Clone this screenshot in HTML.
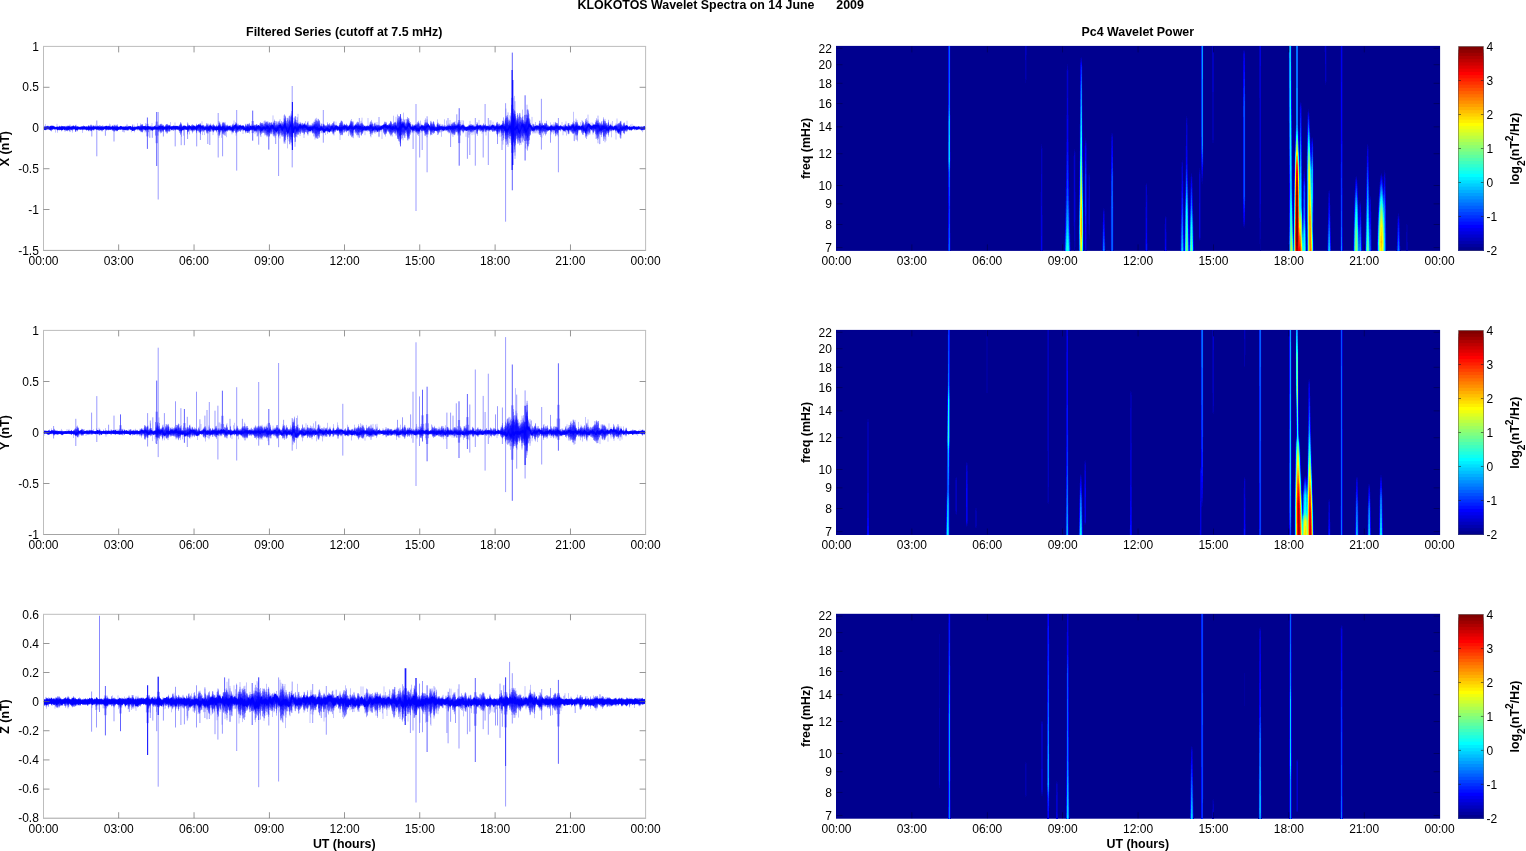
<!DOCTYPE html>
<html><head><meta charset="utf-8"><title>KLOKOTOS Wavelet Spectra</title>
<style>html,body{margin:0;padding:0;background:#fff;overflow:hidden}svg{display:block;will-change:transform}</style></head>
<body>
<svg width="1526" height="851" viewBox="0 0 1526 851" font-family="Liberation Sans, sans-serif" fill="#000">
<rect width="1526" height="851" fill="#fff"/>
<text x="577.6" y="9.4" text-anchor="start" font-size="12.4" font-weight="bold" >KLOKOTOS Wavelet Spectra on 14 June</text>
<text x="836.3" y="9.4" text-anchor="start" font-size="12.4" font-weight="bold" >2009</text>
<text x="344.2" y="36.3" text-anchor="middle" font-size="12.4" font-weight="bold" >Filtered Series (cutoff at 7.5 mHz)</text>
<text x="1137.8" y="36.3" text-anchor="middle" font-size="12.4" font-weight="bold" >Pc4 Wavelet Power</text>
<g>
<path d="M45 125.8v2.2m.5-3.9v3.9m10 0v4.6m1.5-8.8v4.2m.5 0v4.7m7.5-4.7v4m.5-4v3m.5-5.3v2.3m6.5 0v4.6m3-4.6v4m1.5-4v3.3m.5-3.3v3.3m5-3.3v4.9m1-7.8v2.9m5 0v3.1m1.5-5.5v2.4m5.5-3.3v3.3m2-2.8v2.8m5.5-2.4v2.4m4-2.5v2.5m2-2.8v2.8m.5-4.4v4.4m1-3.5v3.5m3 0v3m4-6.8v3.8m5 0v3.9m1-3.9v4.2m1-4.2v4.4m2.5-8.5v4.1m4.5 0v4.3m2.5-7.7v3.4m.5 0v4.3m3-9v4.7m3-4.7v4.7m4.5 0v4.5m.5-9.4v4.9m6.5-4.9v4.9m8-3.7v3.7m6.5 0v3.9m4-9.8v5.9m4.5-5.5v5.5m6-5.4v5.4m.5 0v8.7m2-8.7v7.7m6-7.7v6.4m12.5-13v6.6m.5 0v7.1m2-7.1v7.1m8.5-7.1v7.1m5-7.1v7.3m1-7.3v9.8m2.5-9.8v9.8m3-9.8v7.6m1-7.6v8m1-8v9.2m5.5-9.2v6.4m2-13.9v7.5m1.5-5.9v5.9m.5 0v7.7m7-7.7v6m12-6v6.2m2-6.2v8.5m.5-8.5v8.4m.5-8.4v7.8m1-7.8v6.3m1.5-6.3v8.4m.5-8.4v9.1m3-15.9v6.8m4-6.7v6.7m5-12.6v12.6m12 0v14.6m.5-25.8v11.2m2 0v20.4m8.5-31.7v11.3m1.5-10.8v10.8m.5-14.2v14.2m6 0v10m1.5-16.9v6.9m8 0v8.4m.5-15.2v6.8m1 0v11.6m1.5-21.8v10.2m9 0v7.1m10.5-13.5v6.4m4 0v12m8.5-12v8.1m2.5-14.4v6.3m.5-9v9m1 0v9.5m.5-16.6v7.1m.5 0v10.2m4.5-10.2v9.3m4-19.6v10.3m3 0v7.2m3-17.2v10m3 0v9.4m.5-17.5v8.1m.5 0v7m5-13v6m2 0v9.2m3-9.2v11m3.5-11v8.6m4.5-8.6v5.9m.5-12.2v6.3m2 0v8.5m1-20.8v12.3m2.5-11.2v11.2m7.5-15.4v15.4m3-9.1v9.1m1 0v10.6m1-10.6v10.8m12-18.2v7.4m5-9.7v9.7m12-8.6v8.6m4 0v8.8m3-17.5v8.7m2-7.5v7.5m3.5-8v8m3 0v9m4.5-14.5v5.5m3-6.3v6.3m1.5-7.9v7.9m1.5-7.5v7.5m2.5 0v8.8m2.5-8.8v9.7m.5-9.7v6.9m1-14v7.1m.5 0v5.6m1.5-5.6v7.2m2-7.2v6.6m3.5-6.6v7.9m1.5-16v8.1m3 0v5.8m4-5.8v7.5m4-15.2v7.7m1-7.7v7.7m2-6.3v6.3m4-4.7v4.7m.5 0v8.5m2.5-8.5v8.9m1.5-8.9v8.5m.5-8.5v13.1m1-13.1v16.6m3-36v19.4m8.5-32.1v32.1m8-18.4v18.4m3 0v20.4m6.5-31.5v11.1m3.5-6v6m5 0v9m1.5-9v9.6m1.5-9.6v7.4m7-13v5.6m.5 0v6.5m2.5-6.5v6.3m.5-12v5.7m4 0v8.4m4-14.3v5.9m1 0v7.3m3-14v6.7m.5 0v7.6m2-7.6v6.3m5-22.5v16.2m.5 0v13m.5-13v13.2m3-13.2v13.4m3-19.2v5.8m1.5-7.9v7.9m6-13.4v13.4m4-5.7v5.7m7.5 0v16.2m.5-16.2v15.9m6-15.9v12.8m5-18.2v5.4m.5 0v9.3m1-16.3v7m3.5 0v11.6m1-21.1v9.5m3.5-6.8v6.8m6.5-7.3v7.3m3.5-3.4v3.4m1.5-4.2v4.2m10.5 0v4.2" stroke="#0000ff" stroke-opacity="0.4" stroke-width="0.6" fill="none"/>
<path d="M44 125.9v4m.5-3.5v3.4m.5-3.3v2.9m.5-2.8v2.8m.5-3.3v4m.5-3.5v3m.5-2.8v2.4m.5-2.4v2.4m.5-2.4v2.4m.5-2.4v2.4m.5-2.4v2.4m.5-2.7v3.3m.5-3.7v4m.5-4.4v4.9m.5-4.9v5.3m.5-5.8v6.2m.5-5.5v4.2m.5-3.7v3.6m.5-3.6v3.2m.5-2.8v2.4m.5-2.4v2.4m.5-2.5v2.9m.5-2.8v2.4m.5-2.4v2.4m.5-2.4v2.6m.5-2.6v2.4m.5-2.4v2.6m.5-2.7v2.5m.5-2.7v3m.5-2.7v2.4m.5-3v3.8m.5-4.3v4.8m.5-4.1v3.7m.5-3.8v3.2m.5-3.3v3.9m.5-4.5v5.7m.5-5v3.7m.5-3.4v3.2m.5-3v2.4m.5-2.4v2.4m.5-3v3.7m.5-3.7v3.7m.5-3.6v4.2m.5-4.2v3.8m.5-3.9v3.5m.5-3.6v4.7m.5-4.6v4.1m.5-4.6v5.6m.5-5.6v4.4m.5-4.3v4.4m.5-4.5v4.9m.5-4.8v5m.5-6.3v7.6m.5-5.7v3.6m.5-3.2v2.5m.5-2.9v3.3m.5-4v5.2m.5-5.2v4.7m.5-3.6v2.4m.5-2.7v3.4m.5-3.1v2.4m.5-2.7v3m.5-3.8v4.3m.5-4.9v6.8m.5-7.3v6.9m.5-5.2v3.6m.5-3.6v3.8m.5-3.9v4.4m.5-4.2v3.3m.5-2.9v2.6m.5-2.6v2.4m.5-2.4v2.4m.5-2.4v2.9m.5-2.9v2.4m.5-2.9v3.3m.5-2.8v2.4m.5-2.5v2.8m.5-3.1v3.7m.5-3.9v4.1m.5-3.6v2.6m.5-2.6v3.3m.5-3.2v2.4m.5-2.4v2.4m.5-2.4v2.4m.5-2.8v2.9m.5-2.7v2.9m.5-3.5v4.4m.5-4v3.4m.5-3.2v3.1m.5-4.5v5.6m.5-5.3v5.8m.5-4.8v3.8m.5-3.8v3.4m.5-4.6v5.7m.5-6.7v7m.5-6v5.8m.5-5.5v4.6m.5-3.9v3.5m.5-4.5v5m.5-4.8v5.1m.5-5.3v5.1m.5-3.6v2.4m.5-2.4v2.4m.5-2.4v2.5m.5-2.5v2.4m.5-2.4v2.6m.5-2.6v2.4m.5-3v3.8m.5-3.7v3.4m.5-4v4.9m.5-4.1v3.6m.5-4.7v5.6m.5-5.9v5.4m.5-4.2v4m.5-3.8v3m.5-3.6v5.4m.5-5.3v4.7m.5-5.4v6.1m.5-4.9v3.3m.5-3.4v3.5m.5-3.1v2.4m.5-2.4v2.4m.5-2.6v2.8m.5-2.8v3m.5-3.6v4m.5-4.2v4.9m.5-4.5v4.1m.5-3.5v2.7m.5-3.2v3.2m.5-3.5v4.3m.5-4.5v4.3m.5-3.4v3m.5-2.9v2.5m.5-2.7v3m.5-2.8v2.4m.5-2.4v2.6m.5-3.7v4.6m.5-5.2v5.7m.5-4.8v4.7m.5-4.3v3.8m.5-5.6v7.3m.5-7v6.6m.5-5.4v3.7m.5-5v6.3m.5-4.9v4.1m.5-5.5v6.3m.5-5.6v5.9m.5-5.8v5.2m.5-4v2.4m.5-2.4v3m.5-3.5v3.4m.5-2.9v2.4m.5-2.4v2.4m.5-2.9v3.3m.5-2.8v2.4m.5-2.4v2.4m.5-2.4v2.4m.5-2.6v3.5m.5-3.7v3.7m.5-4v4.3m.5-3.6v2.6m.5-2.9v3.3m.5-3v2.4m.5-3.3v4.6m.5-4.5v4.1m.5-3.5v3m.5-4.3v5.6m.5-4.4v3.1m.5-2.8v2.6m.5-3.4v4.5m.5-4.6v4.2m.5-3.3v2.4m.5-2.8v3.7m.5-3.5v3.5m.5-3.3v2.4m.5-2.4v2.6m.5-3.4v4.1m.5-5.7v6.6m.5-4.5v3m.5-2.7v2.4m.5-2.4v2.4m.5-2.5v2.7m.5-3.2v3.5m.5-3.1v3.2m.5-3v2.4m.5-2.4v2.4m.5-2.6v3.2m.5-3.9v4.5m.5-3.6v2.4m.5-2.5v2.8m.5-3.2v4.1m.5-4.4v4.5m.5-5.2v5.8m.5-5.7v5.8m.5-6.7v7.7m.5-7.5v7m.5-7.6v8.2m.5-8.1v8.2m.5-6.8v5.5m.5-4.3v2.5m.5-3v3.6m.5-3.9v3.7m.5-3.9v4.7m.5-5.1v5.6m.5-4.8v4.4m.5-3.8v2.4m.5-3.4v4.7m.5-4v3.6m.5-4.2v4.4m.5-3.5v2.4m.5-3.1v3.8m.5-3.9v3.7m.5-2.9v2.4m.5-3.1v4.2m.5-4.9v5.7m.5-4.3v2.4m.5-2.8v3.8m.5-4v4m.5-3.8v3.6m.5-3.4v2.6m.5-2.4v2.4m.5-2.9v3.2m.5-3.3v3.6m.5-3.1v2.8m.5-2.9v3.4m.5-3.3v2.7m.5-3v3.5m.5-3.1v2.5m.5-3.3v4.4m.5-5.6v7.1m.5-5.6v3.4m.5-4.4v5.6m.5-6.3v8m.5-8.8v9.6m.5-8.7v7.2m.5-8.2v9.3m.5-8.6v7.8m.5-7.6v7m.5-6.3v5.7m.5-6.1v6.8m.5-4.9v2.4m.5-2.4v2.4m.5-2.9v3.8m.5-4.9v6.5m.5-7.2v8m.5-8.4v7.2m.5-7.2v9.9m.5-10.1v8.9m.5-7.7v6.7m.5-6.2v5.3m.5-6.3v7.3m.5-6.6v6.3m.5-6.6v6.4m.5-4.6v2.6m.5-2.9v3m.5-3.4v4.2m.5-4.2v4.2m.5-4.1v3.9m.5-4.4v4.8m.5-4.6v4.9m.5-4v2.6m.5-3.6v4.4m.5-4.4v4.2m.5-4v4.5m.5-4.1v3.1m.5-3.2v3.3m.5-2.8v2.6m.5-3.5v4.1m.5-3.5v3.3m.5-3.4v3.6m.5-4.5v5.6m.5-6.4v8.2m.5-8.5v6.8m.5-9.1v12.8m.5-11.6v10.3m.5-9.7v8.7m.5-7.5v5.4m.5-4.2v3.6m.5-3.4v3.3m.5-4.1v4.8m.5-4.8v4.7m.5-3.6v2.4m.5-2.6v3.5m.5-4v3.9m.5-3.6v2.9m.5-2.7v3.4m.5-4v4m.5-7.6v11.9m.5-10.9v8.8m.5-7.5v7.3m.5-5.8v4.6m.5-5.1v4.7m.5-3.6v2.4m.5-3v4.6m.5-4.6v3.5m.5-4.6v5.8m.5-6.4v7.2m.5-7.4v9m.5-8.4v6.9m.5-6.8v5.6m.5-5.2v5.9m.5-5.5v4.9m.5-4v3.2m.5-3.6v3.5m.5-4.4v5.9m.5-7.6v9.5m.5-8.1v5.8m.5-5.2v5.4m.5-5.7v5.3m.5-6.1v6.8m.5-7.3v8.4m.5-8.5v8.4m.5-9.2v9.7m.5-9.6v10.8m.5-8.8v6.6m.5-6.6v6.1m.5-6.3v5.5m.5-5.2v5.5m.5-5.9v6.7m.5-6.8v7.3m.5-6.4v4.6m.5-4.1v3.9m.5-4.8v5.8m.5-5.4v4.2m.5-3.7v3.9m.5-6.9v10.1m.5-9.9v9.4m.5-8.1v7.4m.5-8.7v10.3m.5-8v4.9m.5-5.3v6.5m.5-7.4v7.7m.5-7v6.2m.5-7.9v8.2m.5-7.2v7.2m.5-6.1v4.6m.5-3.4v2.8m.5-4.5v5.7m.5-6.6v7.9m.5-8.4v8.6m.5-7.2v6.2m.5-6.1v5.5m.5-3.9v2.8m.5-3.7v4.2m.5-3.4v2.6m.5-4.7v7.9m.5-6.7v4.3m.5-3.4v2.9m.5-4v4.5m.5-5v6.8m.5-10.9v14.9m.5-13.4v13.1m.5-13.2v12.3m.5-10.4v7.8m.5-5.5v3.1m.5-3.8v4.4m.5-6.4v7.9m.5-9.1v11.2m.5-12v12.3m.5-11.8v12m.5-11.9v12.2m.5-11.5v9.4m.5-10.7v12.8m.5-10.1v7.5m.5-6.6v5.6m.5-5.7v5.2m.5-5.9v7m.5-7v6.8m.5-5.4v4.8m.5-4.4v3.4m.5-4.5v5.4m.5-4.9v4.2m.5-4.1v5.1m.5-6.1v6.2m.5-4.7v3.2m.5-2.9v3m.5-4.6v7.3m.5-8.7v8.4m.5-7.5v8.4m.5-9.5v8.9m.5-6.8v5.4m.5-5.8v5.7m.5-4.2v2.9m.5-5.9v9.1m.5-10.2v9.9m.5-9.7v10.7m.5-9.6v8.8m.5-7.8v6.7m.5-8.1v8.5m.5-7.5v6.9m.5-5.9v4.8m.5-4.6v5.3m.5-6.2v6.5m.5-6.9v7.3m.5-5.9v4.3m.5-4.1v4.4m.5-4.5v4.3m.5-3.5v2.6m.5-3.8v5.5m.5-5.7v5.4m.5-4.6v3.9m.5-3.3v2.6m.5-3.5v4.8m.5-6.9v9.5m.5-8.4v7.3m.5-6.6v5.2m.5-7v9.1m.5-8.9v9m.5-9.3v9m.5-8.9v9.1m.5-8.4v7.3m.5-8.9v10.6m.5-8.8v6.2m.5-5v4.2m.5-3.7v3.2m.5-2.8v2.8m.5-2.9v3.2m.5-3.7v3.5m.5-4.5v5.7m.5-4.2v3.2m.5-5.1v7.4m.5-7.2v6.5m.5-6.2v6.3m.5-6.6v6.1m.5-6.7v8.3m.5-8.5v8.2m.5-8.3v7.4m.5-5.1v3.6m.5-4.9v7.1m.5-7v5.3m.5-4.3v3.7m.5-4.5v6m.5-8.2v9.8m.5-11v12.9m.5-11.6v10m.5-10.4v10.9m.5-10.6v10.2m.5-10.6v10m.5-9.9v9.6m.5-8.4v8.8m.5-6.3v2.8m.5-5.4v9.3m.5-12.9v15.2m.5-12.9v10.5m.5-11.5v13.3m.5-13v13.6m.5-14.5v16.1m.5-14.7v13.3m.5-13.3v12.6m.5-11.3v9.8m.5-10.9v10.4m.5-11.1v13.8m.5-12.8v11.6m.5-11.5v10.6m.5-11.8v12.2m.5-11.8v11.9m.5-10v9.2m.5-7.3v4m.5-7.6v12.9m.5-13.7v14.7m.5-13.5v12.5m.5-15.8v16.7m.5-15.2v16.6m.5-12.4v5.2m.5-9.4v14.9m.5-11.7v8.3m.5-11.4v14m.5-11.1v9.3m.5-9.9v10.4m.5-12.7v16.1m.5-15.1v11.9m.5-13.2v14.8m.5-16.4v19.2m.5-15.4v10.1m.5-8v6.3m.5-10.5v15.5m.5-14.8v13.1m.5-12.3v14.1m.5-14v14m.5-15v14.8m.5-21v28.1m.5-29.2v27.3m.5-26.3v28.6m.5-27.7v23.9m.5-22.2v19.6m.5-16.7v14.6m.5-11.6v8.9m.5-14.9v21.4m.5-21.2v19.1m.5-15.3v13.7m.5-19.1v24.8m.5-25.3v28.2m.5-28.7v29m.5-27.2v22.3m.5-26v29.5m.5-31.9v31.2m.5-27.3v30.5m.5-26.1v20.4m.5-18.5v12.1m.5-9.3v9.2m.5-8.9v8.2m.5-15v20.3m.5-21.6v30.5m.5-30.7v25.6m.5-21.7v15.5m.5-13.6v14.8m.5-16.7v17.4m.5-14.4v12m.5-12.4v11.3m.5-11.1v12.2m.5-11v8m.5-7.3v7.7m.5-10.6v14.1m.5-13.3v11.2m.5-7.7v4.5m.5-5.8v7.1m.5-9.2v10.3m.5-9.9v9.7m.5-7.7v6.2m.5-6.9v8.6m.5-9.9v11.5m.5-11.8v11.4m.5-9.6v7.7m.5-8v7.7m.5-7.7v8m.5-8.5v8.9m.5-6.6v3.9m.5-7.7v12m.5-13.2v14.5m.5-11.1v7.6m.5-5.4v3m.5-4.7v6.8m.5-7.4v8.4m.5-7.8v6.3m.5-5.4v4.2m.5-5v5.8m.5-7.5v9.1m.5-8.3v9.5m.5-11v10.3m.5-8.7v8.8m.5-10.8v11.3m.5-11.5v11.8m.5-14.2v16.8m.5-17.9v19.1m.5-17.2v17.9m.5-17.7v17.6m.5-18.6v18.1m.5-16.8v17.9m.5-20.2v19.9m.5-19.6v17m.5-15v16.7m.5-17.6v17.3m.5-14.8v10.7m.5-7.6v4.9m.5-5.3v5.9m.5-7.8v9.7m.5-7v3.5m.5-3.5v4.4m.5-6.9v9.7m.5-9.1v8.3m.5-8.6v8.3m.5-7.4v7.5m.5-7.1v6m.5-5.5v4.9m.5-5.4v6.3m.5-6.2v4.9m.5-3.6v3.1m.5-7.4v11.6m.5-9.3v6.7m.5-7.1v7.9m.5-8v8.4m.5-9.5v9.4m.5-6.9v6.2m.5-6.3v5.5m.5-6.7v7.7m.5-7.1v6.8m.5-7.3v7.6m.5-8.8v10.3m.5-10.4v11.3m.5-11.9v11.8m.5-13.1v14.4m.5-11.2v7.6m.5-7.2v7m.5-6.9v7.3m.5-5.8v3.4m.5-3.3v3.5m.5-5.1v6.2m.5-4.8v4.2m.5-4.3v4.2m.5-3.9v3.5m.5-4.7v6m.5-8.2v10.5m.5-10v9.8m.5-11.4v13.3m.5-14.5v14.5m.5-14.6v14.2m.5-13.8v14m.5-13.3v13.6m.5-10.5v7.3m.5-6.1v4.2m.5-6.6v9.4m.5-8.9v7.8m.5-7.2v6.2m.5-5.1v5.5m.5-6.6v7m.5-8.1v8.8m.5-7.1v6m.5-6.5v6.4m.5-4.5v3m.5-4.1v5.4m.5-5.7v5.1m.5-5.8v7m.5-8.8v11.7m.5-14v14.9m.5-14.2v14.5m.5-14.5v15.6m.5-15.3v15.9m.5-15.7v14.2m.5-14v14.5m.5-11v6.1m.5-5.2v3.7m.5-4v4m.5-5.4v8.3m.5-8.9v9.6m.5-9.9v8.6m.5-9.6v12.5m.5-12.7v11.1m.5-12v13.1m.5-12.7v13.6m.5-13.4v12.9m.5-11.5v9.1m.5-8.3v8.4m.5-7.7v6.4m.5-8v8.8m.5-11.5v14.4m.5-12.3v12.8m.5-12.5v10.6m.5-11.1v11.2m.5-9.9v8.6m.5-7.8v6.6m.5-5.1v4.1m.5-4.8v5.3m.5-5.4v5.7m.5-4.6v3.4m.5-4.2v4.8m.5-4.8v4.7m.5-4.9v6m.5-6.3v6m.5-5.3v4.5m.5-4.5v4.1m.5-4.9v6.3m.5-6.9v6.7m.5-8.8v11.6m.5-12.5v14.6m.5-14.8v12.4m.5-9.2v8.4m.5-11.1v12.4m.5-10.9v9.8m.5-9.3v9.1m.5-7.3v5.8m.5-5.5v4.1m.5-6.7v9.2m.5-10.2v11.3m.5-9.3v7.5m.5-5.8v4.1m.5-5.8v8.1m.5-7.5v6.8m.5-6.8v6.7m.5-7.4v7.7m.5-6.9v6.4m.5-6.6v6.8m.5-6.7v6.8m.5-6v4.5m.5-4.7v4.6m.5-5.1v6.7m.5-5.9v4.1m.5-3.7v3.7m.5-3.2v2.4m.5-2.4v2.5m.5-5.6v9.6m.5-9.1v8.5m.5-11v12.7m.5-12.6v13.3m.5-12.8v11.5m.5-12v11.8m.5-11v11.2m.5-8.7v6.8m.5-5.8v4.6m.5-6.2v7.1m.5-7.1v7.3m.5-8v8.8m.5-9.4v10.4m.5-10.5v11.5m.5-13.7v14.6m.5-14.5v15.4m.5-14.3v13.1m.5-11.3v9.9m.5-9.8v9.2m.5-8.7v7.8m.5-9.2v9.5m.5-9.3v9.4m.5-10.4v11.2m.5-11.8v12.1m.5-11.7v11.3m.5-10.5v12.9m.5-11v6.3m.5-9.6v13.9m.5-20.9v24.5m.5-19.2v19.2m.5-23v24.7m.5-24.1v24.8m.5-25.3v25.5m.5-24.2v27m.5-29v27.7m.5-25.6v20.5m.5-19.3v20.6m.5-16.7v10m.5-11.7v17.3m.5-19.3v21.4m.5-18.7v13.8m.5-13.1v12.3m.5-14.6v17.8m.5-18.8v18.8m.5-14.3v9.4m.5-6.8v3.6m.5-7.4v11.3m.5-14.1v16.4m.5-18.9v23.2m.5-21.6v22m.5-22.5v20.3m.5-19.8v20.9m.5-18.3v17.3m.5-14.7v9.7m.5-11.5v12.7m.5-7.9v3m.5-3.4v3.8m.5-6.3v9.2m.5-8.6v7.9m.5-7.2v6.7m.5-6v4.5m.5-5.9v8.8m.5-8v5.6m.5-5.8v6.6m.5-7.6v7.5m.5-7.6v8.5m.5-8.3v8.4m.5-9.8v10.6m.5-11.5v13m.5-11.6v9.6m.5-12.1v15.1m.5-13.5v11.4m.5-9.8v8.2m.5-5.9v3.9m.5-3.8v3m.5-5.7v9.1m.5-7.7v6m.5-6.7v7.2m.5-6.3v5.9m.5-6.2v6m.5-5.4v4.9m.5-5.2v6.2m.5-8.1v9.3m.5-12.8v16.2m.5-13.4v12.9m.5-13.5v12m.5-11.3v12.1m.5-15.5v17.9m.5-14.7v10.9m.5-9.9v11.2m.5-8.9v4.4m.5-4.7v5m.5-5.5v6.2m.5-5.4v4.5m.5-9v14m.5-14.6v14.2m.5-13.1v12.5m.5-10.8v11.5m.5-11.5v9.2m.5-10.7v11m.5-12.1v12.9m.5-11.5v10.9m.5-9.4v9m.5-7.5v5.5m.5-4.4v3.3m.5-3v2.6m.5-2.6v3.1m.5-5.7v7.3m.5-8.9v12.4m.5-12.3v10.3m.5-9.6v11.1m.5-9.5v6.5m.5-7.3v8.1m.5-8.6v8.9m.5-6.2v3.1m.5-3.4v4.1m.5-3.4v2.4m.5-5v7.6m.5-5.8v3.9m.5-5.3v7m.5-5.6v4.8m.5-4.1v2.7m.5-3.8v5m.5-5.5v5.9m.5-4.4v3.1m.5-3.8v5.3m.5-5v3.6m.5-3.1v2.7m.5-4.1v6.3m.5-7.2v7.9m.5-6.7v6.2m.5-8.4v10m.5-9v8.3m.5-6.4v3.4m.5-4v4.8m.5-6.7v8.7m.5-8.4v9.2m.5-10.8v12.8m.5-12.5v11.2m.5-9.7v9.3m.5-11.4v12.2m.5-12.2v12.8m.5-13v13.2m.5-13.9v13.4m.5-10.5v8.2m.5-7.7v7.3m.5-7.3v7.5m.5-7.9v8.2m.5-7.2v6.5m.5-8.5v10.4m.5-11.1v10.5m.5-11.1v12.5m.5-10.4v8.2m.5-7.7v7.6m.5-6v3.9m.5-4.6v5.3m.5-4.3v3.6m.5-5.7v7m.5-6.5v6.5m.5-7.9v9.9m.5-8.8v8m.5-7.8v6.7m.5-5.8v4.7m.5-3.9v3m.5-2.9v2.6m.5-2.6v2.8m.5-2.6v2.5m.5-2.8v3.4m.5-3.7v4.1m.5-3.7v2.9m.5-4v6.1m.5-7.1v7m.5-6.4v5.4m.5-5.7v6.8m.5-7.2v7.5m.5-7.7v7.8m.5-7.5v7.9m.5-8v8.5m.5-8v7m.5-6.2v4.8m.5-5.7v6.8m.5-6.9v7.7m.5-5.7v3.1m.5-3.5v3.5m.5-3v2.4m.5-2.4v2.4m.5-5.2v9.7m.5-11.6v12.2m.5-11.4v11m.5-8.7v5.8m.5-5v3.9m.5-3.1v2.4m.5-3.5v5.5m.5-4.6v3.4m.5-4.4v5.9m.5-7v6.9m.5-5.7v5.1m.5-5.7v5.8m.5-5.8v7.1m.5-7.4v6.4m.5-7.9v8.5m.5-7v7.5m.5-5.8v3.1m.5-4.7v6.4m.5-7.3v7.8m.5-6.8v7.3m.5-6.4v4.7m.5-4.8v5.3m.5-5.3v4.3m.5-4.6v5.3m.5-5v5.1m.5-4.6v3.4m.5-5v6.6m.5-6.8v7m.5-4.7v2.4m.5-2.4v2.4m.5-3.6v5m.5-5.3v5.5m.5-6.2v7.2m.5-6.8v7m.5-7.2v6.4m.5-6.3v6.5m.5-6.8v7.1m.5-5.5v4.4m.5-5.4v6m.5-5.6v5.5m.5-8.3v11m.5-11.6v12.2m.5-12.5v12.8m.5-10.9v10.4m.5-9.6v7.6m.5-8.8v10.4m.5-9.9v8.5m.5-6.5v4.8m.5-5.4v5.2m.5-6.1v8.7m.5-8.9v9.3m.5-8.1v5.6m.5-10.3v14.8m.5-14.6v14.2m.5-17.7v22.8m.5-17v9.1m.5-8.3v8.6m.5-13v19.1m.5-20.2v20.5m.5-22.6v25.7m.5-26.4v29.3m.5-27.6v23.3m.5-25.7v28.8m.5-31.4v34.5m.5-26.7v17.3m.5-13.1v8.2m.5-13.1v19m.5-23.3v27.7m.5-21v14.1m.5-12.6v9.2m.5-10.6v12.3m.5-18.6v23.4m.5-16.8v13.3m.5-18.4v22.7m.5-23.6v25.6m.5-31.2v41.8m.5-42.1v39.1m.5-48.3v57.7m.5-44.9v31.3m.5-29.5v24.7m.5-21.1v19.4m.5-20.8v20.7m.5-25.7v30.7m.5-29.2v25.5m.5-23.3v26.8m.5-26.1v24.3m.5-28.6v32.2m.5-32.4v30.2m.5-26.3v26.2m.5-25.7v27.5m.5-26.9v18.8m.5-17.5v19.1m.5-21.5v24.7m.5-25.1v26.3m.5-22.7v19.8m.5-16.5v10.3m.5-11.9v13.7m.5-11.8v10.5m.5-12.3v14.5m.5-16v18.2m.5-24v29.4m.5-39.2v44.8m.5-40.1v41.3m.5-41.4v38m.5-36.8v35.6m.5-31.9v29.8m.5-25.5v21.4m.5-20.2v16.1m.5-12.7v11.9m.5-10v6.2m.5-5.9v6.3m.5-5.6v4.6m.5-3.9v2.7m.5-5.7v9.9m.5-9.7v8m.5-5.7v3.5m.5-4v5.8m.5-7.4v9.4m.5-7.2v3.8m.5-3.7v3.4m.5-4.6v6m.5-6.5v8.6m.5-7.2v4.1m.5-4.5v4.6m.5-4.2v4.6m.5-7.2v10.8m.5-13.4v14m.5-14.3v14.5m.5-12.3v12.1m.5-10.8v7.2m.5-5.9v6.4m.5-8.5v9.8m.5-10.4v10.7m.5-8.1v6.8m.5-7v6m.5-6.1v6.9m.5-8.9v10.8m.5-10.7v9.5m.5-9.7v12.6m.5-11.3v7.4m.5-10.8v13.3m.5-10.1v7.9m.5-6.9v6.6m.5-5.5v3.9m.5-4.6v4.8m.5-4v4m.5-4v3.9m.5-3.3v2.9m.5-4.5v5.7m.5-5.7v6.4m.5-7v7.3m.5-7.3v8.3m.5-7v4.3m.5-6v7.5m.5-5.3v3.2m.5-4.7v6.4m.5-5.2v4.5m.5-6.5v9.6m.5-11.8v14.4m.5-13.3v12.8m.5-13v11m.5-10.5v10.9m.5-11.1v11.7m.5-10.9v9.1m.5-6.5v3.8m.5-4.9v5m.5-4.5v4.4m.5-3.9v3.7m.5-5.2v6.5m.5-6.1v5.1m.5-3.6v2.4m.5-2.8v3.2m.5-3.4v3.3m.5-2.7v2.4m.5-3.8v5.4m.5-5.7v6.9m.5-5.7v3.4m.5-6v8.6m.5-7.9v7.8m.5-6.9v5.2m.5-3.7v2.4m.5-2.8v3.5m.5-4v5m.5-7.5v10.4m.5-10.8v10.5m.5-10.5v11.1m.5-8.2v3.9m.5-5v6.4m.5-5.3v4.6m.5-6.1v7.6m.5-7.4v7.1m.5-7.7v9.1m.5-10.7v11.3m.5-10.1v10.1m.5-11v11.2m.5-13v12.8m.5-10v9.1m.5-8.2v7.6m.5-10.3v13.3m.5-16.6v21m.5-18v12.9m.5-14.3v19.9m.5-18.1v13.1m.5-11v9.3m.5-7.2v4.2m.5-4.3v4.3m.5-4.5v4.6m.5-4.8v4.3m.5-3.9v4.5m.5-4v3m.5-4.8v8.3m.5-7.7v5.6m.5-9.9v13.9m.5-11.9v10.1m.5-11.4v13.1m.5-11v8.9m.5-8.3v7.7m.5-8.9v9.3m.5-13.5v18.6m.5-15.4v12.1m.5-16.2v20.8m.5-18.8v16.4m.5-12v8.8m.5-12.1v14.2m.5-12.4v9.1m.5-8.5v11m.5-10.5v8.6m.5-10.1v11.7m.5-7.9v3.1m.5-4v5m.5-5.2v5.1m.5-3.9v3.3m.5-4.6v5.6m.5-7.7v11.3m.5-10.3v8.7m.5-8.1v7.6m.5-7.1v5.9m.5-4.9v3.5m.5-7.7v11.7m.5-13.7v18.9m.5-20.7v20.2m.5-17.9v13.7m.5-13.7v19.1m.5-24.1v27.7m.5-22.7v18.2m.5-15.9v10.6m.5-11.4v12.2m.5-10.7v8.6m.5-9.5v12.3m.5-11.4v10.4m.5-12.8v15.9m.5-13.3v9m.5-8.7v8.5m.5-11.7v13.8m.5-17.3v23.6m.5-20.7v18.3m.5-17.8v15.5m.5-17.4v23.4m.5-21v15.6m.5-13.5v10.4m.5-10.9v11.8m.5-9.2v6m.5-6.8v8.5m.5-10.5v11.9m.5-14.8v16.8m.5-12.2v8.3m.5-6.4v4m.5-5.7v7.6m.5-6.7v5.4m.5-5.3v5.4m.5-5.3v5.2m.5-5.4v5.8m.5-5.1v3.6m.5-4.2v5.3m.5-4.7v3.9m.5-3.3v2.4m.5-3.1v4m.5-4.9v5.4m.5-5.6v6.4m.5-8v9.5m.5-8.3v6.5m.5-4.9v3.6m.5-5.9v8.8m.5-9v9.9m.5-10.3v10.6m.5-10.9v11.1m.5-11.1v10.9m.5-12.2v15.8m.5-16.2v17.3m.5-17.8v17.6m.5-13.9v6.7m.5-6.9v8.2m.5-6.8v4.7m.5-4.8v4.8m.5-7.6v10.5m.5-10v9.8m.5-10.7v11.8m.5-8.8v5.5m.5-6.1v6.8m.5-5.7v4.4m.5-5.3v6.7m.5-6.5v6.4m.5-5.7v4.6m.5-3.7v2.4m.5-2.6v3m.5-2.8v2.4m.5-3.3v4.5m.5-4v3.4m.5-3v2.4m.5-2.4v2.8m.5-3.4v3.8m.5-3.9v3.6m.5-2.9v2.4m.5-2.4v2.4m.5-2.4v2.4m.5-2.8v3.3m.5-3.5v4m.5-3.7v3m.5-2.7v2.4m.5-3.3v4.5m.5-3.8v3.1m.5-2.9v3m.5-3.2v2.6m.5-2.5v2.5m.5-2.4v2.4m.5-2.5v2.9m.5-2.8v2.8m.5-2.8v2.4m.5-2.4v2.5m.5-3.3v4.1m.5-3.6v2.9m.5-2.6v2.4m.5-2.4v2.4m.5-3.2v4.7m.5-4.5v3.5m.5-3.2v3.1m.5-3.7v3.9m.5-3.1v3.1" stroke="#0000ff" stroke-opacity="0.6" stroke-width="0.5" fill="none"/>
<path d="M44 126.5v3m.5-2.7v2.4m.5-2.5v2.6m.5-2.3v2.1m.5-2.7v3.4m.5-3.1v2.7m.5-2.4v2.1m.5-2.1v2m.5-2v2m.5-2v2m.5-2v2m.5-2v2.2m.5-2.7v2.7m.5-2.9v4m.5-3.9v3.8m.5-4.1v4.2m.5-4.1v3.4m.5-2.8v2.7m.5-2.7v2.5m.5-2.3v2m.5-2v2m.5-2.1v2.3m.5-2.2v2.1m.5-2.1v2.1m.5-2.1v2m.5-2.1v2.1m.5-2v2.2m.5-2.3v2.1m.5-2.3v2.3m.5-2v2m.5-2.1v2.6m.5-3.3v3.6m.5-2.9v2.5m.5-2.7v2.4m.5-2.6v2.9m.5-3.2v4.4m.5-4.1v3.1m.5-2.6v2.1m.5-2.1v2m.5-2v2m.5-2.4v2.8m.5-2.9v2.8m.5-2.4v2.8m.5-2.7v2.4m.5-2.9v2.8m.5-2.5v3.5m.5-3.9v3m.5-3.4v4.6m.5-4.5v3.4m.5-2.8v3.1m.5-3.6v3.7m.5-3.4v3.9m.5-4.7v5.7m.5-4.8v3.2m.5-2.8v2m.5-2v2.5m.5-3.1v3.4m.5-3.7v3.4m.5-2.5v2m.5-2v2.5m.5-2.5v2m.5-2.3v2.7m.5-2.8v3.1m.5-3.8v4.6m.5-4.8v4.4m.5-3.5v2.8m.5-2.9v3.2m.5-2.9v3.5m.5-3.4v2.3m.5-2.2v2.2m.5-2.2v2m.5-2v2m.5-2v2.5m.5-2.5v2.1m.5-2.3v2.3m.5-2.1v2m.5-2v2.1m.5-2.5v2.9m.5-3.1v3.1m.5-2.5v2m.5-2v2.3m.5-2.4v2.1m.5-2v2m.5-2.1v2.1m.5-2.4v2.4m.5-2v2m.5-2.6v3.3m.5-3v2.5m.5-2.4v2.7m.5-3.8v4.6m.5-4.4v4.5m.5-3.7v3m.5-2.9v2.8m.5-3.3v4.1m.5-5.4v5m.5-3.8v4.6m.5-4.7v3.6m.5-2.7v2.5m.5-3.4v3.8m.5-3.9v3.7m.5-3.4v3.7m.5-3v2m.5-2.1v2.1m.5-2v2.2m.5-2.2v2m.5-2v2m.5-2v2.1m.5-2.3v2.5m.5-2.8v2.9m.5-3.2v4m.5-3.2v2.6m.5-3.4v3.7m.5-4.3v4.4m.5-3.1v2.6m.5-2.5v2.3m.5-3v4.1m.5-3.9v3.5m.5-3.8v4.2m.5-3.4v2.4m.5-2.6v2.8m.5-2.6v2m.5-2v2m.5-2.1v2.1m.5-2v2.1m.5-2.9v3.2m.5-3v3.4m.5-3v2.8m.5-2.6v2m.5-2.5v2.5m.5-2.6v3.1m.5-3v3m.5-2.5v2.1m.5-2.1v2.1m.5-2.1v2.4m.5-2.4v2m.5-2v2m.5-2.7v3.1m.5-3.5v3.9m.5-3.5v3.4m.5-3v3m.5-4.1v5.5m.5-5.6v5.3m.5-4.4v2.7m.5-3.1v4.2m.5-3.3v2.7m.5-3.9v4.8m.5-4.3v4.6m.5-4.7v3.8m.5-2.9v2m.5-2v2.4m.5-2.6v2.3m.5-2.1v2m.5-2v2m.5-2.3v2.7m.5-2.4v2m.5-2.1v2.1m.5-2v2m.5-2.2v2.6m.5-2.6v2.6m.5-2.6v3m.5-2.8v2.1m.5-2.3v2.6m.5-2.4v2m.5-2.5v3.2m.5-3.1v3m.5-2.9v2.7m.5-3.7v4.9m.5-3.6v2.3m.5-2.3v2m.5-2.7v3.9m.5-3.5v2.9m.5-2.7v2.1m.5-2.4v2.7m.5-2.3v2.7m.5-2.7v2.1m.5-2.1v2.1m.5-2.8v3.4m.5-4.2v4.9m.5-3.4v2.3m.5-2.3v2.1m.5-2.2v2.1m.5-2v2.1m.5-2.6v3m.5-2.5v2.2m.5-2.2v2m.5-2v2m.5-2v2.5m.5-3.1v3.6m.5-3v2.1m.5-2.1v2m.5-2.3v3.1m.5-3.4v3.2m.5-3.5v4m.5-3.7v3.9m.5-4.6v5.8m.5-6.4v6.2m.5-6.7v7.1m.5-6.8v7m.5-5.6v4.4m.5-3.7v2m.5-2.5v2.9m.5-2.7v2.3m.5-2.7v3.6m.5-3.6v3.6m.5-3.3v2.9m.5-2.5v2m.5-2.6v3.7m.5-3.3v3.1m.5-3.5v3.1m.5-2.5v2m.5-2.3v2.8m.5-2.8v2.7m.5-2.4v2m.5-2.5v3m.5-3.5v4.3m.5-3.3v2m.5-2.1v3m.5-3v2.5m.5-2.4v2.3m.5-2.5v2.3m.5-2.1v2m.5-2.3v2.3m.5-2.4v2.8m.5-2.4v2.1m.5-2.1v2.4m.5-2.4v2m.5-2.2v2.9m.5-2.7v2.1m.5-2.8v3.7m.5-4.1v4.8m.5-3.9v2.7m.5-3.3v4m.5-4.6v6.3m.5-7.6v7.1m.5-5.5v4.7m.5-6.2v7m.5-5.8v5m.5-4.7v4.7m.5-5v4.6m.5-4.6v5.6m.5-4.2v2m.5-2v2m.5-2.1v2.7m.5-3.5v4.9m.5-6.1v6.5m.5-6.9v6.4m.5-5.7v7.8m.5-8.3v6.4m.5-5.3v5m.5-4.6v4.3m.5-5.5v6.3m.5-5.7v5.2m.5-5v5.2m.5-4v2.1m.5-2.1v2.1m.5-2.7v3.5m.5-3.6v3.7m.5-3.3v3m.5-3.6v4m.5-4v4.1m.5-3.2v2m.5-2.6v3.4m.5-3.4v3m.5-3v3.1m.5-2.7v2.2m.5-2.4v2.6m.5-2.2v2.1m.5-2.6v3.2m.5-2.8v2.6m.5-2.9v3.2m.5-3.5v4.3m.5-5.1v5.9m.5-6.5v5.7m.5-7.1v10m.5-9.4v7.7m.5-6.8v6.4m.5-5.4v4.2m.5-3.7v2.8m.5-2.5v2.5m.5-3v3.7m.5-3.8v3.5m.5-2.7v2m.5-2.1v2.4m.5-2.9v3.2m.5-2.6v2m.5-2.2v2.6m.5-3.1v3m.5-5v7.8m.5-7v6m.5-5.3v5.1m.5-4.3v3.3m.5-3.9v4m.5-3v2m.5-2.5v3.8m.5-3.8v3m.5-3.5v3.9m.5-4.8v5.9m.5-5.4v5.8m.5-5.8v5.6m.5-5.8v4.4m.5-4v4.3m.5-4v4.3m.5-3.4v2.2m.5-2.6v2.6m.5-3.5v4.5m.5-5.6v7.6m.5-6.5v4.2m.5-3.8v4.1m.5-3.7v3.1m.5-3.7v4.8m.5-5.7v6.1m.5-5.8v6.3m.5-7.3v7.6m.5-7.8v8.4m.5-6.3v5.1m.5-5.4v4.6m.5-4.8v3.9m.5-3.8v4.3m.5-4.8v5.2m.5-5v5.5m.5-4.4v3.2m.5-3.1v3.2m.5-3.9v4.2m.5-3.7v3.2m.5-2.8v2.5m.5-4.2v6.4m.5-6.9v6.9m.5-6.2v5.5m.5-6.6v8.8m.5-6.9v3.5m.5-3.9v5m.5-5.6v6.2m.5-5.2v3.9m.5-5.2v6.2m.5-6.1v6.3m.5-5.2v3.2m.5-2.4v2.2m.5-3.7v4.8m.5-4.7v5.7m.5-5.9v6.4m.5-6v4.9m.5-4.8v4.3m.5-3.2v2.4m.5-2.9v3.4m.5-3v2.2m.5-3.6v6.1m.5-5v3m.5-2.6v2.1m.5-2.7v3.1m.5-4v6m.5-8.6v11.1m.5-10.5v11.1m.5-9.9v8.2m.5-7.9v5.8m.5-3.7v2.5m.5-3.1v3.2m.5-4.3v5.5m.5-7.3v9.3m.5-10.1v9.8m.5-9.4v9.6m.5-9.1v8.9m.5-7.9v6.4m.5-7.6v8.8m.5-6.4v5.7m.5-5.7v4.8m.5-4.7v4.3m.5-4.7v4.8m.5-4.7v5.2m.5-4.1v3.4m.5-3.3v2.9m.5-3.7v4.4m.5-3.9v3m.5-3.1v4m.5-4.4v4.3m.5-3.7v2.9m.5-2.5v2.2m.5-3.6v6.1m.5-6.5v6.3m.5-5.9v5.9m.5-6.3v6.5m.5-5.4v4.3m.5-4.9v5m.5-3.7v2.2m.5-4.8v7.4m.5-8v7.6m.5-7.8v8.3m.5-7v6.7m.5-5.6v4.7m.5-5.5v6.1m.5-5.5v4.9m.5-4.9v4m.5-3.4v4.1m.5-4.4v4.3m.5-4.6v5.5m.5-4.6v3m.5-2.9v3.1m.5-3.1v2.9m.5-2.8v2.3m.5-2.7v3.8m.5-4.6v4.1m.5-3v2.5m.5-2.3v2.3m.5-2.8v3.9m.5-5.6v6.6m.5-5.3v4.6m.5-4.5v4.1m.5-4.9v6.7m.5-7.5v7.8m.5-7.9v6.3m.5-5.7v6.8m.5-6.3v4.9m.5-6.7v7.5m.5-6.2v5.4m.5-4.1v3.3m.5-3v2.6m.5-2.4v2.3m.5-2.2v2.2m.5-2.6v2.8m.5-3.9v4.3m.5-2.9v2.5m.5-3.7v4.9m.5-5.3v5.5m.5-4.6v4.6m.5-5.3v4.4m.5-4.8v6.6m.5-7.1v6.2m.5-5.7v5.8m.5-4.2v2.8m.5-3.8v5.1m.5-4.6v3.5m.5-2.9v2.7m.5-3.8v5.3m.5-7v8.3m.5-9v9m.5-8.1v7.2m.5-8v8.2m.5-7.4v8m.5-8v7m.5-6.3v6.2m.5-5.5v6.8m.5-5.4v2.2m.5-4.6v7.8m.5-10.9v13.1m.5-10.8v7.5m.5-8.8v11.7m.5-10.5v9.5m.5-10.9v13.2m.5-11.2v9.7m.5-9.7v10.1m.5-9.8v7.1m.5-8v8.2m.5-8.8v9.7m.5-7.9v7.5m.5-7.6v8m.5-9.6v8.6m.5-8.9v9.9m.5-8v7m.5-5.5v3m.5-4.7v9.2m.5-10.8v10.8m.5-10.4v10.4m.5-12.9v13.6m.5-11.4v12.1m.5-9.2v3.6m.5-6.8v10.3m.5-7.5v6.5m.5-10v11.7m.5-8.5v6m.5-6.5v7m.5-9.2v13.4m.5-11.5v8.1m.5-9.6v10.4m.5-10.7v12.3m.5-10.9v8.5m.5-6.5v4.9m.5-7.7v12m.5-11.2v9.8m.5-10.2v11.5m.5-10.5v9.2m.5-10.1v10m.5-15.5v23.2m.5-22.5v19.5m.5-20.3v22m.5-20.5v16.8m.5-15.3v13.5m.5-12v11.7m.5-9.2v6.8m.5-12.4v17.2m.5-16.6v13.5m.5-9.7v9.9m.5-15.1v17.6m.5-16.4v17.7m.5-18v22.4m.5-21.4v16.2m.5-21.2v24.8m.5-24.6v21.5m.5-20.5v22.8m.5-19.4v18.2m.5-15.5v8.4m.5-6.8v7.3m.5-6.2v5.4m.5-9.8v14m.5-15.8v22.5m.5-22.8v17.3m.5-14.2v11.2m.5-10.4v10.3m.5-10.4v10.7m.5-9.9v9m.5-8.8v8.3m.5-8.1v9.7m.5-8.4v6m.5-5.9v6.2m.5-8.3v10.3m.5-9.2v7.7m.5-6v3.6m.5-4.6v5.1m.5-6.5v8.4m.5-8.7v8.7m.5-6.8v5.2m.5-5v6.5m.5-7.2v7.7m.5-9.1v9.7m.5-7.4v6m.5-6.4v5.9m.5-5.9v5.4m.5-5.8v6.8m.5-5.3v2.6m.5-6.2v10.5m.5-10.8v11.4m.5-8.5v6m.5-4.6v2.4m.5-3.6v5m.5-5.1v5.7m.5-5.7v5.2m.5-4.8v3.3m.5-3.7v4.5m.5-5v6.8m.5-6.3v7.3m.5-9.6v8.8m.5-7.2v7.2m.5-7.8v7.9m.5-8.3v8.9m.5-10.9v13.5m.5-13.9v13.1m.5-11.3v13.2m.5-13v12.9m.5-15.3v15m.5-13.8v13.1m.5-13.1v12m.5-14v14m.5-10.9v12.1m.5-14.4v12.7m.5-9.3v6.8m.5-5.1v4.1m.5-4.4v4.9m.5-6.8v7.3m.5-4.9v2.6m.5-2.4v2.8m.5-5.1v8.3m.5-7.9v7m.5-7v6.7m.5-5.5v5.1m.5-5.1v4.6m.5-4.4v3.5m.5-3.9v5m.5-5v4m.5-2.8v2.5m.5-5.8v8.6m.5-6.9v4.8m.5-5.2v6.4m.5-5.7v6.2m.5-7.4v7m.5-5.5v4.8m.5-4.5v3.8m.5-5.4v5.9m.5-4.6v4.7m.5-5.6v5.8m.5-6.1v6.5m.5-7.8v8.9m.5-8.7v9.4m.5-11.3v11.3m.5-8.1v5.6m.5-4.9v4.8m.5-4.7v5.1m.5-4.4v2.8m.5-2.6v2.9m.5-4v4.8m.5-3.8v3m.5-3.1v3.1m.5-2.9v2.5m.5-3v4.4m.5-5.7v7.1m.5-7.4v7.6m.5-9.2v9.9m.5-10v10.3m.5-11.8v10.9m.5-8.7v9.9m.5-11v11.8m.5-9v6.3m.5-5v3.2m.5-5.4v8.1m.5-8v6.9m.5-5.7v4.3m.5-3.7v4.1m.5-5v5.3m.5-6.5v7.6m.5-6.1v5.2m.5-5.6v5.5m.5-3.8v2.3m.5-3.2v3.8m.5-3.5v3.1m.5-4.4v5.4m.5-6.5v9.2m.5-10.7v10.2m.5-9.2v10.9m.5-12.1v11.1m.5-10v11.2m.5-11v9.3m.5-10.1v12.1m.5-8.9v4.3m.5-3.6v2.9m.5-3.2v3m.5-3.6v6.1m.5-6.5v6m.5-6.3v6.3m.5-6.7v8.1m.5-8.7v7.6m.5-7.8v9.1m.5-9.9v11.4m.5-10.9v8.7m.5-7.3v6.9m.5-6.3v6.3m.5-6v4.9m.5-6.7v7.8m.5-9.1v10.5m.5-8.9v10.4m.5-10.8v8.3m.5-7.9v8.7m.5-8.2v6.7m.5-6.3v4.8m.5-3.3v2.7m.5-3.5v4.4m.5-4.6v4.3m.5-3.3v2.5m.5-3.2v4.3m.5-4v3.6m.5-3.6v3.8m.5-4.4v4.2m.5-3.7v3.6m.5-3.3v2.7m.5-3.4v4.9m.5-5.5v5.2m.5-6.1v7.4m.5-7.7v9.3m.5-9.7v8.7m.5-7.1v5.8m.5-7.8v8.5m.5-7.4v7m.5-7.1v7.3m.5-5.5v4.7m.5-4.3v2.8m.5-5.4v7.4m.5-8.3v9m.5-6.4v4.9m.5-4.1v3m.5-4.5v6.3m.5-5.7v5m.5-4.6v5.1m.5-5.7v5.6m.5-5.4v4.7m.5-4.1v4.6m.5-4.6v5.1m.5-5v3.5m.5-3.4v3.5m.5-3.9v4.8m.5-4.4v3.5m.5-3v2.8m.5-2.6v2m.5-2v2m.5-4.5v7.2m.5-7.1v7.1m.5-8.3v10.3m.5-10.1v10.5m.5-10v8.4m.5-9v9.2m.5-8.9v8.8m.5-6.9v4.7m.5-3.9v3.3m.5-4.7v5.5m.5-4.9v5.7m.5-7.1v6.7m.5-6.8v8.2m.5-8v8.1m.5-10.2v10.4m.5-9.1v10.8m.5-11.7v11.6m.5-9.9v8.1m.5-7.6v7.6m.5-6.7v5.5m.5-6.8v7.5m.5-8v7.5m.5-8.5v8.3m.5-8.8v10.4m.5-10.1v9.3m.5-8v10.4m.5-8.7v4.8m.5-7.5v9.8m.5-14.4v19.2m.5-15.4v14.7m.5-18.9v20.6m.5-18.5v18.7m.5-21.6v20m.5-17.2v19.7m.5-20.6v21.2m.5-21.5v16.1m.5-13.4v13.4m.5-11.5v8.5m.5-10.1v12.3m.5-12.4v13.9m.5-11.9v9.6m.5-9.5v9.2m.5-11.4v12.6m.5-11.8v13.5m.5-11.8v7.2m.5-4.6v2.3m.5-5.2v8.2m.5-9.2v11.7m.5-15.3v18.1m.5-17.1v16.1m.5-16.4v17.2m.5-15.4v14.5m.5-12.4v11.8m.5-10.9v7.2m.5-8.4v9m.5-5.6v2.5m.5-2.9v2.9m.5-4.3v6.5m.5-6.6v5.6m.5-4.5v4.9m.5-4.8v3.8m.5-5v6.1m.5-5.1v4.4m.5-4.2v4.1m.5-5.5v6.2m.5-5.9v6.4m.5-6.6v6.4m.5-6.6v6.8m.5-7.7v9.7m.5-9v6.9m.5-8.9v11.4m.5-11v10.1m.5-7.5v6.2m.5-4.9v3m.5-3v2.4m.5-4.3v6.1m.5-5.6v5.2m.5-5.8v5.8m.5-5v4.8m.5-4.5v4.5m.5-4.3v3.7m.5-4.3v4.9m.5-6.2v6.8m.5-8.9v13m.5-11.8v10.5m.5-9.7v8.9m.5-9.6v10.3m.5-12v12.6m.5-11.1v8.3m.5-6.3v8.6m.5-7.4v3.3m.5-3.4v3.9m.5-4.5v4.3m.5-4v3.8m.5-6.3v10.4m.5-10.9v10.4m.5-9.6v7.9m.5-6.8v7.5m.5-7.9v6.5m.5-7.3v8.5m.5-10.3v10.1m.5-7.9v8.3m.5-7.5v6.4m.5-5.2v4.2m.5-3.5v2.5m.5-2.4v2.1m.5-2.1v2.4m.5-4.8v5.6m.5-6.1v8.2m.5-7.8v6.9m.5-6.5v8.5m.5-7.3v4.5m.5-5.5v5.9m.5-6.4v7.5m.5-5.4v2.3m.5-2.4v2.9m.5-2.5v2m.5-4v6.1m.5-4.8v3.2m.5-3.8v4.6m.5-4v3.6m.5-2.9v2.2m.5-2.7v3.6m.5-4.6v4.6m.5-3.1v2m.5-2.5v4.3m.5-4.1v2.5m.5-2.3v2.1m.5-3.3v4.8m.5-5.4v6m.5-4.5v4.1m.5-5.6v7.5m.5-7.2v6.7m.5-5.4v2.5m.5-2.9v3.8m.5-4.7v5.4m.5-5.2v6.4m.5-7.9v9.5m.5-9.7v8.9m.5-7.4v6.7m.5-9v10.3m.5-10v9.6m.5-9.7v10.3m.5-9.9v10m.5-8.8v6m.5-5v4.5m.5-5.3v6.4m.5-5.9v5.8m.5-5.2v4.9m.5-7.2v8.5m.5-8.2v8m.5-8v9.4m.5-8.3v5.4m.5-5.3v5.7m.5-4.2v2.8m.5-3.5v4.2m.5-3.7v2.9m.5-4.3v5.2m.5-4.7v4.9m.5-5.7v6.7m.5-5.8v6m.5-6.6v5.1m.5-4.2v3.8m.5-3.1v2.3m.5-2.4v2.2m.5-2v2.1m.5-2.1v2m.5-2.3v3m.5-3.3v3m.5-2.6v2.3m.5-2.6v4m.5-5.1v4.8m.5-4.6v4.6m.5-5v5m.5-4.4v5.4m.5-6v6m.5-5.4v5m.5-5.3v6.6m.5-6.8v5.5m.5-4.2v3.5m.5-4.1v4.7m.5-5.1v5.4m.5-4v2.3m.5-2.8v2.9m.5-2.4v2m.5-2.1v2.1m.5-3.9v7.9m.5-8.9v8m.5-8.1v8.4m.5-6.2v4.3m.5-3.9v2.7m.5-2.4v2.1m.5-3v4m.5-3v2.6m.5-3.2v4.3m.5-5.3v5.3m.5-4.3v3.8m.5-4.2v3.8m.5-3.7v5.6m.5-6.1v4.5m.5-6v6.8m.5-4.9v5m.5-4.2v2.3m.5-3.2v4.2m.5-4.8v5.6m.5-4.9v5.8m.5-5.3v3.5m.5-3.7v3.9m.5-4.1v3.7m.5-3.6v3.9m.5-3.8v3.9m.5-3.3v2.5m.5-3.5v4.3m.5-5.1v5m.5-3.1v2m.5-2v2m.5-2.9v3.8m.5-3.8v3.7m.5-4.6v6m.5-5.4v5.5m.5-5.7v4.7m.5-4.3v4.9m.5-5.4v5.3m.5-4.3v3.3m.5-3.6v4.1m.5-3.9v4.3m.5-6.1v7m.5-7.7v8.3m.5-8.1v8m.5-7v8.3m.5-8v5.9m.5-7.4v8.8m.5-7.2v6.2m.5-5.4v3.5m.5-3.7v3.7m.5-4.6v6.9m.5-7.2v7.5m.5-6.4v3.9m.5-6.9v10m.5-9.7v9.2m.5-11.4v17m.5-14v6.8m.5-5.8v6.1m.5-9.6v14.1m.5-15v14.5m.5-17.1v22.5m.5-23v21.4m.5-19v16.7m.5-20v21.9m.5-20.8v27m.5-22.9v13.3m.5-10.2v5.9m.5-9.9v14.9m.5-15.8v18.9m.5-15.5v10.4m.5-8.7v5.9m.5-7.2v9.7m.5-13.3v17.1m.5-13.1v10.2m.5-15.8v16.8m.5-17.3v21m.5-25.2v31.8m.5-31.9v32.8m.5-34.9v43.9m.5-39.1v26.4m.5-24.8v17.7m.5-15.6v15.7m.5-15.5v14.2m.5-19.7v26.5m.5-21.9v19.2m.5-20.1v19.1m.5-16.6v18.9m.5-24.5v25.7m.5-26.8v23.6m.5-17.6v17.1m.5-17.8v22.6m.5-21.7v14.6m.5-15.1v14.5m.5-15v16.4m.5-15.6v17.1m.5-14.9v15.7m.5-14.2v8.8m.5-8.9v9.2m.5-8.1v7.3m.5-9.8v12.3m.5-12.8v13.9m.5-18v21.5m.5-29.8v31.2m.5-25.4v30.4m.5-30.9v29.5m.5-31.8v28.1m.5-22.3v21.9m.5-19.7v15.4m.5-13.6v10.8m.5-8.9v9.8m.5-8.2v4.5m.5-4.5v4.3m.5-3.7v3.2m.5-2.9v2m.5-4.9v8.4m.5-7.1v5.7m.5-4.4v2.7m.5-2.9v4.6m.5-5.8v7.4m.5-5.8v2.7m.5-2.7v2.2m.5-2.9v4m.5-4.6v5.9m.5-4.9v3.2m.5-3.8v3.9m.5-3.5v3.3m.5-5.1v8.8m.5-9.8v9.6m.5-10.2v10.2m.5-8.6v8.4m.5-8v5.3m.5-4.2v4.6m.5-5.9v6.8m.5-7.6v7.7m.5-6v5.4m.5-5.5v5.1m.5-5v5.6m.5-7.3v8.2m.5-7.7v6.6m.5-7.2v10.3m.5-9.5v5.8m.5-7.3v9.4m.5-7.7v5.7m.5-4.8v4.4m.5-3.6v3m.5-3.9v3.8m.5-2.6v2.5m.5-2.7v3.1m.5-2.8v2.5m.5-3.3v4m.5-4v4.3m.5-5.4v6.2m.5-6v5.8m.5-4.9v3.1m.5-3.6v5.6m.5-4.6v2.7m.5-3.6v4.3m.5-3.5v3.4m.5-5v7.8m.5-10.1v10.4m.5-8.6v10.2m.5-11.2v8.1m.5-6.7v7.9m.5-8.1v8.5m.5-8.1v6.9m.5-5.1v2.6m.5-3.3v3.3m.5-3v3m.5-2.9v3m.5-4.3v5.1m.5-4.2v3.7m.5-2.9v2m.5-2.3v2.5m.5-2.4v2.4m.5-2.2v2m.5-2.6v3.8m.5-4.6v5.2m.5-4.3v2.7m.5-4.6v6.2m.5-6v6.3m.5-5v3.9m.5-3v2m.5-2.1v2.4m.5-2.9v3.7m.5-5.2v7.2m.5-7.8v7.1m.5-6.4v7.7m.5-6.1v3m.5-4.1v4.9m.5-4.2v3.9m.5-4.3v5.5m.5-6.2v5.2m.5-5.3v7.4m.5-8.4v8.4m.5-8.2v8.4m.5-8.9v9.3m.5-9.3v8.9m.5-7.9v7m.5-6v4.9m.5-7.1v10.1m.5-11.4v14m.5-12.4v8.2m.5-8.7v12.5m.5-12.7v10.4m.5-8.8v7m.5-4.8v3m.5-3v3.2m.5-3.4v3.1m.5-3.3v2.8m.5-2.6v3m.5-2.7v2m.5-3.3v6.2m.5-5.8v3.8m.5-7.3v11.4m.5-9.8v8.1m.5-9.8v10.4m.5-8.3v6.7m.5-6v5.5m.5-5.7v6.3m.5-10.6v15.5m.5-12.8v10m.5-11.7v14.3m.5-14.2v12.4m.5-8.7v6.5m.5-8.5v10.6m.5-9.7v6.2m.5-5.3v8m.5-8v6.8m.5-7.8v8.3m.5-5.7v2m.5-2.9v3.5m.5-3.8v4m.5-3.1v2.6m.5-3v3.9m.5-5.7v8.2m.5-7.6v7m.5-6.9v6m.5-5.4v4.6m.5-3.5v2.3m.5-6.3v8.9m.5-10.2v13.7m.5-14.2v14.3m.5-12.3v10.1m.5-10.6v15.4m.5-18.8v18.3m.5-14v13m.5-11.8v6.8m.5-8.1v9.2m.5-7.9v6.2m.5-6.9v8.6m.5-7.9v8.5m.5-10.9v12.6m.5-9.8v6.2m.5-5.8v6.5m.5-8.8v8.9m.5-12.9v17.6m.5-13.6v13.6m.5-14.2v11.7m.5-13.2v18.4m.5-16.8v10.7m.5-8.7v8.5m.5-9.6v10.3m.5-7.6v4.4m.5-5.7v7.4m.5-8.6v9.1m.5-11v12.9m.5-9.5v6.7m.5-5.2v2.6m.5-4.4v6m.5-5v3.8m.5-3.9v4.5m.5-4.3v3.9m.5-3.8v3.9m.5-3.7v2.7m.5-3.1v4m.5-3.4v3m.5-2.6v2m.5-2.7v3.2m.5-3.5v3.7m.5-3.5v4.5m.5-6.1v6.6m.5-6.2v5.3m.5-3.5v2.7m.5-4.9v6.9m.5-6.7v8.2m.5-9.1v8.7m.5-8.8v9.4m.5-8.9v8.4m.5-10v12.2m.5-11.3v11.5m.5-12.8v13.3m.5-10.4v5.2m.5-5.4v6m.5-4.7v3.6m.5-4v3.7m.5-5.6v8.7m.5-7.6v6.3m.5-7.9v9.9m.5-7.6v4.8m.5-4.9v5.2m.5-4.4v3.5m.5-4v5m.5-5.4v4.9m.5-3.8v3.5m.5-3.2v2m.5-2v2.3m.5-2.3v2m.5-2.4v3.2m.5-3.2v2.9m.5-2.5v2m.5-2v2.3m.5-2.4v2.8m.5-3.1v2.5m.5-2.1v2m.5-2v2m.5-2v2.1m.5-2.4v2.3m.5-2.4v3.3m.5-3v2.4m.5-2.3v2m.5-2.9v3.8m.5-2.9v2.4m.5-2.4v2.4m.5-2.4v2.1m.5-2.2v2.1m.5-2v2m.5-2v2.1m.5-2.1v2m.5-2.1v2.1m.5-2v2m.5-2.5v3m.5-2.8v2.4m.5-2.1v2m.5-2v2m.5-2.4v3.4m.5-3.5v2.9m.5-2.5v2.5m.5-2.9v2.8m.5-2.3v2.6" stroke="#0000ff" stroke-opacity="0.55" stroke-width="0.5" fill="none"/>
<path d="M44 126.9v2.2m.5-2.1v2m.5-2v2m.5-2v2m.5-2v2.1m.5-2.1v2m.5-2v2m.5-2v2m.5-2v2m.5-2v2m.5-2v2m.5-2v2.1m.5-2.1v2m.5-2.1v2.4m.5-2.6v3.1m.5-3.4v3.3m.5-2.7v2m.5-2v2.2m.5-2.2v2m.5-2v2m.5-2v2m.5-2v2m.5-2v2m.5-2v2m.5-2v2m.5-2v2m.5-2v2m.5-2v2m.5-2v2m.5-2v2m.5-2v2m.5-2.4v2.4m.5-2v2.2m.5-2.2v2m.5-2v2.2m.5-2.3v2.6m.5-2.6v2.1m.5-2v2m.5-2v2m.5-2v2m.5-2.1v2.2m.5-2.1v2m.5-2v2.4m.5-2.4v2m.5-2v2m.5-2.1v2.6m.5-2.5v2m.5-2.3v3.1m.5-3v2.2m.5-2v2m.5-2.3v2.8m.5-2.5v2.1m.5-2.6v3.4m.5-2.9v2m.5-2v2m.5-2v2m.5-2.3v2.5m.5-2.2v2.4m.5-2.4v2m.5-2v2.1m.5-2.1v2m.5-2v2m.5-2.2v2.2m.5-2.1v3.4m.5-4.1v3.6m.5-2.8v2.1m.5-2.2v2.1m.5-2v2.6m.5-2.6v2m.5-2v2m.5-2v2m.5-2v2m.5-2v2m.5-2v2m.5-2v2m.5-2v2m.5-2v2m.5-2v2m.5-2v2.1m.5-2.1v2m.5-2v2m.5-2v2m.5-2v2m.5-2v2m.5-2v2m.5-2v2m.5-2v2.3m.5-2.3v2m.5-2v2m.5-2.5v2.8m.5-2.8v3.2m.5-2.7v2.3m.5-2.3v2m.5-2.3v2.7m.5-3.6v4.2m.5-3.1v2.4m.5-2.4v2.4m.5-2.3v2.1m.5-2.2v2.3m.5-2.4v2.4m.5-2.4v2.6m.5-2.4v2m.5-2v2m.5-2v2m.5-2v2m.5-2v2m.5-2v2m.5-2v2m.5-2v2m.5-2.2v2.6m.5-2.4v2m.5-2v2.5m.5-3.1v2.6m.5-2v2.2m.5-2.2v2m.5-2.3v2.9m.5-2.6v2.2m.5-2.3v2.8m.5-2.7v2m.5-2v2m.5-2v2m.5-2v2m.5-2v2m.5-2v2m.5-2v2.2m.5-2.5v2.9m.5-2.6v2.1m.5-2.1v2m.5-2v2m.5-2v2.4m.5-2.6v2.3m.5-2.1v2m.5-2v2m.5-2v2m.5-2v2m.5-2v2m.5-2.1v2.4m.5-2.7v3.1m.5-2.9v2.8m.5-2.6v2.3m.5-3.3v3.5m.5-2.8v2.8m.5-2.5v2m.5-2.9v3.7m.5-2.8v2m.5-2.8v3.4m.5-3.1v3.6m.5-3.4v2.5m.5-2.2v2m.5-2v2m.5-2v2m.5-2v2m.5-2v2m.5-2v2m.5-2v2m.5-2v2m.5-2v2m.5-2v2m.5-2v2.1m.5-2.2v2.5m.5-2.4v2m.5-2v2.1m.5-2.1v2m.5-2v2.1m.5-2.1v2m.5-2v2m.5-2.2v2.6m.5-2.4v2m.5-2v2m.5-2v2.1m.5-2.1v2.1m.5-2.1v2m.5-2v2m.5-2v2m.5-2v2m.5-2v2m.5-2v2.1m.5-3.2v3.6m.5-2.5v2m.5-2v2m.5-2v2m.5-2v2m.5-2v2m.5-2v2m.5-2v2m.5-2v2m.5-2v2m.5-2.2v2.2m.5-2v2m.5-2v2m.5-2v2m.5-2.2v2.3m.5-2.7v3.2m.5-2.9v2.7m.5-3.5v4.6m.5-4.4v3.5m.5-3.7v4.1m.5-4.2v4.1m.5-2.9v2.5m.5-2.5v2m.5-2v2m.5-2v2m.5-2.3v2.6m.5-2.7v2.7m.5-2.3v2.5m.5-2.5v2m.5-2.1v2.5m.5-2.4v2m.5-2v2.2m.5-2.2v2m.5-2v2m.5-2v2m.5-2v2m.5-2v2.1m.5-2.6v2.8m.5-2.3v2m.5-2v2.1m.5-2.1v2.1m.5-2.1v2.3m.5-2.3v2m.5-2v2m.5-2v2m.5-2v2.1m.5-2.1v2m.5-2v2.2m.5-2.2v2m.5-2v2m.5-2v2m.5-2v2m.5-2.5v3.8m.5-3.3v2m.5-2.1v2.6m.5-3.2v3.5m.5-4.3v5.4m.5-4.6v3.6m.5-3.6v3.8m.5-4.2v4.2m.5-3.9v4m.5-3.6v2.9m.5-3.1v3.5m.5-2.9v2m.5-2v2m.5-2v2.1m.5-2.5v3.2m.5-3.9v4.3m.5-4.3v3.5m.5-3.2v5.3m.5-6v4.7m.5-3.8v3.2m.5-2.6v2.3m.5-3v3.8m.5-3.5v3.5m.5-3.5v2.9m.5-2.5v2m.5-2v2m.5-2v2.1m.5-2.2v2.2m.5-2.1v2m.5-2.1v2.2m.5-2.4v2.7m.5-2.4v2m.5-2v2.1m.5-2.1v2.1m.5-2.1v2.3m.5-2.3v2m.5-2v2m.5-2v2m.5-2v2m.5-2v2m.5-2v2.1m.5-2.2v2.5m.5-2.7v4.2m.5-5.1v4.1m.5-5.3v6.4m.5-5.3v5.2m.5-5v4.8m.5-3.8v2.5m.5-2.4v2m.5-2v2m.5-2.1v2.1m.5-2v2.1m.5-2.1v2m.5-2v2.2m.5-2.2v2m.5-2v2m.5-2v2.2m.5-2.2v2m.5-3.3v4.7m.5-4.4v4.2m.5-4.1v4.2m.5-3.3v2.5m.5-2.7v2.2m.5-2v2m.5-2v2.2m.5-2.2v2m.5-2.3v2.4m.5-2.5v3.3m.5-3.9v4.1m.5-4v3.6m.5-3.3v3.1m.5-3.1v3.5m.5-3.3v2.5m.5-2.1v2.2m.5-2.2v2m.5-2.4v2.7m.5-3.4v5.1m.5-4.7v3.2m.5-2.5v2.4m.5-2.8v2.6m.5-3.1v3.6m.5-4.1v4.6m.5-4.6v4.1m.5-4.6v5.4m.5-5.3v6.1m.5-4.4v3.2m.5-3.5v3.1m.5-3v2.8m.5-2.8v2.8m.5-2.8v3.4m.5-3.7v3.8m.5-3.2v2.4m.5-2.4v2.1m.5-2.2v2.9m.5-2.9v2.1m.5-2v2.2m.5-3.4v5.4m.5-5.6v4.7m.5-4v4.1m.5-4.3v4.8m.5-4v2.5m.5-2.5v2.8m.5-3.5v3.7m.5-3.5v3.6m.5-4.5v4.7m.5-3.8v3.1m.5-2.6v2.1m.5-2v2m.5-2.4v2.9m.5-3.4v4.4m.5-5.1v4.5m.5-3.6v3.7m.5-3.7v2.7m.5-2v2m.5-2v2m.5-2v2m.5-2.9v4.5m.5-3.7v2.2m.5-2.1v2m.5-2.3v2.3m.5-2.7v4m.5-5.3v6.2m.5-6.5v7.9m.5-7.9v6.7m.5-5.3v3.5m.5-2.6v2m.5-2v2m.5-3.1v4.4m.5-4.5v5m.5-5.2v4.8m.5-5.5v6.8m.5-7v6.3m.5-4.9v4.1m.5-4.5v4.9m.5-4.1v3.3m.5-3.2v2.9m.5-3v2.8m.5-2.6v2.9m.5-3v2.9m.5-2.5v2.3m.5-2.3v2m.5-2.4v2.8m.5-2.6v2.2m.5-2v2.7m.5-2.9v2.7m.5-2.5v2m.5-2v2.1m.5-2.6v4.1m.5-4.9v4.7m.5-3.7v4m.5-4.8v4.8m.5-4v3.1m.5-3.4v3.3m.5-2.7v2m.5-2.6v3.8m.5-4.3v3.9m.5-4.9v5.7m.5-4.6v4m.5-3.2v2.7m.5-3.7v4.4m.5-4.1v3.5m.5-2.9v2.3m.5-2v2.6m.5-3.5v3.2m.5-2.8v3.8m.5-3.3v2.1m.5-2.1v2.4m.5-2.6v2.3m.5-2.1v2m.5-2.4v2.9m.5-2.5v2.7m.5-2.8v2.3m.5-2.2v2m.5-2.2v2.6m.5-3.5v4.8m.5-4v3.6m.5-3.4v2.8m.5-3.8v4.9m.5-5v4.9m.5-4.4v4.2m.5-4.6v4.2m.5-3.6v3.8m.5-4.3v4.4m.5-3.7v2.5m.5-2.3v2.4m.5-2.3v2m.5-2v2m.5-2v2.1m.5-2.1v2m.5-2.3v2.6m.5-2.3v2m.5-3v3.9m.5-3.7v3.5m.5-3.1v3.2m.5-3v2.9m.5-3.7v3.8m.5-4.1v4.9m.5-4.3v3.3m.5-2.6v2m.5-2.8v4.3m.5-3.7v2.4m.5-2.3v2.2m.5-2.3v3.2m.5-4v4.9m.5-5.3v6.2m.5-5.9v5.1m.5-6v5.9m.5-5.4v5.8m.5-6v4.9m.5-5.2v5.5m.5-4.1v3.9m.5-3.3v2m.5-2.7v4.7m.5-7.6v7.8m.5-5.7v4.9m.5-5.9v7m.5-6.5v6m.5-6v7.5m.5-7.5v6.6m.5-5.7v6m.5-6v5.6m.5-5.7v4.7m.5-5.7v7.9m.5-7.2v5.7m.5-5.5v5.5m.5-6.1v5.4m.5-5.1v6.2m.5-5.8v5m.5-4v2.3m.5-3.5v6.4m.5-7.1v6.8m.5-6.1v5.6m.5-7.8v9.5m.5-8.1v8.5m.5-6.9v3m.5-4.4v7.3m.5-6.1v3.6m.5-5v6.8m.5-5.1v4.7m.5-5.9v5.1m.5-5.4v8.2m.5-8.1v5.4m.5-5.9v6.4m.5-7.5v10.7m.5-8.7v4.6m.5-3.8v3.5m.5-4.8v8.1m.5-9v7.6m.5-5.8v5.8m.5-6.6v6.4m.5-6.9v8.1m.5-10.4v12.4m.5-14v13.6m.5-13.6v15.1m.5-12.8v10.9m.5-11.3v9.6m.5-7.6v7.2m.5-5.6v4.5m.5-7.6v10.1m.5-9.5v8.4m.5-6.8v6.4m.5-10.6v12.4m.5-12.1v13.2m.5-11.9v13m.5-13.5v11.9m.5-12.8v15.1m.5-16v14.3m.5-12.1v14.7m.5-14.5v12.4m.5-10.1v5m.5-3.9v4.3m.5-4v3.5m.5-7.4v10.9m.5-11.8v15.3m.5-14.6v11.6m.5-9.1v6.3m.5-5.7v6.6m.5-8.6v10.3m.5-8.4v6.4m.5-6.6v5.8m.5-5.5v6.7m.5-6.5v3.8m.5-3.4v3.9m.5-5.2v7.9m.5-6.9v5.2m.5-4v2.1m.5-2.9v3.3m.5-4.2v5.5m.5-5.3v4.6m.5-3.5v3.1m.5-3.7v4.4m.5-4.3v5.1m.5-6.2v5.4m.5-4.3v3.9m.5-3.7v3.7m.5-4v3.7m.5-4v4.1m.5-2.9v2.1m.5-3.7v6m.5-6.2v7.2m.5-6.4v4.3m.5-3.2v2m.5-2.7v3.5m.5-3.9v5m.5-4.3v2.7m.5-2.3v2.1m.5-2.9v3.5m.5-3.5v3.7m.5-4v5.1m.5-5.1v4.3m.5-4.1v4.1m.5-4.6v5.1m.5-6v5.7m.5-5.7v6.7m.5-7.6v9.3m.5-9.6v10m.5-8.8v8.9m.5-9.2v8.8m.5-8.5v7.5m.5-9.7v9.6m.5-7.9v8m.5-6.9v8.6m.5-9.5v7.5m.5-6.3v4.7m.5-3.3v2.5m.5-2.5v2.9m.5-3.9v4.1m.5-3.1v2m.5-2v2.5m.5-3.6v4.1m.5-3.7v3.7m.5-4.4v4.7m.5-3.9v3.6m.5-3.3v3.2m.5-3.2v2.4m.5-2.3v3.3m.5-3.7v2.8m.5-2.2v2m.5-3.4v5.1m.5-4.6v3.3m.5-3.6v4.3m.5-3.9v3.9m.5-4.8v5.2m.5-4v3.8m.5-3.9v2.9m.5-3.2v4.2m.5-4.2v3.4m.5-3.2v4m.5-4.3v4.2m.5-5v6.6m.5-6v5.4m.5-6.1v6.2m.5-4.8v3.2m.5-3.2v3.7m.5-4.1v3.8m.5-2.9v2m.5-2v2m.5-3v3.2m.5-2.3v2.1m.5-2v2.3m.5-2.3v2m.5-2.1v2.8m.5-4.6v5.9m.5-5.2v4.7m.5-5.5v6m.5-7.5v8.8m.5-7.4v6.6m.5-6.7v6m.5-5.5v5.6m.5-4.1v3m.5-2.8v2m.5-3.1v4.5m.5-4v3.3m.5-2.9v2.5m.5-2.6v2.6m.5-3.2v3.7m.5-4.3v4.8m.5-3.9v3.3m.5-3.2v3.5m.5-3v2m.5-2.3v2.9m.5-3.2v2.7m.5-3v3.4m.5-3.8v5.9m.5-7.8v7.6m.5-7.5v7.6m.5-7.1v7.6m.5-6.7v8m.5-7.9v7m.5-7.1v7.8m.5-6.3v3m.5-2.8v2.1m.5-2.3v2.2m.5-2.4v3.3m.5-4v5m.5-4.9v3.8m.5-4.8v6.8m.5-7.1v5.5m.5-4.8v5.3m.5-6.4v6.8m.5-6.1v7m.5-6.1v5m.5-4.7v3.9m.5-3.5v2.7m.5-3.3v3.7m.5-5v7.3m.5-6v5.6m.5-6.3v6.2m.5-6.1v5.4m.5-5.2v4.2m.5-3.4v3.4m.5-2.8v2.5m.5-2.9v3.2m.5-3.3v3.4m.5-2.9v2.2m.5-2.2v2.5m.5-2.5v2m.5-2.5v3.1m.5-3.3v3.7m.5-3.1v2.3m.5-2.2v2.3m.5-2.9v3.4m.5-3.3v3.4m.5-5.1v5.5m.5-4.8v6.2m.5-7.4v6.7m.5-4.4v3.8m.5-6.1v6.4m.5-4.7v5.1m.5-5.5v4.6m.5-3.4v3.3m.5-3.1v2m.5-3.3v4.4m.5-4.6v5.7m.5-5.2v3.6m.5-2.7v2.1m.5-2.6v3.6m.5-3.8v3.4m.5-3.4v3.5m.5-3.9v4m.5-3v3.4m.5-3.6v3.2m.5-3.6v3.9m.5-3.1v2.3m.5-2.5v2.3m.5-2.7v3.2m.5-2.7v2.1m.5-2v2.1m.5-2.1v2m.5-2v2m.5-3.4v4.7m.5-4.2v3.8m.5-4.5v5.1m.5-6.1v7m.5-6.8v7m.5-6.1v5.9m.5-5.6v4.9m.5-3.9v2.8m.5-2.6v2.1m.5-3.2v3.5m.5-2.9v3m.5-3.6v4.5m.5-5.3v5.7m.5-5.5v6m.5-6.1v6.6m.5-7.2v6.8m.5-6.6v7.4m.5-6.1v4.6m.5-4.6v4m.5-3.7v3.5m.5-4.1v5m.5-5.3v5.2m.5-5.5v6m.5-6.4v5.8m.5-5.3v5.4m.5-5.6v7m.5-6.1v3.8m.5-5.2v7.3m.5-10.3v12.3m.5-10.2v9.8m.5-10.6v10.2m.5-11.8v13.6m.5-13.2v14.3m.5-13v12.8m.5-13.8v14.2m.5-13.9v9.5m.5-7.9v10.5m.5-9.7v6m.5-6.6v8.6m.5-9.7v11.6m.5-10v7.1m.5-6.9v7m.5-8.6v8.6m.5-9.2v10.4m.5-7.4v5.1m.5-3.9v2.2m.5-4.5v6.6m.5-8.2v9.2m.5-10.6v12.1m.5-11.2v13.1m.5-12.6v10.4m.5-9.9v10.1m.5-8.7v8.8m.5-7.7v4.9m.5-6.5v7.4m.5-4.7v2m.5-2v2.3m.5-3.2v4.5m.5-3.9v3m.5-3.3v3.1m.5-2.7v2.4m.5-2.8v4.5m.5-4.1v2.8m.5-3.4v3.6m.5-3.5v3.5m.5-4v4.4m.5-4v3.9m.5-4.6v5.8m.5-6.7v6.8m.5-5.8v4.4m.5-6.2v7.6m.5-6v6.1m.5-5.4v4.3m.5-3.5v2.2m.5-2.1v2m.5-3.3v4.3m.5-3.7v3.6m.5-3.4v3.6m.5-3.6v3.4m.5-3v2.8m.5-3v2.3m.5-2.5v3.5m.5-3.8v4m.5-6.2v8.4m.5-6.8v6.6m.5-7.2v6.4m.5-6.2v6.7m.5-8.7v8.5m.5-6.7v6.1m.5-4.9v5.8m.5-5v2.4m.5-2.7v2.3m.5-2.2v2.7m.5-2.5v2.2m.5-4.1v6.5m.5-8v8.1m.5-7.1v6.5m.5-5v5.8m.5-6.1v4.8m.5-5.3v5.3m.5-6.9v6.7m.5-4.6v4.3m.5-4.3v4.5m.5-3.4v2.4m.5-2.3v2m.5-2v2m.5-2v2m.5-3.3v4m.5-4.8v6.4m.5-6.5v5.4m.5-4.1v5.4m.5-5v3.6m.5-3.9v3.6m.5-4.3v5.1m.5-3.6v2m.5-2v2.2m.5-2.2v2m.5-2.9v4.2m.5-3.3v2m.5-2.3v3.3m.5-3v2.1m.5-2.1v2m.5-2.3v2.6m.5-2.8v3.2m.5-2.7v2m.5-2.1v2.7m.5-2.6v2m.5-2v2m.5-2.1v3.1m.5-3.9v3.6m.5-3.1v3.6m.5-4.3v4.8m.5-4.2v3.7m.5-3.2v2m.5-2.1v2.1m.5-3.6v4.8m.5-4.1v5.1m.5-6.3v7.6m.5-7.4v5.5m.5-4.7v4.4m.5-5.1v5.5m.5-5.1v6.2m.5-6.5v5.7m.5-6.7v6.4m.5-4.4v3.5m.5-3.8v3.6m.5-3.6v3.7m.5-3.1v3.5m.5-3.7v3.6m.5-4.1v4.9m.5-5.1v4.5m.5-4.8v5.9m.5-4.8v4m.5-4.3v4m.5-3.2v2.3m.5-2.3v2.3m.5-2.3v2.1m.5-2.9v3.2m.5-2.9v3.5m.5-4.7v5.7m.5-4.9v4.1m.5-3.5v3.1m.5-2.8v2m.5-2v2m.5-2v2m.5-2v2m.5-2v2m.5-2v2.1m.5-2.1v2.3m.5-2.3v2m.5-2.4v3.1m.5-3.1v3.5m.5-3.8v3.2m.5-3.3v3.6m.5-3.3v3.7m.5-3.6v3.8m.5-4.2v4.4m.5-4.3v3.9m.5-3.9v3.9m.5-3.5v2.4m.5-2.7v3.4m.5-3.2v3.2m.5-2.8v2m.5-2v2.1m.5-2.1v2m.5-2v2m.5-3.2v4.6m.5-5.7v5.9m.5-5.5v6m.5-4.3v2.8m.5-2.6v2m.5-2v2m.5-2.4v3.1m.5-2.7v2.1m.5-2.4v3.3m.5-3.5v2.9m.5-2.6v2.5m.5-2.9v2.9m.5-3.1v3.6m.5-3.4v3.1m.5-4.2v4.7m.5-3.8v3.6m.5-2.8v2m.5-2.4v2.8m.5-3.5v3.7m.5-3.4v3.6m.5-2.9v2.3m.5-2.6v2.7m.5-2.3v2m.5-2.2v2.7m.5-2.8v2.5m.5-2.2v2m.5-2.8v3.2m.5-3v3.5m.5-2.9v2m.5-2v2m.5-2v2.1m.5-2.7v3m.5-2.8v3.4m.5-3.4v3.3m.5-3.4v2.9m.5-3.3v3.9m.5-3.5v3.7m.5-3.3v2.6m.5-2.6v2.9m.5-2.8v2.8m.5-3.9v4.9m.5-6.3v6.7m.5-5.8v5.9m.5-5.8v5m.5-4.4v4.4m.5-4.5v4.5m.5-4.9v4.9m.5-3.7v2.8m.5-3.1v2.7m.5-3.3v5.2m.5-4.8v4.7m.5-4.5v3.1m.5-4.9v6.3m.5-6.6v7.6m.5-9.6v10.9m.5-8.1v5.1m.5-4.5v5m.5-7.2v9.8m.5-9v10.4m.5-13.8v15.4m.5-13.6v12.3m.5-12.7v11.6m.5-11.2v12.4m.5-15.9v15.9m.5-10.3v7.8m.5-6.6v4.3m.5-7.4v10.9m.5-12.4v14.8m.5-11.1v7.2m.5-6.9v4.4m.5-4.3v5.6m.5-8.2v10.2m.5-8.3v7.1m.5-9.2v9.9m.5-11.3v13.7m.5-16.8v20.4m.5-19.8v17.7m.5-20.3v27.8m.5-21.5v14.1m.5-14.7v13.3m.5-11v9m.5-9.9v9.8m.5-14.4v18.8m.5-15.4v12.6m.5-11.4v13.9m.5-13.9v10.5m.5-11.7v16.1m.5-16.4v14m.5-14v14.6m.5-14.4v16.1m.5-15.6v10.6m.5-10.6v10.9m.5-11.8v14.4m.5-13.3v13.8m.5-12.9v9m.5-7.2v5.6m.5-6.7v7.9m.5-6.1v4.2m.5-5.1v7.2m.5-8.5v8.3m.5-12v15.4m.5-17.3v22.4m.5-21.5v18.3m.5-20v20.2m.5-19.3v17.3m.5-13.8v13.3m.5-12.5v11.4m.5-9.6v6.6m.5-5.2v5.4m.5-5.2v3.4m.5-2.8v3.4m.5-3.4v2.4m.5-2.2v2m.5-3.6v5.4m.5-5.2v4.4m.5-3.1v2.1m.5-2.1v2.7m.5-3.2v4.6m.5-4v2m.5-2v2m.5-2.2v3m.5-3.5v4m.5-3.4v2.1m.5-2v2.3m.5-2.3v2.2m.5-3.5v5.3m.5-7.2v7.5m.5-7.6v7.8m.5-6.3v5.9m.5-5.5v3.9m.5-2.9v3m.5-3.7v4.2m.5-4.3v4.4m.5-3.6v3.8m.5-4.2v3.3m.5-3.3v4.2m.5-4.9v4.9m.5-5v5.2m.5-5.7v6.7m.5-5.9v4m.5-6.1v6.9m.5-4.9v4.1m.5-3.1v3.4m.5-3v2.2m.5-2.7v2.5m.5-2v2.1m.5-2.1v2.1m.5-2.1v2m.5-2.3v3m.5-2.8v2.5m.5-3.1v3.6m.5-3.8v3.8m.5-2.9v2.2m.5-2.8v3.3m.5-2.7v2m.5-2.4v2.7m.5-2.3v2.5m.5-3.8v5.5m.5-5.7v7.2m.5-6.9v6.2m.5-7.1v6.2m.5-5.3v4.8m.5-4.9v6m.5-5.7v4.5m.5-3.5v2.4m.5-2.5v2.3m.5-2.2v2.3m.5-2.3v2m.5-2.3v2.8m.5-2.7v2.2m.5-2v2m.5-2v2m.5-2.1v2.1m.5-2v2m.5-2.1v2.6m.5-3.2v3.3m.5-2.6v2m.5-3.4v4.1m.5-3.8v4.3m.5-3.9v3.1m.5-2.4v2m.5-2v2.1m.5-2.3v2.4m.5-3v4.8m.5-5.7v6m.5-6.1v5.2m.5-3.5v2.1m.5-2.6v3.4m.5-3v2.6m.5-3.2v4.1m.5-4.2v4m.5-4.2v5m.5-5.7v5.9m.5-5.4v5m.5-5v5.3m.5-6.3v6.4m.5-5.1v4.3m.5-3.9v3.2m.5-4.3v6.8m.5-9.7v11.8m.5-9.3v5.7m.5-6.9v11.1m.5-9.6v6.5m.5-5.7v4.7m.5-3.7v2.4m.5-2.4v2.1m.5-2.2v2.2m.5-2.4v2.5m.5-2.2v2m.5-2v2m.5-2.3v4m.5-4.2v3m.5-5.1v7.5m.5-6.7v5.3m.5-5.4v6.4m.5-5.3v4.4m.5-4.5v3.6m.5-4.6v4.8m.5-6.6v8.9m.5-7.2v6.4m.5-7.3v10.4m.5-10.2v7.1m.5-5.2v4.4m.5-5.5v6.1m.5-5.5v4.5m.5-4.8v5.4m.5-4.3v3.4m.5-4v5.4m.5-4.3v2m.5-2v2.2m.5-2.3v2.1m.5-2v2m.5-2.3v2.6m.5-4.1v6.8m.5-5.5v3.6m.5-3.7v3.3m.5-3.1v2.7m.5-2.3v2m.5-4.6v6.2m.5-6.4v9.8m.5-11.4v10.1m.5-7.8v6.6m.5-7.9v10.8m.5-11.2v12.3m.5-10.6v7.5m.5-7.2v4.9m.5-4.6v6m.5-6.2v4.8m.5-4.9v6.6m.5-5.7v4.9m.5-6v8.3m.5-7.3v4.9m.5-5.3v4.5m.5-5v6.5m.5-9.9v14.2m.5-11.3v7.5m.5-7.6v7m.5-7.6v11.5m.5-11.3v8.5m.5-7v5.7m.5-6.3v6.6m.5-4.7v3.1m.5-3.5v4m.5-4.9v6.5m.5-9v10m.5-6.6v4.2m.5-3.7v2.2m.5-2.8v3.3m.5-2.7v2.4m.5-2.6v2.4m.5-2.5v2.7m.5-2.4v2.5m.5-2.5v2m.5-2v2.8m.5-2.8v2.2m.5-2.2v2m.5-2.1v2.1m.5-2.4v2.4m.5-2.8v3.4m.5-3.8v5.1m.5-4.5v2.9m.5-2.3v2m.5-3.4v4.6m.5-4v4m.5-4.5v5.1m.5-5.8v6.8m.5-6.1v4.6m.5-5.6v7.7m.5-7v8.6m.5-9.7v8.2m.5-6.1v3.2m.5-3.7v4.4m.5-3.5v2.5m.5-2.3v2m.5-3.4v5.6m.5-5.5v4.6m.5-5.1v5.9m.5-4.5v3m.5-3.1v3.4m.5-2.9v2.2m.5-2.5v3.5m.5-3.9v3.4m.5-2.7v2.4m.5-2.4v2m.5-2v2m.5-2v2m.5-2v2.4m.5-2.4v2.1m.5-2.1v2m.5-2v2m.5-2v2.1m.5-2.1v2m.5-2v2m.5-2v2m.5-2v2m.5-2v2m.5-2v2.1m.5-2.1v2m.5-2v2m.5-2v2.3m.5-2.3v2m.5-2v2m.5-2v2m.5-2v2m.5-2v2m.5-2v2m.5-2v2m.5-2v2m.5-2v2m.5-2v2.1m.5-2.1v2m.5-2v2m.5-2v2m.5-2.2v2.7m.5-2.5v2m.5-2v2m.5-2.1v2.2m.5-2.1v2" stroke="#0000ff" stroke-opacity="0.6" stroke-width="0.5" fill="none"/>
<path d="M279.5 127.9v.2m.5-.2v.3m.5-.3v.2m.5-.2v.2m.5-.4v.7m.5-.7v.7m.5-.7v.8m.5-.8v.8m.5-1v1.2m.5-1.7v2.4m.5-2.6v2.3m.5-2.5v3.2m.5-3.2v2.5m.5-2.4v2.4m.5-1.9v1.7m.5-1.4v1.1m.5-2v2.9m.5-2.7v2.3m.5-1.9v1.6m.5-2.1v2.9m.5-3.2v3.7m.5-3.7v3.5m.5-3.4v3.3m.5-3.7v4.4m.5-5.4v4.9m.5-4.2v4.6m.5-3.7v3.3m.5-2.8v1.5m.5-1.3v1.3m.5-1.1v.9m.5-1.9v2.7m.5-2.4v3.1m.5-3.1v2.3m.5-2v1.5m.5-1.3v1.3m.5-1.4v1.5m.5-1.2v.9m.5-.8v.6m.5-.6v.7m.5-.6v.4m.5-.3v.3m.5-.4v.4m.5-.2v.1m99-.2v.2m.5-.2v.3m.5-.4v.6m.5-.7v.6m.5-.5v.4m.5-.2v.1m101.5-.3v.4m.5-.4v.4m.5-.6v.8m.5-1.7v3.1m.5-3.8v4.5m.5-4.8v5.2m.5-7v9m.5-8.4v7.6m.5-8.2v9.1m.5-11.6v16.1m.5-12.5v7m.5-5.7v3.8m.5-6.1v9.5m.5-12.6v14.6m.5-11.9v9.2m.5-7.4v5.8m.5-6.6v7.5m.5-12.3v17m.5-12v9.2m.5-14.5v15.1m.5-13.9v17.5m.5-23.7v27.3m.5-27.2v28m.5-31.9v41.5m.5-33.6v21.3m.5-18.7v16.4m.5-14.3v11.2m.5-12.7v12.5m.5-13.1v14.7m.5-12.5v8.9m.5-8.6v9.3m.5-8.3v7.5m.5-8.1v7.6m.5-6.6v6m.5-5.5v5.4m.5-4.7v5.2m.5-5v3m.5-2.8v2.7m.5-4.2v5.9m.5-7.1v8.4m.5-8.2v8.8m.5-7.3v5.1m.5-6.7v7.5m.5-5.7v5m.5-6.8v8.2m.5-7.8v9m.5-11.6v13.3m.5-20.3v25.3m.5-22v19.2m.5-16.7v16.6m.5-14.9v11.2m.5-7.5v4.1m43.5-2.3v.2m.5-.4v.6m.5-.8v1m.5-1.3v1.5m.5-1.1v.9m.5-.7v.5m.5-.4v.2m9-.2v.2m.5-.5v.9m.5-1.8v2.9m.5-2.8v2.5m.5-2.9v3.3m.5-2.2v1.1m9-.7v.2m.5-1.3v2.5m.5-2.7v2.6m.5-3.3v6.7m.5-9.8v11m.5-9.1v7.1m.5-5.5v3.8m.5-4.1v4.8m.5-4.6v3.3m.5-3.6v4.3m.5-3.7v3.6m.5-4.4v5.4m.5-4.1v2.1m.5-1.8v1.5m.5-1.9v2.4m.5-2.3v2.6m.5-2v1m.5-.7v.2" stroke="#0000ff" stroke-opacity="0.5" stroke-width="0.5" fill="none"/>
<path d="M44 127.1L44.5 127.7L45 127.4L45.5 126.5L46 127.2L46.5 126L47 126.4L47.5 125.7L48 125.8L48.5 126L49 127L49.5 126.7L50 126L50.5 126.2L51 126L51.5 126.4L52 125.7L52.5 125.9L53 125.3L53.5 126.3L54 126L54.5 126.4L55 126.9L55.5 127.4L56 127.3L56.5 126.7L57 126.9L57.5 126.8L58 126.6L58.5 127.2L59 127L59.5 126.5L60 126.7L60.5 127.1L61 127.3L61.5 126.5L62 126.3L62.5 126.2L63 126.3L63.5 126.4L64 126.2L64.5 126.5L65 127.4L65.5 127.6L66 127.6L66.5 127.3L67 127L67.5 127.5L68 126.2L68.5 126.2L69 126.7L69.5 126.5L70 126.7L70.5 127.1L71 127.1L71.5 126.3L72 126.8L72.5 126.2L73 126.3L73.5 125.2L74 125.8L74.5 126.4L75 126.8L75.5 126.6L76 126.8L76.5 127.4L77 127L77.5 126.8L78 126.2L78.5 127L79 126.8L79.5 127.2L80 126.8L80.5 127.2L81 126.5L81.5 126.4L82 126.7L82.5 126.4L83 126.5L83.5 126.3L84 126.6L84.5 126L85 126.2L85.5 126.9L86 126.6L86.5 126.5L87 127.4L87.5 127.3L88 126.8L88.5 126.1L89 126.9L89.5 126.5L90 127L90.5 127.3L91 126.8L91.5 126.8L92 127.2L92.5 126.8L93 126.9L93.5 126.2L94 126.1L94.5 126.6L95 126.6L95.5 126.3L96 126.5L96.5 126.2L97 126.7L97.5 126.5L98 126.3L98.5 126.6L99 126.7L99.5 127L100 127.1L100.5 126.4L101 126.5L101.5 126.6L102 127.4L102.5 127.1L103 126.8L103.5 126.4L104 126.9L104.5 125.9L105 126.5L105.5 125.9L106 125.8L106.5 126L107 126.2L107.5 126.3L108 126.6L108.5 126.3L109 126.6L109.5 126.2L110 126.5L110.5 127L111 126L111.5 126.9L112 126.7L112.5 126.1L113 126.7L113.5 126.8L114 127L114.5 126.9L115 126.7L115.5 126.7L116 127.7L116.5 126.7L117 126.7L117.5 126.7L118 127.2L118.5 126.8L119 126.9L119.5 126.7L120 126.3L120.5 125.8L121 126.2L121.5 125.9L122 126.6L122.5 127.1L123 126.8L123.5 127L124 126.9L124.5 126.7L125 126.6L125.5 127.1L126 126.4L126.5 127.2L127 127.4L127.5 126.6L128 127.4L128.5 126.2L129 126.5L129.5 126.3L130 126.1L130.5 126L131 126.3L131.5 127.9L132 126.9L132.5 127.1L133 127.4L133.5 127.7L134 127.3L134.5 127.6L135 127L135.5 127.5L136 126.8L136.5 126.5L137 127L137.5 126.6L138 126.5L138.5 125.9L139 125.8L139.5 127.4L140 127L140.5 127.2L141 127.6L141.5 126.8L142 125.9L142.5 126.8L143 126.2L143.5 125.9L144 126.3L144.5 125.9L145 126.6L145.5 126.5L146 126.5L146.5 127.3L147 126.8L147.5 125.7L148 126.7L148.5 126.2L149 126.3L149.5 126.7L150 127.1L150.5 126.9L151 126.8L151.5 128.1L152 127.3L152.5 127.5L153 127.4L153.5 126.5L154 126.8L154.5 125.9L155 125.7L155.5 126.5L156 127L156.5 127.4L157 127.1L157.5 127.2L158 127.3L158.5 126.9L159 125.8L159.5 125.9L160 125.9L160.5 126.7L161 126L161.5 126.6L162 126.1L162.5 126L163 126.6L163.5 126.4L164 127.1L164.5 126.2L165 126.9L165.5 126.7L166 126.6L166.5 126.4L167 126.4L167.5 126.2L168 126.7L168.5 126.1L169 125.2L169.5 125.9L170 125.8L170.5 126.6L171 127.1L171.5 126.6L172 126.1L172.5 126.8L173 125.7L173.5 125.6L174 126.4L174.5 126L175 125.7L175.5 126.2L176 125.8L176.5 126L177 125.7L177.5 126.1L178 126.3L178.5 126.4L179 126.4L179.5 126.6L180 126.8L180.5 126.9L181 127.9L181.5 126.9L182 126.8L182.5 127.1L183 126.3L183.5 125.8L184 125.6L184.5 125.4L185 125.9L185.5 125.5L186 126.6L186.5 126.2L187 127.5L187.5 126.8L188 126.3L188.5 126.4L189 125.1L189.5 125.2L190 125.7L190.5 126.4L191 125.4L191.5 127L192 127.3L192.5 126.5L193 126.2L193.5 125.7L194 126.5L194.5 125.7L195 125.9L195.5 127.1L196 126.6L196.5 126L197 125.7L197.5 125.3L198 124.8L198.5 124.3L199 124.8L199.5 125.6L200 125.5L200.5 124.8L201 126.1L201.5 126.2L202 126.1L202.5 125.7L203 126.8L203.5 126.4L204 126.8L204.5 128L205 127.5L205.5 127L206 126.5L206.5 127.2L207 126.5L207.5 127.1L208 127.6L208.5 126.6L209 126.6L209.5 126.2L210 125.7L210.5 125.5L211 125.9L211.5 126L212 126.7L212.5 127.5L213 126.5L213.5 126.5L214 126.6L214.5 126.5L215 126.6L215.5 126.8L216 127.5L216.5 126.5L217 126.7L217.5 126.7L218 126.3L218.5 126.3L219 126.1L219.5 126.3L220 126.6L220.5 126.2L221 126.7L221.5 127.3L222 127L222.5 125.8L223 125.9L223.5 126.5L224 126.1L224.5 126.4L225 127.7L225.5 127.4L226 127.7L226.5 127.5L227 127L227.5 126.3L228 126.4L228.5 126.7L229 125.5L229.5 126L230 126.5L230.5 127.3L231 126.8L231.5 127.9L232 127.2L232.5 126.6L233 126.8L233.5 126.2L234 125.4L234.5 124.9L235 124.6L235.5 124.5L236 124.9L236.5 126.7L237 125.8L237.5 126.4L238 126.9L238.5 126.7L239 125.3L239.5 125.2L240 125.4L240.5 125.2L241 125.8L241.5 125.7L242 125.4L242.5 125.5L243 125.6L243.5 125.8L244 125.9L244.5 127.8L245 127.9L245.5 127.6L246 128.2L246.5 127.1L247 126.4L247.5 126.9L248 126.8L248.5 127.3L249 127.6L249.5 128L250 126L250.5 125.7L251 126.3L251.5 126.5L252 125.5L252.5 126.1L253 125.9L253.5 126.2L254 126.2L254.5 126.4L255 127.1L255.5 127.7L256 127.1L256.5 126.5L257 125.7L257.5 126.1L258 125.3L258.5 125.1L259 125.6L259.5 126.2L260 126.2L260.5 127L261 127L261.5 127.4L262 127.6L262.5 126.9L263 127L263.5 126.6L264 125.7L264.5 126.9L265 126.3L265.5 127L266 127.5L266.5 125.6L267 125.7L267.5 125.5L268 126L268.5 125.9L269 127.4L269.5 127.6L270 126.7L270.5 125.7L271 125.7L271.5 125.4L272 123.8L272.5 124.9L273 125L273.5 126.1L274 126.2L274.5 127.1L275 128.2L275.5 126.7L276 128.2L276.5 127.4L277 126.8L277.5 125.9L278 127.5L278.5 125.9L279 125L279.5 124.7L280 124.9L280.5 123.3L281 125.2L281.5 125.9L282 126.4L282.5 126.1L283 127.7L283.5 125.7L284 124.2L284.5 123.2L285 122.9L285.5 123.9L286 126.3L286.5 126.6L287 128.5L287.5 130.4L288 129.9L288.5 127.8L289 127.4L289.5 125.8L290 124.5L290.5 123.6L291 125L291.5 124.2L292 126.4L292.5 127.4L293 127.9L293.5 128L294 127.2L294.5 126.3L295 125.9L295.5 126.4L296 126.5L296.5 126.7L297 128.2L297.5 127.3L298 126.6L298.5 126.3L299 126.2L299.5 123.4L300 124.2L300.5 124.4L301 123.1L301.5 125.3L302 126.2L302.5 125.4L303 125.1L303.5 124.4L304 124.3L304.5 124.3L305 124.4L305.5 125.5L306 125.4L306.5 125L307 126.4L307.5 126.3L308 127.4L308.5 127L309 127.1L309.5 127.1L310 126.7L310.5 126.9L311 126.7L311.5 127.4L312 126.5L312.5 127L313 126.4L313.5 126.5L314 126.2L314.5 125.9L315 124.7L315.5 126.5L316 127.1L316.5 126.7L317 126.9L317.5 126.5L318 126.1L318.5 127.9L319 128.1L319.5 127.4L320 127.9L320.5 126.9L321 125.9L321.5 126.8L322 127.6L322.5 128.1L323 128L323.5 128.4L324 128.2L324.5 129L325 128.9L325.5 128.8L326 127.7L326.5 128.3L327 126.9L327.5 127.5L328 128.3L328.5 128.1L329 128.9L329.5 129L330 128.8L330.5 126.9L331 126.4L331.5 126.3L332 126L332.5 126.3L333 126.7L333.5 127.7L334 127.5L334.5 127.1L335 126.1L335.5 125.5L336 125.8L336.5 125.1L337 126.1L337.5 126.3L338 126.8L338.5 126.9L339 126.8L339.5 126.8L340 126.4L340.5 127.2L341 127.2L341.5 126.4L342 126.5L342.5 126.7L343 126.5L343.5 125.6L344 125.6L344.5 125.2L345 125.6L345.5 125.3L346 125.8L346.5 126L347 127.1L347.5 126.4L348 127.3L348.5 126.4L349 125.8L349.5 125.2L350 125.7L350.5 125.5L351 125.6L351.5 126.4L352 126.1L352.5 126.5L353 127.2L353.5 127.3L354 126.4L354.5 125.8L355 124.8L355.5 124.9L356 126.2L356.5 125.4L357 125.9L357.5 126.2L358 126.3L358.5 125.4L359 126.9L359.5 125.7L360 125.8L360.5 125.9L361 126L361.5 127.3L362 126.7L362.5 126.8L363 127.1L363.5 127.2L364 126.3L364.5 126.1L365 126.6L365.5 127L366 126.4L366.5 126.2L367 127L367.5 126.6L368 126.6L368.5 126.1L369 126.9L369.5 126.9L370 125.6L370.5 125.3L371 125.1L371.5 126.1L372 126.8L372.5 126.8L373 127.4L373.5 127L374 127.8L374.5 127.2L375 126.2L375.5 126L376 127.5L376.5 127.7L377 126.7L377.5 128.2L378 128.2L378.5 127.3L379 127.4L379.5 127.6L380 126.8L380.5 126.7L381 126.3L381.5 125.5L382 125.9L382.5 125L383 125L383.5 125L384 125.1L384.5 124.4L385 124.5L385.5 123.9L386 124.4L386.5 125.4L387 125.7L387.5 125L388 125L388.5 126L389 125.5L389.5 124.8L390 126.3L390.5 125.4L391 126L391.5 126.5L392 127.5L392.5 125.8L393 126.1L393.5 126.2L394 127.4L394.5 126.9L395 125.2L395.5 125.8L396 126.1L396.5 126.3L397 127.3L397.5 127.6L398 128.3L398.5 127.4L399 126.6L399.5 125.7L400 127.1L400.5 126.1L401 125L401.5 123.8L402 124L402.5 123.1L403 122L403.5 122.9L404 124.8L404.5 125.9L405 125.2L405.5 126.4L406 126.9L406.5 126.8L407 126.6L407.5 124.2L408 124.3L408.5 122.3L409 123L409.5 122.9L410 124.1L410.5 125.7L411 126.9L411.5 126.6L412 126.9L412.5 126.8L413 126.7L413.5 127.2L414 125.3L414.5 126.2L415 125.4L415.5 125.9L416 126.1L416.5 127.4L417 127.7L417.5 127.7L418 127.3L418.5 128L419 128.4L419.5 127.2L420 126.2L420.5 127.3L421 125.8L421.5 125.3L422 125.9L422.5 125.7L423 124.8L423.5 126.2L424 126.8L424.5 125.5L425 126.5L425.5 126.5L426 126.3L426.5 125.3L427 125.9L427.5 125L428 124.5L428.5 123.5L429 124.7L429.5 125.8L430 126.3L430.5 127.4L431 126.5L431.5 126.5L432 126.5L432.5 127.1L433 126L433.5 126.8L434 127.2L434.5 127.2L435 127.7L435.5 128.2L436 128.4L436.5 127.3L437 128.2L437.5 126.5L438 126.8L438.5 126.8L439 126.6L439.5 126.2L440 126.6L440.5 126.5L441 126.1L441.5 126.2L442 126.4L442.5 126.9L443 127.1L443.5 126.7L444 127.1L444.5 127.1L445 127.2L445.5 127.1L446 126.9L446.5 126.5L447 126.8L447.5 126.8L448 126.2L448.5 126.4L449 125.7L449.5 126.2L450 125.9L450.5 126.2L451 126.1L451.5 127L452 126.3L452.5 126.1L453 126L453.5 126.7L454 125.5L454.5 126.2L455 125.7L455.5 126L456 125.8L456.5 125.9L457 126L457.5 125.2L458 124.9L458.5 125.3L459 126.3L459.5 125.7L460 127L460.5 127.1L461 126L461.5 125.3L462 125.5L462.5 124.6L463 126L463.5 125L464 126.6L464.5 126.6L465 126.9L465.5 127.4L466 126.9L466.5 126.9L467 126.9L467.5 126.8L468 127.2L468.5 126.6L469 125.9L469.5 125.6L470 126.2L470.5 126L471 126.1L471.5 126.3L472 125.6L472.5 125.6L473 126.7L473.5 126.5L474 127.1L474.5 126.3L475 127L475.5 126.4L476 126L476.5 126.4L477 125.4L477.5 125.4L478 126.1L478.5 125.2L479 125.6L479.5 125.5L480 124.6L480.5 125.2L481 125.5L481.5 126.3L482 127.1L482.5 126.4L483 126.9L483.5 125.9L484 125.8L484.5 125L485 126.5L485.5 126.6L486 126.4L486.5 126.2L487 126.3L487.5 126.3L488 125.9L488.5 126.4L489 126.9L489.5 127L490 127.5L490.5 126.1L491 126.2L491.5 125.4L492 124.4L492.5 124.7L493 125.4L493.5 125.1L494 126.2L494.5 126.7L495 126.3L495.5 126.5L496 126.4L496.5 125.4L497 125.9L497.5 126.6L498 126.2L498.5 126.7L499 126.4L499.5 126.2L500 126L500.5 125.7L501 124.9L501.5 125.3L502 125.5L502.5 124.2L503 125.1L503.5 126.3L504 126.4L504.5 125.9L505 126.3L505.5 127.1L506 127.3L506.5 128.4L507 129.2L507.5 128.8L508 127.4L508.5 127.4L509 126.2L509.5 124.9L510 126.2L510.5 126.3L511 125.7L511.5 127.4L512 127.6L512.5 128.2L513 127L513.5 127L514 128L514.5 127.4L515 127.8L515.5 126.6L516 126L516.5 126L517 125.3L517.5 123.8L518 127.4L518.5 128.8L519 129.3L519.5 131.1L520 130L520.5 129.8L521 125.5L521.5 123.8L522 123.1L522.5 124.4L523 123.6L523.5 124.8L524 126.2L524.5 127.1L525 127.8L525.5 129L526 129.2L526.5 130.1L527 127.4L527.5 127.7L528 125.7L528.5 123.8L529 123.6L529.5 123.9L530 124.1L530.5 125L531 124.8L531.5 125.5L532 127L532.5 127.6L533 128L533.5 127.8L534 127.4L534.5 126.6L535 125.9L535.5 126L536 126.1L536.5 125.8L537 125.2L537.5 125.9L538 124.9L538.5 126.3L539 125.7L539.5 126.2L540 127L540.5 127.1L541 125.9L541.5 126.2L542 125.4L542.5 125.9L543 125.6L543.5 124.9L544 125.9L544.5 126.8L545 125.6L545.5 126.6L546 126.8L546.5 127.5L547 127.4L547.5 127L548 127.2L548.5 127.4L549 127.2L549.5 127L550 126.1L550.5 126.5L551 126.2L551.5 125.5L552 126.8L552.5 126.7L553 126.2L553.5 127L554 127.2L554.5 126.4L555 126.5L555.5 126.7L556 125.4L556.5 125.5L557 126.1L557.5 125.6L558 126.8L558.5 125.7L559 126.4L559.5 126.1L560 126.8L560.5 125.9L561 125.7L561.5 126.5L562 126.2L562.5 126.8L563 126.8L563.5 127.2L564 128.2L564.5 127.3L565 126.5L565.5 127.3L566 126.1L566.5 126.3L567 126.4L567.5 127L568 126.9L568.5 127.3L569 126L569.5 126.5L570 126L570.5 126.9L571 126.4L571.5 126.5L572 124.1L572.5 125.4L573 125.2L573.5 124.7L574 125.8L574.5 127.1L575 126.8L575.5 126L576 125.4L576.5 125.2L577 125.9L577.5 126.8L578 125.2L578.5 126.1L579 125.4L579.5 125.6L580 126.5L580.5 126.9L581 126.1L581.5 126.1L582 126L582.5 125.3L583 126L583.5 126.9L584 126.3L584.5 128.1L585 128.8L585.5 128.2L586 128.1L586.5 126.8L587 126.3L587.5 123.9L588 123L588.5 123.9L589 123.5L589.5 123.9L590 124.6L590.5 125.2L591 125.3L591.5 126L592 125.9L592.5 125.8L593 125.3L593.5 124.5L594 124.9L594.5 124.2L595 124.4L595.5 124.9L596 124.8L596.5 124.9L597 125.1L597.5 124.9L598 123.1L598.5 125.2L599 125L599.5 126.3L600 128L600.5 128L601 126.8L601.5 126.5L602 124.6L602.5 126.3L603 125.3L603.5 125.7L604 126.3L604.5 126.2L605 124.8L605.5 126.5L606 126.8L606.5 126L607 126.6L607.5 128L608 127L608.5 127.2L609 126.4L609.5 126.1L610 126.1L610.5 124.5L611 124.2L611.5 125.9L612 127.1L612.5 126.2L613 127.4L613.5 127.4L614 126.8L614.5 125.5L615 125.9L615.5 126.3L616 125.7L616.5 126.1L617 127.5L617.5 127.7L618 129.2L618.5 128.9L619 128.8L619.5 128.9L620 127.3L620.5 126.2L621 127.4L621.5 126.9L622 128.1L622.5 126.5L623 126.5L623.5 127L624 126.9L624.5 126.5L625 126.2L625.5 125.9L626 125.9L626.5 125.1L627 125.2L627.5 125.7L628 126.5L628.5 127.1L629 126.5L629.5 126.5L630 127L630.5 127.6L631 126.9L631.5 126.9L632 127.7L632.5 126.6L633 126.5L633.5 126L634 125.5L634.5 126.6L635 126.7L635.5 126.9L636 127.3L636.5 127.2L637 126.4L637.5 127.2L638 126.2L638.5 126.3L639 126.5L639.5 126.6L640 127.2L640.5 127.3L641 127.7L641.5 127.2L642 127.7L642.5 127.2L643 127.4L643.5 126.9L644 126.5L644.5 126.1L645 126.7L645 128.9L644.5 129.5L644 129.7L643.5 129.4L643 129.6L642.5 129.9L642 130.1L641.5 130.7L641 129.5L640.5 129.4L640 129.3L639.5 129.1L639 128.8L638.5 129.3L638 129.8L637.5 129.2L637 130.2L636.5 129.3L636 129.6L635.5 129L635 129L634.5 128.6L634 129.3L633.5 128.8L633 129L632.5 129.8L632 129.5L631.5 130.5L631 130.7L630.5 130L630 129.3L629.5 130.1L629 130.3L628.5 129.1L628 128.6L627.5 129.6L627 128.8L626.5 128.8L626 128.4L625.5 130L625 129.9L624.5 129.6L624 129.1L623.5 129.4L623 130.3L622.5 130.9L622 130.3L621.5 131L621 129.6L620.5 129.8L620 131.3L619.5 131.6L619 132L618.5 133.4L618 131.7L617.5 132.2L617 130.1L616.5 130.2L616 129L615.5 130.1L615 129.4L614.5 129.2L614 129.8L613.5 130.7L613 129.6L612.5 129.4L612 129.6L611.5 129L611 128.4L610.5 128.9L610 129.5L609.5 129.1L609 130.7L608.5 131.1L608 131.3L607.5 130.1L607 131.2L606.5 130.3L606 129.9L605.5 129.1L605 128.9L604.5 129.1L604 128.9L603.5 129.1L603 129.9L602.5 129.7L602 129.5L601.5 130.9L601 130.3L600.5 130.5L600 130.4L599.5 131.1L599 128.4L598.5 127.9L598 127.3L597.5 127.4L597 127.6L596.5 127.2L596 129.8L595.5 128.8L595 128.8L594.5 128.2L594 129.1L593.5 128.2L593 128.6L592.5 127.9L592 129.4L591.5 129.7L591 128.9L590.5 129L590 128.7L589.5 127.9L589 126.7L588.5 126.4L588 127.2L587.5 128.5L587 131.3L586.5 130.8L586 133.1L585.5 133.2L585 133.6L584.5 130.6L584 131L583.5 130.5L583 130.5L582.5 129.2L582 128.6L581.5 130.3L581 129.9L580.5 129.4L580 129.1L579.5 129.5L579 129.7L578.5 129.2L578 128.9L577.5 129.1L577 129.6L576.5 129.9L576 130L575.5 130.9L575 130.5L574.5 131.1L574 129.7L573.5 129.7L573 127.8L572.5 128L572 128.6L571.5 128.8L571 129.4L570.5 129.3L570 129.8L569.5 129.6L569 130.4L568.5 129.5L568 130.1L567.5 130.1L567 130.4L566.5 129.5L566 129.7L565.5 129.5L565 130.2L564.5 131L564 130.8L563.5 130.6L563 130.6L562.5 130L562 128.9L561.5 128.4L561 129.8L560.5 128L560 128.8L559.5 130.1L559 129.5L558.5 129.9L558 129.2L557.5 128.8L557 128.3L556.5 129.6L556 129.1L555.5 128.9L555 130.2L554.5 129.9L554 129.4L553.5 130L553 130.1L552.5 129.5L552 129.8L551.5 129.6L551 129.6L550.5 130.3L550 130.4L549.5 129.4L549 130.6L548.5 130.5L548 130.8L547.5 130.4L547 129.9L546.5 129.6L546 130L545.5 128.8L545 129.1L544.5 128.8L544 129.3L543.5 129.1L543 128L542.5 128.1L542 128.2L541.5 128.5L541 129.5L540.5 129.8L540 129.8L539.5 129.6L539 128.6L538.5 128.4L538 129.4L537.5 128.3L537 128.6L536.5 129.2L536 128.6L535.5 128.5L535 130.1L534.5 130.2L534 130L533.5 130.8L533 130.8L532.5 130.9L532 130.4L531.5 129.3L531 128.9L530.5 127.7L530 126.8L529.5 127.7L529 127.1L528.5 128.9L528 129L527.5 130.6L527 132.1L526.5 132.6L526 132.5L525.5 132.6L525 130.1L524.5 131.1L524 129L523.5 127.3L523 126.4L522.5 127.4L522 125.6L521.5 128.8L521 130L520.5 132.1L520 134.6L519.5 134.1L519 132.2L518.5 133.3L518 131L517.5 128.7L517 129.6L516.5 128.7L516 129.7L515.5 130.4L515 130.4L514.5 130.6L514 130.5L513.5 130.8L513 130.3L512.5 130.9L512 130.4L511.5 130.7L511 130.7L510.5 129.2L510 128.8L509.5 127.9L509 130.1L508.5 130.3L508 130.9L507.5 131.4L507 133L506.5 132.3L506 130.8L505.5 131.9L505 131.3L504.5 130.5L504 128.8L503.5 129.1L503 128.5L502.5 128.5L502 128.3L501.5 128.9L501 129.2L500.5 128.6L500 128.8L499.5 128.7L499 129.1L498.5 129.1L498 129.4L497.5 128.9L497 128.8L496.5 128.9L496 128.7L495.5 129.2L495 130.1L494.5 130.2L494 128.6L493.5 128.3L493 128L492.5 127.5L492 128.5L491.5 129.7L491 129.7L490.5 129.7L490 129.7L489.5 130.5L489 129.1L488.5 129.2L488 129.7L487.5 128.6L487 129.2L486.5 130.1L486 129.4L485.5 128.5L485 128.6L484.5 128.4L484 127.8L483.5 129.2L483 128.8L482.5 129.9L482 129.3L481.5 129.9L481 129.3L480.5 128.4L480 128.4L479.5 128L479 128.2L478.5 129.4L478 128.4L477.5 129.2L477 129.7L476.5 128.5L476 129L475.5 129.9L475 130.3L474.5 130.1L474 129.2L473.5 129.6L473 129L472.5 129.8L472 129.6L471.5 129L471 129.1L470.5 128.9L470 128.3L469.5 129.6L469 129.9L468.5 129.3L468 129.9L467.5 130.7L467 130.6L466.5 131.1L466 130.9L465.5 130.2L465 130.8L464.5 130.6L464 129L463.5 129.2L463 128.1L462.5 128.5L462 128.4L461.5 128.9L461 130.2L460.5 129L460 129.8L459.5 129.9L459 129.1L458.5 129.1L458 129.2L457.5 128.1L457 128L456.5 128.4L456 128.5L455.5 128.9L455 129.6L454.5 128.8L454 129.6L453.5 129.8L453 128.9L452.5 129.7L452 129.9L451.5 129.1L451 129L450.5 130.1L450 129L449.5 128.8L449 129.3L448.5 129.3L448 129.6L447.5 129.8L447 129.8L446.5 130.8L446 129.5L445.5 129.6L445 129.2L444.5 129.9L444 130.5L443.5 130.9L443 129.9L442.5 130.5L442 130L441.5 129.1L441 130.2L440.5 129.4L440 129.8L439.5 129.7L439 129.9L438.5 130.1L438 130.1L437.5 130.6L437 130.7L436.5 131.6L436 130.6L435.5 131.1L435 130.5L434.5 131.2L434 130.1L433.5 129.7L433 130.3L432.5 130.1L432 129.5L431.5 130.1L431 130.4L430.5 130.4L430 129.2L429.5 128L429 127.4L428.5 127.3L428 126.8L427.5 127.4L427 127.9L426.5 128.2L426 129.7L425.5 129.9L425 129.6L424.5 129.9L424 131.2L423.5 130L423 128.4L422.5 128.8L422 129L421.5 128L421 128.2L420.5 129.6L420 130.6L419.5 131.1L419 130.7L418.5 131.2L418 131.4L417.5 130.7L417 130.6L416.5 131.8L416 130.2L415.5 129.6L415 129.6L414.5 129.1L414 129.5L413.5 130.4L413 130.6L412.5 130.4L412 129.2L411.5 129.8L411 129.1L410.5 129L410 128.5L409.5 127.2L409 126.9L408.5 126.3L408 127.5L407.5 128.4L407 129.2L406.5 129.8L406 130.7L405.5 129.4L405 130.1L404.5 129.3L404 127.7L403.5 127.4L403 126.9L402.5 128L402 127.5L401.5 128.6L401 130L400.5 129.7L400 129.5L399.5 130.5L399 130.8L398.5 130.5L398 132.5L397.5 132L397 129.8L396.5 129.3L396 130.4L395.5 128.9L395 128.7L394.5 129.1L394 130L393.5 129L393 129.8L392.5 130.2L392 129.6L391.5 129.4L391 129.8L390.5 129.2L390 128.8L389.5 128.5L389 127.8L388.5 128.4L388 129L387.5 129.2L387 128L386.5 128.4L386 127.9L385.5 127.9L385 127.2L384.5 128L384 127.2L383.5 128.6L383 129.2L382.5 127.9L382 128.2L381.5 129.3L381 129.5L380.5 129.4L380 130.4L379.5 130.1L379 130L378.5 129.3L378 130.7L377.5 132.5L377 131L376.5 129.8L376 130.3L375.5 130L375 128.8L374.5 129.6L374 129.8L373.5 130.5L373 130.3L372.5 131L372 129.3L371.5 128.2L371 129.3L370.5 129.2L370 128.3L369.5 129.4L369 131.3L368.5 130.1L368 128.6L367.5 129.7L367 130.1L366.5 130.4L366 130.5L365.5 130.6L365 130.2L364.5 129L364 130L363.5 130.7L363 129.6L362.5 130.8L362 131L361.5 129.6L361 129.3L360.5 130L360 129.5L359.5 129.4L359 129.1L358.5 129.3L358 128.5L357.5 129.5L357 129.8L356.5 127.9L356 128.6L355.5 128.8L355 128.9L354.5 128.9L354 129L353.5 129.6L353 130.6L352.5 129.3L352 128.7L351.5 130L351 128.7L350.5 128.5L350 129.1L349.5 129.6L349 129.3L348.5 130.4L348 130.3L347.5 130.5L347 130.1L346.5 129.4L346 128.5L345.5 128L345 129.3L344.5 129.2L344 128.8L343.5 128.7L343 130.6L342.5 128.9L342 130.1L341.5 130.6L341 131L340.5 129.9L340 130.9L339.5 130.2L339 130.9L338.5 129.5L338 129.6L337.5 130.8L337 130.4L336.5 129L336 129L335.5 129.7L335 130L334.5 129.6L334 131.1L333.5 131.2L333 130.1L332.5 128.8L332 128.9L331.5 129.3L331 130.6L330.5 131.3L330 131.8L329.5 132.5L329 131.5L328.5 131.2L328 131.6L327.5 131L327 130.4L326.5 130.9L326 131.7L325.5 130.9L325 131.7L324.5 133L324 132.7L323.5 132.3L323 131.7L322.5 130.9L322 129.9L321.5 129.8L321 130.2L320.5 131.1L320 130.1L319.5 131.3L319 130.5L318.5 130.5L318 130.3L317.5 131L317 129.7L316.5 130.5L316 129.7L315.5 129.8L315 129L314.5 128.5L314 128.7L313.5 128.8L313 129L312.5 130.7L312 130.8L311.5 129.6L311 130.8L310.5 131.5L310 130.8L309.5 131L309 131.2L308.5 130.8L308 130L307.5 130L307 129.4L306.5 129.2L306 128.2L305.5 127.9L305 128.6L304.5 128L304 127.6L303.5 129.1L303 128L302.5 129.2L302 129.3L301.5 128.1L301 127.9L300.5 128.7L300 128.9L299.5 127.7L299 129L298.5 130.7L298 130.4L297.5 130.4L297 132L296.5 131.4L296 130L295.5 129L295 128.6L294.5 130L294 132.2L293.5 132.9L293 132.9L292.5 131.2L292 130.4L291.5 128.9L291 127.3L290.5 126.7L290 127.7L289.5 130.4L289 132.4L288.5 132.7L288 132.7L287.5 134.6L287 132.5L286.5 131.6L286 129.2L285.5 127.9L285 127.4L284.5 127.8L284 128.2L283.5 128.6L283 130.8L282.5 131L282 130.1L281.5 130.6L281 128.6L280.5 128.3L280 127.8L279.5 128.7L279 127.4L278.5 129.4L278 130.8L277.5 130.4L277 131.1L276.5 132.3L276 131.5L275.5 131.6L275 130.8L274.5 130L274 130.1L273.5 129.3L273 128.8L272.5 129L272 128.1L271.5 128.9L271 129.3L270.5 129.8L270 130.3L269.5 129.8L269 129.6L268.5 128.6L268 128.1L267.5 128.9L267 128.9L266.5 128.8L266 129.8L265.5 130L265 129.2L264.5 129.4L264 129.5L263.5 129.1L263 130L262.5 130L262 131L261.5 130.5L261 130L260.5 129.5L260 130.3L259.5 128.2L259 128.4L258.5 128.4L258 128.1L257.5 128.7L257 129L256.5 130L256 130.9L255.5 130.3L255 130.4L254.5 130.4L254 129.4L253.5 128.6L253 130L252.5 129.3L252 129.7L251.5 129.3L251 130.1L250.5 129.6L250 130L249.5 130.5L249 131L248.5 130.3L248 131L247.5 131.1L247 130.6L246.5 131L246 130.2L245.5 131.9L245 130.3L244.5 130.2L244 129.8L243.5 129.9L243 128.7L242.5 129L242 128.7L241.5 129L241 128.1L240.5 128.2L240 128.9L239.5 128.7L239 128.9L238.5 128.7L238 130L237.5 129.9L237 129.5L236.5 128.8L236 128.7L235.5 128.1L235 127.8L234.5 128.9L234 129L233.5 129.9L233 130.2L232.5 130.8L232 131.5L231.5 130.3L231 130.1L230.5 129.5L230 130.2L229.5 129L229 129.7L228.5 129.6L228 129.4L227.5 129.9L227 130.5L226.5 130.6L226 130.2L225.5 131.3L225 130.3L224.5 130.4L224 130.1L223.5 129L223 129.5L222.5 129.9L222 130.5L221.5 129.9L221 130.5L220.5 130L220 130.3L219.5 129.4L219 129.6L218.5 129.8L218 130.1L217.5 130L217 130.3L216.5 130.8L216 129.8L215.5 130.7L215 129.9L214.5 129.6L214 130L213.5 130.2L213 130.7L212.5 129.6L212 129.6L211.5 129L211 128.7L210.5 128.4L210 129L209.5 130.5L209 130.6L208.5 130.8L208 130.3L207.5 129.5L207 128.8L206.5 129.5L206 130.6L205.5 129.1L205 130L204.5 130.2L204 129.2L203.5 128.6L203 129.5L202.5 129.2L202 128.1L201.5 128.6L201 129.3L200.5 128.9L200 129.1L199.5 127.6L199 127.6L198.5 127.7L198 128.5L197.5 128.4L197 129.7L196.5 130.3L196 130.1L195.5 129.3L195 129.6L194.5 129.5L194 128.8L193.5 130L193 129.3L192.5 130.1L192 129.5L191.5 129.9L191 129.7L190.5 128.4L190 128.3L189.5 128.3L189 128.8L188.5 129.3L188 130.2L187.5 129.2L187 129.7L186.5 129.9L186 128.7L185.5 129.6L185 129.3L184.5 129.2L184 129.2L183.5 129.7L183 130.1L182.5 130.3L182 130.6L181.5 130.8L181 130.2L180.5 129.4L180 129.6L179.5 129L179 129.9L178.5 128.8L178 129.7L177.5 129.1L177 129.6L176.5 129.1L176 129.8L175.5 129.2L175 129.5L174.5 128.9L174 128.2L173.5 128.9L173 129.2L172.5 128.8L172 129.8L171.5 129.9L171 129.1L170.5 128.5L170 128.9L169.5 129.1L169 129.2L168.5 128.1L168 128.9L167.5 129.6L167 129.6L166.5 129.8L166 129.9L165.5 129L165 128.8L164.5 130.1L164 129.6L163.5 130L163 129.1L162.5 129.9L162 129.2L161.5 128.4L161 129.2L160.5 129.3L160 129.3L159.5 129.3L159 129.4L158.5 128.9L158 129.2L157.5 129.5L157 129.7L156.5 129.5L156 129.1L155.5 129.3L155 129.4L154.5 129.7L154 128.7L153.5 130.4L153 129.6L152.5 131.1L152 130.4L151.5 130L151 129.8L150.5 129.1L150 129.4L149.5 129L149 129.1L148.5 129.5L148 129.3L147.5 129.7L147 129.5L146.5 129.2L146 130L145.5 130L145 129.3L144.5 129.9L144 129L143.5 129.5L143 129.5L142.5 128.8L142 129.5L141.5 130L141 129.8L140.5 129.6L140 129.7L139.5 129.4L139 129.7L138.5 129.2L138 128.8L137.5 129.1L137 129L136.5 129.6L136 129.1L135.5 129.7L135 130.6L134.5 130.5L134 130.7L133.5 130.8L133 130.7L132.5 131L132 130.7L131.5 129.7L131 130L130.5 129.5L130 129L129.5 128.5L129 128.6L128.5 130L128 129.2L127.5 130.4L127 130L126.5 129.4L126 129.9L125.5 129.7L125 130L124.5 129.7L124 130L123.5 129.5L123 129.4L122.5 129.3L122 129.5L121.5 129.6L121 129.6L120.5 129.7L120 129.5L119.5 129.5L119 129.7L118.5 129.8L118 129.9L117.5 130.7L117 130.5L116.5 130.2L116 129.8L115.5 130.6L115 129.5L114.5 129.3L114 129.8L113.5 129.4L113 128.8L112.5 129.8L112 129.4L111.5 129.1L111 129.9L110.5 129.6L110 129.7L109.5 129.6L109 129.5L108.5 129.7L108 129.3L107.5 129.8L107 129.6L106.5 129.2L106 129.5L105.5 129.2L105 128.7L104.5 129.5L104 128.8L103.5 130.2L103 129.7L102.5 129.6L102 129.6L101.5 130L101 129.4L100.5 130.3L100 129.4L99.5 129L99 129.4L98.5 129.6L98 129.4L97.5 129.4L97 129.4L96.5 129.9L96 129.2L95.5 129.1L95 129.2L94.5 128.9L94 129.7L93.5 129.5L93 129.7L92.5 129.3L92 129.5L91.5 129.8L91 130.4L90.5 129.3L90 129.3L89.5 130L89 129.4L88.5 130L88 129.4L87.5 129.9L87 129.5L86.5 130.4L86 130.3L85.5 129.6L85 129.4L84.5 129.4L84 129.3L83.5 129.4L83 129.2L82.5 129.3L82 129.2L81.5 129.4L81 129.7L80.5 129.6L80 129.8L79.5 129.3L79 129.5L78.5 129L78 129.9L77.5 129.7L77 129.8L76.5 129.8L76 130.5L75.5 130.2L75 129.1L74.5 128.9L74 128.9L73.5 129.2L73 128.4L72.5 129.6L72 129.2L71.5 130L71 129.8L70.5 129.3L70 129L69.5 128.9L69 129.5L68.5 130L68 130.2L67.5 129.6L67 130.9L66.5 130L66 129.5L65.5 129.4L65 129.4L64.5 130L64 130.2L63.5 129.1L63 129.8L62.5 130.2L62 130.2L61.5 130.1L61 130L60.5 129.8L60 129.8L59.5 129.8L59 129.7L58.5 129.8L58 130.4L57.5 130.2L57 129.8L56.5 129.3L56 129.2L55.5 129.2L55 129.1L54.5 129.3L54 129.6L53.5 128.6L53 128.8L52.5 128.9L52 129.2L51.5 128.9L51 129.5L50.5 130.1L50 129.9L49.5 129.7L49 128.9L48.5 129.5L48 129.5L47.5 129.5L47 128.6L46.5 129.6L46 129.4L45.5 130.3L45 130.1L44.5 129.8L44 130.2Z" fill="#0000ff" fill-opacity="0.95"/>
<path d="M96.8 120.5V156.3M91.8 128V136.5M105.4 128V135.8M114 128V141.5M146.8 123.8V136.4M148 123.8V136.4M146.2 125.9V132.2M148.6 125.9V132.2M149.8 128V137.8M152.3 128V137.8M156.1 121.6V143.2M157.3 121.6V143.2M155.5 124.8V135.6M157.9 124.8V135.6M158.2 112V199.5M163.4 128V136.5M175.2 128V146.4M181.2 128V145.2M184.4 128V145.2M187.6 128V139M196.7 128V146.4M200.4 128V140M207.8 128V144M209.8 128V145M218.2 113V157.5M222.6 128V156.3M236.7 110V170.6M252.1 121V133.1M253.3 121V133.1M251.5 124.5V130.5M253.9 124.5V130.5M258.7 128V144.7M268.2 128V136.6M269.4 128V136.6M267.6 128V132.3M270 128V132.3M275.7 128V144M278.6 128V176M292.2 86V167.4M291.8 117.6V136.8M293 117.6V136.8M291.2 122.8V132.4M293.6 122.8V132.4M323.3 110V142.7M359.3 118V137.8M379 117V136.5M399.9 122.4V135.4M401.1 122.4V135.4M399.3 125.2V131.7M401.7 125.2V131.7M413.1 128V149M416 104V211M419.7 128V157.5M422.2 128V150M427.1 116.3V172.3M448 118V128M450.6 128V147M456.8 114.3V128M458.6 120.1V143.1M459.8 120.1V143.1M458 124V135.5M460.4 124V135.5M467.4 128V158.8M469.8 128V155M475.3 118V165.7M483.2 128V157.5M485.1 104V128M488.3 118V165M497.5 128V144M502 128V150M505.6 103.2V221.7M511.7 97.8V152.9M512.9 97.8V152.9M511.1 112.9V140.5M513.5 112.9V140.5M511.5 104.8V144.8M512.7 104.8V144.8M510.9 116.4V136.4M513.3 116.4V136.4M512.2 108.8V142.8M513.4 108.8V142.8M511.6 118.4V135.4M514 118.4V135.4M524.5 114.9V141M525.7 114.9V141M523.9 121.5V134.5M526.3 121.5V134.5M541.4 98.8V149.6M550.5 128V142.7M558.4 118V172.3" stroke="#0000ff" stroke-opacity="0.42" stroke-width="0.95" fill="none"/>
<path d="M147.4 117.5V148.9M156.7 112V166M252.7 110.6V140.7M268.8 128V149.6M400.5 114V146.4M459.2 108.2V165.7M512.3 52.6V190.3M525.1 95.3V160.5" stroke="#0000ff" stroke-opacity="0.62" stroke-width="1.0" fill="none"/>
<path d="M292.4 102V150M512.1 70V170M512.8 80V165" stroke="#0000ff" stroke-opacity="0.9" stroke-width="1.1" fill="none"/>
</g>
<rect x="43" y="45.9" width="603.1" height="1" fill="#bdbdbd"/>
<rect x="43" y="249.9" width="603.1" height="1" fill="#a4a4a4"/>
<rect x="43" y="46.4" width="1" height="204" fill="#bdbdbd"/>
<rect x="645.1" y="46.4" width="1" height="204" fill="#bdbdbd"/>
<text x="43.5" y="265" text-anchor="middle" font-size="12" >00:00</text>
<rect x="118.41" y="244.4" width="0.7" height="6" fill="#6a6a6a"/>
<rect x="118.41" y="46.4" width="0.7" height="6" fill="#6a6a6a"/>
<text x="118.76" y="265" text-anchor="middle" font-size="12" >03:00</text>
<rect x="193.68" y="244.4" width="0.7" height="6" fill="#6a6a6a"/>
<rect x="193.68" y="46.4" width="0.7" height="6" fill="#6a6a6a"/>
<text x="194.03" y="265" text-anchor="middle" font-size="12" >06:00</text>
<rect x="268.94" y="244.4" width="0.7" height="6" fill="#6a6a6a"/>
<rect x="268.94" y="46.4" width="0.7" height="6" fill="#6a6a6a"/>
<text x="269.29" y="265" text-anchor="middle" font-size="12" >09:00</text>
<rect x="344.2" y="244.4" width="0.7" height="6" fill="#6a6a6a"/>
<rect x="344.2" y="46.4" width="0.7" height="6" fill="#6a6a6a"/>
<text x="344.55" y="265" text-anchor="middle" font-size="12" >12:00</text>
<rect x="419.46" y="244.4" width="0.7" height="6" fill="#6a6a6a"/>
<rect x="419.46" y="46.4" width="0.7" height="6" fill="#6a6a6a"/>
<text x="419.81" y="265" text-anchor="middle" font-size="12" >15:00</text>
<rect x="494.73" y="244.4" width="0.7" height="6" fill="#6a6a6a"/>
<rect x="494.73" y="46.4" width="0.7" height="6" fill="#6a6a6a"/>
<text x="495.08" y="265" text-anchor="middle" font-size="12" >18:00</text>
<rect x="569.99" y="244.4" width="0.7" height="6" fill="#6a6a6a"/>
<rect x="569.99" y="46.4" width="0.7" height="6" fill="#6a6a6a"/>
<text x="570.34" y="265" text-anchor="middle" font-size="12" >21:00</text>
<text x="645.6" y="265" text-anchor="middle" font-size="12" >00:00</text>
<text x="38.9" y="50.6" text-anchor="end" font-size="12" >1</text>
<rect x="43.5" y="86.85" width="6" height="0.7" fill="#6a6a6a"/>
<rect x="639.6" y="86.85" width="6" height="0.7" fill="#6a6a6a"/>
<text x="38.9" y="91.4" text-anchor="end" font-size="12" >0.5</text>
<rect x="43.5" y="127.65" width="6" height="0.7" fill="#6a6a6a"/>
<rect x="639.6" y="127.65" width="6" height="0.7" fill="#6a6a6a"/>
<text x="38.9" y="132.2" text-anchor="end" font-size="12" >0</text>
<rect x="43.5" y="168.45" width="6" height="0.7" fill="#6a6a6a"/>
<rect x="639.6" y="168.45" width="6" height="0.7" fill="#6a6a6a"/>
<text x="38.9" y="173" text-anchor="end" font-size="12" >-0.5</text>
<rect x="43.5" y="209.25" width="6" height="0.7" fill="#6a6a6a"/>
<rect x="639.6" y="209.25" width="6" height="0.7" fill="#6a6a6a"/>
<text x="38.9" y="213.8" text-anchor="end" font-size="12" >-1</text>
<text x="38.9" y="254.6" text-anchor="end" font-size="12" >-1.5</text>
<text transform="translate(9.4,148.6) rotate(-90)" text-anchor="middle" font-size="12.4" font-weight="bold">X (nT)</text>
<rect x="836" y="45.9" width="604.1" height="205" fill="#00008f"/>
<g stroke-width="1" fill="none">
<path stroke="#00009f" d="M950.5 46v69M950.5 168v65M1025.5 79v4M1026.5 55v25M1040.5 192v59M1041.5 144v2M1042.5 148v67M1064.5 234v8M1065.5 187v14M1066.5 70v45M1067.5 64v2M1068.5 70v45M1069.5 187v14M1070.5 234v8M1073.5 156v70M1074.5 149v2M1075.5 152v40M1075.5 220v27M1078.5 226v23M1079.5 124v27M1080.5 58v2M1081.5 57v1M1082.5 66v24M1083.5 190v14M1084.5 146v30M1084.5 212v32M1085.5 138v2M1086.5 140v3M1088.5 175v23M1088.5 224v10M1089.5 173v2M1089.5 235v4M1102.5 222v10M1103.5 208v2M1104.5 209v2M1105.5 242v9M1110.5 206v45M1111.5 133v2M1112.5 133v1M1113.5 171v31M1145.5 185v22M1146.5 183v1M1147.5 195v48M1164.5 224v27M1165.5 216v1M1166.5 217v15M1180.5 224v11M1181.5 162v5M1182.5 160v2M1183.5 181v18M1184.5 208v12M1185.5 146v24M1186.5 116v2M1187.5 118v7M1188.5 189v9M1189.5 213v7M1190.5 177v6M1191.5 173v1M1192.5 177v6M1193.5 214v7M1199.5 168v2M1199.5 240v1M1200.5 170v4M1200.5 238v2M1201.5 178v4M1202.5 181v3M1203.5 47v118M1212.5 140v3M1213.5 140v3M1243.5 50v1M1243.5 226v1M1244.5 50v1M1244.5 226v2M1245.5 94v107M1259.5 218v26M1260.5 239v12M1288.5 46v75M1288.5 243v8M1292.5 145v21M1293.5 200v11M1294.5 151v5M1295.5 126v3M1298.5 126v3M1299.5 107v25M1300.5 102v1M1301.5 103v3M1302.5 181v17M1303.5 171v3M1304.5 168v2M1305.5 178v5M1306.5 156v74M1307.5 112v3M1308.5 109v2M1309.5 113v3M1310.5 133v4M1311.5 138v1M1312.5 137v1M1313.5 146v11M1313.5 227v6M1324.5 46v6M1325.5 83v2M1326.5 46v36M1327.5 225v9M1328.5 191v2M1329.5 190v1M1330.5 205v11M1340.5 46v118M1353.5 221v7M1354.5 190v5M1355.5 177v2M1356.5 176v1M1357.5 180v3M1358.5 200v5M1359.5 202v2M1360.5 201v2M1361.5 212v9M1365.5 213v11M1366.5 156v11M1367.5 144v1M1368.5 146v3M1369.5 187v8M1370.5 196v1M1371.5 212v18M1377.5 217v5M1378.5 196v4M1379.5 182v3M1380.5 175v1M1381.5 173v1M1382.5 176v1M1383.5 176v7M1384.5 170v2M1385.5 173v5M1386.5 228v23M1396.5 246v5M1397.5 216v3M1398.5 213v1M1399.5 216v3M1400.5 246v5M1406.5 224v8M1407.5 225v17"/>
<path stroke="#0000af" d="M950.5 115v37M950.5 161v7M950.5 233v18M1025.5 60v19M1026.5 46v9M1041.5 146v3M1042.5 215v36M1064.5 242v5M1065.5 201v7M1066.5 115v27M1067.5 66v3M1068.5 115v27M1069.5 201v7M1070.5 242v5M1074.5 151v2M1074.5 241v10M1075.5 192v28M1079.5 151v10M1080.5 60v2M1081.5 58v1M1082.5 90v15M1083.5 204v7M1084.5 176v36M1085.5 140v1M1086.5 143v5M1086.5 239v12M1088.5 198v26M1089.5 175v2M1089.5 230v5M1102.5 232v6M1103.5 210v1M1104.5 211v3M1111.5 135v2M1112.5 134v2M1113.5 202v49M1145.5 207v32M1146.5 184v1M1147.5 243v8M1165.5 217v1M1166.5 232v17M1180.5 235v8M1181.5 167v17M1182.5 162v1M1183.5 199v8M1184.5 220v8M1185.5 170v6M1186.5 118v2M1187.5 125v25M1188.5 198v6M1189.5 220v6M1190.5 183v5M1191.5 174v2M1192.5 183v5M1193.5 221v5M1199.5 170v2M1199.5 239v1M1200.5 174v64M1201.5 174v4M1202.5 178v3M1203.5 46v1M1212.5 92v48M1213.5 92v48M1243.5 51v2M1243.5 224v2M1244.5 51v1M1244.5 225v1M1259.5 98v120M1260.5 222v17M1292.5 166v15M1293.5 211v8M1294.5 156v3M1295.5 129v2M1298.5 129v2M1299.5 132v10M1300.5 103v1M1301.5 106v2M1302.5 198v10M1303.5 174v4M1304.5 170v2M1305.5 183v3M1306.5 230v13M1307.5 115v4M1308.5 111v1M1309.5 116v3M1310.5 137v3M1311.5 139v2M1312.5 138v1M1313.5 157v7M1313.5 222v5M1313.5 233v4M1325.5 81v2M1327.5 234v6M1328.5 193v4M1329.5 191v2M1330.5 216v6M1340.5 164v66M1342.5 46v95M1353.5 228v6M1354.5 195v3M1355.5 179v1M1356.5 177v1M1357.5 183v3M1358.5 205v4M1359.5 204v2M1360.5 203v1M1361.5 221v6M1365.5 224v8M1366.5 167v6M1367.5 145v2M1368.5 149v8M1369.5 195v3M1370.5 197v2M1371.5 230v9M1377.5 222v3M1378.5 200v3M1379.5 185v2M1380.5 176v2M1381.5 174v1M1382.5 177v2M1383.5 183v3M1384.5 172v2M1385.5 178v8M1397.5 219v4M1398.5 214v2M1399.5 219v4M1406.5 232v19M1407.5 242v9"/>
<path stroke="#0000bf" d="M950.5 152v9M1025.5 46v14M1041.5 149v25M1064.5 247v4M1065.5 208v5M1066.5 142v13M1067.5 69v2M1068.5 142v13M1069.5 208v5M1070.5 247v4M1074.5 153v2M1074.5 230v11M1079.5 161v9M1080.5 62v1M1081.5 59v2M1082.5 105v16M1083.5 211v10M1083.5 250v1M1085.5 141v2M1086.5 148v16M1086.5 227v12M1089.5 177v9M1089.5 225v5M1102.5 238v6M1103.5 211v1M1104.5 214v6M1111.5 137v4M1112.5 136v1M1145.5 239v12M1146.5 185v2M1165.5 218v1M1166.5 249v2M1180.5 243v6M1181.5 184v7M1182.5 163v3M1183.5 207v8M1184.5 228v7M1185.5 176v6M1186.5 120v3M1187.5 150v14M1188.5 204v5M1189.5 226v4M1190.5 188v5M1191.5 176v1M1192.5 188v5M1193.5 226v5M1199.5 172v2M1199.5 238v1M1201.5 170v4M1202.5 176v2M1212.5 46v46M1213.5 46v46M1243.5 53v1M1243.5 222v2M1244.5 52v1M1244.5 224v1M1259.5 46v52M1260.5 204v18M1291.5 46v20M1292.5 181v8M1293.5 219v4M1294.5 159v3M1295.5 131v1M1298.5 131v1M1299.5 142v7M1300.5 104v1M1301.5 108v8M1302.5 208v3M1303.5 178v3M1304.5 172v2M1305.5 186v7M1306.5 243v8M1307.5 119v4M1308.5 112v1M1309.5 119v2M1310.5 140v3M1311.5 141v1M1312.5 139v1M1313.5 164v5M1313.5 213v9M1313.5 237v4M1325.5 64v17M1327.5 240v5M1328.5 197v6M1329.5 193v1M1330.5 222v6M1340.5 230v17M1342.5 141v47M1353.5 234v5M1354.5 198v3M1355.5 180v2M1356.5 178v1M1357.5 186v2M1358.5 209v4M1359.5 206v4M1360.5 204v1M1361.5 227v6M1365.5 232v5M1366.5 173v6M1367.5 147v2M1368.5 157v5M1369.5 198v2M1370.5 199v1M1371.5 239v9M1377.5 225v4M1378.5 203v2M1379.5 187v2M1380.5 178v1M1381.5 175v1M1382.5 179v1M1383.5 186v2M1384.5 174v1M1385.5 186v5M1397.5 223v5M1398.5 216v1M1399.5 223v5"/>
<path stroke="#0000cf" d="M1041.5 174v32M1065.5 213v5M1066.5 155v10M1067.5 71v27M1068.5 155v10M1069.5 213v5M1074.5 155v15M1074.5 222v8M1079.5 170v7M1080.5 63v2M1081.5 61v1M1082.5 121v12M1083.5 221v10M1083.5 234v16M1085.5 143v2M1085.5 248v3M1086.5 164v10M1086.5 214v13M1089.5 186v39M1102.5 244v5M1103.5 212v2M1104.5 220v4M1111.5 141v7M1112.5 137v3M1146.5 187v15M1165.5 219v10M1180.5 249v2M1181.5 191v7M1182.5 166v7M1183.5 215v5M1184.5 235v4M1185.5 182v5M1186.5 123v12M1187.5 164v6M1188.5 209v6M1189.5 230v4M1190.5 193v3M1191.5 177v2M1192.5 193v3M1193.5 231v5M1199.5 174v29M1199.5 237v1M1201.5 166v4M1202.5 174v2M1243.5 54v7M1243.5 218v4M1244.5 53v1M1244.5 222v2M1260.5 66v138M1291.5 66v14M1292.5 189v5M1293.5 223v3M1294.5 162v3M1295.5 132v2M1298.5 132v2M1299.5 149v4M1300.5 105v1M1301.5 116v10M1302.5 211v3M1303.5 181v1M1304.5 174v2M1305.5 193v12M1307.5 123v3M1308.5 113v1M1309.5 121v2M1310.5 143v2M1311.5 142v2M1312.5 140v1M1313.5 169v14M1313.5 203v10M1313.5 241v2M1325.5 46v18M1327.5 245v5M1328.5 203v5M1329.5 194v4M1330.5 228v4M1340.5 247v4M1342.5 188v40M1353.5 239v6M1354.5 201v3M1355.5 182v2M1356.5 179v1M1357.5 188v3M1358.5 213v4M1359.5 210v5M1360.5 205v2M1361.5 233v4M1365.5 237v5M1366.5 179v5M1367.5 149v2M1368.5 162v5M1369.5 200v5M1370.5 200v4M1371.5 248v3M1377.5 229v4M1378.5 205v2M1379.5 189v1M1380.5 179v1M1381.5 176v1M1382.5 180v2M1383.5 188v1M1384.5 175v2M1385.5 191v3M1397.5 228v4M1398.5 217v1M1399.5 228v4"/>
<path stroke="#0000df" d="M1041.5 206v30M1065.5 218v5M1066.5 165v8M1067.5 98v21M1068.5 165v8M1069.5 218v5M1074.5 170v52M1079.5 177v4M1080.5 65v4M1081.5 62v1M1082.5 133v8M1083.5 231v3M1085.5 145v1M1085.5 240v8M1086.5 174v40M1102.5 249v2M1103.5 214v4M1104.5 224v4M1111.5 148v7M1112.5 140v6M1146.5 202v16M1165.5 229v10M1181.5 198v7M1182.5 173v8M1183.5 220v6M1184.5 239v5M1185.5 187v3M1186.5 135v11M1187.5 170v4M1188.5 215v6M1189.5 234v5M1190.5 196v4M1191.5 179v2M1192.5 196v4M1193.5 236v5M1199.5 203v34M1201.5 162v4M1202.5 171v3M1243.5 61v9M1243.5 213v5M1244.5 54v4M1244.5 220v2M1260.5 46v20M1291.5 80v10M1292.5 194v5M1293.5 226v3M1294.5 165v2M1295.5 134v2M1298.5 134v2M1299.5 153v4M1300.5 106v1M1301.5 126v10M1302.5 214v2M1303.5 182v2M1304.5 176v2M1305.5 205v8M1307.5 126v3M1308.5 114v1M1309.5 123v2M1310.5 145v2M1311.5 144v4M1312.5 141v1M1313.5 183v20M1313.5 243v3M1327.5 250v1M1328.5 208v5M1329.5 198v5M1330.5 232v4M1342.5 228v15M1353.5 245v4M1354.5 204v2M1355.5 184v2M1356.5 180v1M1357.5 191v2M1358.5 217v2M1359.5 215v3M1360.5 207v3M1361.5 237v4M1365.5 242v4M1366.5 184v4M1367.5 151v5M1368.5 167v4M1369.5 205v5M1370.5 204v7M1377.5 233v3M1378.5 207v1M1379.5 190v2M1380.5 180v1M1381.5 177v1M1382.5 182v1M1383.5 189v2M1384.5 177v4M1385.5 194v4M1397.5 232v4M1398.5 218v1M1399.5 232v4"/>
<path stroke="#0000ef" d="M948.5 203v10M1041.5 236v15M1065.5 223v4M1066.5 173v8M1067.5 119v20M1068.5 173v8M1069.5 223v4M1079.5 181v5M1080.5 69v6M1081.5 63v1M1082.5 141v8M1085.5 146v7M1085.5 232v8M1103.5 218v4M1104.5 228v4M1111.5 155v7M1112.5 146v5M1146.5 218v15M1165.5 239v8M1181.5 205v5M1182.5 181v6M1183.5 226v5M1184.5 244v4M1185.5 190v3M1186.5 146v11M1187.5 174v4M1188.5 221v4M1189.5 239v3M1190.5 200v3M1191.5 181v3M1192.5 200v3M1193.5 241v3M1201.5 158v4M1202.5 169v2M1243.5 70v9M1243.5 209v4M1244.5 58v7M1244.5 216v4M1291.5 90v9M1292.5 199v3M1293.5 229v3M1294.5 167v3M1295.5 136v2M1298.5 136v2M1299.5 157v2M1300.5 107v2M1301.5 136v5M1302.5 216v1M1303.5 184v2M1304.5 178v1M1305.5 213v5M1307.5 129v3M1308.5 115v1M1309.5 125v1M1310.5 147v2M1311.5 148v4M1312.5 142v1M1313.5 246v2M1328.5 213v4M1329.5 203v3M1330.5 236v4M1341.5 46v36M1342.5 243v8M1353.5 249v2M1354.5 206v3M1355.5 186v2M1356.5 181v1M1357.5 193v2M1358.5 219v3M1359.5 218v4M1360.5 210v3M1361.5 241v4M1365.5 246v3M1366.5 188v5M1367.5 156v4M1368.5 171v4M1369.5 210v4M1370.5 211v7M1377.5 236v3M1378.5 208v2M1379.5 192v1M1380.5 181v1M1381.5 178v1M1382.5 183v1M1383.5 191v1M1384.5 181v3M1385.5 198v3M1397.5 236v3M1398.5 219v3M1399.5 236v3"/>
<path stroke="#0000ff" d="M948.5 187v16M948.5 213v15M1065.5 227v3M1066.5 181v8M1067.5 139v13M1068.5 181v8M1069.5 227v3M1079.5 186v4M1080.5 75v6M1081.5 64v1M1082.5 149v8M1085.5 153v8M1085.5 224v8M1103.5 222v3M1104.5 232v4M1111.5 162v7M1112.5 151v6M1146.5 233v11M1165.5 247v4M1181.5 210v5M1182.5 187v6M1183.5 231v4M1184.5 248v3M1185.5 193v3M1186.5 157v8M1187.5 178v3M1188.5 225v4M1189.5 242v3M1190.5 203v3M1191.5 184v3M1192.5 203v3M1193.5 244v3M1201.5 154v4M1202.5 167v2M1243.5 79v9M1243.5 204v5M1244.5 65v7M1244.5 212v4M1289.5 183v17M1291.5 99v10M1292.5 202v3M1293.5 232v2M1294.5 170v3M1295.5 138v2M1298.5 138v2M1299.5 159v2M1300.5 109v4M1301.5 141v4M1302.5 217v2M1303.5 186v5M1304.5 179v2M1305.5 218v3M1307.5 132v3M1308.5 116v1M1309.5 126v2M1310.5 149v1M1311.5 152v2M1312.5 143v1M1313.5 248v2M1328.5 217v3M1329.5 206v4M1330.5 240v3M1341.5 82v62M1354.5 209v3M1355.5 188v2M1356.5 182v2M1357.5 195v2M1358.5 222v3M1359.5 222v3M1360.5 213v4M1361.5 245v4M1365.5 249v2M1366.5 193v6M1367.5 160v3M1368.5 175v4M1369.5 214v4M1370.5 218v6M1377.5 239v3M1378.5 210v2M1379.5 193v1M1380.5 182v2M1381.5 179v1M1382.5 184v1M1383.5 192v2M1384.5 184v3M1385.5 201v4M1397.5 239v3M1398.5 222v3M1399.5 239v3"/>
<path stroke="#0010ff" d="M948.5 46v59M948.5 172v15M948.5 228v16M1065.5 230v3M1066.5 189v7M1067.5 152v9M1068.5 189v7M1069.5 230v3M1079.5 190v5M1080.5 81v4M1081.5 65v2M1082.5 157v5M1085.5 161v7M1085.5 216v8M1103.5 225v4M1104.5 236v3M1111.5 169v5M1112.5 157v6M1146.5 244v7M1181.5 215v4M1182.5 193v5M1183.5 235v4M1185.5 196v3M1186.5 165v4M1187.5 181v3M1188.5 229v5M1189.5 245v3M1190.5 206v3M1191.5 187v2M1192.5 206v3M1193.5 247v4M1201.5 150v4M1202.5 164v3M1243.5 88v9M1243.5 199v5M1244.5 72v7M1244.5 208v4M1289.5 174v9M1289.5 200v13M1291.5 109v6M1292.5 205v3M1293.5 234v2M1294.5 173v3M1295.5 140v1M1298.5 140v1M1299.5 161v2M1300.5 113v5M1301.5 145v7M1302.5 219v2M1303.5 191v8M1304.5 181v1M1305.5 221v3M1307.5 135v3M1308.5 117v2M1309.5 128v1M1310.5 150v2M1311.5 154v3M1312.5 144v3M1313.5 250v1M1328.5 220v4M1329.5 210v4M1330.5 243v3M1341.5 144v18M1354.5 212v2M1355.5 190v2M1356.5 184v2M1357.5 197v1M1358.5 225v2M1359.5 225v3M1360.5 217v3M1361.5 249v2M1366.5 199v4M1367.5 163v4M1368.5 179v3M1369.5 218v4M1370.5 224v5M1377.5 242v9M1378.5 212v1M1379.5 194v2M1380.5 184v1M1381.5 180v1M1382.5 185v2M1383.5 194v1M1384.5 187v3M1385.5 205v4M1397.5 242v4M1398.5 225v3M1399.5 242v4"/>
<path stroke="#0020ff" d="M948.5 105v6M948.5 169v3M948.5 244v7M1065.5 233v3M1066.5 196v5M1067.5 161v9M1068.5 196v5M1069.5 233v3M1079.5 195v4M1080.5 85v6M1081.5 67v3M1082.5 162v4M1085.5 168v6M1085.5 207v9M1103.5 229v3M1104.5 239v4M1111.5 174v7M1112.5 163v5M1181.5 219v5M1182.5 198v6M1183.5 239v4M1185.5 199v3M1186.5 169v3M1187.5 184v3M1188.5 234v4M1189.5 248v3M1190.5 209v2M1191.5 189v3M1192.5 209v2M1201.5 137v13M1202.5 162v2M1243.5 97v9M1243.5 117v82M1244.5 79v7M1244.5 205v3M1289.5 165v9M1289.5 213v14M1291.5 115v6M1292.5 208v3M1293.5 236v3M1294.5 176v3M1295.5 141v1M1298.5 141v1M1299.5 163v3M1300.5 118v5M1301.5 152v7M1302.5 221v2M1303.5 199v8M1304.5 182v2M1305.5 224v2M1307.5 138v4M1308.5 119v1M1309.5 129v2M1310.5 152v1M1311.5 157v2M1312.5 147v3M1328.5 224v4M1329.5 214v4M1330.5 246v3M1341.5 162v16M1354.5 214v3M1355.5 192v1M1356.5 186v2M1357.5 198v2M1358.5 227v2M1359.5 228v3M1360.5 220v4M1366.5 203v4M1367.5 167v3M1368.5 182v4M1369.5 222v4M1370.5 229v6M1378.5 213v2M1379.5 196v1M1380.5 185v1M1381.5 181v2M1382.5 187v1M1383.5 195v1M1384.5 190v3M1385.5 209v12M1397.5 246v3M1398.5 228v4M1399.5 246v3"/>
<path stroke="#0030ff" d="M948.5 111v5M948.5 167v2M949.5 206v3M1065.5 236v3M1066.5 201v4M1067.5 170v9M1068.5 201v4M1069.5 236v3M1079.5 199v3M1080.5 91v8M1081.5 70v4M1082.5 166v4M1085.5 174v33M1103.5 232v4M1104.5 243v3M1111.5 181v15M1112.5 168v4M1181.5 224v4M1182.5 204v5M1183.5 243v4M1185.5 202v3M1186.5 172v3M1187.5 187v3M1188.5 238v4M1190.5 211v3M1191.5 192v3M1192.5 211v3M1201.5 46v91M1202.5 159v3M1243.5 106v11M1244.5 86v8M1244.5 201v4M1289.5 156v9M1289.5 227v5M1291.5 121v7M1292.5 211v3M1293.5 239v2M1294.5 179v2M1295.5 142v2M1298.5 142v2M1299.5 166v1M1300.5 123v5M1301.5 159v7M1302.5 223v2M1303.5 207v8M1304.5 184v1M1305.5 226v2M1307.5 142v4M1308.5 120v2M1309.5 131v1M1310.5 153v2M1311.5 159v2M1312.5 150v2M1328.5 228v3M1329.5 218v3M1330.5 249v2M1341.5 178v17M1354.5 217v3M1355.5 193v2M1356.5 188v1M1357.5 200v2M1358.5 229v3M1359.5 231v3M1360.5 224v3M1366.5 207v4M1367.5 170v3M1368.5 186v4M1369.5 226v3M1370.5 235v5M1378.5 215v2M1379.5 197v1M1380.5 186v1M1381.5 183v1M1382.5 188v1M1383.5 196v2M1384.5 193v2M1385.5 221v12M1397.5 249v2M1398.5 232v3M1399.5 249v2"/>
<path stroke="#0040ff" d="M948.5 116v5M948.5 164v3M949.5 196v10M949.5 209v15M1065.5 239v3M1066.5 205v4M1067.5 179v9M1068.5 205v4M1069.5 239v3M1079.5 202v3M1080.5 99v8M1081.5 74v3M1082.5 170v3M1103.5 236v3M1104.5 246v3M1111.5 196v55M1112.5 172v4M1181.5 228v4M1182.5 209v4M1183.5 247v4M1185.5 205v2M1186.5 175v3M1187.5 190v3M1188.5 242v3M1190.5 214v2M1191.5 195v3M1192.5 214v2M1202.5 157v2M1244.5 94v7M1244.5 197v4M1289.5 149v7M1289.5 232v4M1291.5 128v7M1292.5 214v2M1293.5 241v2M1294.5 181v2M1295.5 144v1M1298.5 144v1M1299.5 167v2M1300.5 128v5M1301.5 166v7M1302.5 225v2M1303.5 215v3M1304.5 185v1M1305.5 228v3M1307.5 146v3M1308.5 122v2M1309.5 132v1M1310.5 155v1M1311.5 161v2M1312.5 152v3M1328.5 231v3M1329.5 221v4M1341.5 195v16M1354.5 220v2M1355.5 195v2M1356.5 189v2M1357.5 202v2M1358.5 232v3M1359.5 234v3M1360.5 227v3M1366.5 211v4M1367.5 173v4M1368.5 190v4M1369.5 229v4M1370.5 240v6M1378.5 217v1M1379.5 198v1M1380.5 187v1M1381.5 184v1M1382.5 189v1M1383.5 198v1M1384.5 195v3M1385.5 233v10M1398.5 235v3"/>
<path stroke="#0050ff" d="M948.5 121v21M948.5 162v2M949.5 187v9M949.5 224v14M1065.5 242v3M1066.5 209v4M1067.5 188v8M1068.5 209v4M1069.5 242v3M1079.5 205v3M1080.5 107v7M1081.5 77v4M1082.5 173v4M1103.5 239v3M1104.5 249v2M1112.5 176v15M1181.5 232v4M1182.5 213v4M1185.5 207v4M1186.5 178v3M1187.5 193v2M1188.5 245v4M1190.5 216v2M1191.5 198v2M1192.5 216v2M1202.5 154v3M1244.5 101v96M1289.5 137v12M1289.5 236v5M1291.5 135v5M1292.5 216v3M1293.5 243v2M1294.5 183v3M1295.5 145v2M1298.5 145v2M1299.5 169v3M1300.5 133v4M1301.5 173v6M1302.5 227v2M1303.5 218v2M1304.5 186v6M1305.5 231v3M1307.5 149v3M1307.5 245v6M1308.5 124v1M1309.5 133v2M1310.5 156v1M1311.5 163v1M1312.5 155v2M1328.5 234v3M1329.5 225v3M1341.5 211v16M1354.5 222v2M1355.5 197v1M1356.5 191v2M1357.5 204v1M1358.5 235v3M1359.5 237v3M1360.5 230v4M1366.5 215v4M1367.5 177v3M1368.5 194v4M1369.5 233v4M1370.5 246v5M1378.5 218v2M1379.5 199v2M1380.5 188v2M1381.5 185v1M1382.5 190v1M1383.5 199v2M1384.5 198v2M1385.5 243v8M1398.5 238v3"/>
<path stroke="#0060ff" d="M948.5 142v20M949.5 46v37M949.5 177v10M949.5 238v13M1065.5 245v3M1066.5 213v4M1067.5 196v5M1068.5 213v4M1069.5 245v3M1079.5 208v3M1080.5 114v6M1081.5 81v3M1082.5 177v4M1103.5 242v4M1112.5 191v16M1112.5 208v43M1181.5 236v4M1182.5 217v5M1185.5 211v4M1186.5 181v3M1187.5 195v3M1188.5 249v2M1190.5 218v2M1191.5 200v3M1192.5 218v2M1202.5 152v2M1289.5 123v14M1289.5 241v4M1291.5 140v6M1292.5 219v2M1293.5 245v2M1294.5 186v3M1295.5 147v1M1298.5 147v1M1299.5 172v2M1300.5 137v4M1301.5 179v9M1302.5 229v2M1303.5 220v3M1304.5 192v8M1305.5 234v3M1307.5 152v4M1307.5 237v8M1308.5 125v2M1309.5 135v1M1310.5 157v1M1311.5 164v2M1312.5 157v2M1328.5 237v3M1329.5 228v3M1341.5 227v10M1354.5 224v3M1355.5 198v2M1356.5 193v2M1357.5 205v2M1358.5 238v3M1359.5 240v4M1360.5 234v3M1366.5 219v3M1367.5 180v4M1368.5 198v4M1369.5 237v4M1378.5 220v1M1379.5 201v1M1380.5 190v1M1381.5 186v1M1382.5 191v1M1383.5 201v1M1384.5 200v3M1398.5 241v4"/>
<path stroke="#0070ff" d="M949.5 83v25M949.5 171v6M1065.5 248v3M1066.5 217v4M1067.5 201v5M1068.5 217v4M1069.5 248v3M1079.5 211v4M1080.5 120v6M1081.5 84v4M1082.5 181v3M1103.5 246v3M1112.5 207v1M1181.5 240v4M1182.5 222v4M1185.5 215v4M1186.5 184v3M1187.5 198v2M1190.5 220v2M1191.5 203v3M1192.5 220v2M1202.5 149v3M1289.5 107v16M1289.5 245v5M1291.5 146v10M1292.5 221v3M1293.5 247v2M1294.5 189v2M1295.5 148v2M1296.5 46v42M1297.5 46v42M1298.5 148v2M1299.5 174v2M1300.5 141v3M1301.5 188v9M1302.5 231v1M1303.5 223v2M1304.5 200v8M1305.5 237v4M1307.5 156v4M1307.5 229v8M1308.5 127v1M1309.5 136v1M1310.5 158v2M1311.5 166v1M1312.5 159v2M1328.5 240v3M1329.5 231v3M1341.5 237v9M1354.5 227v2M1355.5 200v2M1356.5 195v1M1357.5 207v2M1358.5 241v3M1359.5 244v3M1360.5 237v3M1366.5 222v4M1367.5 184v3M1368.5 202v4M1369.5 241v3M1378.5 221v2M1379.5 202v1M1380.5 191v1M1381.5 187v2M1382.5 192v2M1383.5 202v2M1384.5 203v3M1398.5 245v3"/>
<path stroke="#0080ff" d="M949.5 108v3M949.5 169v2M1066.5 221v5M1067.5 206v4M1068.5 221v5M1079.5 215v5M1079.5 245v6M1080.5 126v6M1081.5 88v6M1082.5 184v3M1103.5 249v2M1181.5 244v4M1182.5 226v4M1185.5 219v3M1186.5 187v3M1187.5 200v3M1190.5 222v3M1191.5 206v2M1192.5 222v3M1202.5 146v3M1289.5 88v19M1289.5 250v1M1291.5 156v10M1292.5 224v2M1293.5 249v2M1294.5 191v3M1295.5 150v1M1296.5 88v37M1297.5 88v37M1298.5 150v1M1299.5 176v2M1300.5 144v5M1301.5 197v9M1302.5 232v1M1303.5 225v2M1304.5 208v8M1305.5 241v3M1307.5 160v4M1307.5 222v7M1308.5 128v2M1309.5 137v2M1310.5 160v1M1311.5 167v2M1312.5 161v2M1312.5 223v4M1328.5 243v3M1329.5 234v3M1341.5 246v5M1354.5 229v2M1355.5 202v1M1356.5 196v2M1357.5 209v3M1358.5 244v4M1359.5 247v3M1360.5 240v3M1366.5 226v3M1367.5 187v4M1368.5 206v4M1369.5 244v4M1378.5 223v2M1379.5 203v2M1380.5 192v1M1381.5 189v1M1382.5 194v1M1383.5 204v1M1384.5 206v5M1398.5 248v3"/>
<path stroke="#008fff" d="M949.5 111v3M949.5 167v2M1066.5 226v3M1067.5 210v5M1068.5 226v3M1079.5 220v5M1079.5 239v6M1080.5 132v6M1081.5 94v6M1082.5 187v3M1181.5 248v3M1182.5 230v5M1185.5 222v4M1186.5 190v3M1187.5 203v2M1190.5 225v2M1191.5 208v3M1192.5 225v2M1202.5 79v67M1289.5 58v30M1291.5 166v13M1292.5 226v2M1294.5 194v3M1295.5 151v1M1296.5 125v3M1297.5 125v3M1298.5 151v1M1299.5 178v2M1300.5 149v6M1301.5 206v2M1302.5 233v1M1303.5 227v2M1304.5 216v3M1305.5 244v3M1307.5 164v5M1307.5 181v41M1308.5 130v2M1309.5 139v1M1310.5 161v1M1311.5 169v1M1312.5 163v2M1312.5 212v11M1312.5 227v3M1328.5 246v3M1329.5 237v3M1354.5 231v4M1355.5 203v2M1356.5 198v2M1357.5 212v2M1358.5 248v3M1359.5 250v1M1360.5 243v4M1366.5 229v3M1367.5 191v5M1368.5 210v4M1369.5 248v3M1378.5 225v1M1379.5 205v1M1380.5 193v1M1381.5 190v1M1382.5 195v1M1383.5 205v2M1384.5 211v7"/>
<path stroke="#009fff" d="M949.5 114v2M949.5 165v2M1066.5 229v4M1067.5 215v5M1068.5 229v4M1079.5 225v5M1079.5 234v5M1080.5 138v6M1081.5 100v6M1082.5 190v3M1182.5 235v4M1185.5 226v4M1186.5 193v2M1187.5 205v3M1190.5 227v3M1191.5 211v2M1192.5 227v3M1202.5 46v33M1289.5 46v12M1291.5 179v10M1292.5 228v2M1294.5 197v3M1296.5 128v2M1297.5 128v2M1299.5 180v3M1300.5 155v6M1301.5 208v1M1302.5 234v1M1303.5 229v2M1304.5 219v2M1305.5 247v4M1307.5 169v12M1308.5 132v1M1309.5 140v1M1310.5 162v2M1311.5 170v4M1312.5 165v2M1312.5 207v5M1312.5 230v2M1328.5 249v2M1329.5 240v3M1354.5 235v3M1355.5 205v2M1356.5 200v1M1357.5 214v3M1360.5 247v3M1366.5 232v3M1367.5 196v4M1368.5 214v4M1378.5 226v2M1379.5 206v1M1380.5 194v2M1381.5 191v1M1382.5 196v1M1383.5 207v1M1384.5 218v5"/>
<path stroke="#00afff" d="M949.5 116v3M949.5 163v2M1066.5 233v3M1067.5 220v4M1068.5 233v3M1079.5 230v4M1080.5 144v6M1081.5 106v6M1082.5 193v3M1182.5 239v4M1185.5 230v4M1186.5 195v3M1187.5 208v4M1190.5 230v3M1191.5 213v2M1192.5 230v3M1291.5 189v4M1292.5 230v2M1294.5 200v3M1295.5 152v1M1296.5 130v1M1297.5 130v1M1298.5 152v1M1299.5 183v3M1300.5 161v6M1301.5 209v1M1302.5 235v2M1303.5 231v3M1304.5 221v3M1308.5 133v2M1309.5 141v2M1310.5 164v1M1311.5 174v4M1312.5 167v2M1312.5 203v4M1312.5 232v2M1329.5 243v4M1354.5 238v4M1355.5 207v2M1356.5 201v2M1357.5 217v3M1360.5 250v1M1366.5 235v3M1367.5 200v5M1368.5 218v4M1378.5 228v3M1379.5 207v1M1380.5 196v1M1381.5 192v2M1382.5 197v1M1383.5 208v2M1384.5 223v5"/>
<path stroke="#00bfff" d="M949.5 119v16M949.5 162v1M1066.5 236v3M1067.5 224v4M1068.5 236v3M1080.5 150v6M1081.5 112v6M1082.5 196v3M1182.5 243v5M1185.5 234v4M1186.5 198v2M1187.5 212v4M1190.5 233v3M1191.5 215v2M1192.5 233v3M1291.5 193v5M1292.5 232v2M1294.5 203v4M1295.5 153v1M1296.5 131v1M1297.5 131v1M1298.5 153v1M1299.5 186v3M1300.5 167v6M1301.5 210v1M1302.5 237v1M1303.5 234v3M1304.5 224v2M1308.5 135v2M1309.5 143v1M1310.5 165v1M1311.5 178v5M1312.5 169v14M1312.5 199v4M1312.5 234v1M1329.5 247v3M1354.5 242v4M1355.5 209v3M1356.5 203v2M1357.5 220v2M1366.5 238v3M1367.5 205v4M1368.5 222v3M1378.5 231v2M1379.5 208v2M1380.5 197v1M1381.5 194v1M1382.5 198v2M1383.5 210v2M1384.5 228v5"/>
<path stroke="#00cfff" d="M949.5 135v23M949.5 159v3M1066.5 239v4M1067.5 228v4M1068.5 239v4M1080.5 156v3M1081.5 118v7M1082.5 199v2M1182.5 248v3M1185.5 238v4M1186.5 200v3M1187.5 216v4M1190.5 236v3M1191.5 217v3M1192.5 236v3M1290.5 46v16M1290.5 181v14M1291.5 198v3M1292.5 234v2M1294.5 207v3M1295.5 154v1M1296.5 132v2M1297.5 132v2M1298.5 154v1M1299.5 189v4M1300.5 173v7M1301.5 211v1M1302.5 238v2M1303.5 237v3M1304.5 226v2M1308.5 137v2M1309.5 144v2M1310.5 166v1M1311.5 183v4M1312.5 183v16M1312.5 235v2M1329.5 250v1M1354.5 246v4M1355.5 212v3M1356.5 205v2M1357.5 222v3M1366.5 241v3M1367.5 209v4M1368.5 225v4M1378.5 233v3M1379.5 210v1M1380.5 198v1M1381.5 195v1M1382.5 200v1M1383.5 212v1M1384.5 233v5"/>
<path stroke="#00dfff" d="M949.5 158v1M1066.5 243v3M1067.5 232v4M1068.5 243v3M1080.5 159v3M1081.5 125v6M1082.5 201v3M1185.5 242v4M1186.5 203v3M1187.5 220v4M1190.5 239v3M1191.5 220v2M1192.5 239v3M1290.5 62v19M1290.5 171v10M1290.5 195v8M1291.5 201v4M1292.5 236v2M1294.5 210v4M1295.5 155v1M1296.5 134v1M1297.5 134v1M1298.5 155v1M1299.5 193v2M1300.5 180v10M1301.5 212v1M1302.5 240v1M1303.5 240v3M1304.5 228v2M1308.5 139v2M1309.5 146v1M1310.5 167v1M1311.5 187v3M1312.5 237v2M1354.5 250v1M1355.5 215v3M1356.5 207v2M1357.5 225v2M1366.5 244v3M1367.5 213v5M1368.5 229v3M1378.5 236v3M1379.5 211v1M1380.5 199v2M1381.5 196v1M1382.5 201v2M1383.5 213v2M1384.5 238v13"/>
<path stroke="#00efff" d="M1066.5 246v4M1067.5 236v4M1068.5 246v4M1080.5 162v4M1081.5 131v6M1082.5 204v3M1185.5 246v4M1186.5 206v3M1187.5 224v4M1190.5 242v3M1191.5 222v2M1192.5 242v3M1290.5 81v19M1290.5 160v11M1290.5 203v7M1291.5 205v3M1292.5 238v1M1294.5 214v3M1295.5 156v1M1296.5 135v1M1297.5 135v1M1298.5 156v1M1299.5 195v3M1300.5 190v9M1301.5 213v1M1302.5 241v2M1303.5 243v3M1304.5 230v3M1308.5 141v2M1309.5 147v1M1310.5 168v1M1311.5 190v4M1312.5 239v2M1355.5 218v2M1356.5 209v3M1357.5 227v3M1366.5 247v4M1367.5 218v4M1368.5 232v4M1378.5 239v3M1378.5 245v6M1379.5 212v2M1380.5 201v1M1381.5 197v2M1382.5 203v1M1383.5 215v2"/>
<path stroke="#00ffff" d="M1066.5 250v1M1067.5 240v3M1068.5 250v1M1080.5 166v3M1081.5 137v6M1082.5 207v2M1082.5 250v1M1185.5 250v1M1186.5 209v4M1187.5 228v4M1190.5 245v3M1191.5 224v3M1192.5 245v3M1290.5 100v34M1290.5 147v13M1290.5 210v8M1291.5 208v4M1292.5 239v2M1294.5 217v4M1295.5 157v1M1296.5 136v1M1297.5 136v1M1298.5 157v1M1299.5 198v4M1300.5 199v8M1301.5 214v1M1302.5 243v1M1303.5 246v3M1304.5 233v5M1308.5 143v2M1309.5 148v2M1310.5 169v2M1311.5 194v3M1312.5 241v1M1355.5 220v3M1356.5 212v3M1357.5 230v3M1367.5 222v4M1368.5 236v3M1378.5 242v3M1379.5 214v2M1380.5 202v2M1381.5 199v1M1382.5 204v1M1383.5 217v2"/>
<path stroke="#10ffef" d="M1067.5 243v4M1080.5 169v3M1081.5 143v7M1082.5 209v3M1082.5 246v4M1186.5 213v5M1187.5 232v5M1190.5 248v3M1191.5 227v3M1192.5 248v3M1290.5 134v13M1290.5 218v8M1291.5 212v4M1292.5 241v2M1294.5 221v3M1295.5 158v1M1296.5 137v1M1297.5 137v1M1298.5 158v1M1299.5 202v4M1300.5 207v1M1301.5 215v1M1302.5 244v2M1303.5 249v2M1304.5 238v4M1308.5 145v2M1309.5 150v1M1310.5 171v2M1311.5 197v5M1312.5 242v2M1355.5 223v3M1356.5 215v3M1357.5 233v4M1367.5 226v4M1368.5 239v3M1379.5 216v2M1380.5 204v1M1381.5 200v1M1382.5 205v2M1383.5 219v2"/>
<path stroke="#20ffdf" d="M1067.5 247v4M1080.5 172v3M1081.5 150v6M1082.5 212v5M1082.5 241v5M1186.5 218v4M1187.5 237v5M1191.5 230v4M1290.5 226v4M1291.5 216v4M1292.5 243v2M1294.5 224v3M1295.5 159v1M1296.5 138v1M1297.5 138v1M1298.5 159v1M1299.5 206v2M1300.5 208v1M1301.5 216v1M1302.5 246v1M1304.5 242v4M1308.5 147v2M1309.5 151v2M1310.5 173v2M1311.5 202v3M1312.5 244v2M1355.5 226v2M1356.5 218v3M1357.5 237v5M1367.5 230v3M1368.5 242v4M1379.5 218v1M1380.5 205v1M1381.5 201v2M1382.5 207v1M1383.5 221v2"/>
<path stroke="#30ffcf" d="M1080.5 175v3M1081.5 156v4M1082.5 217v5M1082.5 238v3M1186.5 222v5M1187.5 242v4M1191.5 234v3M1290.5 230v4M1291.5 220v4M1292.5 245v2M1294.5 227v3M1295.5 160v1M1296.5 139v1M1297.5 139v1M1298.5 160v1M1299.5 208v2M1300.5 209v1M1301.5 217v1M1302.5 247v2M1304.5 246v4M1308.5 149v2M1309.5 153v1M1310.5 175v2M1311.5 205v2M1312.5 246v2M1355.5 228v3M1356.5 221v3M1357.5 242v4M1367.5 233v4M1368.5 246v3M1379.5 219v2M1380.5 206v2M1381.5 203v1M1382.5 208v1M1383.5 223v2"/>
<path stroke="#40ffbf" d="M1080.5 178v4M1081.5 160v3M1082.5 222v6M1082.5 235v3M1186.5 227v5M1187.5 246v5M1191.5 237v4M1290.5 234v4M1291.5 224v4M1292.5 247v2M1294.5 230v4M1295.5 161v1M1296.5 140v1M1297.5 140v1M1298.5 161v1M1299.5 210v1M1300.5 210v1M1301.5 218v1M1302.5 249v1M1304.5 250v1M1308.5 151v2M1309.5 154v2M1310.5 177v2M1311.5 207v3M1312.5 248v2M1355.5 231v5M1356.5 224v3M1357.5 246v5M1367.5 237v4M1368.5 249v2M1379.5 221v2M1380.5 208v1M1381.5 204v2M1382.5 209v2M1383.5 225v1"/>
<path stroke="#50ffaf" d="M1080.5 182v3M1081.5 163v3M1082.5 228v7M1186.5 232v5M1191.5 241v4M1290.5 238v4M1291.5 228v3M1292.5 249v2M1294.5 234v4M1294.5 239v12M1295.5 162v1M1296.5 141v1M1297.5 141v1M1298.5 162v1M1299.5 211v1M1300.5 211v1M1301.5 219v1M1302.5 250v1M1308.5 153v2M1309.5 156v1M1310.5 179v2M1311.5 210v2M1312.5 250v1M1355.5 236v5M1356.5 227v2M1367.5 241v4M1379.5 223v2M1380.5 209v1M1381.5 206v1M1382.5 211v1M1383.5 226v3"/>
<path stroke="#60ff9f" d="M1080.5 185v3M1081.5 166v4M1186.5 237v5M1191.5 245v3M1290.5 242v4M1291.5 231v2M1294.5 238v1M1295.5 163v1M1296.5 142v2M1297.5 142v2M1298.5 163v1M1299.5 212v2M1300.5 212v1M1301.5 220v3M1308.5 155v3M1309.5 157v2M1310.5 181v2M1311.5 212v2M1355.5 241v5M1356.5 229v4M1367.5 245v3M1379.5 225v1M1380.5 210v2M1381.5 207v1M1382.5 212v2M1383.5 229v4"/>
<path stroke="#70ff8f" d="M1080.5 188v3M1081.5 170v3M1186.5 242v6M1191.5 248v3M1290.5 246v4M1291.5 233v3M1295.5 164v1M1296.5 144v1M1297.5 144v1M1298.5 164v1M1299.5 214v1M1300.5 213v1M1301.5 223v2M1308.5 158v3M1309.5 159v1M1310.5 183v2M1311.5 214v2M1355.5 246v5M1356.5 233v5M1367.5 248v3M1379.5 226v3M1380.5 212v2M1381.5 208v2M1382.5 214v2M1383.5 233v3"/>
<path stroke="#80ff80" d="M1080.5 191v3M1081.5 173v4M1186.5 248v3M1290.5 250v1M1291.5 236v3M1295.5 165v1M1296.5 145v1M1297.5 145v1M1298.5 165v1M1299.5 215v2M1300.5 214v1M1301.5 225v10M1308.5 161v2M1309.5 160v2M1310.5 185v2M1311.5 216v3M1356.5 238v6M1379.5 229v4M1380.5 214v2M1381.5 210v1M1382.5 216v2M1383.5 236v3M1383.5 247v4"/>
<path stroke="#8fff70" d="M1080.5 194v3M1081.5 177v3M1291.5 239v3M1295.5 166v1M1296.5 146v1M1297.5 146v1M1298.5 166v1M1299.5 217v1M1300.5 215v1M1301.5 235v1M1308.5 163v3M1308.5 245v6M1309.5 162v2M1310.5 187v3M1311.5 219v2M1356.5 244v6M1379.5 233v3M1380.5 216v2M1381.5 211v2M1382.5 218v2M1383.5 239v8"/>
<path stroke="#9fff60" d="M1080.5 197v3M1080.5 250v1M1081.5 180v3M1291.5 242v3M1295.5 167v2M1296.5 147v2M1297.5 147v2M1298.5 167v2M1299.5 218v1M1300.5 216v1M1301.5 236v1M1308.5 166v3M1308.5 238v7M1309.5 164v2M1310.5 190v2M1311.5 221v3M1356.5 250v1M1379.5 236v4M1379.5 246v5M1380.5 218v1M1381.5 213v2M1382.5 220v2"/>
<path stroke="#afff50" d="M1080.5 200v3M1080.5 247v3M1081.5 183v4M1291.5 245v3M1295.5 169v2M1296.5 149v1M1297.5 149v1M1298.5 169v2M1299.5 219v2M1300.5 217v1M1301.5 237v1M1308.5 169v9M1308.5 230v8M1309.5 166v1M1310.5 192v2M1311.5 224v3M1379.5 240v6M1380.5 219v2M1381.5 215v2M1382.5 222v2"/>
<path stroke="#bfff40" d="M1080.5 203v3M1080.5 243v4M1081.5 187v3M1291.5 248v3M1295.5 171v2M1296.5 150v1M1297.5 150v1M1298.5 171v2M1299.5 221v1M1300.5 218v1M1301.5 238v2M1308.5 178v25M1308.5 223v7M1309.5 167v2M1310.5 194v3M1311.5 227v2M1380.5 221v2M1381.5 217v2M1382.5 224v1"/>
<path stroke="#cfff30" d="M1080.5 206v3M1080.5 240v3M1081.5 190v4M1295.5 173v1M1296.5 151v1M1297.5 151v1M1298.5 173v1M1299.5 222v1M1300.5 219v2M1301.5 240v1M1308.5 203v20M1309.5 169v2M1310.5 197v2M1311.5 229v3M1380.5 223v2M1381.5 219v2M1382.5 225v3"/>
<path stroke="#dfff20" d="M1080.5 209v3M1080.5 238v2M1081.5 194v3M1081.5 248v3M1295.5 174v2M1298.5 174v2M1299.5 223v1M1300.5 221v2M1301.5 241v2M1309.5 171v4M1310.5 199v2M1311.5 232v3M1380.5 225v3M1381.5 221v2M1382.5 228v4"/>
<path stroke="#efff10" d="M1080.5 212v9M1080.5 235v3M1081.5 197v3M1081.5 245v3M1295.5 176v2M1296.5 152v1M1297.5 152v1M1298.5 176v2M1299.5 224v2M1300.5 223v2M1301.5 243v1M1309.5 175v5M1310.5 201v3M1311.5 235v3M1380.5 228v4M1381.5 223v2M1382.5 232v4M1382.5 248v3"/>
<path stroke="#ffff00" d="M1080.5 221v9M1080.5 232v3M1081.5 200v4M1081.5 242v3M1295.5 178v2M1296.5 153v1M1297.5 153v1M1298.5 178v2M1299.5 226v1M1300.5 225v4M1301.5 244v2M1309.5 180v4M1310.5 204v2M1311.5 238v3M1380.5 232v4M1380.5 248v3M1381.5 225v2M1382.5 236v4M1382.5 244v4"/>
<path stroke="#ffef00" d="M1080.5 230v2M1081.5 204v3M1081.5 239v3M1295.5 180v1M1296.5 154v1M1297.5 154v1M1298.5 180v1M1299.5 227v1M1300.5 229v3M1301.5 246v1M1309.5 184v5M1310.5 206v2M1311.5 241v3M1380.5 236v5M1380.5 243v5M1381.5 227v5M1382.5 240v4"/>
<path stroke="#ffdf00" d="M1081.5 207v3M1081.5 237v2M1295.5 181v3M1296.5 155v1M1297.5 155v1M1298.5 181v3M1299.5 228v1M1300.5 232v2M1301.5 247v2M1309.5 189v6M1310.5 208v3M1311.5 244v4M1380.5 241v2M1381.5 232v4M1381.5 247v4"/>
<path stroke="#ffcf00" d="M1081.5 210v8M1081.5 235v2M1295.5 184v3M1298.5 184v3M1299.5 229v1M1300.5 234v1M1301.5 249v2M1309.5 195v5M1310.5 211v3M1311.5 248v3M1381.5 236v5M1381.5 243v4"/>
<path stroke="#ffbf00" d="M1081.5 218v17M1295.5 187v3M1296.5 156v1M1297.5 156v1M1298.5 187v3M1299.5 230v2M1300.5 235v1M1309.5 200v5M1310.5 214v2M1381.5 241v2"/>
<path stroke="#ffaf00" d="M1295.5 190v2M1296.5 157v2M1297.5 157v2M1298.5 190v2M1299.5 232v1M1300.5 236v1M1309.5 205v5M1309.5 245v6M1310.5 216v5"/>
<path stroke="#ff9f00" d="M1295.5 192v3M1296.5 159v1M1297.5 159v1M1298.5 192v3M1299.5 233v1M1300.5 237v2M1309.5 210v6M1309.5 225v20M1310.5 221v7"/>
<path stroke="#ff8f00" d="M1295.5 195v5M1296.5 160v1M1297.5 160v1M1298.5 195v5M1299.5 234v1M1300.5 239v2M1309.5 216v9M1310.5 228v9"/>
<path stroke="#ff8000" d="M1295.5 200v6M1296.5 161v1M1297.5 161v1M1298.5 200v6M1299.5 235v1M1300.5 241v2M1310.5 237v12"/>
<path stroke="#ff7000" d="M1295.5 206v6M1296.5 162v1M1297.5 162v1M1298.5 206v6M1299.5 236v2M1300.5 243v1M1310.5 249v2"/>
<path stroke="#ff6000" d="M1295.5 212v7M1295.5 250v1M1296.5 163v1M1297.5 163v1M1298.5 212v6M1299.5 238v2M1300.5 244v2"/>
<path stroke="#ff5000" d="M1295.5 219v7M1295.5 245v5M1296.5 164v1M1297.5 164v1M1298.5 218v5M1299.5 240v2M1300.5 246v2"/>
<path stroke="#ff4000" d="M1295.5 226v7M1295.5 240v5M1296.5 165v2M1297.5 165v2M1298.5 223v5M1299.5 242v2M1300.5 248v2"/>
<path stroke="#ff3000" d="M1295.5 233v7M1296.5 167v2M1297.5 167v2M1298.5 228v4M1299.5 244v2M1300.5 250v1"/>
<path stroke="#ff2000" d="M1296.5 169v2M1297.5 169v2M1298.5 232v4M1299.5 246v1"/>
<path stroke="#ff1000" d="M1296.5 171v2M1297.5 171v2M1298.5 236v12M1299.5 247v2"/>
<path stroke="#ff0000" d="M1296.5 173v2M1297.5 173v2M1298.5 248v3M1299.5 249v2"/>
<path stroke="#ef0000" d="M1296.5 175v3M1297.5 175v3"/>
<path stroke="#df0000" d="M1296.5 178v2M1297.5 178v2"/>
<path stroke="#cf0000" d="M1296.5 180v2M1297.5 180v2"/>
<path stroke="#bf0000" d="M1296.5 182v4M1297.5 182v4"/>
<path stroke="#af0000" d="M1296.5 186v5M1296.5 249v2M1297.5 186v5M1297.5 249v2"/>
<path stroke="#9f0000" d="M1296.5 191v4M1296.5 246v3M1297.5 191v4M1297.5 246v3"/>
<path stroke="#8f0000" d="M1296.5 195v12M1296.5 242v4M1297.5 195v12M1297.5 242v4"/>
<path stroke="#800000" d="M1296.5 207v35M1297.5 207v35"/>
</g>
<rect x="911.54" y="244.4" width="0.7" height="6" fill="#000050"/>
<rect x="911.54" y="46.4" width="0.7" height="6" fill="#000050"/>
<rect x="986.92" y="244.4" width="0.7" height="6" fill="#000050"/>
<rect x="986.92" y="46.4" width="0.7" height="6" fill="#000050"/>
<rect x="1062.31" y="244.4" width="0.7" height="6" fill="#000050"/>
<rect x="1062.31" y="46.4" width="0.7" height="6" fill="#000050"/>
<rect x="1137.7" y="244.4" width="0.7" height="6" fill="#000050"/>
<rect x="1137.7" y="46.4" width="0.7" height="6" fill="#000050"/>
<rect x="1213.09" y="244.4" width="0.7" height="6" fill="#000050"/>
<rect x="1213.09" y="46.4" width="0.7" height="6" fill="#000050"/>
<rect x="1288.47" y="244.4" width="0.7" height="6" fill="#000050"/>
<rect x="1288.47" y="46.4" width="0.7" height="6" fill="#000050"/>
<rect x="1363.86" y="244.4" width="0.7" height="6" fill="#000050"/>
<rect x="1363.86" y="46.4" width="0.7" height="6" fill="#000050"/>
<text x="836.5" y="265" text-anchor="middle" font-size="12" >00:00</text>
<text x="911.89" y="265" text-anchor="middle" font-size="12" >03:00</text>
<text x="987.27" y="265" text-anchor="middle" font-size="12" >06:00</text>
<text x="1062.66" y="265" text-anchor="middle" font-size="12" >09:00</text>
<text x="1138.05" y="265" text-anchor="middle" font-size="12" >12:00</text>
<text x="1213.44" y="265" text-anchor="middle" font-size="12" >15:00</text>
<text x="1288.82" y="265" text-anchor="middle" font-size="12" >18:00</text>
<text x="1364.21" y="265" text-anchor="middle" font-size="12" >21:00</text>
<text x="1439.6" y="265" text-anchor="middle" font-size="12" >00:00</text>
<rect x="836.5" y="47.85" width="6" height="0.7" fill="#000050"/>
<rect x="1433.6" y="47.85" width="6" height="0.7" fill="#000050"/>
<text x="831.9" y="52.5" text-anchor="end" font-size="12" >22</text>
<rect x="836.5" y="64.45" width="6" height="0.7" fill="#000050"/>
<rect x="1433.6" y="64.45" width="6" height="0.7" fill="#000050"/>
<text x="831.9" y="69.1" text-anchor="end" font-size="12" >20</text>
<rect x="836.5" y="82.85" width="6" height="0.7" fill="#000050"/>
<rect x="1433.6" y="82.85" width="6" height="0.7" fill="#000050"/>
<text x="831.9" y="87.5" text-anchor="end" font-size="12" >18</text>
<rect x="836.5" y="103.35" width="6" height="0.7" fill="#000050"/>
<rect x="1433.6" y="103.35" width="6" height="0.7" fill="#000050"/>
<text x="831.9" y="108" text-anchor="end" font-size="12" >16</text>
<rect x="836.5" y="126.55" width="6" height="0.7" fill="#000050"/>
<rect x="1433.6" y="126.55" width="6" height="0.7" fill="#000050"/>
<text x="831.9" y="131.2" text-anchor="end" font-size="12" >14</text>
<rect x="836.5" y="153.45" width="6" height="0.7" fill="#000050"/>
<rect x="1433.6" y="153.45" width="6" height="0.7" fill="#000050"/>
<text x="831.9" y="158.1" text-anchor="end" font-size="12" >12</text>
<rect x="836.5" y="185.15" width="6" height="0.7" fill="#000050"/>
<rect x="1433.6" y="185.15" width="6" height="0.7" fill="#000050"/>
<text x="831.9" y="189.8" text-anchor="end" font-size="12" >10</text>
<rect x="836.5" y="203.55" width="6" height="0.7" fill="#000050"/>
<rect x="1433.6" y="203.55" width="6" height="0.7" fill="#000050"/>
<text x="831.9" y="208.2" text-anchor="end" font-size="12" >9</text>
<rect x="836.5" y="224.05" width="6" height="0.7" fill="#000050"/>
<rect x="1433.6" y="224.05" width="6" height="0.7" fill="#000050"/>
<text x="831.9" y="228.7" text-anchor="end" font-size="12" >8</text>
<rect x="836.5" y="247.35" width="6" height="0.7" fill="#000050"/>
<rect x="1433.6" y="247.35" width="6" height="0.7" fill="#000050"/>
<text x="831.9" y="252" text-anchor="end" font-size="12" >7</text>
<text transform="translate(810,148.4) rotate(-90)" text-anchor="middle" font-size="12.4" font-weight="bold">freq (mHz)</text>
<rect x="1458.5" y="46.4" width="24.9" height="204" fill="#800000"/>
<rect x="1458.5" y="49.59" width="24.9" height="200.81" fill="#8f0000"/>
<rect x="1458.5" y="52.78" width="24.9" height="197.62" fill="#9f0000"/>
<rect x="1458.5" y="55.96" width="24.9" height="194.44" fill="#af0000"/>
<rect x="1458.5" y="59.15" width="24.9" height="191.25" fill="#bf0000"/>
<rect x="1458.5" y="62.34" width="24.9" height="188.06" fill="#cf0000"/>
<rect x="1458.5" y="65.53" width="24.9" height="184.88" fill="#df0000"/>
<rect x="1458.5" y="68.71" width="24.9" height="181.69" fill="#ef0000"/>
<rect x="1458.5" y="71.9" width="24.9" height="178.5" fill="#ff0000"/>
<rect x="1458.5" y="75.09" width="24.9" height="175.31" fill="#ff1000"/>
<rect x="1458.5" y="78.28" width="24.9" height="172.12" fill="#ff2000"/>
<rect x="1458.5" y="81.46" width="24.9" height="168.94" fill="#ff3000"/>
<rect x="1458.5" y="84.65" width="24.9" height="165.75" fill="#ff4000"/>
<rect x="1458.5" y="87.84" width="24.9" height="162.56" fill="#ff5000"/>
<rect x="1458.5" y="91.03" width="24.9" height="159.38" fill="#ff6000"/>
<rect x="1458.5" y="94.21" width="24.9" height="156.19" fill="#ff7000"/>
<rect x="1458.5" y="97.4" width="24.9" height="153" fill="#ff8000"/>
<rect x="1458.5" y="100.59" width="24.9" height="149.81" fill="#ff8f00"/>
<rect x="1458.5" y="103.78" width="24.9" height="146.62" fill="#ff9f00"/>
<rect x="1458.5" y="106.96" width="24.9" height="143.44" fill="#ffaf00"/>
<rect x="1458.5" y="110.15" width="24.9" height="140.25" fill="#ffbf00"/>
<rect x="1458.5" y="113.34" width="24.9" height="137.06" fill="#ffcf00"/>
<rect x="1458.5" y="116.53" width="24.9" height="133.88" fill="#ffdf00"/>
<rect x="1458.5" y="119.71" width="24.9" height="130.69" fill="#ffef00"/>
<rect x="1458.5" y="122.9" width="24.9" height="127.5" fill="#ffff00"/>
<rect x="1458.5" y="126.09" width="24.9" height="124.31" fill="#efff10"/>
<rect x="1458.5" y="129.28" width="24.9" height="121.12" fill="#dfff20"/>
<rect x="1458.5" y="132.46" width="24.9" height="117.94" fill="#cfff30"/>
<rect x="1458.5" y="135.65" width="24.9" height="114.75" fill="#bfff40"/>
<rect x="1458.5" y="138.84" width="24.9" height="111.56" fill="#afff50"/>
<rect x="1458.5" y="142.03" width="24.9" height="108.38" fill="#9fff60"/>
<rect x="1458.5" y="145.21" width="24.9" height="105.19" fill="#8fff70"/>
<rect x="1458.5" y="148.4" width="24.9" height="102" fill="#80ff80"/>
<rect x="1458.5" y="151.59" width="24.9" height="98.81" fill="#70ff8f"/>
<rect x="1458.5" y="154.78" width="24.9" height="95.62" fill="#60ff9f"/>
<rect x="1458.5" y="157.96" width="24.9" height="92.44" fill="#50ffaf"/>
<rect x="1458.5" y="161.15" width="24.9" height="89.25" fill="#40ffbf"/>
<rect x="1458.5" y="164.34" width="24.9" height="86.06" fill="#30ffcf"/>
<rect x="1458.5" y="167.53" width="24.9" height="82.88" fill="#20ffdf"/>
<rect x="1458.5" y="170.71" width="24.9" height="79.69" fill="#10ffef"/>
<rect x="1458.5" y="173.9" width="24.9" height="76.5" fill="#00ffff"/>
<rect x="1458.5" y="177.09" width="24.9" height="73.31" fill="#00efff"/>
<rect x="1458.5" y="180.28" width="24.9" height="70.12" fill="#00dfff"/>
<rect x="1458.5" y="183.46" width="24.9" height="66.94" fill="#00cfff"/>
<rect x="1458.5" y="186.65" width="24.9" height="63.75" fill="#00bfff"/>
<rect x="1458.5" y="189.84" width="24.9" height="60.56" fill="#00afff"/>
<rect x="1458.5" y="193.03" width="24.9" height="57.38" fill="#009fff"/>
<rect x="1458.5" y="196.21" width="24.9" height="54.19" fill="#008fff"/>
<rect x="1458.5" y="199.4" width="24.9" height="51" fill="#0080ff"/>
<rect x="1458.5" y="202.59" width="24.9" height="47.81" fill="#0070ff"/>
<rect x="1458.5" y="205.78" width="24.9" height="44.62" fill="#0060ff"/>
<rect x="1458.5" y="208.96" width="24.9" height="41.44" fill="#0050ff"/>
<rect x="1458.5" y="212.15" width="24.9" height="38.25" fill="#0040ff"/>
<rect x="1458.5" y="215.34" width="24.9" height="35.06" fill="#0030ff"/>
<rect x="1458.5" y="218.53" width="24.9" height="31.88" fill="#0020ff"/>
<rect x="1458.5" y="221.71" width="24.9" height="28.69" fill="#0010ff"/>
<rect x="1458.5" y="224.9" width="24.9" height="25.5" fill="#0000ff"/>
<rect x="1458.5" y="228.09" width="24.9" height="22.31" fill="#0000ef"/>
<rect x="1458.5" y="231.28" width="24.9" height="19.12" fill="#0000df"/>
<rect x="1458.5" y="234.46" width="24.9" height="15.94" fill="#0000cf"/>
<rect x="1458.5" y="237.65" width="24.9" height="12.75" fill="#0000bf"/>
<rect x="1458.5" y="240.84" width="24.9" height="9.56" fill="#0000af"/>
<rect x="1458.5" y="244.03" width="24.9" height="6.38" fill="#00009f"/>
<rect x="1458.5" y="247.21" width="24.9" height="3.19" fill="#00008f"/>
<rect x="1458.5" y="46.15" width="24.9" height="0.5" fill="#555"/>
<rect x="1458.5" y="250.15" width="24.9" height="0.5" fill="#555"/>
<rect x="1458.25" y="46.4" width="0.5" height="204" fill="#555"/>
<rect x="1483.15" y="46.4" width="0.5" height="204" fill="#555"/>
<text x="1486.6" y="254.7" text-anchor="start" font-size="12" >-2</text>
<rect x="1458.5" y="216.1" width="2.5" height="0.6" fill="#222"/>
<rect x="1480.9" y="216.1" width="2.5" height="0.6" fill="#222"/>
<text x="1486.6" y="220.7" text-anchor="start" font-size="12" >-1</text>
<rect x="1458.5" y="182.1" width="2.5" height="0.6" fill="#222"/>
<rect x="1480.9" y="182.1" width="2.5" height="0.6" fill="#222"/>
<text x="1486.6" y="186.7" text-anchor="start" font-size="12" >0</text>
<rect x="1458.5" y="148.1" width="2.5" height="0.6" fill="#222"/>
<rect x="1480.9" y="148.1" width="2.5" height="0.6" fill="#222"/>
<text x="1486.6" y="152.7" text-anchor="start" font-size="12" >1</text>
<rect x="1458.5" y="114.1" width="2.5" height="0.6" fill="#222"/>
<rect x="1480.9" y="114.1" width="2.5" height="0.6" fill="#222"/>
<text x="1486.6" y="118.7" text-anchor="start" font-size="12" >2</text>
<rect x="1458.5" y="80.1" width="2.5" height="0.6" fill="#222"/>
<rect x="1480.9" y="80.1" width="2.5" height="0.6" fill="#222"/>
<text x="1486.6" y="84.7" text-anchor="start" font-size="12" >3</text>
<text x="1486.6" y="50.7" text-anchor="start" font-size="12" >4</text>
<text transform="translate(1518.8,148.7) rotate(-90)" text-anchor="middle" font-size="12.4" font-weight="bold">log<tspan font-size="10.3" dy="6">2</tspan><tspan dy="-6">(nT</tspan><tspan font-size="10.3" dy="-5.7">2</tspan><tspan dy="5.7">/Hz)</tspan></text>
<g>
<path d="M44 432.4v3.6m7.5-7.6v4m10-3.5v3.5m5.5-3.2v3.2m2-3.5v3.5m4.5 0v5.7m3-11.6v5.9m1 0v4.7m1.5-4.7v4.2m1-4.2v2.8m1.5-6.4v3.6m3-3.2v3.2m1.5 0v3.5m7.5-6.7v3.2m3-3.9v3.9m2.5-4.7v4.7m4.5-2.9v2.9m2-4.3v4.3m.5 0v4.3m5-7.1v2.8m6-3.4v3.4m12-3.2v3.2m3.5 0v3.3m3-6.9v3.6m2.5 0v2.8m3.5-2.8v5.3m9-14.3v9m2 0v8.7m2.5-8.7v6.9m.5-6.9v11m3.5-26v15m3.5 0v8.1m2-8.1v7.9m3-7.9v5.9m1-14.1v8.2m9 0v5.9m1-5.9v7.1m2-7.1v7.7m1-14.8v7.1m1 0v6.9m1-13v6.1m14 0v7.6m3.5-16v8.4m4 0v6.2m.5-6.2v9.1m2-9.1v5.4m11.5-15.3v9.9m1-9.9v9.9m7-9.2v9.2m5 0v6.7m1.5-13.9v7.2m1-9.6v9.6m2.5-6.9v6.9m1.5 0v6.9m6-16.8v9.9m.5 0v8.4m1.5-8.4v5.7m.5-5.7v6.3m11-12.3v6m10 0v8.7m1.5-18.4v9.7m2 0v5.9m1.5-12.7v6.8m14 0v5.1m3.5-12.1v7m2-10.3v10.3m4 0v16.7m1-33.6v16.9m4 0v5.1m1-5.1v8.9m3.5-18v9.1m7.5-9.1v9.1m3 0v8.9m3.5-15.7v6.8m2.5 0v9m5-18.6v9.6m6-8.3v8.3m4-10v10m10-7.7v7.7m4 0v8.1m3-15.8v7.7m4.5-6.4v6.4m1.5-9.2v9.2m4.5 0v8.3m1.5-15.8v7.5m4.5-6.6v6.6m2-8.5v8.5m2.5-8v8m1 0v5.7m.5-14.3v8.6m9.5 0v4.7m10-4.7v7.5m3.5-7.5v5.1m.5-12.8v7.7m4-7.6v7.6m4.5-4.7v4.7m2.5 0v5.9m4-10.8v4.9m1-8.4v8.4m2-5.6v5.6m4-6.1v6.1m1.5-4.7v4.7m2 0v7.7m5.5-15.8v8.1m.5-7.3v7.3m.5-5.9v5.9m2-6.6v6.6m4.5-5.7v5.7m1-4.8v4.8m.5 0v4.6m2.5-4.6v4.3m.5-4.3v6.8m2-13.9v7.1m.5 0v6.5m1-6.5v4.8m5-4.8v5.2m10-5.2v4.9m1.5-4.9v7.4m5.5-7.4v7.8m20.5-7.8v5.3m2-5.3v4.9m5.5-4.9v5.7m10.5-18.9v13.2m3 0v17.4m5-61.7v44.3m11.5 0v20.5m4-32.2v11.7m.5-12v12m.5 0v8.9m3-8.9v8.2m.5-8.2v9.1m2-9.1v9.7m6-9.7v7.6m23-7.6v5.5m.5-13.6v8.1m3-6.9v6.9m8.5-10.5v10.5m2 0v7.9m.5-15.6v7.7m1 0v5.2m.5-5.2v9.2m3-24.6v15.4m2.5-13v13m2-5.6v5.6m2.5-6v6m2-11.3v11.3m5.5 0v11.7m1-19.5v7.8m4 0v7.4m3-7.4v9.3m1-18.3v9m2 0v6.1m1.5-6.1v4.8m1.5-4.8v8.5m4-16.9v8.4m2 0v8.4m2-8.4v7.1m1.5-13.1v6m14 0v3.4m2.5-6.4v3" stroke="#0000ff" stroke-opacity="0.4" stroke-width="0.6" fill="none"/>
<path d="M44 430.4v3.5m.5-2.7v2.6m.5-2.6v2.4m.5-2.4v2.4m.5-2.4v2.4m.5-2.4v2.4m.5-2.4v2.4m.5-2.4v2.4m.5-2.4v2.4m.5-3.6v4.4m.5-4.4v4.4m.5-4.9v5.3m.5-4.3v3.4m.5-2.7v2.4m.5-2.4v2.4m.5-3.4v4.1m.5-3.1v2.4m.5-2.4v2.5m.5-3.1v3.8m.5-3.8v3.8m.5-5.7v7.1m.5-6.6v5.6m.5-3.7v2.7m.5-2.6v2.4m.5-2.4v2.4m.5-2.4v2.4m.5-2.9v3.7m.5-3.9v3.8m.5-3.1v2.4m.5-2.4v2.4m.5-2.4v2.4m.5-2.9v3.5m.5-3.1v2.5m.5-2.9v3.3m.5-3.3v3.5m.5-3.4v3m.5-2.7v2.9m.5-3.5v3.7m.5-3v2.4m.5-2.4v2.4m.5-2.4v2.4m.5-2.4v2.4m.5-2.4v2.6m.5-2.6v2.4m.5-2.4v2.4m.5-2.6v2.6m.5-2.8v3.2m.5-2.9v2.8m.5-2.9v3m.5-2.9v2.5m.5-2.4v2.4m.5-2.6v2.9m.5-2.9v3.1m.5-2.9v2.5m.5-2.9v2.8m.5-3.7v4.8m.5-3.5v2.4m.5-2.5v2.7m.5-2.6v2.4m.5-3.3v4.1m.5-4.4v4.5m.5-5.7v6.4m.5-5.1v4.5m.5-6.3v7.3m.5-6.7v5.9m.5-5.7v5.9m.5-8.3v10m.5-11.1v11.5m.5-9.4v10m.5-10.1v8.4m.5-6v5m.5-3.8v2.6m.5-2.6v2.5m.5-3.3v3.9m.5-4.4v5.3m.5-5.7v6.1m.5-6.8v6.8m.5-6.5v6m.5-6.1v6.9m.5-6v4.8m.5-4.1v3.4m.5-2.8v2.4m.5-2.6v2.7m.5-3.1v3.4m.5-2.9v2.5m.5-2.6v2.7m.5-3.3v4.3m.5-4.2v3.5m.5-4.2v5.2m.5-4.7v4.3m.5-3.5v2.8m.5-4v4.7m.5-4.9v4.6m.5-3.4v3.2m.5-3.9v4.4m.5-4v3.9m.5-4.4v4.9m.5-4.8v4.1m.5-3.2v2.8m.5-3.3v3.3m.5-3v3m.5-2.7v2.4m.5-2.4v2.4m.5-2.4v2.4m.5-2.4v2.4m.5-2.4v2.4m.5-3.8v4.6m.5-4.4v4.1m.5-3.8v3.8m.5-3.5v3.2m.5-3.6v4.8m.5-5.9v6.3m.5-6v5.9m.5-4.6v3.6m.5-3.7v3.4m.5-3.2v2.8m.5-2.4v2.4m.5-2.4v2.4m.5-2.4v2.4m.5-2.4v2.4m.5-2.7v2.7m.5-2.6v3.1m.5-3.4v3.3m.5-3.3v3.3m.5-3.7v4.1m.5-4.2v4.2m.5-3.3v2.6m.5-2.6v2.6m.5-3.5v4m.5-3.7v3.6m.5-2.9v2.4m.5-2.9v3.2m.5-2.7v2.4m.5-2.4v2.7m.5-4.1v5.3m.5-5.4v4.7m.5-3.9v3.6m.5-3.6v3.5m.5-2.8v2.4m.5-2.4v2.4m.5-2.4v2.4m.5-3.2v3.7m.5-4.4v4.9m.5-5v5.1m.5-3.5v2.4m.5-2.5v2.6m.5-3.3v3.8m.5-3v2.4m.5-2.5v2.5m.5-2.7v3.1m.5-4.1v4.8m.5-4v3.1m.5-2.6v2.4m.5-2.6v2.9m.5-2.7v2.4m.5-2.8v2.9m.5-3.6v3.9m.5-4.7v5.7m.5-6.2v6.8m.5-4.4v2.4m.5-2.8v3m.5-4.5v5.7m.5-4.3v3.3m.5-3.2v3m.5-2.7v2.5m.5-2.4v2.4m.5-2.5v2.5m.5-2.4v2.4m.5-2.9v3.1m.5-2.6v2.4m.5-3.1v3.5m.5-4.1v4.8m.5-5v5.3m.5-5.8v6.3m.5-6.3v5.4m.5-3.9v3.3m.5-3.3v3.4m.5-3.5v3.4m.5-3.2v3.2m.5-4v4.3m.5-4.7v5.3m.5-4v3m.5-3.1v3.2m.5-3.4v3.4m.5-2.8v2.4m.5-3.3v3.9m.5-4.4v5.8m.5-4.9v3.6m.5-3.1v2.4m.5-2.7v3m.5-2.7v2.4m.5-3.3v4.1m.5-5.7v7.7m.5-7.3v5.7m.5-5v5.1m.5-6.8v8.2m.5-8.1v7.8m.5-6.6v5.1m.5-4.4v4.3m.5-4.6v4.7m.5-6.5v8m.5-11v14.3m.5-13.8v13.9m.5-13.7v13.8m.5-13.4v12m.5-10.9v9.1m.5-9.2v10.1m.5-11.2v12.1m.5-12.6v12.5m.5-8.2v5.2m.5-6.4v6.5m.5-5.9v5.8m.5-6.7v7.7m.5-7.6v8.1m.5-8.5v7.4m.5-7.3v7.8m.5-6.3v4.9m.5-3.3v2.6m.5-3.7v4.6m.5-3.5v2.6m.5-2.6v2.5m.5-3.2v3.3m.5-3.3v3.5m.5-3.6v3.7m.5-7.3v10.6m.5-9.6v9.7m.5-12.7v14.1m.5-15.4v17.1m.5-15.5v12.7m.5-11.2v11.5m.5-10.9v10.4m.5-14.6v16.2m.5-10.8v7.7m.5-7.4v7.8m.5-7.5v6.1m.5-6.6v7.9m.5-9v9.5m.5-11.4v13.5m.5-14.4v13.7m.5-11.4v9.4m.5-7.4v7.5m.5-6.3v4.4m.5-5.9v7.3m.5-9.4v10m.5-12.4v14.1m.5-13.9v14.3m.5-13.5v13.4m.5-13v11.9m.5-13.6v16.3m.5-14.3v12.2m.5-11.4v10.2m.5-6v3.1m.5-4.6v6m.5-7.2v8.4m.5-9.2v9.2m.5-7.6v7.3m.5-7.3v6.5m.5-7.9v8.3m.5-6.4v6.5m.5-7.8v8.1m.5-7.8v8.1m.5-9.9v9.9m.5-8v7.6m.5-8.5v9.3m.5-12v14.5m.5-14.4v13.3m.5-11v9.5m.5-11.8v12.3m.5-12.7v13.7m.5-14.8v16.7m.5-16.2v14.6m.5-10.7v9.9m.5-10.9v11.2m.5-12.2v11.1m.5-9.2v7.8m.5-5.2v3.9m.5-4.5v4.9m.5-4.8v4.6m.5-4v3.6m.5-3.3v3m.5-3.2v3.8m.5-4.3v4.3m.5-3.6v3.2m.5-4v4.5m.5-7.1v9.7m.5-8.6v7m.5-5.2v3.9m.5-7v9.7m.5-10v9.6m.5-8.9v9.5m.5-9.1v8.9m.5-11.9v13.1m.5-13.5v14m.5-11v9.2m.5-8.4v6.7m.5-4.8v4.3m.5-7.8v10.6m.5-10.5v9.4m.5-7.9v7.3m.5-5.6v5.1m.5-6.4v7.6m.5-9v9.7m.5-7.4v5.2m.5-6.8v7.9m.5-6.9v5.9m.5-6.4v7.4m.5-7v6.9m.5-5.5v4.3m.5-4.5v3.8m.5-6.1v8m.5-9.2v9.6m.5-6.9v5.1m.5-3.7v3.1m.5-2.8v2.7m.5-2.6v2.4m.5-3.6v5m.5-4v3m.5-3.9v4.3m.5-5.7v7.6m.5-8.1v9.2m.5-10v9.3m.5-9.5v8.8m.5-9.8v11.8m.5-11.5v10.3m.5-9.1v9.4m.5-6.7v3.5m.5-3.6v3.7m.5-4.4v5m.5-4.6v4.9m.5-5v4.7m.5-9.1v13.8m.5-10.1v6.5m.5-7.4v7.8m.5-7.8v8.2m.5-6.9v5.6m.5-4.9v4.5m.5-4.9v4.9m.5-6.9v9.1m.5-8.4v8m.5-6.3v4.1m.5-5.2v5.8m.5-6v7.2m.5-7.8v7.9m.5-9.9v10.5m.5-10.4v11.1m.5-11.8v13m.5-9.7v6.6m.5-5.2v4.1m.5-6.4v7.4m.5-7v7.4m.5-6.4v5.1m.5-3.8v3.1m.5-5.8v8.3m.5-7.2v6.1m.5-5.3v4.1m.5-5.4v7.4m.5-7.2v6.6m.5-4.6v2.7m.5-2.9v2.9m.5-4.9v6.1m.5-5.1v5.2m.5-7.9v9.6m.5-9.9v11.1m.5-10.2v9.1m.5-8.3v7.6m.5-11.6v13.1m.5-10.9v11.9m.5-11.3v8.8m.5-6.1v4.6m.5-5v5.5m.5-4.1v2.8m.5-3.7v3.9m.5-5v6.2m.5-9.3v11.8m.5-8.4v6m.5-5.4v5.5m.5-5.2v4m.5-3.6v3.4m.5-3.2v3m.5-3.2v3.7m.5-4v4m.5-5.5v6.6m.5-6.9v6.6m.5-4.1v2.8m.5-3.8v4.3m.5-5.5v7.4m.5-9.1v9.1m.5-10v10.2m.5-6.6v5.2m.5-6.6v7.4m.5-5.1v3.3m.5-4.2v5m.5-5.9v6.3m.5-5.5v4.7m.5-5.7v7.4m.5-7.3v7m.5-8.4v9.1m.5-10.2v11.3m.5-10.6v9.7m.5-10.3v11.9m.5-12.3v11.3m.5-10.9v11.5m.5-14.1v16.1m.5-12.4v10.2m.5-10.8v10.1m.5-10.7v11m.5-11.3v11.5m.5-11.3v11.7m.5-10.1v8.3m.5-5.8v3.9m.5-4.1v4.6m.5-5.5v6.4m.5-6v6m.5-6.2v5.8m.5-7v7.2m.5-7.7v8.5m.5-6.4v4.7m.5-5.5v6.1m.5-5.3v4.5m.5-4.1v4.5m.5-7.2v8.3m.5-8v10.2m.5-11.4v11m.5-12.2v12.7m.5-10.2v8.9m.5-10.2v12.8m.5-11.7v10m.5-11.1v11.2m.5-10.2v9.3m.5-11.2v12.7m.5-12.2v11.4m.5-10.8v10.5m.5-11.8v14.2m.5-13.9v12.2m.5-11.7v11.7m.5-11.8v12.6m.5-14v15m.5-12v9m.5-10.2v11.2m.5-8.7v7m.5-7.9v7.5m.5-8.8v10.4m.5-11.5v11.3m.5-8.4v7.6m.5-9.1v10.1m.5-11.1v11.6m.5-13.3v14m.5-10.8v9.8m.5-8.8v8.1m.5-7v4.4m.5-4.3v4.5m.5-6v7m.5-8.2v9.1m.5-11.5v13.7m.5-9.4v6.6m.5-5.5v4.3m.5-4.7v4.8m.5-4.4v4.1m.5-5.8v6.9m.5-6.6v7m.5-5.5v3.9m.5-5.8v7m.5-7.9v9.1m.5-8.1v7.4m.5-8.2v8.6m.5-11v12.3m.5-12.5v13.8m.5-13.9v13.2m.5-10.8v10.6m.5-9.3v7.2m.5-6.8v6m.5-7.2v7.8m.5-6.5v5.9m.5-5.5v5.2m.5-4.8v4.3m.5-4.3v4.8m.5-5.8v7m.5-8.6v10.7m.5-13.7v14.7m.5-13.1v11.9m.5-12.4v11.9m.5-12.2v14.6m.5-11.4v6.8m.5-5.7v6.1m.5-9.3v12.5m.5-13.9v13.7m.5-11.1v10.5m.5-10.8v8.5m.5-6.8v6.3m.5-6v5.8m.5-5.9v5.9m.5-6.3v6.8m.5-6.3v6m.5-6.2v6.1m.5-7.9v9.8m.5-7.4v6.1m.5-8.2v8.1m.5-11.2v15.2m.5-20.4v25.4m.5-22.8v20m.5-21.3v21.9m.5-25.7v26.2m.5-17v14.1m.5-11.7v8.5m.5-10.6v11.8m.5-11.9v11.2m.5-10.1v9.1m.5-11.3v13.5m.5-14v13.6m.5-8.7v6.2m.5-7.5v7.9m.5-8v7.6m.5-4.8v2.8m.5-3.5v4.7m.5-5.6v6.1m.5-7.3v8.6m.5-7.9v7.1m.5-11.4v13.2m.5-10.5v9.4m.5-8.4v9.6m.5-10v7.8m.5-8.2v9m.5-8v7.7m.5-6.4v5.4m.5-5.7v6.2m.5-6.2v5.4m.5-7.2v8.6m.5-11.2v13.2m.5-10.7v9.1m.5-8.9v8.9m.5-8.2v8.1m.5-8.7v10.4m.5-10.1v8.5m.5-10.9v12.4m.5-9.6v7.6m.5-8.4v10.2m.5-11.5v13m.5-11.2v8.8m.5-7v4.9m.5-6.4v7.5m.5-6.4v5.2m.5-6.9v8.7m.5-7.4v6.3m.5-6v5.5m.5-5.2v4.8m.5-4.1v3.8m.5-5.2v6.5m.5-7.3v8.3m.5-11.5v14.3m.5-15.1v15.5m.5-15.2v14.9m.5-11.8v10.1m.5-8.5v6m.5-5.7v6.1m.5-7.3v7.8m.5-8.1v8.3m.5-6.4v4.9m.5-6.8v8.7m.5-7.9v6.3m.5-6.3v7.2m.5-9.1v10.4m.5-7.3v4.5m.5-5.9v7.1m.5-7.6v8.7m.5-8.4v7.3m.5-7.8v9.1m.5-9.5v9.2m.5-5.9v3.3m.5-3.6v3.9m.5-5.6v6.2m.5-5.7v6.2m.5-7.7v9.2m.5-10.3v10.5m.5-8.6v7.3m.5-5.4v4m.5-3.8v3.2m.5-3.7v3.9m.5-3.4v3m.5-5.4v8.8m.5-9.6v8.7m.5-7.6v6.9m.5-5.6v4.4m.5-4v4.6m.5-5.1v4.8m.5-4.6v4.7m.5-6.5v7.1m.5-6.2v6.1m.5-7.9v8.9m.5-10.9v13.7m.5-11.4v8.7m.5-7.5v6.6m.5-6.8v6.3m.5-5.4v5.4m.5-5.6v6.1m.5-7v8.1m.5-6.9v5.8m.5-6.1v6.2m.5-5.5v4.3m.5-4.2v4.5m.5-3.8v3m.5-3.1v3.2m.5-4.8v6.2m.5-6v6.7m.5-7.7v7.9m.5-6.5v5.2m.5-4.2v3.5m.5-3.9v3.9m.5-5.5v7.4m.5-9.4v9.7m.5-9.5v9.3m.5-6.8v6.5m.5-6.3v5.3m.5-4.7v4.6m.5-4.5v4m.5-4.8v5.7m.5-5.6v5.1m.5-5.8v7.6m.5-7.1v6m.5-6.7v6.7m.5-4.6v2.8m.5-2.5v2.8m.5-5.8v7.8m.5-8.6v8.5m.5-4.6v2.5m.5-6.1v8.4m.5-7.5v7.6m.5-8.1v8.4m.5-9v9m.5-9.3v10.9m.5-13.7v15.3m.5-11.6v9m.5-9.3v10.5m.5-11v10.2m.5-10.4v9.9m.5-8.9v8m.5-8.5v10.5m.5-13.6v13.9m.5-12.9v13.3m.5-11.6v11m.5-12.8v13.2m.5-11v9.2m.5-8.1v6.4m.5-4.3v3.3m.5-3.8v4.6m.5-4.4v3.8m.5-6.5v9.4m.5-9.1v7.6m.5-7.7v8.3m.5-8.4v8.6m.5-9.5v9.5m.5-10.5v11.2m.5-10.6v10.8m.5-8.9v8.6m.5-8.5v7.4m.5-7.9v9.5m.5-9v7.1m.5-8.2v9.6m.5-9.1v7.7m.5-7.8v9.2m.5-7v4.7m.5-5.9v7.7m.5-7.1v5.9m.5-6.2v6.2m.5-5v4.3m.5-5v5.8m.5-6.6v7.3m.5-9.5v10m.5-6.6v5.2m.5-4.5v3.5m.5-4v4.6m.5-4.1v3m.5-5v6.2m.5-5.1v4.6m.5-3.8v3.9m.5-3.3v2.4m.5-2.9v3.3m.5-3.6v3.6m.5-2.8v2.4m.5-5.2v7.6m.5-6.2v5.1m.5-5v5.2m.5-4.9v3.9m.5-4.4v4.7m.5-5v5.6m.5-8v10.3m.5-6.7v3.4m.5-5.5v6.9m.5-6.2v6.9m.5-8.1v7.6m.5-6.9v7.2m.5-7.2v7m.5-6.3v5.5m.5-5.7v6.4m.5-6.5v6.3m.5-6.6v7m.5-6.6v6.5m.5-6.2v5.9m.5-4.8v3.6m.5-3.7v3.4m.5-4v5.1m.5-4.6v4.2m.5-4.9v5.6m.5-6.7v7m.5-5v3.7m.5-5v6.2m.5-7.1v7.9m.5-9.1v9.4m.5-8.7v8.4m.5-5.9v3.8m.5-6.4v9.4m.5-9.9v10.8m.5-7.8v4.2m.5-4.8v5.2m.5-5.3v5m.5-4.2v4.5m.5-6v6.4m.5-6.3v6.5m.5-8.2v8.8m.5-7.7v8.3m.5-8.3v7.7m.5-9.6v10.7m.5-10.4v11.9m.5-13.5v13.1m.5-10.9v8.8m.5-7.6v7.5m.5-6.1v4.1m.5-3.4v3.4m.5-6.1v8.9m.5-9.4v8.9m.5-7.4v6.9m.5-7.3v6.7m.5-7.8v9.3m.5-8.8v7.4m.5-5.7v5.1m.5-4.2v3.6m.5-5.8v6.8m.5-6.2v6.6m.5-5.4v4.1m.5-3.1v2.4m.5-4.3v6.1m.5-6.2v5.4m.5-4.4v4.5m.5-3.8v2.9m.5-4.5v6.2m.5-6.2v6.5m.5-6.5v5.6m.5-8.4v12m.5-8.9v5m.5-4.4v3.9m.5-5.1v5.9m.5-5.4v5.3m.5-4.8v4.7m.5-7.8v10.2m.5-10.4v11.2m.5-11.9v11.9m.5-10.6v11m.5-10v7.3m.5-5.2v3.9m.5-4.6v5.8m.5-4.7v3.5m.5-3.1v2.4m.5-3.1v3.5m.5-4.4v5.4m.5-5.2v4.9m.5-5.2v5m.5-4v3.7m.5-4.3v4.7m.5-5.4v6m.5-7v7.3m.5-5.4v4.4m.5-3.6v2.8m.5-2.5v2.4m.5-3.2v4.1m.5-4.1v3.6m.5-3.8v4.1m.5-5.1v5.4m.5-4.8v4.8m.5-7.2v9.4m.5-9.8v8.9m.5-8.1v10.1m.5-10.1v9.4m.5-10.3v9.8m.5-8.9v9.2m.5-8.8v7.9m.5-8.2v8m.5-7.3v7.2m.5-7.6v7.3m.5-5.4v4.4m.5-5.6v6.7m.5-6.7v6.7m.5-6.8v7.8m.5-7v5.6m.5-6.7v8m.5-6.4v4.8m.5-6.4v8.4m.5-10.6v10.3m.5-10.8v12m.5-9.1v7.2m.5-9.9v10.7m.5-8.7v8.1m.5-8.6v9.6m.5-7v4.1m.5-5.2v6.4m.5-7.3v8.1m.5-6.8v5.7m.5-4.2v3.1m.5-7.2v10m.5-9.8v10m.5-10.1v10.2m.5-9.1v8.5m.5-6.2v3.8m.5-4.2v4.4m.5-5.9v8m.5-5.9v3.3m.5-4.8v6.6m.5-5.7v5.2m.5-5.2v5m.5-4.4v4.3m.5-6.4v7.6m.5-5.5v4.1m.5-7.4v10.7m.5-10.6v9.2m.5-9.3v10.1m.5-9.8v8.2m.5-6.6v5.6m.5-6.9v10m.5-8.1v4.7m.5-4.9v5.1m.5-5.4v5.9m.5-4.9v4.1m.5-4.2v4.5m.5-4.8v4.6m.5-4.4v5.2m.5-7.5v8.9m.5-9.2v8.9m.5-7.2v6m.5-4v2.7m.5-4.2v5.5m.5-4.4v3.2m.5-4.3v5.6m.5-9v11.7m.5-11.4v11.2m.5-11.4v11.2m.5-9.3v7.2m.5-7.7v9.1m.5-7.9v6.4m.5-8.1v9.1m.5-6.5v5.6m.5-4.7v3m.5-4v5.2m.5-4.7v4.3m.5-4v3.5m.5-4.4v5.4m.5-5.5v5m.5-4.8v5.8m.5-5.6v4.2m.5-4.5v5.5m.5-8.3v9.6m.5-8.8v9.7m.5-9.4v8.9m.5-8.2v7.4m.5-4.8v2.4m.5-2.6v2.6m.5-3.5v4.3m.5-5.3v6.1m.5-6v6.1m.5-5.2v4.5m.5-6.7v8.2m.5-8.8v9.8m.5-8.1v6.6m.5-6v5.5m.5-5.7v5.7m.5-6.2v6.4m.5-6.5v6m.5-5.4v5.7m.5-4.2v3.1m.5-4.5v5.3m.5-5.3v5.4m.5-4.5v4.3m.5-4.1v3.5m.5-3v2.8m.5-3.1v3m.5-4.5v6.3m.5-6v5.4m.5-5.4v5.3m.5-6.8v7.9m.5-5.8v4.3m.5-4.1v4.2m.5-5v5.6m.5-4.9v3.7m.5-4v4.8m.5-5.1v5.1m.5-4.9v4.5m.5-6.9v8.7m.5-8.2v7.8m.5-7v6.9m.5-6.2v5.1m.5-4.6v5m.5-6.2v6.5m.5-7.5v8.1m.5-6.6v5.9m.5-7.1v8.2m.5-7.7v7.2m.5-6.6v5.4m.5-5.2v5.9m.5-4.3v2.7m.5-3v3m.5-3.6v4.4m.5-6v7.3m.5-5.6v4m.5-3.6v3.3m.5-3.8v4.1m.5-3.4v3m.5-5v7m.5-9.2v10.4m.5-9.9v9.9m.5-11.8v13m.5-15.1v15.4m.5-10.9v9.9m.5-9.7v9.3m.5-8v6.9m.5-9v9.3m.5-11.1v13.9m.5-17.4v20.7m.5-19.3v17.5m.5-16.1v15.1m.5-20.2v24.4m.5-25.4v26.4m.5-23.6v19.3m.5-22.2v25.2m.5-26.6v27.8m.5-21.6v19.3m.5-25v28.8m.5-26v21m.5-16.7v14.9m.5-18v20.6m.5-20.8v20.9m.5-21.9v21.3m.5-23.9v29.4m.5-37.9v39.5m.5-28.2v23.4m.5-28.7v31m.5-30.4v30.3m.5-26.1v24.4m.5-33.6v36.8m.5-31.6v32.1m.5-34.8v36.4m.5-29.7v24.5m.5-25.2v21.3m.5-17.6v18.7m.5-16.3v14.2m.5-17.1v20.3m.5-14.7v8.3m.5-12.9v16m.5-19.5v21.3m.5-17.8v19.6m.5-27.3v33.9m.5-27.1v20.5m.5-25.1v25m.5-27.7v29.5m.5-20.7v16.5m.5-18.9v23.7m.5-23.2v18.8m.5-13.8v11.1m.5-28.6v40.9m.5-45.4v52.8m.5-54.6v51.9m.5-50.2v46.3m.5-32.8v25.5m.5-23.8v22.8m.5-15.6v9.8m.5-14.6v18.1m.5-21.6v26.7m.5-17.7v7.2m.5-6.2v6.6m.5-6.3v5.1m.5-6.5v7.3m.5-9.4v12.4m.5-10.6v8.5m.5-8.4v8.3m.5-8.9v9.4m.5-10.5v13m.5-13.8v11.9m.5-14.2v16.4m.5-13.1v10.2m.5-8v8.8m.5-9.2v7.5m.5-9.2v11.9m.5-9.9v6.9m.5-9.1v11.7m.5-9v6.6m.5-7.3v8.3m.5-8.2v7.6m.5-5.7v4m.5-4.2v4.2m.5-6.7v8.8m.5-8v7.8m.5-7.8v7.4m.5-8v8.1m.5-10.7v13.3m.5-14.4v14m.5-9.8v8.4m.5-7.7v6.7m.5-9.7v11.8m.5-9.4v8.1m.5-9.9v10.7m.5-11v12.5m.5-13.4v12.3m.5-9.6v7.4m.5-4.8v3.4m.5-5.1v7.4m.5-7.2v6.5m.5-5.6v4.6m.5-5v5m.5-8.5v11.9m.5-10.2v8.4m.5-7.8v7.1m.5-7v8.2m.5-7.3v6.3m.5-8.6v11.2m.5-12.3v11.6m.5-8.1v5.4m.5-8.3v9.6m.5-9.1v8.8m.5-9.7v12.4m.5-11.7v10.6m.5-9.3v7.8m.5-8.8v10m.5-9.8v9.4m.5-6.6v4.2m.5-3.4v2.7m.5-3.8v4.4m.5-5.2v7.5m.5-7.5v6.8m.5-4.9v2.6m.5-2.4v2.4m.5-5.3v8.2m.5-6.5v4.6m.5-5.8v6.9m.5-5.7v4.8m.5-4.8v4.7m.5-5.3v5.1m.5-3.8v3.5m.5-7.4v10.2m.5-10.9v10.7m.5-7.5v6.6m.5-5.8v4.5m.5-6v7.1m.5-8v8.8m.5-8.8v10m.5-12.8v15.9m.5-13.9v10.1m.5-11.8v13.4m.5-15.9v18m.5-19.5v18.7m.5-15.8v15.3m.5-14.8v15.5m.5-17.1v19.3m.5-22.6v22.8m.5-22.8v22.9m.5-20.9v23.1m.5-23v18.7m.5-20.6v24.1m.5-19.4v16.1m.5-13.2v9.8m.5-9.3v9m.5-7.5v5.7m.5-4.9v4.5m.5-5.6v6.8m.5-8.9v9.7m.5-7.6v6.1m.5-6.5v7.1m.5-7.7v9.1m.5-10.1v9.1m.5-9.7v9.9m.5-10.2v11.1m.5-9v7.5m.5-8v8.3m.5-9.6v10.6m.5-8.7v7.3m.5-8.1v8.8m.5-11.4v13.8m.5-10.2v7.8m.5-6.7v5.5m.5-8.9v12m.5-14.9v16.7m.5-17.5v18.6m.5-14.2v10.1m.5-11.8v12.1m.5-10.6v9.4m.5-7.8v6.9m.5-7.2v7.6m.5-6.3v5.9m.5-8.5v10.1m.5-7.3v4.7m.5-6.7v9.2m.5-9.7v10.4m.5-10.1v10.3m.5-10.4v10.1m.5-11.9v14.3m.5-14.6v14.9m.5-15.7v16.5m.5-16.5v16.4m.5-16.6v16.9m.5-20.3v21.2m.5-21.9v23m.5-20.4v17.9m.5-18.9v21.3m.5-22.1v22.1m.5-22.1v19.4m.5-12.2v8.8m.5-9.3v10m.5-9.5v7.5m.5-6.6v6.2m.5-6.2v6.9m.5-7.5v7.8m.5-12v14.9m.5-14.8v15.5m.5-12.8v11.2m.5-13.1v12.2m.5-13v16m.5-15.2v14.8m.5-14.4v13.5m.5-12.8v11.6m.5-10.9v10.1m.5-8.3v7.5m.5-6.4v4.6m.5-5.9v7.2m.5-7.3v6.9m.5-4.9v3.4m.5-3.1v3m.5-3.7v4.4m.5-4.3v4m.5-5.3v6.3m.5-8v9.4m.5-5.4v2.5m.5-2.7v2.8m.5-4.7v5.9m.5-6.3v7.7m.5-12.5v14.9m.5-13.7v13.3m.5-12v11m.5-7.3v4.5m.5-5.1v6.2m.5-7.5v8.6m.5-10.1v10.5m.5-10.5v9.9m.5-9.1v9.1m.5-12v14.5m.5-12.5v11.4m.5-11.7v10.6m.5-6.6v4.1m.5-3.5v2.8m.5-5.6v8.6m.5-10.2v11m.5-8.1v5.6m.5-4.2v3.3m.5-2.9v2.4m.5-2.9v3.3m.5-4.5v5.1m.5-4.9v5.7m.5-4.8v3.6m.5-3v2.4m.5-4.3v6.1m.5-7.7v8.8m.5-8.6v7.6m.5-5.2v4.1m.5-3.2v2.4m.5-2.4v2.6m.5-2.6v2.4m.5-2.4v2.4m.5-2.4v2.4m.5-2.4v2.5m.5-2.8v3.1m.5-2.8v2.5m.5-3.1v3.1m.5-2.6v2.5m.5-3.9v5.3m.5-5.4v5.4m.5-4.9v4.4m.5-3.5v3.1m.5-3.6v3.6m.5-3.9v4.3m.5-4v3.8m.5-3.1v2.4m.5-2.4v2.4m.5-2.4v2.4m.5-2.5v2.5m.5-2.7v2.8m.5-2.5v2.4m.5-2.9v3.2m.5-2.7v2.4m.5-2.4v2.4m.5-2.4v2.4m.5-3.2v3.6m.5-3.4v3.8m.5-4.6v5.1m.5-5.3v6.2m.5-6.2v5.4m.5-3.8v2.4m.5-2.8v3m.5-2.9v3.2m.5-3v2.5" stroke="#0000ff" stroke-opacity="0.6" stroke-width="0.5" fill="none"/>
<path d="M44 430.8v2.7m.5-2.1v2.2m.5-2.2v2.1m.5-2.1v2.1m.5-2.1v2.1m.5-2.1v2.1m.5-2.1v2.1m.5-2.1v2.1m.5-2.1v2.1m.5-3v3.3m.5-3.1v3.3m.5-3.4v3.6m.5-3.4v2.7m.5-2.1v2.1m.5-2.1v2.1m.5-2.4v2.9m.5-2.6v2.1m.5-2.1v2.1m.5-2.5v3.1m.5-2.8v2.8m.5-4.6v5.6m.5-5v3.9m.5-2.7v2.2m.5-2.1v2.1m.5-2.1v2.1m.5-2.1v2.1m.5-2.4v3m.5-3.2v2.9m.5-2.4v2.1m.5-2.1v2.1m.5-2.1v2.1m.5-2.4v2.8m.5-2.5v2.1m.5-2.4v2.6m.5-2.6v2.7m.5-2.7v2.4m.5-2.1v2.3m.5-2.4v2.5m.5-2.4v2.1m.5-2.1v2.1m.5-2.1v2.1m.5-2.1v2.1m.5-2.1v2.2m.5-2.2v2.1m.5-2.1v2.1m.5-2.2v2.2m.5-2.5v2.8m.5-2.5v2.2m.5-2.3v2.4m.5-2.2v2.1m.5-2.1v2.1m.5-2.3v2.3m.5-2.1v2.5m.5-2.5v2.1m.5-2.3v2.3m.5-3.4v4.2m.5-2.9v2.1m.5-2.1v2.2m.5-2.2v2.1m.5-2.8v3.4m.5-3.7v3.6m.5-4.4v5m.5-3.7v3.5m.5-5.7v6.3m.5-5.6v5.1m.5-4.7v4.7m.5-5.8v6.8m.5-8.3v8.7m.5-7v8.1m.5-8.8v6.9m.5-4.5v3.8m.5-3v2.1m.5-2.1v2.1m.5-2.3v2.7m.5-3.1v3.7m.5-4.4v5.1m.5-5.2v4.7m.5-4.7v4.4m.5-4.9v5.7m.5-5v4.1m.5-3.2v2.4m.5-2.1v2.1m.5-2.1v2.1m.5-2.2v2.5m.5-2.4v2.1m.5-2.2v2.2m.5-2.3v3.2m.5-3.4v2.7m.5-3.1v3.8m.5-3.6v3.1m.5-2.5v2.1m.5-2.9v3.2m.5-3.6v3.7m.5-2.5v2.3m.5-3.1v3.5m.5-2.9v2.9m.5-3.3v3.2m.5-3.1v3.2m.5-2.7v2.1m.5-2.6v2.7m.5-2.2v2.1m.5-2.1v2.1m.5-2.1v2.1m.5-2.1v2.1m.5-2.1v2.1m.5-2.1v2.1m.5-2.9v3.2m.5-3v2.8m.5-2.9v2.9m.5-2.3v2.2m.5-2.5v3.7m.5-4.6v5m.5-5v4.2m.5-3.2v2.9m.5-3v2.6m.5-2.2v2.1m.5-2.1v2.1m.5-2.1v2.1m.5-2.1v2.1m.5-2.1v2.1m.5-2.3v2.3m.5-2.1v2.3m.5-2.6v2.7m.5-2.8v2.8m.5-3.1v3.3m.5-3.3v3.4m.5-2.7v2.1m.5-2.2v2.2m.5-2.8v3.1m.5-2.6v2.3m.5-2.1v2.1m.5-2.6v2.8m.5-2.3v2.1m.5-2.2v2.2m.5-2.9v4m.5-4.2v3.4m.5-3v2.9m.5-2.8v2.7m.5-2.2v2.1m.5-2.1v2.1m.5-2.1v2.1m.5-2.8v2.8m.5-2.9v3.5m.5-3.9v4m.5-2.8v2.1m.5-2.1v2.1m.5-2.6v2.7m.5-2.2v2.1m.5-2.1v2.1m.5-2.1v2.1m.5-3.3v3.7m.5-2.6v2.2m.5-2.1v2.1m.5-2.3v2.3m.5-2.1v2.1m.5-2.5v2.5m.5-2.9v3.2m.5-3.8v4.3m.5-4.1v4.2m.5-3v2.1m.5-2.1v2.1m.5-3.7v4.8m.5-3.3v2.3m.5-2.5v2.6m.5-2.3v2.1m.5-2.1v2.1m.5-2.2v2.2m.5-2.1v2.1m.5-2.4v2.4m.5-2.1v2.1m.5-2.8v2.8m.5-2.9v3.4m.5-3.6v3.9m.5-4.6v4.7m.5-4v3.4m.5-2.7v2.4m.5-2.3v2.3m.5-2.6v2.9m.5-2.8v2.7m.5-3.3v3.4m.5-3.6v4.4m.5-3.5v2.4m.5-2.5v2.6m.5-2.8v3m.5-2.4v2.1m.5-2.4v2.8m.5-3.4v4.2m.5-3.6v2.8m.5-2.5v2.1m.5-2.2v2.2m.5-2.1v2.1m.5-2.5v3.1m.5-4v5.8m.5-5.6v3.8m.5-3.7v3.6m.5-4.3v5.3m.5-5.8v5.4m.5-4.2v3.8m.5-3.7v3.2m.5-2.9v3.2m.5-4.9v5.5m.5-7.9v11.8m.5-12v10.2m.5-9.5v10.1m.5-9.4v9.1m.5-7.8v6.1m.5-7.5v8.1m.5-9.1v10.3m.5-10.3v9.8m.5-6.6v4.3m.5-4.5v4.5m.5-3.8v3.6m.5-5.4v6.4m.5-5.3v5.1m.5-5.2v4.8m.5-4.8v5.1m.5-4.8v4.1m.5-2.7v2.2m.5-2.5v2.8m.5-2.5v2.1m.5-2.1v2.1m.5-2.3v2.3m.5-2.7v2.7m.5-2.7v3m.5-5.4v8.2m.5-8.1v7.5m.5-9.7v11m.5-10.7v11.4m.5-11.9v10.5m.5-7.7v8.4m.5-8v7m.5-10.4v11.9m.5-9v6.3m.5-5.6v6.4m.5-6.5v5.2m.5-5.5v6m.5-7v7.1m.5-7.7v10.5m.5-11.2v10.5m.5-9.2v7.2m.5-5.5v5.3m.5-4.7v3.3m.5-4.6v6.4m.5-7.9v8.4m.5-9.8v11.2m.5-10.1v10.6m.5-11.4v10.3m.5-9.3v8.7m.5-11.4v12.4m.5-10.3v9.3m.5-8.7v8.4m.5-4.9v2.8m.5-3.6v4.7m.5-6.3v6.7m.5-7v7.2m.5-5.2v5m.5-6.1v5.1m.5-5.3v6.4m.5-5.5v5.6m.5-6.3v6.3m.5-6.2v5.6m.5-6.9v7.4m.5-6.3v5.5m.5-6.1v7.2m.5-8.1v10.2m.5-10.7v9.9m.5-8.3v6.5m.5-9.4v10.7m.5-10.3v9.8m.5-11.3v12.5m.5-10.5v9.5m.5-7v7.4m.5-8.4v7.9m.5-7.6v7.1m.5-6.5v5.8m.5-4v3m.5-3.3v3.7m.5-3.8v3.2m.5-2.8v2.6m.5-2.2v2.3m.5-2.3v2.8m.5-3.8v3.5m.5-2.6v2.4m.5-2.8v3.2m.5-4.8v6.5m.5-6.1v4.8m.5-3.6v3.1m.5-6.2v8.5m.5-7.2v6.7m.5-6.7v6.4m.5-6.8v6.9m.5-9.6v11.6m.5-11.5v11.2m.5-8.1v6m.5-6.1v5.7m.5-4.2v3.4m.5-6v8.3m.5-8.4v7.2m.5-5.6v5.1m.5-4.2v4.6m.5-4.7v5.4m.5-6.5v6.5m.5-5v3.7m.5-5.2v6.2m.5-5.1v4.4m.5-4.8v5.4m.5-5.3v5.6m.5-4.8v3.2m.5-3v2.8m.5-4.9v6.5m.5-6.9v6.9m.5-5.5v4m.5-2.5v2.2m.5-2.1v2.1m.5-2.1v2.1m.5-3.2v4.3m.5-3.3v2.3m.5-3v3.1m.5-4.7v6.1m.5-5.6v7.3m.5-7.6v6.6m.5-7.3v6.7m.5-7.4v9.4m.5-8.4v7.6m.5-7.5v7.7m.5-5.7v2.6m.5-2.4v2.6m.5-3.7v4m.5-3.3v3.9m.5-3.7v3.4m.5-7.1v10.8m.5-7.9v4.4m.5-5.4v5.6m.5-5.8v6.1m.5-5v4.3m.5-3.2v2.8m.5-3.7v4.1m.5-5.5v6.6m.5-6.3v6m.5-4.3v3.2m.5-3.9v4.5m.5-4.6v5.3m.5-5.5v5.5m.5-6.7v6.7m.5-7.5v8.8m.5-8.9v9.4m.5-7.2v5m.5-4v3.3m.5-4.6v5.5m.5-5.3v5m.5-4.1v3.5m.5-2.9v2.3m.5-4.9v7.2m.5-5.5v4.5m.5-4.5v3.2m.5-4v5.2m.5-4.8v4.9m.5-3.5v2.1m.5-2.2v2.2m.5-3.4v4.4m.5-4.2v3.7m.5-5.4v7.3m.5-8.1v9.6m.5-8.9v7.8m.5-7.2v5.8m.5-9.4v10.6m.5-8.3v10m.5-9.2v6.8m.5-4.7v3.4m.5-3.6v4.2m.5-3.5v2.3m.5-2.8v2.8m.5-3.5v4.4m.5-7.4v9.2m.5-6.3v5.1m.5-4.4v4.2m.5-4.4v3.5m.5-2.8v2.6m.5-2.5v2.3m.5-2.6v3.2m.5-3.4v3.2m.5-4.3v5.5m.5-5.9v5m.5-2.8v2.2m.5-3.1v3.5m.5-4.8v5.6m.5-6.9v7.8m.5-7.6v7.6m.5-5.6v4.2m.5-4.7v5.3m.5-3.5v2.1m.5-3.3v3.7m.5-4.6v5m.5-3.7v3.1m.5-3.7v4.8m.5-4.9v4.9m.5-6.9v7.7m.5-7.1v7.9m.5-8.4v8.3m.5-8.6v9.1m.5-8.4v7.3m.5-7.2v8.6m.5-11.1v11.9m.5-9.4v7.9m.5-7.9v7.7m.5-7.8v7.4m.5-7.8v8.9m.5-9v9.4m.5-9v7.1m.5-4.6v2.8m.5-3v3.2m.5-3.8v5.1m.5-5v4.4m.5-3.9v3.9m.5-4.7v4.5m.5-4.9v5.4m.5-4v3.5m.5-4.8v5m.5-4.3v3.9m.5-3.4v3.7m.5-6v7m.5-5.8v6.6m.5-8.4v8.5m.5-9.7v10.7m.5-8.4v6.5m.5-7.1v8.4m.5-8.5v7.9m.5-8.1v8m.5-7.3v6.8m.5-8.1v10.3m.5-9.5v8.1m.5-8.5v7.7m.5-8.4v11.9m.5-11.3v9.3m.5-10v9.3m.5-9v10.5m.5-11.2v11.7m.5-9.9v7.8m.5-8.5v9.2m.5-6.9v5.5m.5-5.8v5.3m.5-7.3v8.3m.5-8.8v9.4m.5-7.5v6.8m.5-7.3v7.8m.5-8.9v9.7m.5-10.4v10.1m.5-8.6v8.3m.5-6.5v5.8m.5-5.1v2.9m.5-3.4v3.4m.5-3.8v4.3m.5-5.1v6.6m.5-9.2v11.3m.5-7.6v4.7m.5-3.8v2.7m.5-3.1v3.2m.5-3.1v3.1m.5-4.4v4.9m.5-4.3v4.5m.5-3.7v2.9m.5-4.3v5.5m.5-6.5v6.8m.5-6.1v5.4m.5-5.7v6.2m.5-8.3v9.4m.5-8.4v9.4m.5-10v10.3m.5-9.5v8.3m.5-7.1v5.8m.5-5.4v4.8m.5-5.2v5.8m.5-4.7v4.2m.5-3.8v3.6m.5-3.9v3.7m.5-3.7v3.6m.5-3.9v4.8m.5-6.7v8.2m.5-10.4v11.8m.5-9.6v8.1m.5-8.7v8.2m.5-9.2v11.5m.5-8.5v5.2m.5-4.8v4.5m.5-5.9v7.9m.5-9v9.1m.5-8v7.4m.5-8v6.7m.5-4.9v4.8m.5-4.3v4m.5-4.3v4.2m.5-4.3v5.1m.5-4.9v4.1m.5-4.5v4.4m.5-6.1v7.7m.5-5.8v4.9m.5-5.5v6m.5-9.6v12.4m.5-16v19m.5-18.2v16.2m.5-16.5v18.3m.5-22.5v23m.5-13.3v9.1m.5-8v6.2m.5-7v8.9m.5-10.5v9.6m.5-8.5v7.2m.5-8.1v10.1m.5-9.9v10.2m.5-7.1v4.5m.5-5.9v6.1m.5-5.5v5.5m.5-3.7v2.2m.5-2.8v3.9m.5-4.1v3.8m.5-5.4v6.1m.5-5.1v5m.5-9.5v10.3m.5-6.9v7.2m.5-7.2v7.1m.5-6.7v5.6m.5-5.6v6.3m.5-5.5v4.8m.5-4.6v4.3m.5-4.1v4.3m.5-4.4v4m.5-4.8v6.1m.5-8.2v10.1m.5-9.3v7.2m.5-6.8v6.9m.5-5.7v5.6m.5-6.4v8.1m.5-8.5v6.7m.5-7.1v8.3m.5-7v5.4m.5-6.2v7.9m.5-8.2v8.6m.5-7.9v7m.5-5.4v3.8m.5-4.8v4.9m.5-4.6v4.3m.5-5.8v7.6m.5-6.2v4.4m.5-4.1v4.3m.5-4.4v4.1m.5-3.4v3.1m.5-4.4v5m.5-5v5.8m.5-8v10.8m.5-13v13.5m.5-12.5v10.7m.5-7.8v6.7m.5-5.5v4m.5-4.2v4.4m.5-4.9v6.1m.5-6.1v5.9m.5-4.8v3.7m.5-5.1v6.1m.5-5.7v5.2m.5-4.8v5.4m.5-7.5v7.8m.5-5.1v3.6m.5-5.1v6.2m.5-5.9v6.2m.5-6.6v5.9m.5-5.3v5.7m.5-5.8v6.6m.5-4.7v2.4m.5-2.9v3.1m.5-4.5v4.9m.5-4.4v4.4m.5-5v6.5m.5-7.3v7.2m.5-6.4v6m.5-4.6v3.3m.5-3v2.4m.5-2.9v3.2m.5-2.8v2.5m.5-4.6v7.6m.5-8.3v7.2m.5-5.3v5m.5-4.5v3.1m.5-2.7v3.6m.5-3.8v3.5m.5-3.5v3m.5-4.4v5.1m.5-4.9v5.1m.5-5.4v5.7m.5-7.8v10.8m.5-9.8v7.6m.5-5.6v4.5m.5-5.6v4.9m.5-4.1v4.3m.5-3.7v4m.5-4.8v6.1m.5-5.9v4.8m.5-4.5v4.6m.5-3.9v3m.5-3.2v3.3m.5-2.6v2.1m.5-2.4v2.5m.5-3.5v4.1m.5-3.8v5m.5-6.7v6.5m.5-4.8v3.7m.5-2.7v2.3m.5-3.2v3.2m.5-3.8v5.2m.5-7.8v7.9m.5-6.6v6.5m.5-4.6v4.8m.5-4.9v3.8m.5-3.7v4m.5-3.8v3.4m.5-3.9v4.5m.5-4.7v4.2m.5-4.9v6.2m.5-5.5v4.7m.5-5.3v5.6m.5-3.8v2.3m.5-2.2v2.2m.5-4v5.5m.5-6.2v6.1m.5-3.5v2.1m.5-5.1v6.9m.5-6.2v5.9m.5-5.8v6.7m.5-7.5v7.5m.5-7.6v9.1m.5-11.3v12.6m.5-10v7.8m.5-7.4v7.9m.5-8.1v6.6m.5-7.7v7.5m.5-5.6v5.1m.5-6.5v8.4m.5-10.6v11m.5-10.8v11.5m.5-9v8.7m.5-10.8v10.2m.5-8.5v6.9m.5-5.2v4.1m.5-2.9v2.2m.5-2.7v3.1m.5-2.8v2.5m.5-4.4v6.2m.5-6.1v6m.5-6.1v6.4m.5-6.9v7.1m.5-8.2v7.6m.5-7.7v9m.5-8.1v7.5m.5-5.9v5.9m.5-6.8v5.6m.5-5.6v6.9m.5-6.7v5.7m.5-6v7.4m.5-8v6.7m.5-6.3v7.4m.5-5.7v3.6m.5-4.9v6.4m.5-5.1v3.8m.5-4.2v4.4m.5-3.5v2.9m.5-3.7v4.2m.5-5.1v6.1m.5-7.6v7.7m.5-4.9v3.7m.5-3.2v2.4m.5-2.5v3.3m.5-3.2v2.4m.5-4.3v5.3m.5-4.2v3.4m.5-2.7v3.2m.5-2.8v2.1m.5-2.3v2.7m.5-3.1v2.7m.5-2.1v2.1m.5-3.6v4.8m.5-4.1v3.6m.5-3.9v4.3m.5-4v3.1m.5-3.1v3.2m.5-3.2v4.1m.5-6.1v7.3m.5-4.8v2.7m.5-4.3v5.1m.5-4.7v5.2m.5-6.6v6m.5-5.1v5.8m.5-5v5m.5-5.3v4.7m.5-4.6v4.7m.5-4.8v4.5m.5-5.1v6.2m.5-5.8v5.2m.5-5v4.4m.5-3.4v2.7m.5-2.5v2.6m.5-3.2v4.1m.5-3.7v3.1m.5-3.6v4m.5-5.1v5.6m.5-3.9v2.8m.5-4.2v5.5m.5-5.9v6.5m.5-6.5v5.9m.5-5.8v5.6m.5-4.1v3.1m.5-5.1v6.7m.5-6.9v7.8m.5-5.4v2.7m.5-3.4v4m.5-4v3.6m.5-3.1v3.8m.5-4.8v4.4m.5-4.6v4.8m.5-6.4v7.2m.5-6.4v7.5m.5-6.8v5.2m.5-7.5v9.5m.5-7.8v7.4m.5-9.5v10.2m.5-8.6v6.5m.5-5.5v5.4m.5-4.5v3.6m.5-2.9v2.8m.5-5v6.7m.5-6.1v5.4m.5-4.4v4.3m.5-5v5m.5-6.4v7.4m.5-6v5.1m.5-4.7v3.9m.5-2.8v2.6m.5-4.6v5.4m.5-4.6v4.6m.5-4.1v3.4m.5-2.5v2.1m.5-3v3.9m.5-4.7v4.1m.5-3.4v3.8m.5-2.8v2.1m.5-3.2v4.7m.5-5.4v5.3m.5-4.4v4m.5-6.5v8.7m.5-6.2v3.7m.5-3.4v2.8m.5-4.1v4.7m.5-4v4.4m.5-4.2v3.5m.5-4.8v6.5m.5-7v8.8m.5-9.5v8.5m.5-8.3v8.6m.5-6.7v5m.5-4.3v3.3m.5-3.6v3.9m.5-2.9v2.5m.5-2.5v2.1m.5-2.6v2.9m.5-3.4v4m.5-3.9v3.3m.5-3.9v4.2m.5-3.4v3.1m.5-3.5v3.9m.5-4.1v4.3m.5-5.6v5.7m.5-3.7v3m.5-2.6v2.3m.5-2.1v2.1m.5-2.9v3.1m.5-2.8v2.8m.5-2.7v2.9m.5-3.6v3.5m.5-3.4v3.4m.5-5.3v7.5m.5-8v6.5m.5-5.3v7m.5-7.6v7.7m.5-7.2v6.6m.5-6.5v7.3m.5-7.4v5.5m.5-6.2v6.6m.5-5.2v5m.5-5.9v5.9m.5-4.4v3.9m.5-4v4.9m.5-5v4.7m.5-5.5v6.6m.5-6v4.1m.5-4.7v6.3m.5-5.1v3.4m.5-4v5.9m.5-8.3v7.7m.5-8.2v9.8m.5-7.2v5.1m.5-6.6v6.9m.5-6.4v6.5m.5-6.3v6.3m.5-4.8v3.6m.5-4v4.5m.5-4.7v5m.5-4.6v4.4m.5-3.3v2.2m.5-6v8.9m.5-8.5v8.2m.5-7v7.3m.5-6.9v6m.5-4.7v3m.5-3.6v3.4m.5-3.9v5.7m.5-4.5v2.6m.5-3.8v4.8m.5-4.3v4.6m.5-4.2v3.8m.5-3.2v2.8m.5-4.5v5.8m.5-4.3v3.2m.5-6v8m.5-7.1v6.7m.5-7.9v7.7m.5-6.9v6.6m.5-5.2v4.3m.5-5.2v8.1m.5-6.9v3.7m.5-4.2v4.1m.5-4.2v4.9m.5-3.8v3.1m.5-3.1v3m.5-3.5v3.3m.5-3.3v4.2m.5-6.1v6.6m.5-7.2v7.1m.5-5v4.1m.5-2.9v2.3m.5-2.9v3.7m.5-3v2.3m.5-2.9v3.9m.5-6.8v8.4m.5-8.1v8.2m.5-8.4v7.6m.5-6.7v5.6m.5-5.7v6.9m.5-5.8v5.1m.5-6.5v7.5m.5-5.2v3.7m.5-3.2v2.3m.5-2.7v3.7m.5-3.4v2.9m.5-2.8v2.3m.5-3.5v4.5m.5-4v3.7m.5-3.5v3.9m.5-4v3.1m.5-3.3v4m.5-6.8v8.3m.5-7.1v6.8m.5-6.9v7.4m.5-6.5v5m.5-3.2v2.1m.5-2.2v2.2m.5-2.8v3.3m.5-4.3v4.4m.5-4.1v4.7m.5-3.8v3.2m.5-5.1v6.5m.5-7v8.1m.5-6.3v4.1m.5-4.5v4.7m.5-4.2v4.4m.5-4.5v4.6m.5-5.7v5.2m.5-3.8v3.8m.5-3.2v2.5m.5-3.3v3.6m.5-4v4.2m.5-3.5v3.5m.5-3.2v2.8m.5-2.4v2.3m.5-2.5v2.3m.5-3.6v5.3m.5-4.5v3.4m.5-3.8v3.7m.5-5.3v6.4m.5-4.3v3.3m.5-3.5v3.3m.5-3.3v4.1m.5-3.8v2.7m.5-2.6v3.3m.5-3.5v3.1m.5-3.3v3.1m.5-5.1v7m.5-5.8v5m.5-5.4v5.9m.5-4.7v3.3m.5-3v3.7m.5-4.7v4.9m.5-5.2v5.7m.5-4.8v4m.5-4.9v6m.5-6.4v5.3m.5-4.9v4.6m.5-3.7v4.2m.5-3.3v2.1m.5-2.6v2.7m.5-2.9v3.1m.5-4.8v5.6m.5-3.8v2.7m.5-2.3v2.5m.5-3.4v3.3m.5-2.2v2.2m.5-3.4v4.5m.5-6.1v7.1m.5-7.5v7.1m.5-8v10.2m.5-11.8v11.5m.5-7.8v6.9m.5-6.9v7.2m.5-6.4v4.5m.5-5.9v6.7m.5-8.8v10.1m.5-10.9v15m.5-15v13.7m.5-13.4v12.4m.5-15.2v16.9m.5-18.3v17.9m.5-16.3v14.3m.5-14.2v16.2m.5-17.8v20.9m.5-16.5v12.8m.5-18.6v20.6m.5-16.4v15m.5-13.9v12m.5-14.2v15.2m.5-15.2v15.4m.5-17.8v16.6m.5-17.5v25m.5-33.5v30.7m.5-17.6v15.6m.5-19v22.3m.5-25.3v24.1m.5-18.6v16.9m.5-23.8v28.3m.5-26.4v23.6m.5-23v24.8m.5-21.9v19m.5-20.6v17.3m.5-12.2v12.2m.5-11.2v10.4m.5-11.8v15.2m.5-12.5v6.6m.5-10v12.1m.5-12.3v15m.5-13.8v14.3m.5-18v25.3m.5-23v17.2m.5-22.4v19.4m.5-18.4v22.3m.5-17.2v12.4m.5-14.9v18.6m.5-15.5v13.1m.5-11.4v8.4m.5-20.6v30m.5-32v37.6m.5-39.2v39m.5-40.6v37.1m.5-26.5v21.1m.5-20v16.7m.5-9.9v6.8m.5-9.8v12m.5-13.8v19.1m.5-13.8v4.9m.5-4.6v4.8m.5-4.1v3.3m.5-4.2v5.4m.5-7.7v10.2m.5-8.1v6.4m.5-7v6.6m.5-6.7v7.3m.5-9.1v11.5m.5-12.3v9.5m.5-11.6v13.3m.5-9.7v7.4m.5-6.1v7.6m.5-7v5.3m.5-6.5v8.2m.5-6.8v4.7m.5-6.1v8.9m.5-7.6v5.5m.5-5.3v5.4m.5-6.1v6.1m.5-4.5v3.2m.5-3.3v3.3m.5-5.8v7.3m.5-6.4v6.1m.5-5.2v4.7m.5-6.3v6.5m.5-8.2v10.3m.5-10v10.4m.5-8.5v7.3m.5-6.2v4.9m.5-7.6v9.3m.5-7.8v7.2m.5-7.1v7.9m.5-8.4v8.3m.5-9.2v8.5m.5-6.4v5.1m.5-3.5v2.5m.5-3.7v4.9m.5-4.9v4.6m.5-3.5v3.3m.5-3.7v3.1m.5-6.4v8.5m.5-6.7v6.5m.5-6.1v5.5m.5-5.4v5.6m.5-5.1v5.2m.5-6.3v7.6m.5-8.7v7.7m.5-5.8v4.8m.5-6.1v6.6m.5-5.9v6.2m.5-8.4v10.1m.5-9.6v8.6m.5-7.2v6.3m.5-7.3v7.9m.5-6.9v6.4m.5-4.8v3.3m.5-2.4v2.1m.5-2.8v3.3m.5-3.7v5.5m.5-5.7v4.9m.5-3.6v2.1m.5-2.1v2.1m.5-4.6v6.7m.5-4.9v3.1m.5-3.6v4.8m.5-4.4v3.9m.5-4.2v3.7m.5-4.2v4m.5-2.8v2.6m.5-5.6v7.9m.5-7.4v6.8m.5-5.6v5.5m.5-4.5v3.6m.5-4.9v5.3m.5-5.5v6.6m.5-7.4v7.5m.5-8.4v12.2m.5-10.8v6.3m.5-8.2v10.2m.5-12v13.6m.5-16.1v14.6m.5-10.3v11m.5-10.2v11.5m.5-14v14m.5-14.7v15.1m.5-18.5v18.8m.5-14.1v14.7m.5-15.5v14.1m.5-16.6v17.8m.5-14.3v12.7m.5-10.4v7.4m.5-7.1v6.9m.5-5.2v4.5m.5-4v3m.5-4.3v5.1m.5-5.6v6.6m.5-5.3v3.8m.5-4.6v5.7m.5-6.6v7.6m.5-8.4v7.5m.5-7.3v7m.5-7.6v8m.5-6.7v6m.5-6.3v7.3m.5-8.4v9m.5-7.3v5.7m.5-5.5v6.4m.5-9.6v10.5m.5-7v5.6m.5-4.4v3.8m.5-6.5v8.7m.5-11.6v13.3m.5-14.8v15.9m.5-10.9v6.7m.5-8.6v8.8m.5-7.1v6.6m.5-5.7v4.9m.5-4.8v5.4m.5-4.5v4.1m.5-6.3v7.6m.5-5.3v3.2m.5-5v7.8m.5-7.8v7.7m.5-7.4v6.9m.5-6.7v7.3m.5-9.8v10.4m.5-10.1v11.4m.5-12.2v13.5m.5-14.3v12.8m.5-12.8v13.9m.5-17v17.6m.5-18.4v19.2m.5-15.7v14.4m.5-14.5v15.5m.5-17.7v16.5m.5-15.6v15.6m.5-9.8v6m.5-7.1v8.8m.5-7.7v5m.5-4.4v4.6m.5-4.3v4.8m.5-5.7v6m.5-9.7v12.5m.5-12.7v13.4m.5-10.2v8.5m.5-11.3v10.4m.5-10.3v13m.5-12.9v12.1m.5-10.8v10m.5-9.9v8.4m.5-7.2v7.2m.5-6.2v5.2m.5-4.1v3.3m.5-4.1v4.9m.5-4.9v4.4m.5-3.3v2.5m.5-2.4v2.3m.5-2.7v3.2m.5-3v2.5m.5-3.4v4.5m.5-5.4v5.8m.5-3.7v2.2m.5-2.3v2.4m.5-3.5v3.9m.5-4.8v6m.5-8.4v9.9m.5-9.9v10.5m.5-9.7v8m.5-4.6v3.3m.5-4.1v5.1m.5-6.6v7.3m.5-7.1v7.4m.5-7.5v7.2m.5-6.8v6.9m.5-8.6v9.4m.5-8.8v8.3m.5-8.4v8.2m.5-5.2v2.8m.5-2.5v2.2m.5-4.4v6.1m.5-6.8v8.1m.5-6.8v4.3m.5-3v2.8m.5-2.4v2.1m.5-2.5v2.7m.5-3.5v3.8m.5-3.4v3.7m.5-3.1v2.7m.5-2.5v2.1m.5-3.4v4.5m.5-6.1v6.8m.5-6v5m.5-3.2v2.9m.5-2.6v2.1m.5-2.1v2.1m.5-2.1v2.1m.5-2.1v2.1m.5-2.1v2.1m.5-2.2v2.2m.5-2.4v2.7m.5-2.4v2.1m.5-2.7v2.7m.5-2.1v2.1m.5-3.1v4.1m.5-4.4v4.3m.5-3.5v3.2m.5-2.7v2.1m.5-2.8v3m.5-2.8v3.1m.5-3.1v2.8m.5-2.3v2.1m.5-2.1v2.1m.5-2.1v2.1m.5-2.1v2.1m.5-2.3v2.3m.5-2.1v2.1m.5-2.3v2.3m.5-2.1v2.1m.5-2.1v2.1m.5-2.1v2.1m.5-2.5v2.5m.5-2.5v2.9m.5-3.1v3.4m.5-3.6v4.5m.5-5.1v4.6m.5-3.2v2.1m.5-2.1v2.1m.5-2.2v2.5m.5-2.5v2.2" stroke="#0000ff" stroke-opacity="0.55" stroke-width="0.5" fill="none"/>
<path d="M44 431.4v2.1m.5-2.1v2.1m.5-2.1v2.1m.5-2.1v2.1m.5-2.1v2.1m.5-2.1v2.1m.5-2.1v2.1m.5-2.1v2.1m.5-2.1v2.1m.5-2.2v2.3m.5-2.6v2.6m.5-2.5v2.8m.5-2.5v2.1m.5-2.1v2.1m.5-2.1v2.1m.5-2.3v2.3m.5-2.1v2.1m.5-2.1v2.1m.5-2.1v2.3m.5-2.3v2.1m.5-3v3.4m.5-3.4v3.2m.5-2.3v2.1m.5-2.1v2.1m.5-2.1v2.1m.5-2.1v2.1m.5-2.1v2.1m.5-2.2v2.2m.5-2.1v2.1m.5-2.1v2.1m.5-2.1v2.1m.5-2.1v2.1m.5-2.1v2.1m.5-2.1v2.1m.5-2.1v2.1m.5-2.1v2.1m.5-2.1v2.1m.5-2.2v2.2m.5-2.1v2.1m.5-2.1v2.1m.5-2.1v2.1m.5-2.1v2.1m.5-2.1v2.1m.5-2.1v2.1m.5-2.1v2.1m.5-2.1v2.1m.5-2.1v2.1m.5-2.1v2.1m.5-2.1v2.1m.5-2.1v2.1m.5-2.1v2.1m.5-2.1v2.1m.5-2.1v2.1m.5-2.1v2.1m.5-2.1v2.1m.5-2.2v2.2m.5-2.1v2.1m.5-2.1v2.1m.5-2.1v2.1m.5-2.1v2.1m.5-2.1v2.1m.5-3.1v3.2m.5-2.2v2.1m.5-2.7v3.5m.5-3.9v3.3m.5-2.7v3m.5-4v4.3m.5-6v6.3m.5-4.9v5.2m.5-4.8v4.2m.5-2.9v2.4m.5-2.4v2.1m.5-2.1v2.1m.5-2.1v2.1m.5-2.5v2.6m.5-2.7v3.1m.5-3.6v3.9m.5-3.3v2.9m.5-3.6v4.2m.5-3.2v2.3m.5-2.2v2.1m.5-2.1v2.1m.5-2.1v2.1m.5-2.1v2.1m.5-2.1v2.1m.5-2.1v2.1m.5-2.1v2.3m.5-2.3v2.1m.5-2.4v2.8m.5-2.5v2.3m.5-2.3v2.1m.5-2.1v2.4m.5-2.6v2.3m.5-2.1v2.1m.5-2.4v2.4m.5-2.1v2.1m.5-2.5v2.7m.5-2.3v2.1m.5-2.1v2.1m.5-2.1v2.1m.5-2.1v2.1m.5-2.1v2.1m.5-2.1v2.1m.5-2.1v2.1m.5-2.1v2.1m.5-2.1v2.1m.5-2.2v2.2m.5-2.4v2.4m.5-2.2v2.2m.5-2.1v2.1m.5-2.1v2.5m.5-3v2.7m.5-2.6v2.6m.5-2.2v2.1m.5-2.1v2.1m.5-2.1v2.1m.5-2.1v2.1m.5-2.1v2.1m.5-2.1v2.1m.5-2.1v2.1m.5-2.1v2.1m.5-2.1v2.1m.5-2.1v2.1m.5-2.1v2.1m.5-2.2v2.2m.5-2.1v2.1m.5-2.1v2.1m.5-2.1v2.1m.5-2.2v2.2m.5-2.1v2.1m.5-2.1v2.1m.5-2.1v2.1m.5-2.1v2.1m.5-2.1v2.1m.5-2.2v2.5m.5-2.9v2.7m.5-2.3v2.2m.5-2.2v2.2m.5-2.1v2.1m.5-2.1v2.1m.5-2.1v2.1m.5-2.1v2.1m.5-2.3v2.3m.5-2.8v2.8m.5-2.1v2.1m.5-2.1v2.1m.5-2.3v2.3m.5-2.1v2.1m.5-2.1v2.1m.5-2.1v2.1m.5-2.6v2.7m.5-2.2v2.1m.5-2.1v2.1m.5-2.1v2.1m.5-2.1v2.1m.5-2.1v2.1m.5-2.1v2.1m.5-2.8v2.9m.5-2.7v3.1m.5-2.6v2.1m.5-2.1v2.1m.5-3v3.4m.5-2.5v2.1m.5-2.1v2.1m.5-2.1v2.1m.5-2.1v2.1m.5-2.1v2.1m.5-2.1v2.1m.5-2.1v2.1m.5-2.1v2.1m.5-2.2v2.2m.5-2.4v2.8m.5-2.9v2.8m.5-3.2v3.1m.5-2.8v2.6m.5-2.1v2.1m.5-2.1v2.1m.5-2.1v2.1m.5-2.1v2.1m.5-2.4v2.4m.5-2.4v2.8m.5-2.5v2.1m.5-2.1v2.1m.5-2.1v2.1m.5-2.1v2.1m.5-2.2v2.2m.5-2.6v3.4m.5-2.9v2.1m.5-2.1v2.1m.5-2.1v2.1m.5-2.1v2.1m.5-2.1v2.2m.5-2.7v3.7m.5-3.7v2.7m.5-2.7v2.7m.5-3.4v4.5m.5-4.1v3.8m.5-3.5v2.6m.5-2.4v2.4m.5-2.2v2.2m.5-3.3v3.7m.5-4.5v5.9m.5-6.8v6.9m.5-6.3v6.1m.5-5.2v5.4m.5-5.6v4.5m.5-4v4.9m.5-5.3v6m.5-6.3v5.5m.5-3.7v2.4m.5-3.6v3.9m.5-3.7v3.6m.5-3.5v3.4m.5-3.7v4.5m.5-4.5v3.7m.5-3.6v4.1m.5-3.5v2.6m.5-2.1v2.1m.5-2.1v2.2m.5-2.2v2.1m.5-2.1v2.1m.5-2.1v2.1m.5-2.1v2.1m.5-2.2v2.2m.5-3.7v5.1m.5-4.3v4m.5-6.1v6.4m.5-6.9v7.8m.5-6.5v5.7m.5-4.8v4.5m.5-5v5.5m.5-6.6v6.9m.5-4.6v3.1m.5-3.8v4.5m.5-4.1v3.2m.5-3.7v4.6m.5-4.7v4.7m.5-6.5v7.3m.5-7.8v7.6m.5-5.2v4.5m.5-3.7v3.3m.5-2.8v2.3m.5-3.6v4.1m.5-4.6v4.9m.5-6.7v7.3m.5-6.9v7.2m.5-5.8v5.4m.5-5.2v4.6m.5-7v8.4m.5-7.2v6.3m.5-5.7v5.4m.5-3.2v2.1m.5-2.7v3.3m.5-4.3v5m.5-5.3v5.1m.5-3.6v3.7m.5-4.4v3.3m.5-3.3v3.7m.5-2.8v3.3m.5-4.1v4.3m.5-4.3v4.1m.5-4.8v4.3m.5-4v4m.5-4.4v4.6m.5-5.9v6.9m.5-6.8v7m.5-5.6v4.5m.5-4.9v5.7m.5-6.4v6.6m.5-7.4v8.7m.5-8.8v8.2m.5-6v5.7m.5-6v5.5m.5-6.8v6.1m.5-3.9v3.4m.5-2.6v2.1m.5-2.4v2.4m.5-2.5v2.7m.5-2.4v2.2m.5-2.1v2.1m.5-2.1v2.1m.5-2.1v2.1m.5-2.1v2.1m.5-2.4v2.4m.5-3.5v5.1m.5-4.4v3.4m.5-2.7v2.1m.5-3.6v4.7m.5-5.3v4.7m.5-3.7v4m.5-3.9v4.1m.5-6v6.8m.5-6.5v7.2m.5-5.6v3.8m.5-3.8v3.4m.5-2.5v2.3m.5-4.5v6.2m.5-5.6v5m.5-4.6v4m.5-3.1v2.6m.5-2.8v3.6m.5-4.6v5.5m.5-4.5v2.9m.5-3.8v4.1m.5-3.3v2.9m.5-2.7v3m.5-3.1v3.2m.5-2.6v2.4m.5-2.4v2.1m.5-2.9v3.9m.5-4.3v4.4m.5-3.8v2.7m.5-2.1v2.1m.5-2.1v2.1m.5-2.1v2.1m.5-2.2v2.3m.5-2.2v2.1m.5-2.1v2.1m.5-2.9v3.3m.5-3.5v4.6m.5-5.1v4.5m.5-4.5v4.6m.5-4.6v4.7m.5-4.4v4.5m.5-4.5v4.2m.5-3v2.1m.5-2.1v2.1m.5-2.6v2.6m.5-2.4v2.4m.5-2.4v2.4m.5-3.9v6.4m.5-5.3v3.2m.5-3.1v3.1m.5-3.4v3.8m.5-3.1v2.4m.5-2.2v2.5m.5-3v3m.5-4.2v4.7m.5-3.7v4.2m.5-3.7v2.3m.5-2.7v3.2m.5-2.9v2.9m.5-3.8v4.3m.5-5.7v5.6m.5-5.1v5.9m.5-6.7v6.4m.5-4.5v3.8m.5-2.9v2.2m.5-3.6v4m.5-3.2v3.4m.5-3.1v2.7m.5-2.3v2.1m.5-3.5v4.8m.5-3.9v3.3m.5-3.1v2.4m.5-3.1v3.9m.5-3.6v3.3m.5-2.6v2.1m.5-2.1v2.1m.5-3.1v3.5m.5-2.7v2.3m.5-3.5v4.2m.5-4.1v4.9m.5-4.6v4m.5-3.8v4.1m.5-6.5v6.3m.5-4.9v5.7m.5-5.6v4.7m.5-3.2v2.6m.5-3.1v3.3m.5-2.6v2.1m.5-2.1v2.1m.5-3.2v3.4m.5-3.8v5m.5-4.4v3.1m.5-2.4v2.9m.5-2.7v2.1m.5-2.1v2.1m.5-2.1v2.1m.5-2.1v2.1m.5-2.1v2.1m.5-2.5v2.8m.5-3.1v3.1m.5-2.4v2.1m.5-2.1v2.2m.5-2.7v3.2m.5-4.4v4.3m.5-5.1v6m.5-3.5v2.4m.5-3.2v3.4m.5-2.6v2.1m.5-2.5v2.9m.5-3v2.7m.5-2.4v2.3m.5-3.3v4.2m.5-3.7v3.5m.5-3.9v3.7m.5-4.6v5.4m.5-5.4v5m.5-5.6v6.4m.5-6.2v5.4m.5-5v6m.5-6.5v7.5m.5-6.7v5.1m.5-4.8v4.8m.5-5.1v4.8m.5-4.9v5.8m.5-5.3v5.2m.5-5.4v4.4m.5-2.9v2.1m.5-2.5v2.8m.5-2.8v3.1m.5-2.9v2.8m.5-3.3v3.1m.5-3.2v3.3m.5-3.8v4.1m.5-2.8v2.1m.5-2.7v2.8m.5-2.3v2.2m.5-2.1v2.1m.5-4v4.9m.5-4.5v5.8m.5-6.8v5.8m.5-5.2v6.2m.5-5.2v4.1m.5-5v6.2m.5-5.2v4.1m.5-5.7v6.2m.5-4.9v4m.5-5v6.3m.5-5.8v5.9m.5-6.7v5.4m.5-5.1v7.4m.5-7.5v5.8m.5-6.1v6.9m.5-7.2v6.7m.5-5.8v6.8m.5-6.7v4.8m.5-4.9v5.5m.5-4.3v3.8m.5-3.7v3m.5-4.1v4.9m.5-4.8v5.5m.5-4.6v3.7m.5-5v5.3m.5-5.4v5.5m.5-6.7v8m.5-5.9v5.4m.5-4.8v3.6m.5-3.5v2.6m.5-2.3v2.3m.5-2.8v2.9m.5-4.4v5.3m.5-5.5v6.9m.5-5.1v3.1m.5-2.5v2.1m.5-2.2v2.2m.5-2.1v2.2m.5-3v3.2m.5-3.4v3.7m.5-2.7v2.1m.5-3.4v3.7m.5-4.2v4.6m.5-4.1v4.1m.5-4.6v5.1m.5-5.9v6.5m.5-7.3v8m.5-7.6v6.9m.5-5.2v5.8m.5-5.5v3.9m.5-3.2v2.8m.5-3.6v4m.5-3.7v3m.5-2.4v2.4m.5-2.4v2.3m.5-2.1v2.1m.5-2.9v3.8m.5-4.8v5.8m.5-6.2v6.7m.5-6.8v6.4m.5-6.8v5.8m.5-5.1v6.8m.5-6v3.8m.5-3.2v3.2m.5-5v6m.5-7.1v8m.5-6.4v5.9m.5-6v4.5m.5-3.3v3.3m.5-3.2v2.9m.5-3v3.3m.5-3.2v3.2m.5-3.4v3.3m.5-2.9v2.7m.5-3.3v4.2m.5-3.7v3.4m.5-4.8v4.6m.5-6.1v8m.5-9.9v12.1m.5-11.2v9.8m.5-10.9v11.4m.5-11.6v11.3m.5-7v6.2m.5-6.2v4.5m.5-4.7v5.1m.5-4.8v5m.5-4.8v4.4m.5-5.8v6.5m.5-7.6v7.2m.5-3.7v2.7m.5-3.5v4m.5-4v3.8m.5-2.8v2.1m.5-2.3v2.5m.5-2.8v3m.5-3.8v4.9m.5-4v3.2m.5-5.2v6.1m.5-5.1v4.7m.5-4.8v5.2m.5-4.9v4.1m.5-4.2v4.7m.5-4.6v4.2m.5-3.4v3m.5-3.1v3.3m.5-3v2.6m.5-3.4v3.7m.5-5.9v7.4m.5-5.1v4.4m.5-5v4.2m.5-3.7v4.5m.5-5.3v5.2m.5-4.2v3.7m.5-6.1v6.9m.5-4.9v3.8m.5-4.5v5.2m.5-5.4v7.1m.5-5.8v4.3m.5-3.8v2.6m.5-3.1v3.9m.5-3.7v2.9m.5-4v5.1m.5-3.7v2.8m.5-2.8v2.4m.5-2.3v2.5m.5-2.5v2.3m.5-3v3.7m.5-3.5v4.3m.5-6.3v6.8m.5-7.6v8.4m.5-8.6v8.5m.5-6.5v4.7m.5-3.3v2.8m.5-2.9v2.8m.5-3.3v3.6m.5-4.3v4.2m.5-3.1v2.9m.5-4v4.5m.5-4v3.7m.5-3.6v3.9m.5-4.1v4.9m.5-4.1v2.5m.5-2.6v3.4m.5-3.7v4.5m.5-4.8v4.1m.5-4.8v5m.5-4.8v4.6m.5-3v2.1m.5-2.1v2.1m.5-3.2v3.7m.5-2.9v2.6m.5-3.8v4.3m.5-4.6v5.7m.5-4.6v3.8m.5-3.1v2.1m.5-2.1v2.1m.5-2.2v2.2m.5-2.1v2.1m.5-2.9v4.4m.5-5.4v4.5m.5-3.6v3.8m.5-2.9v2.2m.5-2.2v2.3m.5-2.6v2.4m.5-2.5v2.5m.5-2.9v3.2m.5-3.3v3.1m.5-3.3v3.9m.5-5.6v7.6m.5-5.8v3.7m.5-3.6v3.5m.5-3.8v3.7m.5-3.1v3m.5-2.6v3m.5-4v4.7m.5-4.1v3.4m.5-3.5v3.1m.5-2.8v2.6m.5-2.2v2.1m.5-2.1v2.1m.5-2.1v2.1m.5-2.9v3.3m.5-2.9v3.4m.5-4.1v4.4m.5-3.7v2.9m.5-2.5v2.1m.5-2.3v2.3m.5-2.6v3.1m.5-4.6v4.8m.5-4.1v4.4m.5-3.4v3.3m.5-3.6v2.7m.5-2.3v2.3m.5-2.1v2.1m.5-2.3v2.7m.5-2.7v2.4m.5-3.1v3.5m.5-3v2.7m.5-3.5v3.8m.5-2.6v2.1m.5-2.1v2.1m.5-3.4v3.7m.5-4.5v5.1m.5-3v2.1m.5-3.8v4.8m.5-4.4v4.6m.5-4.6v4m.5-4.3v4.8m.5-5.1v5.8m.5-7.2v7.2m.5-4.9v4.6m.5-4.7v5.1m.5-6.1v5.8m.5-4.9v4.1m.5-4.5v4.3m.5-4.1v5.4m.5-7.2v7m.5-5.7v5.6m.5-5v4.7m.5-5.2v6.5m.5-6.3v5m.5-4v2.7m.5-2.1v2.1m.5-2.1v2.2m.5-2.4v2.3m.5-3v3.7m.5-4.4v4m.5-3.3v3.5m.5-3.9v4.5m.5-4.4v4.3m.5-5.7v6.2m.5-5.2v4.5m.5-4.3v4.9m.5-4.2v3.5m.5-3.6v4.1m.5-4.4v3.5m.5-3.8v5.3m.5-5.1v3.5m.5-3.8v4.5m.5-3.1v2.4m.5-3.2v4.2m.5-3.7v3.2m.5-3.7v3.1m.5-2.2v2.4m.5-2.8v3.1m.5-3.2v3.2m.5-4.8v5.5m.5-3.5v2.5m.5-2.4v2.1m.5-2.1v2.1m.5-2.1v2.1m.5-2.5v2.9m.5-3v2.7m.5-2.2v2.1m.5-2.1v2.1m.5-2.1v2.1m.5-2.1v2.1m.5-2.1v2.1m.5-3.4v3.8m.5-2.7v2.6m.5-2.6v2.5m.5-2.4v2.2m.5-2.7v2.7m.5-2.5v2.7m.5-4v5.5m.5-3.9v2.2m.5-3.5v4.1m.5-3.6v4.1m.5-4.6v4.3m.5-3.6v3.5m.5-3.7v3.9m.5-3.3v2.5m.5-2.9v3.7m.5-3.7v3.3m.5-3.4v3.3m.5-2.7v2.7m.5-2.9v2.7m.5-2.3v2.1m.5-2.1v2.1m.5-2.2v2.2m.5-2.1v2.1m.5-2.6v3.2m.5-4v3.7m.5-2.4v2.1m.5-2.3v2.5m.5-3.3v4.5m.5-4.8v4.2m.5-3.9v4.2m.5-3.2v2.1m.5-3.9v4.8m.5-4.7v4.9m.5-3.2v2.2m.5-2.5v2.5m.5-2.7v2.6m.5-2.1v2.6m.5-3.3v2.9m.5-3v3.7m.5-4.9v4.8m.5-4.1v4.7m.5-4.4v3.9m.5-4.3v4.8m.5-4.6v4.9m.5-7v6.9m.5-4.9v3.8m.5-3.5v3.6m.5-2.7v2.2m.5-2.1v2.1m.5-3.7v5.2m.5-5v4m.5-3.3v3.6m.5-3.9v3.6m.5-3.9v4.7m.5-4.4v3.6m.5-2.7v2.2m.5-2.1v2.1m.5-3.1v3.2m.5-2.6v3.1m.5-2.8v2.2m.5-2.1v2.1m.5-2.4v2.7m.5-3.1v2.8m.5-2.1v2.1m.5-2.1v2.1m.5-2.5v2.8m.5-3v3.2m.5-3.1v2.7m.5-4.6v5.9m.5-4v2.6m.5-2.4v2.4m.5-2.7v3m.5-3v2.7m.5-2.1v2.1m.5-3.7v4.9m.5-5.3v5.6m.5-5v5.6m.5-5.4v4.7m.5-4.4v3.2m.5-2.3v2.1m.5-2.4v2.7m.5-2.4v2.1m.5-2.1v2.1m.5-2.2v2.2m.5-2.6v2.6m.5-2.6v2.8m.5-2.8v2.6m.5-2.1v2.1m.5-2.1v2.1m.5-2.6v2.7m.5-3.6v3.9m.5-2.7v2.3m.5-2.1v2.1m.5-2.1v2.1m.5-2.2v2.3m.5-2.3v2.2m.5-2.1v2.1m.5-2.7v2.8m.5-2.5v2.6m.5-3.8v4.9m.5-4.6v4m.5-3.6v5.1m.5-5.3v4.9m.5-5.9v5.5m.5-5.3v5.1m.5-4.1v4m.5-4.1v3.9m.5-3.8v3.4m.5-3.7v4m.5-3.1v2.4m.5-2.9v3.4m.5-3.4v3.2m.5-3.1v3.7m.5-3.5v2.9m.5-3.6v4.2m.5-3.4v2.4m.5-2.9v3.7m.5-4.3v4.2m.5-4.4v5.8m.5-4.9v3.7m.5-5.2v5.7m.5-5v4.6m.5-4.2v4.3m.5-3.4v2.3m.5-2.5v2.7m.5-3.5v3.8m.5-2.8v2.6m.5-2.4v2.1m.5-3.5v5m.5-5.4v5.4m.5-5.8v5.8m.5-4.7v4.3m.5-3.2v2.1m.5-2.3v2.4m.5-3.3v4.6m.5-3.5v2.1m.5-2.5v3.1m.5-2.7v2.4m.5-2.4v2.1m.5-2.2v2.2m.5-2.8v3.4m.5-2.7v2.2m.5-4.1v5.8m.5-4.9v3.9m.5-4.5v5.1m.5-4.6v3.5m.5-3.3v3m.5-3.1v4.2m.5-3.3v2.2m.5-2.5v2.7m.5-2.7v2.7m.5-2.4v2.2m.5-2.3v2.5m.5-2.4v2.2m.5-2.4v2.6m.5-3.4v3.9m.5-3.8v3.8m.5-3.8v3.6m.5-2.6v2.1m.5-2.3v2.8m.5-2.6v2.1m.5-2.6v3.1m.5-4.5v6m.5-6.3v5.9m.5-5.7v5.1m.5-3.9v3.2m.5-3.9v4.4m.5-4v3.8m.5-3.7v3.6m.5-2.7v2.7m.5-2.6v2.1m.5-2.1v2.2m.5-2.3v2.2m.5-2.3v2.3m.5-2.7v3.1m.5-2.6v2.2m.5-2.2v2.5m.5-2.4v2.1m.5-2.7v2.9m.5-4.3v4.9m.5-4.6v5.6m.5-5.6v5.2m.5-4.2v3.2m.5-2.5v2.1m.5-2.1v2.1m.5-2.3v2.4m.5-2.7v2.6m.5-2.5v3.1m.5-2.7v2.3m.5-3.6v4.2m.5-4.9v5.9m.5-4.3v2.7m.5-2.5v2.4m.5-2.7v2.9m.5-3.5v3.4m.5-3.3v3.1m.5-2.7v2.8m.5-2.2v2.1m.5-2.3v2.6m.5-3v2.8m.5-2.2v2.2m.5-2.3v2.2m.5-2.1v2.1m.5-2.1v2.1m.5-2.3v3m.5-3.1v2.8m.5-2.8v2.7m.5-3.6v3.8m.5-2.7v2.2m.5-2.3v2.4m.5-2.5v2.8m.5-2.5v2.1m.5-2.1v2.3m.5-2.7v2.5m.5-2.3v2.5m.5-3.7v4.8m.5-4.3v3.4m.5-3.7v3.9m.5-3v2.4m.5-2.3v2.4m.5-2.8v3m.5-4.2v4.4m.5-3.4v3.2m.5-3.6v4.4m.5-3.9v3.1m.5-3v2.9m.5-2.5v2.6m.5-2.4v2.1m.5-2.1v2.1m.5-2.1v2.2m.5-2.9v3.1m.5-2.6v2.3m.5-2.2v2.2m.5-2.2v2.2m.5-2.1v2.1m.5-3.1v3.7m.5-3.9v4.4m.5-5.4v5.2m.5-5.8v6.2m.5-6.2v7.2m.5-6.1v5.2m.5-4.7v4.9m.5-4.5v3.6m.5-4.4v4.3m.5-5v6.8m.5-7.7v8.2m.5-7.8v7.5m.5-8.1v8.9m.5-9.7v12.1m.5-12.8v12m.5-12.1v10.9m.5-13.2v14.6m.5-15.6v16.8m.5-11.1v8.7m.5-11.6v14.2m.5-14.1v10.5m.5-8.3v7.6m.5-8.1v8.8m.5-8.4v8.7m.5-10.9v10.6m.5-11v15.8m.5-21.5v21.7m.5-15.1v12.4m.5-16.7v16.8m.5-13.7v15.4m.5-14.8v11.7m.5-16v17.8m.5-16.1v16m.5-16.3v19.2m.5-16.3v11.6m.5-10.9v10.8m.5-10.2v10.7m.5-9.1v8m.5-8.1v9.8m.5-8.5v4.1m.5-6v8.3m.5-9.4v9.5m.5-8.1v8.3m.5-13v17.3m.5-14.1v11.3m.5-12.1v10.6m.5-13v14.9m.5-9.3v7.4m.5-8.6v11.9m.5-12.8v9.7m.5-6.6v5.1m.5-13.3v21.5m.5-22.6v23.2m.5-25.5v26.5m.5-28.6v24.1m.5-14.2v12.3m.5-11.7v11m.5-7.7v4.9m.5-8.5v9.3m.5-11.5v14.5m.5-8.4v3.3m.5-3.5v4m.5-3.3v2.4m.5-3.6v4.1m.5-4.3v5.9m.5-5.6v4.2m.5-4.3v4.4m.5-4.3v5m.5-5.9v7.5m.5-7.9v6m.5-7.6v9.6m.5-7.1v5.4m.5-5v4.8m.5-4.6v3.9m.5-4.7v6.1m.5-5.2v3.5m.5-4.5v5.6m.5-4v2.8m.5-3.2v4.1m.5-4.1v3.5m.5-2.8v2.3m.5-2.5v2.5m.5-3.2v4m.5-4.2v4.5m.5-4.7v4.3m.5-3.8v4.1m.5-5.1v6.5m.5-8.4v7.7m.5-4.4v3.6m.5-3.6v3.5m.5-5.5v6.4m.5-4.6v3.8m.5-5.5v5.7m.5-4.8v6.3m.5-7.8v7m.5-5.4v3.9m.5-2.4v2.1m.5-2.7v3.9m.5-4.3v3.5m.5-2.9v2.6m.5-2.5v2.4m.5-4.4v6.5m.5-5.3v4.2m.5-3.8v3.6m.5-4v4m.5-3.4v3.1m.5-4.4v6.2m.5-6.3v5.6m.5-4.1v2.8m.5-3.8v4.7m.5-5.4v5.2m.5-5.7v7.1m.5-6.2v5.8m.5-4.7v3.5m.5-5.1v5.7m.5-4.5v4.5m.5-3.5v2.3m.5-2.3v2.1m.5-2.6v2.6m.5-2.4v3.7m.5-4.1v3.9m.5-3.2v2.1m.5-2.1v2.1m.5-3.6v4.7m.5-3.5v2.4m.5-3.2v3.5m.5-2.4v2.3m.5-2.7v2.8m.5-2.9v2.7m.5-2.2v2.1m.5-4.4v6m.5-5.3v4.6m.5-3.5v3m.5-2.7v2.5m.5-3.5v4m.5-4.3v4.5m.5-4v4.3m.5-5.2v7.6m.5-7v4.6m.5-6.1v7.4m.5-8.6v9m.5-9.7v9.3m.5-6.9v7.5m.5-7.2v7.1m.5-9.1v9.2m.5-10.2v9.9m.5-11.2v13.1m.5-11.9v12.5m.5-11.5v9m.5-9v11m.5-10.2v9.2m.5-7.4v5.5m.5-5.4v4.3m.5-3.3v2.6m.5-2.4v2.3m.5-2.8v3.6m.5-4.9v4.8m.5-3.2v3m.5-3.3v3.8m.5-3.9v3.9m.5-5v5.3m.5-5v4.9m.5-5.9v6m.5-4.5v4.1m.5-4.4v3.9m.5-4v5.3m.5-4.5v3.6m.5-4.4v4.2m.5-6.2v7.5m.5-4.5v3.6m.5-3.2v2.7m.5-5.2v6.2m.5-6.7v7.2m.5-8v9.1m.5-6.8v5.2m.5-5.8v5.2m.5-5v5.3m.5-4.2v3.5m.5-4.1v4.5m.5-3.7v2.9m.5-3.6v4.6m.5-3.3v2.3m.5-3.1v4.1m.5-5v4.9m.5-4.9v5.2m.5-4.5v5.2m.5-6.6v6.8m.5-6.5v6.9m.5-7.7v8.4m.5-8.2v8.7m.5-9v8.6m.5-10.5v10m.5-8.7v9.8m.5-9.4v8.5m.5-9.8v10.3m.5-9v9m.5-9.4v8m.5-5v3.6m.5-3.9v4.3m.5-4.5v4.2m.5-3.5v3.1m.5-3.1v3.2m.5-4.1v4.1m.5-5.6v7.3m.5-6.8v6.9m.5-5.5v4.4m.5-5.6v5.3m.5-5.2v7m.5-7.8v7m.5-6.9v7.9m.5-7.3v6.2m.5-5.2v4.9m.5-4.9v4.2m.5-3v2.1m.5-3.2v3.5m.5-2.9v3.2m.5-2.8v2.2m.5-2.1v2.1m.5-2.3v2.3m.5-2.1v2.1m.5-2.9v3m.5-3.6v4.1m.5-2.7v2.1m.5-2.1v2.1m.5-2.7v2.8m.5-3.3v3.8m.5-6.7v8.6m.5-7.2v6.6m.5-5.4v4.9m.5-3.7v2.6m.5-3.1v3.7m.5-4.5v4.3m.5-4.1v4.4m.5-4.2v4.7m.5-4.8v4.5m.5-6.9v8.5m.5-6.7v5.6m.5-5.8v5.8m.5-3.9v2.2m.5-2.1v2.1m.5-2.9v3.7m.5-5.4v5.5m.5-3.5v2.8m.5-2.3v2.1m.5-2.1v2.1m.5-2.1v2.1m.5-2.2v2.2m.5-2.1v2.6m.5-2.6v2.1m.5-2.1v2.1m.5-2.4v2.6m.5-3.6v4.2m.5-4.6v3.9m.5-2.2v2.1m.5-2.1v2.1m.5-2.1v2.1m.5-2.1v2.1m.5-2.1v2.1m.5-2.1v2.1m.5-2.1v2.1m.5-2.1v2.1m.5-2.1v2.1m.5-2.1v2.1m.5-2.1v2.1m.5-2.3v2.8m.5-3v2.5m.5-2.4v2.4m.5-2.1v2.1m.5-2.1v2.1m.5-2.3v2.3m.5-2.1v2.1m.5-2.1v2.1m.5-2.1v2.1m.5-2.1v2.1m.5-2.1v2.1m.5-2.1v2.1m.5-2.1v2.1m.5-2.1v2.1m.5-2.1v2.1m.5-2.1v2.1m.5-2.1v2.1m.5-2.2v2.2m.5-2.1v2.1m.5-2.3v2.4m.5-2.5v3m.5-3.1v2.9m.5-2.5v2.1m.5-2.1v2.1m.5-2.1v2.1m.5-2.1v2.1" stroke="#0000ff" stroke-opacity="0.6" stroke-width="0.5" fill="none"/>
<path d="M293 432.1v.7m.5-.7v.6m.5-.6v.7m.5-.8v.7m.5-.5v.5m.5-.4v.3m.5-.4v.4m.5-.4v.4m.5-.3v.2m209-.2v.3m.5-.7v1m.5-1.8v2.6m.5-2.9v3.3m.5-4v4m.5-4.8v5.8m.5-6.2v7.3m.5-8.1v7.8m.5-10.9v13.6m.5-12.8v13m.5-11.2v9.9m.5-12v12.7m.5-13.7v14.3m.5-14v13.7m.5-16.8v21.7m.5-27.4v28.5m.5-19.7v14.4m.5-16.6v18.1m.5-20.8v20.3m.5-16.7v18.1m.5-26.5v26.7m.5-19.5v20m.5-24.6v26.7m.5-20.9v17.9m.5-17.6v13.6m.5-11.1v11.2m.5-9.6v8.8m.5-10.5v14.2m.5-11v5.3m.5-8.1v10.1m.5-12.7v14.1m.5-11.4v13.1m.5-17.6v23.8m.5-19.2v12.9m.5-16v15.2m.5-17.2v19.4m.5-14.5v11.3m.5-12.7v17.4m.5-16.5v12.8m.5-9.9v7.8m.5-20.6v27.9m.5-32.2v38m.5-37.4v38m.5-34.4v26.7m.5-18.5v13.9m.5-10.4v9.2m.5-5.9v2.6m.5-2.8v3.2m.5-3.2v3.2m.5-1.9v.5m.5-.3v.1" stroke="#0000ff" stroke-opacity="0.5" stroke-width="0.5" fill="none"/>
<path d="M44 430.7L44.5 431.1L45 430L45.5 430.9L46 430.8L46.5 431L47 430.6L47.5 431L48 431.1L48.5 431L49 430.8L49.5 431.8L50 430.9L50.5 431.2L51 430.7L51.5 430.5L52 429.8L52.5 430.6L53 430.3L53.5 430.7L54 431.6L54.5 431.3L55 430.6L55.5 430.6L56 430.7L56.5 430.6L57 431.5L57.5 431.3L58 431.5L58.5 430.8L59 431.6L59.5 431.5L60 431.3L60.5 431.3L61 432L61.5 431.3L62 431.9L62.5 431.8L63 431.5L63.5 431.9L64 431.4L64.5 431.6L65 431.4L65.5 431L66 431.3L66.5 431.7L67 431.6L67.5 431.6L68 431L68.5 430.3L69 431.3L69.5 430.4L70 431.3L70.5 430.9L71 430.6L71.5 430.7L72 431L72.5 431.5L73 431.2L73.5 431.2L74 431.3L74.5 431.3L75 431L75.5 432.7L76 432.7L76.5 431.9L77 431.9L77.5 432.3L78 430.4L78.5 431L79 431.1L79.5 431L80 430.4L80.5 430.4L81 430L81.5 430L82 430.9L82.5 431.5L83 431.6L83.5 431.8L84 431.6L84.5 430.9L85 431.1L85.5 430.9L86 431L86.5 430.4L87 430.2L87.5 431L88 431.5L88.5 431.3L89 430.9L89.5 430.4L90 430.8L90.5 430.4L91 430.8L91.5 430.5L92 430.4L92.5 430.8L93 431.3L93.5 431.3L94 431.4L94.5 431.3L95 431.4L95.5 430.9L96 431.2L96.5 431.3L97 430.6L97.5 430L98 430.2L98.5 430.9L99 430L99.5 430.8L100 430.8L100.5 431.4L101 430.9L101.5 431.5L102 431L102.5 431.6L103 430.8L103.5 430.4L104 431L104.5 430.8L105 431.4L105.5 430.7L106 431.2L106.5 431.5L107 431.3L107.5 430.7L108 431L108.5 431.1L109 430.7L109.5 430.7L110 431.4L110.5 431.1L111 431.5L111.5 431.1L112 431.3L112.5 430.7L113 430.6L113.5 430.1L114 430.3L114.5 430.7L115 430.8L115.5 430.1L116 430.6L116.5 431L117 431L117.5 430.8L118 431.3L118.5 430.6L119 431.5L119.5 431L120 431.6L120.5 431.3L121 431.5L121.5 430.9L122 430.7L122.5 431L123 431.2L123.5 431.1L124 431L124.5 430.1L125 430.5L125.5 431L126 430.1L126.5 430.3L127 430.5L127.5 430.9L128 430.6L128.5 431.5L129 431.9L129.5 431.4L130 431.9L130.5 431.1L131 431.9L131.5 430.7L132 431.3L132.5 430.4L133 431.3L133.5 430.9L134 431L134.5 430.8L135 431.7L135.5 430.5L136 430.5L136.5 431.2L137 430.3L137.5 430.4L138 431.2L138.5 431L139 431.4L139.5 431.1L140 431.1L140.5 430.9L141 429.6L141.5 429.7L142 429.2L142.5 430.3L143 430L143.5 430.6L144 430.8L144.5 430L145 430.2L145.5 429.8L146 429.9L146.5 430.5L147 431.1L147.5 430.8L148 431.6L148.5 431.6L149 432.2L149.5 431L150 430.8L150.5 430.7L151 430.3L151.5 430.2L152 430.9L152.5 431.8L153 431.4L153.5 431.8L154 431.2L154.5 430.5L155 431.3L155.5 430.4L156 430.5L156.5 430.3L157 431.3L157.5 429.7L158 428.4L158.5 429.7L159 430.5L159.5 429.7L160 430.5L160.5 430.3L161 430.8L161.5 429.6L162 430.3L162.5 429.7L163 430.8L163.5 431.8L164 432.7L164.5 432.6L165 433.4L165.5 432.4L166 430.8L166.5 431L167 429.6L167.5 430.7L168 430.7L168.5 430.3L169 431.5L169.5 430.9L170 430.7L170.5 429.7L171 430.8L171.5 429.7L172 429.6L172.5 429.9L173 431L173.5 430.6L174 431.1L174.5 430.3L175 429.8L175.5 430.1L176 429.2L176.5 429.3L177 429.8L177.5 431.2L178 430.7L178.5 430.3L179 431.6L179.5 430.9L180 430.2L180.5 431L181 431.5L181.5 431.2L182 431.9L182.5 431.4L183 431.6L183.5 432.1L184 432.8L184.5 433.1L185 432.9L185.5 433L186 433.4L186.5 433.3L187 432.5L187.5 431.8L188 432.2L188.5 432.4L189 430.9L189.5 430.8L190 430L190.5 429.8L191 429.5L191.5 430L192 429.7L192.5 430.5L193 430.3L193.5 429.2L194 429.5L194.5 430.3L195 430.7L195.5 430.3L196 431.8L196.5 432.2L197 431.9L197.5 431.8L198 432.5L198.5 431.7L199 430.9L199.5 431L200 431.5L200.5 431.2L201 431.2L201.5 430.9L202 431.8L202.5 430.2L203 430L203.5 429.5L204 429.3L204.5 429.9L205 429.7L205.5 430.3L206 430.9L206.5 431.3L207 431.1L207.5 430.7L208 430.9L208.5 431.1L209 430.5L209.5 431.5L210 431.4L210.5 431.8L211 430.6L211.5 431L212 431.1L212.5 430.5L213 430L213.5 430.4L214 429.9L214.5 430.7L215 430.3L215.5 431.1L216 430.9L216.5 431L217 430.6L217.5 431L218 431L218.5 430.3L219 430.8L219.5 430.7L220 429.2L220.5 430.4L221 429.8L221.5 429.1L222 430.3L222.5 430.1L223 429.8L223.5 428.9L224 429.6L224.5 430.3L225 429.8L225.5 430.6L226 431.8L226.5 431L227 432L227.5 431.5L228 430.7L228.5 429.8L229 430.3L229.5 430.5L230 430.4L230.5 431.2L231 431.1L231.5 431.8L232 430.9L232.5 431.3L233 431.2L233.5 430.7L234 430.5L234.5 430.6L235 429.9L235.5 431L236 430.3L236.5 430.9L237 431.6L237.5 431.4L238 431.1L238.5 430.5L239 430.7L239.5 430.9L240 431.3L240.5 431.2L241 430.6L241.5 431.1L242 431.3L242.5 431.8L243 431L243.5 431.8L244 430.6L244.5 430.8L245 430.6L245.5 430.2L246 429.6L246.5 430.7L247 430L247.5 431.1L248 429.7L248.5 431.1L249 430.3L249.5 430.2L250 430.4L250.5 430.6L251 430.6L251.5 431.1L252 431.1L252.5 431.1L253 430.8L253.5 431.2L254 430.5L254.5 430.8L255 430.9L255.5 430.4L256 429.9L256.5 431L257 430.5L257.5 430.8L258 430.8L258.5 430.1L259 430.6L259.5 430.8L260 430.7L260.5 431L261 430.1L261.5 430L262 431.2L262.5 430.7L263 430.3L263.5 430.8L264 430.8L264.5 429.7L265 428.5L265.5 430.1L266 429.3L266.5 430.3L267 431.6L267.5 430.8L268 431L268.5 430.7L269 430.8L269.5 431.2L270 431.6L270.5 431.9L271 430.4L271.5 430.8L272 431.5L272.5 431.5L273 430.7L273.5 431.6L274 429.4L274.5 430.1L275 430L275.5 429.9L276 430.5L276.5 431.2L277 431.1L277.5 431.6L278 430.9L278.5 429.8L279 430.6L279.5 429L280 430.4L280.5 431L281 432.6L281.5 431.7L282 433.2L282.5 433L283 432L283.5 430.7L284 430.6L284.5 430.9L285 430.1L285.5 430.6L286 430.8L286.5 431L287 431.4L287.5 431.9L288 431L288.5 431.1L289 430.4L289.5 430.9L290 431.6L290.5 431.8L291 432.4L291.5 431.9L292 432.1L292.5 430.7L293 429.2L293.5 429L294 428.9L294.5 428.9L295 431.5L295.5 433.2L296 432.9L296.5 433.7L297 433.2L297.5 432.6L298 433.4L298.5 432.6L299 432.5L299.5 430.9L300 430.8L300.5 430.8L301 429.7L301.5 430.9L302 430.5L302.5 431.2L303 431.5L303.5 432.1L304 432.3L304.5 432.9L305 432.8L305.5 430.9L306 431.9L306.5 431.3L307 430.6L307.5 430.9L308 431L308.5 430.7L309 431.3L309.5 432.1L310 431.6L310.5 430.4L311 431.8L311.5 432.2L312 430.5L312.5 431L313 430.9L313.5 430.4L314 431.1L314.5 431.2L315 430.5L315.5 430.8L316 430.7L316.5 431.6L317 431.7L317.5 432.1L318 431.5L318.5 431L319 430L319.5 429.3L320 429.9L320.5 428.9L321 429.7L321.5 430.6L322 430.4L322.5 430.9L323 430.9L323.5 431.4L324 431.4L324.5 431.3L325 430.1L325.5 430.2L326 430.1L326.5 429.9L327 429.9L327.5 430.9L328 431.1L328.5 430.3L329 430.9L329.5 429.9L330 429.1L330.5 429.7L331 430.4L331.5 431.1L332 430.4L332.5 431.5L333 429.8L333.5 429.8L334 430.7L334.5 431.1L335 430.3L335.5 430.1L336 430.5L336.5 429.7L337 429.3L337.5 431L338 430.3L338.5 430.2L339 430.1L339.5 430.3L340 430L340.5 429.8L341 428.9L341.5 429.8L342 430L342.5 430L343 429.7L343.5 431L344 430.4L344.5 431.1L345 431.7L345.5 431.3L346 432.3L346.5 431.4L347 430.9L347.5 431.6L348 431L348.5 430.5L349 430.4L349.5 430.5L350 430.6L350.5 430.9L351 431.1L351.5 430.8L352 431L352.5 432.4L353 431.5L353.5 430.2L354 431L354.5 431.6L355 430.6L355.5 431L356 431.9L356.5 432.5L357 431.6L357.5 431.4L358 432.2L358.5 432.7L359 431.9L359.5 431.9L360 431.9L360.5 430.9L361 430.4L361.5 431.3L362 430L362.5 431.3L363 430.2L363.5 430.2L364 430.7L364.5 430.9L365 430.3L365.5 430.9L366 430.2L366.5 431.2L367 430.4L367.5 431.1L368 431.4L368.5 431.6L369 431.2L369.5 431.5L370 431.4L370.5 432.1L371 431L371.5 431.6L372 431L372.5 431.4L373 430.2L373.5 430.4L374 430.3L374.5 431.4L375 431.1L375.5 431.6L376 431.5L376.5 432.5L377 431.3L377.5 431.5L378 430.8L378.5 429.9L379 429.9L379.5 430.4L380 430.9L380.5 430.8L381 430.6L381.5 430.9L382 430.9L382.5 430.3L383 431.5L383.5 431.2L384 430.5L384.5 431.3L385 431.6L385.5 430.7L386 430.7L386.5 431.4L387 430.9L387.5 430.6L388 431.4L388.5 430.6L389 431.1L389.5 431.1L390 431.1L390.5 430.3L391 431.1L391.5 431.3L392 432L392.5 431L393 431.2L393.5 431.3L394 430L394.5 429.9L395 430.7L395.5 430.3L396 430.3L396.5 431.5L397 431.1L397.5 431.1L398 432.5L398.5 431.6L399 432.2L399.5 431.5L400 431.4L400.5 431L401 430.7L401.5 431.4L402 431.1L402.5 431.1L403 431.3L403.5 431.1L404 431.6L404.5 431.2L405 432.5L405.5 431.3L406 431.5L406.5 431.5L407 431.3L407.5 430.1L408 430.3L408.5 429.9L409 431.1L409.5 430.5L410 430.3L410.5 430L411 431.3L411.5 430.8L412 431L412.5 431.2L413 430.4L413.5 431.3L414 431.5L414.5 431.6L415 431.6L415.5 431.3L416 432L416.5 430.7L417 431.5L417.5 431.7L418 430.9L418.5 430.9L419 430.5L419.5 430.3L420 430.5L420.5 430.9L421 430.2L421.5 430.3L422 430.1L422.5 430L423 430.6L423.5 430.2L424 430.8L424.5 431.2L425 430.7L425.5 430.9L426 430.4L426.5 430.1L427 429.8L427.5 430.9L428 431.7L428.5 431.2L429 431.4L429.5 431.3L430 431.3L430.5 430.3L431 430.8L431.5 431.5L432 430.3L432.5 431.3L433 431L433.5 430.2L434 430.9L434.5 431.3L435 430.6L435.5 431.7L436 431.4L436.5 431L437 431.3L437.5 431L438 431.2L438.5 430.4L439 431L439.5 431.3L440 430.7L440.5 430.9L441 431.3L441.5 430.4L442 430L442.5 430.7L443 430.5L443.5 431L444 431.9L444.5 431.7L445 432.1L445.5 432.8L446 432L446.5 431L447 430.4L447.5 430.3L448 430.4L448.5 430.1L449 431.2L449.5 431.4L450 431.1L450.5 430.6L451 430.2L451.5 431.1L452 431L452.5 431.4L453 432L453.5 431.9L454 431.2L454.5 430.7L455 430.1L455.5 431.3L456 431L456.5 431.2L457 431.7L457.5 432L458 432L458.5 431.9L459 431.2L459.5 431.4L460 431.7L460.5 431.6L461 432.2L461.5 431.9L462 431L462.5 432L463 431.5L463.5 431.7L464 432L464.5 432.5L465 432L465.5 431.3L466 431.6L466.5 431.5L467 431L467.5 431.5L468 431.6L468.5 430.7L469 430.9L469.5 431.5L470 430.8L470.5 431L471 430.3L471.5 431.2L472 430.1L472.5 430.8L473 431.2L473.5 430.7L474 430.5L474.5 431.1L475 431L475.5 431.3L476 432L476.5 432.1L477 432L477.5 431.2L478 431.9L478.5 431.6L479 431.2L479.5 430.8L480 431.1L480.5 431.5L481 431.7L481.5 430.5L482 431.2L482.5 432.6L483 432.6L483.5 431.5L484 431.1L484.5 430.6L485 430.7L485.5 430.4L486 429.8L486.5 431.4L487 431.3L487.5 430.1L488 430.3L488.5 430.3L489 430.2L489.5 430.2L490 431.1L490.5 431.2L491 430.9L491.5 431.1L492 431.5L492.5 431L493 431.4L493.5 431.5L494 431.6L494.5 431.9L495 431.7L495.5 430.5L496 430.8L496.5 431L497 431.2L497.5 431.2L498 430.4L498.5 429.8L499 430.2L499.5 430.9L500 431.4L500.5 431.1L501 430.5L501.5 430.8L502 431.2L502.5 430.6L503 431.9L503.5 431.9L504 430.9L504.5 431.5L505 431.6L505.5 432.1L506 432.2L506.5 433.9L507 431.6L507.5 433.3L508 432.1L508.5 430.2L509 429.6L509.5 432.6L510 433.4L510.5 433.8L511 434L511.5 433.7L512 430.2L512.5 431.7L513 432.4L513.5 431.1L514 431.1L514.5 432.6L515 431L515.5 431.6L516 430.8L516.5 431.4L517 430.5L517.5 431L518 430.9L518.5 430.3L519 432.1L519.5 431.1L520 431.2L520.5 431L521 430.5L521.5 430.5L522 430.6L522.5 429.3L523 430.1L523.5 429.5L524 431.3L524.5 431.3L525 429.9L525.5 430L526 428.7L526.5 425.7L527 425L527.5 425.6L528 426L528.5 426.6L529 427.2L529.5 427.3L530 428.4L530.5 430L531 430.6L531.5 433L532 432.5L532.5 432.4L533 431.7L533.5 430.9L534 430L534.5 430.2L535 430.1L535.5 430.7L536 431.4L536.5 430.3L537 430.8L537.5 430.8L538 430.1L538.5 429.1L539 429.9L539.5 429.2L540 429.3L540.5 430.2L541 429.9L541.5 430.3L542 430.9L542.5 431.3L543 431.4L543.5 431.8L544 431.6L544.5 431.8L545 431.9L545.5 430.4L546 431.1L546.5 430.9L547 431.2L547.5 430.4L548 430.6L548.5 430.9L549 430.5L549.5 429.2L550 430.1L550.5 429.5L551 430L551.5 430.9L552 431L552.5 430.9L553 431.3L553.5 430.2L554 430L554.5 431.5L555 430.8L555.5 431.1L556 430.7L556.5 430.5L557 430.5L557.5 429.8L558 429.8L558.5 429.8L559 430.6L559.5 430.8L560 431.3L560.5 431.6L561 432.2L561.5 432.5L562 431.8L562.5 432.2L563 431.2L563.5 431.5L564 430.6L564.5 430.8L565 430.4L565.5 432.3L566 431.4L566.5 431.1L567 431.2L567.5 431.5L568 430L568.5 429.7L569 430.1L569.5 430.3L570 429.8L570.5 430.6L571 430L571.5 430.7L572 430.8L572.5 431.1L573 430.5L573.5 431L574 430.5L574.5 431.1L575 428.6L575.5 429.7L576 430.3L576.5 431.1L577 431.3L577.5 430.4L578 431.6L578.5 430.6L579 431.1L579.5 430.8L580 430.4L580.5 430.1L581 430.4L581.5 431.3L582 431.8L582.5 431.7L583 430.4L583.5 431.2L584 430L584.5 430.1L585 429.4L585.5 431.1L586 431.3L586.5 431L587 431.8L587.5 432.3L588 432.1L588.5 431.8L589 431.6L589.5 431.1L590 431.8L590.5 430.4L591 430.1L591.5 430.7L592 430.9L592.5 429.8L593 430.3L593.5 430.7L594 431.3L594.5 431.6L595 432L595.5 432.8L596 431.8L596.5 430.7L597 430.5L597.5 429.8L598 429.9L598.5 431.6L599 430.4L599.5 431.3L600 430.7L600.5 430.5L601 430.1L601.5 430.1L602 428.8L602.5 430.2L603 430L603.5 430.6L604 431.3L604.5 431.2L605 431.5L605.5 430.9L606 430.3L606.5 431.2L607 430.3L607.5 429.4L608 429.9L608.5 430.6L609 431.1L609.5 430.3L610 429.2L610.5 429.3L611 428.6L611.5 428.9L612 429L612.5 430L613 429.9L613.5 428.1L614 429.2L614.5 429.4L615 429.4L615.5 429.5L616 429.8L616.5 430.3L617 430.5L617.5 431L618 431.4L618.5 432.3L619 431.1L619.5 430.8L620 430.4L620.5 430L621 428.6L621.5 428.7L622 429.8L622.5 430.7L623 430.6L623.5 431.8L624 431.7L624.5 431.8L625 431.3L625.5 431L626 430.5L626.5 430.6L627 431.1L627.5 431.1L628 432.1L628.5 432.1L629 431.3L629.5 431.6L630 430.8L630.5 431.1L631 430.6L631.5 430.7L632 431.7L632.5 431.1L633 431.3L633.5 431.4L634 430.4L634.5 430.2L635 430.9L635.5 430.4L636 430.5L636.5 430.9L637 431.2L637.5 431.6L638 431.3L638.5 430.6L639 430.9L639.5 431L640 431.1L640.5 431.2L641 430.7L641.5 431L642 429.9L642.5 430.5L643 430.6L643.5 431L644 430.5L644.5 430.9L645 430.5L645 434.5L644.5 434.3L644 434L643.5 433.2L643 433.5L642.5 433.6L642 433.9L641.5 433.6L641 433.5L640.5 433.6L640 433.3L639.5 433.2L639 433.4L638.5 434.3L638 433.6L637.5 433.6L637 434.3L636.5 434.3L636 434.2L635.5 433.5L635 433.1L634.5 433.7L634 434L633.5 433.5L633 434L632.5 434.8L632 434L631.5 433.8L631 434L630.5 433.7L630 434L629.5 433.8L629 434.7L628.5 434.4L628 433.9L627.5 433.7L627 433.2L626.5 433.6L626 432.8L625.5 433.1L625 434.1L624.5 434.2L624 434.5L623.5 434.5L623 434.7L622.5 432.9L622 432.6L621.5 432.8L621 432.8L620.5 432.7L620 434.2L619.5 434.4L619 434.9L618.5 434.3L618 434.3L617.5 433L617 433.8L616.5 433.7L616 433.9L615.5 432.8L615 432.3L614.5 432.1L614 432.8L613.5 432.5L613 432.1L612.5 432.8L612 432L611.5 431.5L611 432.6L610.5 432.4L610 432.9L609.5 432.7L609 433.1L608.5 434L608 433.2L607.5 433.5L607 433.9L606.5 433.2L606 433.3L605.5 434.2L605 434.6L604.5 434.9L604 433.9L603.5 434.3L603 434.2L602.5 432.8L602 432.9L601.5 433.1L601 433.6L600.5 434.4L600 434.7L599.5 434.1L599 434.9L598.5 434.3L598 433.7L597.5 433.4L597 435.3L596.5 435.1L596 434.9L595.5 435.1L595 434.9L594.5 433.8L594 433.7L593.5 434.5L593 434.1L592.5 434.1L592 433.1L591.5 433.4L591 433.2L590.5 433.3L590 434.4L589.5 435.5L589 434.7L588.5 434.9L588 434.8L587.5 434.5L587 434.3L586.5 435.6L586 433.6L585.5 434L585 433.2L584.5 434L584 434.3L583.5 434.2L583 434.3L582.5 434.7L582 433.8L581.5 433.4L581 434.6L580.5 434L580 433.2L579.5 432.9L579 433.2L578.5 433.3L578 434L577.5 434.8L577 433.8L576.5 434.3L576 433.2L575.5 433L575 433.4L574.5 433.4L574 433.7L573.5 435.6L573 434.7L572.5 434.6L572 432.9L571.5 433.9L571 433.4L570.5 434.3L570 433.7L569.5 432.6L569 432.4L568.5 433.2L568 432.4L567.5 433.9L567 434.5L566.5 433.9L566 433.7L565.5 434.4L565 434.8L564.5 434.9L564 434.7L563.5 434.4L563 434.7L562.5 434.8L562 435.1L561.5 436L561 435.6L560.5 435.6L560 434.4L559.5 434.8L559 433.6L558.5 433.5L558 433.2L557.5 433.7L557 432.8L556.5 434.7L556 434.7L555.5 434.6L555 434.7L554.5 433.7L554 433.6L553.5 434.3L553 433.6L552.5 434.1L552 434.9L551.5 434.4L551 434.2L550.5 433.8L550 432.4L549.5 432.7L549 433.1L548.5 433.5L548 434.2L547.5 434.1L547 433.9L546.5 433.8L546 434.7L545.5 434.3L545 434.2L544.5 434.1L544 434.8L543.5 433.8L543 434.3L542.5 433.9L542 434.6L541.5 433.7L541 433.9L540.5 433.6L540 433.3L539.5 432.5L539 432.1L538.5 431.6L538 432.2L537.5 432.9L537 433.1L536.5 434.1L536 434.2L535.5 433.4L535 433.3L534.5 433.8L534 434L533.5 433.3L533 434.1L532.5 435L532 435.5L531.5 435.7L531 434.7L530.5 433.7L530 432.2L529.5 430.8L529 431.5L528.5 430.8L528 429.3L527.5 430.1L527 429.7L526.5 428.3L526 432L525.5 432.8L525 433.4L524.5 434.8L524 434.4L523.5 433L523 432.7L522.5 433.8L522 433L521.5 433.1L521 434.9L520.5 433.7L520 435L519.5 434.8L519 434.4L518.5 435L518 434.3L517.5 435.3L517 435L516.5 434L516 434.4L515.5 433.9L515 435.1L514.5 436.2L514 435.4L513.5 435.9L513 434.8L512.5 434.4L512 434.8L511.5 436.8L511 438.4L510.5 436.7L510 436.5L509.5 435.9L509 432.8L508.5 433.7L508 435.4L507.5 435.9L507 436.2L506.5 436.8L506 436.4L505.5 436.5L505 434.6L504.5 435.3L504 435.2L503.5 434.8L503 434.3L502.5 434.8L502 434.8L501.5 433.7L501 434.7L500.5 433.7L500 433.8L499.5 432.9L499 434L498.5 433.8L498 433.5L497.5 433.1L497 433.7L496.5 433.6L496 434.2L495.5 434.4L495 434L494.5 434.1L494 434.6L493.5 434L493 433.6L492.5 433.3L492 433.8L491.5 434.3L491 433.8L490.5 433.2L490 433.7L489.5 433.4L489 433.1L488.5 434L488 433.7L487.5 434L487 433.4L486.5 433.3L486 434.1L485.5 433.5L485 433.6L484.5 433.8L484 434.7L483.5 434.8L483 434.6L482.5 434.8L482 435.3L481.5 434.7L481 433.8L480.5 433.8L480 433.5L479.5 433.7L479 434.5L478.5 434.8L478 434.7L477.5 434.9L477 435.5L476.5 434.9L476 434L475.5 434.2L475 435L474.5 434.3L474 434.4L473.5 433.5L473 433.1L472.5 434.2L472 433.7L471.5 433.2L471 434.2L470.5 433.4L470 433.1L469.5 434.1L469 434.5L468.5 434.5L468 434.6L467.5 434.6L467 434.2L466.5 433.7L466 434.2L465.5 434.9L465 434L464.5 434.4L464 435.3L463.5 434.9L463 434.9L462.5 434.9L462 434.7L461.5 434L461 434.1L460.5 434.6L460 434.2L459.5 435L459 435.3L458.5 435.1L458 433.9L457.5 435.2L457 434.8L456.5 434.2L456 433.9L455.5 433.7L455 432.9L454.5 433.3L454 433.6L453.5 434.4L453 434.1L452.5 434.8L452 434.8L451.5 434L451 434L450.5 434.5L450 434.6L449.5 434.6L449 434.8L448.5 434.3L448 433L447.5 433.8L447 434.1L446.5 434L446 435.5L445.5 435.6L445 435.1L444.5 435.4L444 434L443.5 433.7L443 433.2L442.5 433.2L442 433.4L441.5 434.3L441 433.6L440.5 434.8L440 434.7L439.5 434.1L439 433.1L438.5 434.1L438 433.9L437.5 434.9L437 434.7L436.5 435.1L436 434.8L435.5 433.6L435 434.2L434.5 433.8L434 434.3L433.5 434.3L433 433.6L432.5 433.5L432 434L431.5 433.6L431 433.2L430.5 434.3L430 433.2L429.5 434.7L429 433.5L428.5 435.2L428 433.7L427.5 434.5L427 433.8L426.5 433.9L426 434.1L425.5 433.5L425 432.7L424.5 433.5L424 433.9L423.5 433.2L423 432.7L422.5 433.8L422 433.3L421.5 434L421 434.5L420.5 434L420 434.1L419.5 434.3L419 434L418.5 433.4L418 433.9L417.5 434.3L417 434.8L416.5 434.4L416 434.4L415.5 435.4L415 434.7L414.5 434.9L414 435.2L413.5 433.6L413 434.6L412.5 433.4L412 433.2L411.5 433.2L411 433.6L410.5 433.6L410 433.3L409.5 432.9L409 433L408.5 433.6L408 433.7L407.5 433.9L407 433.9L406.5 433.5L406 434.6L405.5 435.2L405 434.5L404.5 434.5L404 434L403.5 434.3L403 433.3L402.5 433.5L402 433.5L401.5 433.4L401 434.3L400.5 434.7L400 434.7L399.5 435L399 434.7L398.5 435.5L398 434.8L397.5 435.3L397 435.2L396.5 433.9L396 434.2L395.5 433.6L395 432.6L394.5 432.9L394 433.5L393.5 433.3L393 433.6L392.5 435.2L392 434.5L391.5 435.1L391 434L390.5 434.3L390 433.1L389.5 433.1L389 433.2L388.5 434.5L388 435.2L387.5 434.7L387 434.5L386.5 434L386 434.4L385.5 433.8L385 434L384.5 434.9L384 434.4L383.5 434.2L383 433.8L382.5 434L382 433.6L381.5 434.2L381 433.4L380.5 432.9L380 432.9L379.5 433.1L379 433.3L378.5 433.7L378 433.2L377.5 433.5L377 434.4L376.5 434.5L376 434.9L375.5 435.8L375 435.3L374.5 434L374 434.2L373.5 434.3L373 433.3L372.5 434L372 434.5L371.5 434.7L371 435.3L370.5 435.5L370 434.8L369.5 435.2L369 434.4L368.5 434.6L368 434L367.5 434.1L367 434.1L366.5 433.8L366 433.6L365.5 433L365 433.9L364.5 433.5L364 432.9L363.5 434.2L363 434.1L362.5 433.3L362 434.1L361.5 434.3L361 434.5L360.5 434.7L360 434.9L359.5 435.1L359 434.6L358.5 435.2L358 435.6L357.5 435.6L357 435L356.5 434.4L356 434.9L355.5 433.9L355 434L354.5 434.5L354 435L353.5 434.5L353 435L352.5 434.9L352 434.7L351.5 435L351 435L350.5 434.7L350 432.9L349.5 434L349 433.7L348.5 433.6L348 434.2L347.5 435.5L347 435.2L346.5 435.2L346 434.7L345.5 435.2L345 433.7L344.5 434.3L344 434.3L343.5 433.4L343 433.2L342.5 432.8L342 432L341.5 431.8L341 432.5L340.5 432.5L340 433L339.5 433.6L339 434.3L338.5 433.3L338 434.6L337.5 433.1L337 433.6L336.5 432.9L336 434L335.5 433.4L335 432.5L334.5 433L334 433.1L333.5 432.6L333 432.8L332.5 434L332 434.1L331.5 433.1L331 434L330.5 433.9L330 433.1L329.5 433.1L329 434L328.5 434.1L328 433.8L327.5 433.8L327 434.1L326.5 432.2L326 433.1L325.5 432.9L325 433.6L324.5 434L324 434.9L323.5 434.3L323 434.8L322.5 433.7L322 434L321.5 432.8L321 433.1L320.5 433.2L320 433L319.5 433L319 432.8L318.5 433.7L318 433.6L317.5 434.1L317 434.1L316.5 434.4L316 434.9L315.5 435L315 434.6L314.5 433.6L314 433.3L313.5 434.5L313 434.7L312.5 433.4L312 434.8L311.5 434.2L311 434.3L310.5 434.6L310 434.5L309.5 434.2L309 433.9L308.5 433.4L308 434.5L307.5 434.1L307 434.4L306.5 433.9L306 434.8L305.5 435.2L305 435.4L304.5 435.3L304 435.3L303.5 435.2L303 435.1L302.5 433.3L302 434.1L301.5 433.9L301 433.8L300.5 433.8L300 434.2L299.5 434.5L299 434.6L298.5 437.2L298 435.6L297.5 437L297 438.1L296.5 437.6L296 437.4L295.5 437.7L295 436.4L294.5 433.6L294 431.7L293.5 433.6L293 433.3L292.5 435.1L292 434.4L291.5 435.9L291 434.8L290.5 434.1L290 434.1L289.5 434.5L289 434.5L288.5 433.3L288 434.8L287.5 433.9L287 435.3L286.5 435L286 434.8L285.5 433.6L285 433.7L284.5 433.4L284 434.1L283.5 434.3L283 434L282.5 435.1L282 435.3L281.5 436L281 434.9L280.5 434.9L280 432.5L279.5 433.2L279 433.1L278.5 432.7L278 433.5L277.5 434.3L277 434.2L276.5 433.7L276 434.2L275.5 432.8L275 433L274.5 433.4L274 433.6L273.5 433.5L273 434.5L272.5 433.7L272 433.7L271.5 434.8L271 434.2L270.5 433.8L270 433.6L269.5 433.6L269 434.2L268.5 434.9L268 434.4L267.5 434.6L267 433.7L266.5 434.2L266 433.4L265.5 432.3L265 432.7L264.5 432.4L264 433L263.5 433.1L263 432.8L262.5 433.6L262 433.3L261.5 432.8L261 433.9L260.5 434L260 434.2L259.5 433.7L259 433.4L258.5 433.2L258 432.7L257.5 432.9L257 433.4L256.5 433.4L256 433.9L255.5 434L255 433L254.5 433.4L254 434.8L253.5 434.6L253 433.3L252.5 433.5L252 433.2L251.5 433.2L251 434L250.5 434L250 433.5L249.5 433L249 433L248.5 433.4L248 433.8L247.5 433.8L247 434L246.5 432.9L246 432.6L245.5 434.1L245 432.6L244.5 433.7L244 432.9L243.5 433.9L243 434L242.5 433.8L242 434.3L241.5 435.2L241 434.6L240.5 434.6L240 434.4L239.5 434.1L239 433.6L238.5 434.7L238 433.3L237.5 433.6L237 433.8L236.5 434.8L236 434.3L235.5 434L235 434L234.5 432.7L234 434.7L233.5 434L233 433.9L232.5 434.5L232 434.9L231.5 434.1L231 435L230.5 434.4L230 434.7L229.5 434.5L229 433.1L228.5 434L228 433.7L227.5 433.5L227 434L226.5 435.3L226 434.2L225.5 434.8L225 433.9L224.5 432.7L224 432.9L223.5 433.1L223 432.4L222.5 433L222 432.8L221.5 433.3L221 433.8L220.5 433.2L220 433.6L219.5 432.7L219 433.6L218.5 433.3L218 433.2L217.5 435.3L217 434.8L216.5 434.8L216 434.6L215.5 433.6L215 433.4L214.5 433.4L214 433.7L213.5 434.1L213 433.4L212.5 433.9L212 434.2L211.5 434.4L211 434.6L210.5 434.5L210 434.7L209.5 433.7L209 434.7L208.5 433.5L208 434.3L207.5 434.9L207 434.6L206.5 434.7L206 434.7L205.5 433.9L205 432.6L204.5 432L204 433.2L203.5 433.5L203 433.8L202.5 433.8L202 433.9L201.5 433.8L201 433.8L200.5 433.9L200 434.2L199.5 433.8L199 435.3L198.5 435.1L198 435.3L197.5 435.9L197 436.2L196.5 435.9L196 434.8L195.5 434.4L195 434.3L194.5 434.2L194 433.6L193.5 433.5L193 433.5L192.5 432.5L192 432.7L191.5 432.6L191 432.9L190.5 434L190 434.2L189.5 434.3L189 434L188.5 434.8L188 434.6L187.5 436L187 435L186.5 435.7L186 435.7L185.5 436.4L185 435.4L184.5 436.7L184 435.2L183.5 434.2L183 434.6L182.5 435.2L182 433.9L181.5 434.5L181 435.2L180.5 434L180 434.4L179.5 433.7L179 434L178.5 434.1L178 433.9L177.5 433.2L177 433.1L176.5 433L176 433.5L175.5 432.9L175 433.2L174.5 433.6L174 433.2L173.5 433.8L173 433.2L172.5 433.2L172 433.9L171.5 432.9L171 433.2L170.5 433.8L170 434.1L169.5 434.5L169 434.6L168.5 434.6L168 434.4L167.5 433.7L167 433.8L166.5 433.6L166 434.7L165.5 435L165 435.6L164.5 436.5L164 435.5L163.5 435L163 434.4L162.5 433.8L162 432.3L161.5 433.1L161 433.3L160.5 434.6L160 434L159.5 434L159 433.4L158.5 433.6L158 432.9L157.5 434.4L157 434.5L156.5 433.5L156 433.7L155.5 434.1L155 433.4L154.5 434.7L154 434.9L153.5 434.6L153 435.5L152.5 433.8L152 433.5L151.5 433.7L151 433L150.5 433.6L150 434.5L149.5 434.8L149 434.3L148.5 435.4L148 434.3L147.5 434.4L147 433.8L146.5 433.5L146 433.1L145.5 432.8L145 432.6L144.5 434L144 433.3L143.5 433.1L143 433.3L142.5 432.8L142 432.8L141.5 432.3L141 433.3L140.5 433.2L140 433.7L139.5 434.3L139 434.2L138.5 434.5L138 433.5L137.5 433.9L137 433.9L136.5 433.5L136 434.3L135.5 434.4L135 433.8L134.5 434.8L134 434.7L133.5 434.2L133 434L132.5 434.4L132 434L131.5 434.2L131 433.8L130.5 434.9L130 434.4L129.5 434.8L129 433.9L128.5 433.9L128 434.4L127.5 433.8L127 434L126.5 434.1L126 434L125.5 433.4L125 434.2L124.5 434.1L124 433.5L123.5 433.3L123 433.2L122.5 433L122 434L121.5 434.4L121 434.7L120.5 434.3L120 434.5L119.5 434.9L119 433.4L118.5 434.3L118 434.4L117.5 434.1L117 433.8L116.5 434L116 434.3L115.5 434.2L115 434L114.5 433.8L114 434.3L113.5 433.9L113 433.8L112.5 433.4L112 433.1L111.5 433.6L111 433.7L110.5 433.7L110 433.3L109.5 434.1L109 433.9L108.5 433.2L108 434L107.5 434.2L107 433.9L106.5 433.3L106 434L105.5 434.6L105 433.4L104.5 433.7L104 433.4L103.5 434.1L103 433.6L102.5 433.6L102 434.8L101.5 434.7L101 434.9L100.5 433.5L100 433.7L99.5 433L99 433.7L98.5 432.9L98 434.1L97.5 434L97 433.9L96.5 433.3L96 433.7L95.5 434.4L95 434L94.5 433.7L94 433.3L93.5 433.2L93 433.2L92.5 433.2L92 433.7L91.5 433.5L91 432.8L90.5 432.6L90 433.1L89.5 433.8L89 433.9L88.5 433.6L88 433.8L87.5 433.8L87 434.1L86.5 433.8L86 433.1L85.5 433L85 433.2L84.5 434L84 433.7L83.5 433.7L83 434.1L82.5 433.9L82 433.9L81.5 434.1L81 433.8L80.5 433.1L80 433L79.5 433.4L79 433.1L78.5 433.3L78 434.3L77.5 434.2L77 434.7L76.5 436L76 435.6L75.5 436L75 434.8L74.5 433.8L74 434L73.5 434.6L73 434.2L72.5 433.8L72 434L71.5 434.6L71 434.5L70.5 433.9L70 433.8L69.5 434.3L69 433.1L68.5 433.9L68 433.6L67.5 433.6L67 433.7L66.5 434L66 434.1L65.5 434L65 433.6L64.5 434L64 433.9L63.5 434.1L63 435.2L62.5 434.9L62 434.6L61.5 435.3L61 434.2L60.5 434.3L60 433.8L59.5 434.1L59 433.6L58.5 434.6L58 434.4L57.5 434.7L57 433.7L56.5 434.6L56 434.2L55.5 434.3L55 434.2L54.5 434.6L54 434.2L53.5 434.3L53 433.2L52.5 432.7L52 433.1L51.5 433.2L51 433.8L50.5 433.7L50 434.3L49.5 433.7L49 434.6L48.5 434.7L48 434.7L47.5 434.6L47 434.1L46.5 433.4L46 433L45.5 432.7L45 433.6L44.5 433.2L44 433.4Z" fill="#0000ff" fill-opacity="0.95"/>
<path d="M53.6 426V438.5M75.8 418.8V446M91.6 412.6V432.4M96.8 396.1V442M108.6 424.7V432.4M114 415.6V432.4M119.9 425.2V432.4M121.1 425.2V432.4M119.3 428.8V432.4M121.7 428.8V432.4M147.6 413.1V446.5M150.3 420.5V432.4M152.8 417.3V432.4M156.1 411.7V437.1M157.3 411.7V437.1M155.5 422.1V434.8M157.9 422.1V434.8M158.2 347.7V457.1M164.4 413.1V432.4M175.5 401.3V432.4M180.9 408.2V432.4M183.8 423.1V436.6M185 423.1V436.6M183.2 427.8V434.5M185.6 427.8V434.5M187.3 416.8V447M196.5 391.7V432.4M199.9 419.3V432.4M204.9 415.6V432.4M207 410V432.4M209.3 402V432.4M215 410.7V432.4M217.9 405.7V459.5M221.8 415.8V432.4M223 415.8V432.4M221.2 424.1V432.4M223.6 424.1V432.4M230 418.8V432.4M236.7 387.2V460.5M242.4 418.8V432.4M258.7 382V445.7M268.2 423.1V437.6M269.4 423.1V437.6M267.6 427.8V435M270 427.8V435M278.6 363V447.2M283.6 419.8V432.4M292.2 418V450.7M296.7 418V432.4M315.7 421.3V432.4M342.8 403.8V455.6M371 424.6V439.8M397.5 419.8V432.4M402.5 417.3V432.4M410.6 414.4V432.4M413 391.7V442.8M416 342.3V486M419.5 396.4V446M421.9 415.3V436.1M423.1 415.3V436.1M421.3 423.9V434.3M423.7 423.9V434.3M426.5 414.1V444M427.7 414.1V444M425.9 423.3V438.2M428.3 423.3V438.2M446.9 412.6V449M450.6 412.6V432.4M453 415.6V432.4M456.3 403.3V432.4M458.4 420V442.7M459.6 420V442.7M457.8 426.2V437.6M460.2 426.2V437.6M466.8 417.1V439.1M468 417.1V439.1M466.2 424.8V435.8M468.6 424.8V435.8M469.8 404.5V452.6M475.3 369.5V447M483.2 395.9V432.4M485.1 412V470.6M488.3 373.7V444M495.5 414.4V432.4M497.5 406.2V432.4M502.4 407.5V444M505.6 337.1V492.1M511.7 405.3V459.8M512.9 405.3V459.8M511.1 418.9V446.1M513.5 418.9V446.1M516.7 394.6V468.7M525.1 390.4V478.5M524.5 421.8V445.5M525.7 421.8V445.5M523.9 427.1V439M526.3 427.1V439M527.1 400.8V432.4M541.7 407V464.5M550.5 414.9V432.4M557.8 404.8V439.8M559 404.8V439.8M557.2 418.6V436.1M559.6 418.6V436.1" stroke="#0000ff" stroke-opacity="0.42" stroke-width="0.95" fill="none"/>
<path d="M120.5 414.4V432.4M156.7 380.6V444M184.4 409V442.8M222.4 390.7V432.4M268.8 409V445.2M422.5 389.7V441.5M427.1 386.7V461.3M459 401.3V458M467.4 394V449M512.3 364.5V500.8M558.4 363.3V450.7" stroke="#0000ff" stroke-opacity="0.62" stroke-width="1.0" fill="none"/>
<path d="M525.1 405.7V465" stroke="#0000ff" stroke-opacity="0.9" stroke-width="1.1" fill="none"/>
</g>
<rect x="43" y="329.9" width="603.1" height="1" fill="#bdbdbd"/>
<rect x="43" y="534" width="603.1" height="1" fill="#a4a4a4"/>
<rect x="43" y="330.4" width="1" height="204.1" fill="#bdbdbd"/>
<rect x="645.1" y="330.4" width="1" height="204.1" fill="#bdbdbd"/>
<text x="43.5" y="549.1" text-anchor="middle" font-size="12" >00:00</text>
<rect x="118.41" y="528.5" width="0.7" height="6" fill="#6a6a6a"/>
<rect x="118.41" y="330.4" width="0.7" height="6" fill="#6a6a6a"/>
<text x="118.76" y="549.1" text-anchor="middle" font-size="12" >03:00</text>
<rect x="193.68" y="528.5" width="0.7" height="6" fill="#6a6a6a"/>
<rect x="193.68" y="330.4" width="0.7" height="6" fill="#6a6a6a"/>
<text x="194.03" y="549.1" text-anchor="middle" font-size="12" >06:00</text>
<rect x="268.94" y="528.5" width="0.7" height="6" fill="#6a6a6a"/>
<rect x="268.94" y="330.4" width="0.7" height="6" fill="#6a6a6a"/>
<text x="269.29" y="549.1" text-anchor="middle" font-size="12" >09:00</text>
<rect x="344.2" y="528.5" width="0.7" height="6" fill="#6a6a6a"/>
<rect x="344.2" y="330.4" width="0.7" height="6" fill="#6a6a6a"/>
<text x="344.55" y="549.1" text-anchor="middle" font-size="12" >12:00</text>
<rect x="419.46" y="528.5" width="0.7" height="6" fill="#6a6a6a"/>
<rect x="419.46" y="330.4" width="0.7" height="6" fill="#6a6a6a"/>
<text x="419.81" y="549.1" text-anchor="middle" font-size="12" >15:00</text>
<rect x="494.73" y="528.5" width="0.7" height="6" fill="#6a6a6a"/>
<rect x="494.73" y="330.4" width="0.7" height="6" fill="#6a6a6a"/>
<text x="495.08" y="549.1" text-anchor="middle" font-size="12" >18:00</text>
<rect x="569.99" y="528.5" width="0.7" height="6" fill="#6a6a6a"/>
<rect x="569.99" y="330.4" width="0.7" height="6" fill="#6a6a6a"/>
<text x="570.34" y="549.1" text-anchor="middle" font-size="12" >21:00</text>
<text x="645.6" y="549.1" text-anchor="middle" font-size="12" >00:00</text>
<text x="38.9" y="334.6" text-anchor="end" font-size="12" >1</text>
<rect x="43.5" y="381.07" width="6" height="0.7" fill="#6a6a6a"/>
<rect x="639.6" y="381.07" width="6" height="0.7" fill="#6a6a6a"/>
<text x="38.9" y="385.62" text-anchor="end" font-size="12" >0.5</text>
<rect x="43.5" y="432.1" width="6" height="0.7" fill="#6a6a6a"/>
<rect x="639.6" y="432.1" width="6" height="0.7" fill="#6a6a6a"/>
<text x="38.9" y="436.65" text-anchor="end" font-size="12" >0</text>
<rect x="43.5" y="483.12" width="6" height="0.7" fill="#6a6a6a"/>
<rect x="639.6" y="483.12" width="6" height="0.7" fill="#6a6a6a"/>
<text x="38.9" y="487.68" text-anchor="end" font-size="12" >-0.5</text>
<text x="38.9" y="538.7" text-anchor="end" font-size="12" >-1</text>
<text transform="translate(9.4,432.65) rotate(-90)" text-anchor="middle" font-size="12.4" font-weight="bold">Y (nT)</text>
<rect x="836" y="329.9" width="604.1" height="205.1" fill="#00008f"/>
<g stroke-width="1" fill="none">
<path stroke="#00009f" d="M866.5 533v2M867.5 419v3M868.5 419v3M869.5 533v2M945.5 532v3M946.5 439v3M946.5 466v26M947.5 334v40M955.5 478v2M955.5 511v3M956.5 477v1M956.5 514v1M966.5 462v1M966.5 526v1M967.5 463v2M967.5 524v2M975.5 508v2M975.5 527v1M976.5 508v3M976.5 526v2M986.5 330v63M987.5 330v63M1047.5 451v52M1048.5 502v2M1065.5 513v22M1068.5 430v50M1078.5 532v3M1079.5 483v7M1080.5 474v1M1081.5 475v2M1082.5 497v9M1084.5 461v3M1084.5 523v2M1085.5 460v2M1085.5 524v1M1129.5 529v6M1130.5 391v2M1131.5 392v3M1199.5 530v5M1200.5 467v1M1202.5 503v3M1203.5 330v107M1212.5 393v20M1213.5 412v2M1243.5 488v40M1244.5 366v1M1244.5 477v1M1245.5 330v25M1245.5 479v19M1261.5 330v205M1294.5 482v15M1295.5 330v23M1295.5 359v26M1295.5 440v2M1298.5 349v8M1299.5 437v1M1300.5 449v3M1301.5 474v4M1302.5 491v3M1303.5 480v3M1304.5 476v1M1305.5 475v1M1306.5 477v1M1307.5 437v12M1308.5 380v2M1309.5 379v2M1310.5 396v10M1311.5 440v7M1312.5 473v5M1313.5 505v7M1328.5 500v2M1329.5 499v2M1330.5 522v13M1355.5 492v9M1356.5 477v1M1357.5 477v1M1358.5 501v11M1367.5 506v8M1368.5 484v2M1369.5 484v1M1370.5 492v7M1379.5 489v6M1380.5 475v2M1381.5 475v2M1382.5 489v6"/>
<path stroke="#0000af" d="M867.5 422v28M868.5 422v28M946.5 492v5M947.5 374v12M949.5 485v9M955.5 480v31M956.5 478v2M956.5 512v2M966.5 463v2M966.5 525v1M967.5 465v6M967.5 523v1M975.5 510v17M976.5 511v15M1047.5 330v121M1048.5 487v15M1068.5 480v23M1079.5 490v5M1080.5 475v1M1081.5 477v2M1082.5 506v9M1084.5 464v6M1084.5 522v1M1085.5 462v1M1085.5 523v1M1130.5 393v15M1131.5 395v48M1200.5 468v1M1201.5 507v28M1202.5 501v2M1212.5 330v63M1213.5 406v6M1243.5 528v7M1244.5 339v27M1244.5 478v1M1245.5 498v26M1291.5 330v16M1291.5 527v8M1294.5 497v18M1295.5 353v6M1295.5 442v2M1298.5 357v14M1299.5 438v1M1300.5 452v3M1301.5 478v3M1302.5 494v3M1303.5 483v2M1304.5 477v1M1305.5 476v1M1306.5 478v1M1307.5 449v7M1308.5 382v2M1309.5 381v1M1310.5 406v7M1311.5 447v4M1312.5 478v3M1313.5 512v4M1328.5 502v10M1329.5 501v1M1340.5 330v176M1355.5 501v6M1356.5 478v1M1357.5 478v2M1358.5 512v10M1367.5 514v11M1368.5 486v2M1369.5 485v1M1370.5 499v4M1379.5 495v5M1380.5 477v1M1381.5 477v1M1382.5 495v5"/>
<path stroke="#0000bf" d="M867.5 450v43M868.5 450v43M946.5 497v3M947.5 386v5M949.5 476v9M949.5 494v6M956.5 480v32M966.5 465v1M966.5 524v1M967.5 471v13M967.5 521v2M1048.5 330v157M1066.5 330v22M1068.5 503v12M1079.5 495v4M1080.5 476v1M1081.5 479v3M1082.5 515v6M1084.5 470v14M1084.5 508v14M1085.5 463v2M1130.5 408v42M1131.5 443v44M1200.5 469v2M1201.5 502v5M1202.5 498v3M1213.5 350v56M1244.5 330v9M1244.5 479v2M1245.5 524v11M1291.5 346v98M1291.5 517v10M1294.5 515v20M1295.5 444v3M1298.5 371v9M1299.5 439v1M1300.5 455v2M1301.5 481v2M1302.5 497v3M1303.5 485v1M1304.5 478v1M1306.5 479v1M1307.5 456v5M1308.5 384v4M1309.5 382v1M1310.5 413v4M1311.5 451v3M1312.5 481v4M1313.5 516v5M1328.5 512v8M1329.5 502v3M1340.5 506v29M1355.5 507v8M1356.5 479v1M1357.5 480v2M1358.5 522v7M1367.5 525v7M1368.5 488v2M1369.5 486v1M1370.5 503v4M1379.5 500v6M1380.5 478v2M1381.5 478v2M1382.5 500v6"/>
<path stroke="#0000cf" d="M867.5 493v17M868.5 493v17M946.5 500v4M947.5 391v3M949.5 466v10M949.5 500v35M966.5 466v6M966.5 523v1M967.5 484v37M1066.5 352v56M1068.5 515v12M1079.5 499v4M1080.5 477v2M1081.5 482v3M1082.5 521v6M1084.5 484v24M1085.5 465v6M1085.5 522v1M1130.5 450v35M1131.5 487v20M1200.5 471v30M1201.5 498v4M1202.5 494v4M1213.5 330v20M1244.5 481v13M1291.5 444v73M1295.5 447v3M1298.5 380v5M1299.5 440v1M1300.5 457v2M1301.5 483v2M1302.5 500v3M1303.5 486v1M1305.5 477v1M1306.5 480v1M1307.5 461v4M1308.5 388v11M1309.5 383v1M1310.5 417v5M1311.5 454v3M1312.5 485v2M1313.5 521v3M1328.5 520v6M1329.5 505v8M1342.5 330v99M1355.5 515v8M1356.5 480v2M1357.5 482v5M1358.5 529v6M1367.5 532v3M1368.5 490v3M1369.5 487v1M1370.5 507v4M1379.5 506v7M1380.5 480v1M1381.5 480v1M1382.5 506v7"/>
<path stroke="#0000df" d="M867.5 510v8M868.5 510v8M946.5 504v5M947.5 394v2M949.5 457v9M966.5 472v8M966.5 522v1M1066.5 408v39M1067.5 330v6M1068.5 527v8M1079.5 503v5M1080.5 479v2M1081.5 485v3M1082.5 527v5M1085.5 471v9M1085.5 517v5M1130.5 485v16M1131.5 507v14M1200.5 501v29M1201.5 490v8M1202.5 488v6M1244.5 494v14M1295.5 450v3M1298.5 385v5M1299.5 441v1M1300.5 459v2M1301.5 485v1M1302.5 503v2M1303.5 487v2M1304.5 479v1M1305.5 478v1M1306.5 481v1M1307.5 465v4M1308.5 399v8M1309.5 384v3M1310.5 422v3M1311.5 457v2M1312.5 487v1M1313.5 524v2M1328.5 526v5M1329.5 513v6M1342.5 429v106M1355.5 523v5M1356.5 482v4M1357.5 487v3M1368.5 493v3M1369.5 488v1M1370.5 511v6M1379.5 513v5M1380.5 481v2M1381.5 481v2M1382.5 513v5"/>
<path stroke="#0000ef" d="M867.5 518v8M868.5 518v8M946.5 509v4M947.5 396v3M949.5 450v7M966.5 480v8M966.5 507v15M1066.5 447v19M1067.5 336v35M1079.5 508v5M1080.5 481v3M1081.5 488v2M1082.5 532v3M1085.5 480v8M1085.5 497v20M1130.5 501v14M1131.5 521v9M1200.5 530v5M1201.5 482v8M1202.5 482v6M1244.5 508v12M1289.5 530v5M1295.5 453v2M1296.5 429v7M1298.5 390v21M1300.5 461v2M1301.5 486v2M1302.5 505v2M1303.5 489v1M1304.5 480v1M1306.5 482v2M1307.5 469v3M1308.5 407v8M1309.5 387v6M1310.5 425v4M1311.5 459v2M1312.5 488v2M1313.5 526v3M1328.5 531v4M1329.5 519v5M1355.5 528v5M1356.5 486v3M1357.5 490v4M1368.5 496v2M1369.5 489v3M1370.5 517v5M1379.5 518v5M1380.5 483v3M1381.5 483v3M1382.5 518v5"/>
<path stroke="#0000ff" d="M867.5 526v8M868.5 526v8M946.5 513v4M947.5 399v6M949.5 448v2M966.5 488v19M1066.5 466v11M1067.5 371v34M1079.5 513v5M1080.5 484v2M1081.5 490v3M1085.5 488v9M1130.5 515v10M1131.5 530v5M1201.5 449v21M1201.5 473v9M1202.5 476v6M1244.5 520v9M1289.5 525v5M1295.5 455v4M1296.5 425v4M1296.5 436v1M1298.5 411v6M1299.5 442v1M1300.5 463v2M1301.5 488v2M1302.5 507v2M1303.5 490v1M1304.5 481v1M1305.5 479v1M1306.5 484v1M1307.5 472v4M1308.5 415v6M1309.5 393v5M1310.5 429v3M1311.5 461v2M1312.5 490v2M1313.5 529v3M1329.5 524v5M1355.5 533v2M1356.5 489v3M1357.5 494v3M1368.5 498v3M1369.5 492v2M1370.5 522v6M1379.5 523v5M1380.5 486v2M1381.5 486v2M1382.5 523v5"/>
<path stroke="#0010ff" d="M867.5 534v1M868.5 534v1M946.5 517v5M947.5 405v6M949.5 330v56M949.5 446v2M1066.5 477v12M1067.5 405v30M1079.5 518v4M1080.5 486v2M1081.5 493v2M1130.5 525v9M1201.5 430v19M1201.5 470v3M1202.5 467v9M1244.5 529v6M1259.5 483v46M1289.5 330v64M1289.5 520v5M1295.5 459v5M1296.5 421v4M1296.5 437v1M1298.5 417v7M1299.5 443v1M1300.5 465v1M1301.5 490v1M1302.5 509v2M1303.5 491v1M1304.5 482v1M1305.5 480v1M1306.5 485v1M1307.5 476v2M1308.5 421v5M1309.5 398v4M1310.5 432v2M1311.5 463v1M1312.5 492v2M1313.5 532v2M1329.5 529v4M1356.5 492v3M1357.5 497v3M1368.5 501v2M1369.5 494v2M1370.5 528v5M1379.5 528v5M1380.5 488v2M1381.5 488v2M1382.5 528v5"/>
<path stroke="#0020ff" d="M946.5 522v3M947.5 411v5M949.5 386v4M949.5 444v2M1066.5 489v9M1067.5 435v17M1079.5 522v4M1080.5 488v3M1081.5 495v3M1130.5 534v1M1201.5 405v25M1202.5 452v15M1259.5 386v97M1259.5 529v6M1289.5 394v35M1289.5 513v7M1295.5 464v4M1296.5 417v4M1296.5 438v1M1298.5 424v7M1299.5 444v1M1300.5 466v2M1301.5 491v2M1302.5 511v2M1303.5 492v1M1304.5 483v1M1305.5 481v1M1306.5 486v1M1307.5 478v2M1308.5 426v5M1309.5 402v4M1310.5 434v2M1311.5 464v2M1312.5 494v1M1313.5 534v1M1329.5 533v2M1356.5 495v3M1357.5 500v3M1368.5 503v3M1369.5 496v3M1370.5 533v2M1379.5 533v2M1380.5 490v2M1381.5 490v2M1382.5 533v2"/>
<path stroke="#0030ff" d="M946.5 525v3M947.5 416v5M948.5 330v5M949.5 390v3M949.5 442v2M1066.5 498v9M1067.5 452v14M1079.5 526v3M1080.5 491v2M1081.5 498v2M1201.5 367v38M1202.5 437v15M1259.5 330v56M1289.5 429v34M1289.5 490v23M1295.5 468v4M1296.5 413v4M1298.5 431v3M1299.5 445v1M1300.5 468v1M1301.5 493v1M1302.5 513v1M1303.5 493v1M1304.5 484v1M1305.5 482v1M1306.5 487v1M1307.5 480v2M1308.5 431v3M1309.5 406v4M1310.5 436v2M1311.5 466v1M1312.5 495v1M1356.5 498v3M1357.5 503v3M1368.5 506v2M1369.5 499v2M1380.5 492v2M1381.5 492v2"/>
<path stroke="#0040ff" d="M946.5 528v4M947.5 421v5M947.5 449v41M948.5 335v16M949.5 393v3M949.5 438v4M1066.5 507v10M1067.5 466v9M1079.5 529v4M1080.5 493v2M1081.5 500v3M1201.5 330v37M1202.5 420v17M1260.5 441v94M1289.5 463v27M1290.5 533v2M1295.5 472v3M1296.5 409v4M1296.5 439v1M1298.5 434v1M1299.5 446v1M1300.5 469v2M1301.5 494v1M1303.5 494v1M1304.5 485v1M1305.5 483v1M1306.5 488v1M1307.5 482v2M1308.5 434v3M1309.5 410v3M1310.5 438v2M1311.5 467v2M1312.5 496v2M1356.5 501v3M1357.5 506v4M1368.5 508v2M1369.5 501v2M1380.5 494v2M1381.5 494v2"/>
<path stroke="#0050ff" d="M946.5 532v3M947.5 426v6M947.5 446v3M947.5 490v3M948.5 351v13M949.5 396v3M949.5 410v28M1066.5 517v9M1067.5 475v10M1079.5 533v2M1080.5 495v2M1081.5 503v4M1202.5 400v20M1260.5 367v74M1290.5 530v3M1295.5 475v2M1296.5 407v2M1296.5 440v1M1298.5 435v1M1299.5 447v1M1300.5 471v1M1301.5 495v1M1302.5 514v1M1303.5 495v3M1304.5 486v2M1305.5 484v1M1306.5 489v1M1307.5 484v1M1308.5 437v3M1309.5 413v4M1310.5 440v2M1311.5 469v1M1312.5 498v2M1341.5 330v36M1356.5 504v3M1357.5 510v5M1368.5 510v5M1369.5 503v2M1380.5 496v2M1381.5 496v2"/>
<path stroke="#0060ff" d="M947.5 432v4M947.5 443v3M947.5 493v2M948.5 364v9M948.5 485v8M949.5 399v11M1066.5 526v8M1067.5 485v10M1080.5 497v3M1081.5 507v5M1202.5 368v32M1260.5 330v37M1290.5 527v3M1295.5 477v3M1296.5 405v2M1298.5 436v1M1299.5 448v1M1300.5 472v1M1301.5 496v2M1302.5 515v1M1303.5 498v3M1304.5 488v1M1305.5 485v1M1306.5 490v1M1307.5 485v2M1308.5 440v3M1309.5 417v3M1310.5 442v2M1311.5 470v1M1312.5 500v2M1341.5 366v154M1356.5 507v5M1357.5 515v5M1368.5 515v5M1369.5 505v3M1380.5 498v2M1381.5 498v2"/>
<path stroke="#0070ff" d="M947.5 436v7M947.5 495v2M948.5 373v9M948.5 479v6M948.5 493v3M1066.5 534v1M1067.5 495v10M1080.5 500v3M1081.5 512v3M1202.5 330v38M1290.5 523v4M1295.5 480v2M1296.5 403v2M1296.5 441v1M1297.5 330v2M1298.5 437v1M1299.5 449v1M1300.5 473v1M1301.5 498v1M1303.5 501v4M1304.5 489v1M1305.5 486v2M1306.5 491v1M1307.5 487v1M1308.5 443v3M1309.5 420v4M1310.5 444v1M1311.5 471v2M1312.5 502v1M1341.5 520v15M1356.5 512v5M1357.5 520v5M1368.5 520v4M1369.5 508v2M1380.5 500v4M1381.5 500v4"/>
<path stroke="#0080ff" d="M947.5 497v2M948.5 382v4M948.5 473v6M948.5 496v2M1067.5 505v9M1080.5 503v4M1081.5 515v4M1290.5 520v3M1295.5 482v3M1296.5 401v2M1297.5 332v4M1298.5 438v1M1299.5 450v1M1300.5 474v1M1301.5 499v1M1302.5 516v1M1303.5 505v4M1304.5 490v1M1305.5 488v1M1306.5 492v1M1307.5 488v2M1308.5 446v3M1309.5 424v3M1310.5 445v2M1311.5 473v1M1312.5 503v1M1356.5 517v5M1357.5 525v5M1368.5 524v5M1369.5 510v3M1380.5 504v5M1381.5 504v5"/>
<path stroke="#008fff" d="M947.5 499v2M948.5 386v2M948.5 467v6M948.5 498v5M1067.5 514v10M1080.5 507v4M1081.5 519v4M1290.5 517v3M1295.5 485v3M1296.5 399v2M1296.5 442v1M1297.5 336v3M1299.5 451v1M1300.5 475v1M1301.5 500v1M1302.5 517v1M1303.5 509v3M1304.5 491v1M1305.5 489v1M1306.5 493v1M1307.5 490v1M1308.5 449v2M1309.5 427v3M1310.5 447v2M1311.5 474v1M1312.5 504v2M1356.5 522v5M1357.5 530v4M1368.5 529v5M1369.5 513v6M1380.5 509v5M1381.5 509v5"/>
<path stroke="#009fff" d="M947.5 501v4M948.5 388v2M948.5 460v7M948.5 503v24M1067.5 524v10M1080.5 511v5M1081.5 523v4M1290.5 330v12M1290.5 507v10M1295.5 488v4M1296.5 397v2M1296.5 443v1M1297.5 339v3M1298.5 439v1M1299.5 452v1M1300.5 476v1M1301.5 501v1M1302.5 518v1M1303.5 512v1M1304.5 492v1M1305.5 490v1M1306.5 494v1M1307.5 491v1M1308.5 451v2M1309.5 430v3M1310.5 449v2M1311.5 475v1M1312.5 506v1M1356.5 527v5M1357.5 534v1M1368.5 534v1M1369.5 519v5M1380.5 514v4M1381.5 514v4"/>
<path stroke="#00afff" d="M947.5 505v6M948.5 390v2M948.5 453v7M948.5 527v8M1067.5 534v1M1080.5 516v4M1081.5 527v4M1290.5 342v52M1290.5 496v11M1295.5 492v3M1296.5 330v3M1296.5 395v2M1296.5 444v2M1297.5 342v2M1298.5 440v1M1299.5 453v1M1300.5 477v1M1301.5 502v1M1303.5 513v1M1304.5 493v1M1305.5 491v1M1306.5 495v3M1307.5 492v2M1308.5 453v3M1309.5 433v2M1310.5 451v1M1311.5 476v2M1312.5 507v2M1356.5 532v3M1369.5 524v5M1380.5 518v5M1381.5 518v5"/>
<path stroke="#00bfff" d="M947.5 511v6M948.5 392v2M948.5 450v3M1080.5 520v4M1081.5 531v4M1290.5 394v27M1290.5 484v12M1295.5 495v4M1296.5 333v3M1296.5 393v2M1296.5 446v1M1297.5 344v2M1299.5 454v1M1300.5 478v1M1301.5 503v1M1302.5 519v1M1303.5 514v1M1304.5 494v1M1305.5 492v1M1306.5 498v4M1307.5 494v1M1308.5 456v2M1309.5 435v2M1310.5 452v2M1311.5 478v1M1312.5 509v1M1369.5 529v5M1380.5 523v5M1381.5 523v5"/>
<path stroke="#00cfff" d="M947.5 517v6M948.5 394v2M948.5 448v2M1080.5 524v4M1290.5 421v63M1295.5 499v3M1296.5 336v4M1296.5 391v2M1296.5 447v2M1297.5 346v3M1298.5 441v1M1299.5 455v1M1300.5 479v1M1301.5 504v1M1302.5 520v1M1304.5 495v2M1305.5 493v1M1306.5 502v5M1307.5 495v3M1308.5 458v2M1309.5 437v2M1310.5 454v1M1311.5 479v1M1312.5 510v2M1369.5 534v1M1380.5 528v5M1381.5 528v5"/>
<path stroke="#00dfff" d="M947.5 523v7M948.5 396v2M948.5 446v2M1080.5 528v5M1295.5 502v4M1295.5 510v25M1296.5 340v3M1296.5 386v5M1296.5 449v1M1297.5 349v1M1299.5 456v1M1300.5 480v1M1301.5 505v1M1302.5 521v1M1303.5 515v1M1304.5 497v5M1305.5 494v1M1306.5 507v4M1307.5 498v4M1308.5 460v2M1309.5 439v3M1310.5 455v1M1311.5 480v1M1312.5 512v2M1380.5 533v2M1381.5 533v2"/>
<path stroke="#00efff" d="M947.5 530v5M948.5 398v2M948.5 445v1M1080.5 533v2M1295.5 506v4M1296.5 343v3M1296.5 379v7M1296.5 450v1M1297.5 350v2M1298.5 442v1M1299.5 457v1M1300.5 481v1M1301.5 506v2M1302.5 522v2M1304.5 502v5M1305.5 495v2M1306.5 511v2M1307.5 502v3M1308.5 462v2M1309.5 442v2M1310.5 456v2M1311.5 481v1M1312.5 514v2"/>
<path stroke="#00ffff" d="M948.5 400v8M948.5 443v2M1296.5 346v4M1296.5 374v5M1296.5 451v2M1297.5 352v1M1298.5 443v1M1299.5 458v2M1300.5 482v1M1301.5 508v2M1302.5 524v3M1303.5 516v1M1304.5 507v4M1305.5 497v6M1306.5 513v1M1307.5 505v4M1308.5 464v1M1309.5 444v2M1310.5 458v1M1311.5 482v1M1312.5 516v1"/>
<path stroke="#10ffef" d="M948.5 408v16M948.5 442v1M1296.5 350v2M1296.5 367v7M1296.5 453v1M1297.5 353v1M1297.5 428v9M1298.5 444v1M1299.5 460v1M1300.5 483v1M1301.5 510v1M1302.5 527v2M1303.5 517v1M1304.5 511v2M1305.5 503v5M1306.5 514v1M1307.5 509v4M1308.5 465v2M1309.5 446v3M1310.5 459v1M1311.5 483v2M1312.5 517v2"/>
<path stroke="#20ffdf" d="M948.5 424v18M1296.5 352v2M1296.5 360v7M1296.5 454v2M1297.5 354v3M1297.5 423v5M1297.5 437v3M1298.5 445v1M1299.5 461v1M1300.5 484v1M1301.5 511v2M1302.5 529v2M1304.5 513v1M1305.5 508v4M1307.5 513v2M1308.5 467v2M1309.5 449v2M1310.5 460v2M1311.5 485v1M1312.5 519v2"/>
<path stroke="#30ffcf" d="M1296.5 354v6M1296.5 456v3M1297.5 357v4M1297.5 417v6M1297.5 440v2M1298.5 446v1M1299.5 462v2M1300.5 485v1M1301.5 513v1M1302.5 531v2M1303.5 518v1M1304.5 514v1M1305.5 512v1M1306.5 515v1M1307.5 515v1M1308.5 469v2M1309.5 451v2M1310.5 462v1M1311.5 486v1M1312.5 521v2"/>
<path stroke="#40ffbf" d="M1296.5 459v3M1297.5 361v5M1297.5 410v7M1297.5 442v2M1298.5 447v2M1299.5 464v1M1300.5 486v1M1301.5 514v2M1302.5 533v2M1303.5 519v1M1305.5 513v1M1307.5 516v1M1308.5 471v2M1309.5 453v1M1310.5 463v2M1311.5 487v1M1312.5 523v2"/>
<path stroke="#50ffaf" d="M1296.5 462v3M1297.5 366v5M1297.5 406v4M1297.5 444v2M1298.5 449v1M1299.5 465v2M1300.5 487v1M1301.5 516v1M1304.5 515v1M1305.5 514v1M1306.5 516v1M1307.5 517v1M1308.5 473v2M1309.5 454v2M1310.5 465v1M1311.5 488v1M1312.5 525v2"/>
<path stroke="#60ff9f" d="M1296.5 465v3M1297.5 371v5M1297.5 403v3M1297.5 446v1M1298.5 450v1M1299.5 467v1M1300.5 488v2M1301.5 517v2M1303.5 520v1M1306.5 517v1M1307.5 518v2M1308.5 475v2M1309.5 456v2M1310.5 466v1M1311.5 489v1M1312.5 527v2"/>
<path stroke="#70ff8f" d="M1296.5 468v3M1297.5 376v4M1297.5 399v4M1297.5 447v2M1298.5 451v1M1299.5 468v1M1300.5 490v1M1301.5 519v2M1303.5 521v2M1304.5 516v1M1305.5 515v1M1307.5 520v1M1308.5 477v2M1309.5 458v2M1310.5 467v2M1311.5 490v1M1312.5 529v2"/>
<path stroke="#80ff80" d="M1296.5 471v3M1297.5 380v4M1297.5 395v4M1297.5 449v1M1298.5 452v1M1299.5 469v2M1300.5 491v1M1301.5 521v1M1303.5 523v3M1304.5 517v1M1305.5 516v1M1306.5 518v1M1307.5 521v4M1308.5 479v2M1309.5 460v1M1310.5 469v1M1311.5 491v2M1312.5 531v2"/>
<path stroke="#8fff70" d="M1296.5 474v2M1297.5 384v5M1297.5 391v4M1297.5 450v1M1298.5 453v1M1299.5 471v1M1300.5 492v1M1301.5 522v2M1303.5 526v4M1306.5 519v1M1307.5 525v4M1308.5 481v2M1309.5 461v2M1310.5 470v2M1311.5 493v1M1312.5 533v2"/>
<path stroke="#9fff60" d="M1296.5 476v2M1297.5 389v2M1297.5 451v2M1298.5 454v1M1299.5 472v1M1300.5 493v2M1301.5 524v2M1303.5 530v3M1304.5 518v1M1305.5 517v1M1307.5 529v5M1308.5 483v2M1309.5 463v2M1310.5 472v1M1311.5 494v1"/>
<path stroke="#afff50" d="M1296.5 478v2M1297.5 453v1M1298.5 455v1M1299.5 473v1M1300.5 495v1M1301.5 526v2M1303.5 533v2M1304.5 519v1M1305.5 518v1M1306.5 520v1M1307.5 534v1M1308.5 485v2M1309.5 465v2M1310.5 473v2M1311.5 495v1"/>
<path stroke="#bfff40" d="M1296.5 480v2M1297.5 454v1M1298.5 456v2M1299.5 474v2M1300.5 496v1M1301.5 528v2M1306.5 521v3M1308.5 487v2M1309.5 467v1M1310.5 475v1M1311.5 496v2"/>
<path stroke="#cfff30" d="M1296.5 482v2M1297.5 455v2M1298.5 458v2M1299.5 476v1M1300.5 497v1M1301.5 530v2M1304.5 520v1M1305.5 519v1M1306.5 524v4M1308.5 489v2M1309.5 468v2M1310.5 476v1M1311.5 498v2"/>
<path stroke="#dfff20" d="M1296.5 484v3M1297.5 457v3M1298.5 460v2M1299.5 477v1M1300.5 498v2M1301.5 532v3M1304.5 521v3M1305.5 520v1M1306.5 528v4M1308.5 491v1M1309.5 470v2M1310.5 477v2M1311.5 500v1"/>
<path stroke="#efff10" d="M1296.5 487v4M1297.5 460v3M1298.5 462v2M1299.5 478v1M1300.5 500v1M1304.5 524v4M1305.5 521v1M1306.5 532v3M1308.5 492v2M1309.5 472v2M1310.5 479v1M1311.5 501v2"/>
<path stroke="#ffff00" d="M1296.5 491v4M1297.5 463v2M1298.5 464v2M1299.5 479v1M1300.5 501v1M1304.5 528v4M1305.5 522v4M1308.5 494v3M1309.5 474v2M1310.5 480v2M1311.5 503v2"/>
<path stroke="#ffef00" d="M1296.5 495v3M1297.5 465v3M1298.5 466v2M1299.5 480v2M1300.5 502v2M1304.5 532v3M1305.5 526v4M1308.5 497v4M1309.5 476v1M1310.5 482v1M1311.5 505v2"/>
<path stroke="#ffdf00" d="M1296.5 498v4M1296.5 524v11M1297.5 468v2M1298.5 468v2M1299.5 482v1M1300.5 504v1M1305.5 530v5M1308.5 501v4M1309.5 477v2M1310.5 483v2M1311.5 507v2"/>
<path stroke="#ffcf00" d="M1296.5 502v22M1297.5 470v2M1298.5 470v1M1299.5 483v1M1300.5 505v2M1308.5 505v4M1309.5 479v2M1310.5 485v1M1311.5 509v2"/>
<path stroke="#ffbf00" d="M1297.5 472v2M1298.5 471v2M1299.5 484v1M1300.5 507v2M1308.5 509v11M1309.5 481v2M1310.5 486v2M1311.5 511v2"/>
<path stroke="#ffaf00" d="M1297.5 474v2M1298.5 473v2M1299.5 485v2M1300.5 509v3M1308.5 520v15M1309.5 483v2M1310.5 488v1M1311.5 513v3"/>
<path stroke="#ff9f00" d="M1297.5 476v2M1298.5 475v1M1299.5 487v2M1300.5 512v3M1309.5 485v2M1310.5 489v2M1311.5 516v3"/>
<path stroke="#ff8f00" d="M1297.5 478v2M1298.5 476v2M1299.5 489v1M1300.5 515v2M1309.5 487v1M1310.5 491v1M1311.5 519v4"/>
<path stroke="#ff8000" d="M1297.5 480v2M1298.5 478v1M1299.5 490v2M1300.5 517v3M1309.5 488v2M1310.5 492v2M1311.5 523v3"/>
<path stroke="#ff7000" d="M1297.5 482v2M1298.5 479v2M1299.5 492v2M1300.5 520v3M1309.5 490v2M1310.5 494v1M1311.5 526v3"/>
<path stroke="#ff6000" d="M1297.5 484v3M1298.5 481v2M1299.5 494v2M1300.5 523v4M1309.5 492v2M1310.5 495v2M1311.5 529v4"/>
<path stroke="#ff5000" d="M1297.5 487v3M1298.5 483v1M1299.5 496v1M1300.5 527v3M1309.5 494v2M1310.5 497v3M1311.5 533v2"/>
<path stroke="#ff4000" d="M1297.5 490v3M1298.5 484v2M1299.5 497v2M1300.5 530v3M1309.5 496v3M1310.5 500v3"/>
<path stroke="#ff3000" d="M1297.5 493v4M1298.5 486v2M1299.5 499v2M1300.5 533v2M1309.5 499v4M1310.5 503v3"/>
<path stroke="#ff2000" d="M1297.5 497v3M1298.5 488v3M1299.5 501v2M1309.5 503v4M1310.5 506v2"/>
<path stroke="#ff1000" d="M1297.5 500v3M1297.5 523v12M1298.5 491v2M1299.5 503v2M1309.5 507v5M1310.5 508v4"/>
<path stroke="#ff0000" d="M1297.5 503v20M1298.5 493v3M1299.5 505v3M1309.5 512v17M1310.5 512v6"/>
<path stroke="#ef0000" d="M1298.5 496v2M1299.5 508v6M1309.5 529v6M1310.5 518v7"/>
<path stroke="#df0000" d="M1298.5 498v3M1299.5 514v6M1310.5 525v8"/>
<path stroke="#cf0000" d="M1298.5 501v2M1299.5 520v7M1310.5 533v2"/>
<path stroke="#bf0000" d="M1298.5 503v5M1299.5 527v8"/>
<path stroke="#af0000" d="M1298.5 508v27"/>
</g>
<rect x="911.54" y="528.5" width="0.7" height="6" fill="#000050"/>
<rect x="911.54" y="330.4" width="0.7" height="6" fill="#000050"/>
<rect x="986.92" y="528.5" width="0.7" height="6" fill="#000050"/>
<rect x="986.92" y="330.4" width="0.7" height="6" fill="#000050"/>
<rect x="1062.31" y="528.5" width="0.7" height="6" fill="#000050"/>
<rect x="1062.31" y="330.4" width="0.7" height="6" fill="#000050"/>
<rect x="1137.7" y="528.5" width="0.7" height="6" fill="#000050"/>
<rect x="1137.7" y="330.4" width="0.7" height="6" fill="#000050"/>
<rect x="1213.09" y="528.5" width="0.7" height="6" fill="#000050"/>
<rect x="1213.09" y="330.4" width="0.7" height="6" fill="#000050"/>
<rect x="1288.47" y="528.5" width="0.7" height="6" fill="#000050"/>
<rect x="1288.47" y="330.4" width="0.7" height="6" fill="#000050"/>
<rect x="1363.86" y="528.5" width="0.7" height="6" fill="#000050"/>
<rect x="1363.86" y="330.4" width="0.7" height="6" fill="#000050"/>
<text x="836.5" y="549.1" text-anchor="middle" font-size="12" >00:00</text>
<text x="911.89" y="549.1" text-anchor="middle" font-size="12" >03:00</text>
<text x="987.27" y="549.1" text-anchor="middle" font-size="12" >06:00</text>
<text x="1062.66" y="549.1" text-anchor="middle" font-size="12" >09:00</text>
<text x="1138.05" y="549.1" text-anchor="middle" font-size="12" >12:00</text>
<text x="1213.44" y="549.1" text-anchor="middle" font-size="12" >15:00</text>
<text x="1288.82" y="549.1" text-anchor="middle" font-size="12" >18:00</text>
<text x="1364.21" y="549.1" text-anchor="middle" font-size="12" >21:00</text>
<text x="1439.6" y="549.1" text-anchor="middle" font-size="12" >00:00</text>
<rect x="836.5" y="331.85" width="6" height="0.7" fill="#000050"/>
<rect x="1433.6" y="331.85" width="6" height="0.7" fill="#000050"/>
<text x="831.9" y="336.5" text-anchor="end" font-size="12" >22</text>
<rect x="836.5" y="348.45" width="6" height="0.7" fill="#000050"/>
<rect x="1433.6" y="348.45" width="6" height="0.7" fill="#000050"/>
<text x="831.9" y="353.1" text-anchor="end" font-size="12" >20</text>
<rect x="836.5" y="366.85" width="6" height="0.7" fill="#000050"/>
<rect x="1433.6" y="366.85" width="6" height="0.7" fill="#000050"/>
<text x="831.9" y="371.5" text-anchor="end" font-size="12" >18</text>
<rect x="836.5" y="387.35" width="6" height="0.7" fill="#000050"/>
<rect x="1433.6" y="387.35" width="6" height="0.7" fill="#000050"/>
<text x="831.9" y="392" text-anchor="end" font-size="12" >16</text>
<rect x="836.5" y="410.55" width="6" height="0.7" fill="#000050"/>
<rect x="1433.6" y="410.55" width="6" height="0.7" fill="#000050"/>
<text x="831.9" y="415.2" text-anchor="end" font-size="12" >14</text>
<rect x="836.5" y="437.45" width="6" height="0.7" fill="#000050"/>
<rect x="1433.6" y="437.45" width="6" height="0.7" fill="#000050"/>
<text x="831.9" y="442.1" text-anchor="end" font-size="12" >12</text>
<rect x="836.5" y="469.15" width="6" height="0.7" fill="#000050"/>
<rect x="1433.6" y="469.15" width="6" height="0.7" fill="#000050"/>
<text x="831.9" y="473.8" text-anchor="end" font-size="12" >10</text>
<rect x="836.5" y="487.55" width="6" height="0.7" fill="#000050"/>
<rect x="1433.6" y="487.55" width="6" height="0.7" fill="#000050"/>
<text x="831.9" y="492.2" text-anchor="end" font-size="12" >9</text>
<rect x="836.5" y="508.05" width="6" height="0.7" fill="#000050"/>
<rect x="1433.6" y="508.05" width="6" height="0.7" fill="#000050"/>
<text x="831.9" y="512.7" text-anchor="end" font-size="12" >8</text>
<rect x="836.5" y="531.35" width="6" height="0.7" fill="#000050"/>
<rect x="1433.6" y="531.35" width="6" height="0.7" fill="#000050"/>
<text x="831.9" y="536" text-anchor="end" font-size="12" >7</text>
<text transform="translate(810,432.45) rotate(-90)" text-anchor="middle" font-size="12.4" font-weight="bold">freq (mHz)</text>
<rect x="1458.5" y="330.4" width="24.9" height="204.1" fill="#800000"/>
<rect x="1458.5" y="333.59" width="24.9" height="200.91" fill="#8f0000"/>
<rect x="1458.5" y="336.78" width="24.9" height="197.72" fill="#9f0000"/>
<rect x="1458.5" y="339.97" width="24.9" height="194.53" fill="#af0000"/>
<rect x="1458.5" y="343.16" width="24.9" height="191.34" fill="#bf0000"/>
<rect x="1458.5" y="346.35" width="24.9" height="188.15" fill="#cf0000"/>
<rect x="1458.5" y="349.53" width="24.9" height="184.97" fill="#df0000"/>
<rect x="1458.5" y="352.72" width="24.9" height="181.78" fill="#ef0000"/>
<rect x="1458.5" y="355.91" width="24.9" height="178.59" fill="#ff0000"/>
<rect x="1458.5" y="359.1" width="24.9" height="175.4" fill="#ff1000"/>
<rect x="1458.5" y="362.29" width="24.9" height="172.21" fill="#ff2000"/>
<rect x="1458.5" y="365.48" width="24.9" height="169.02" fill="#ff3000"/>
<rect x="1458.5" y="368.67" width="24.9" height="165.83" fill="#ff4000"/>
<rect x="1458.5" y="371.86" width="24.9" height="162.64" fill="#ff5000"/>
<rect x="1458.5" y="375.05" width="24.9" height="159.45" fill="#ff6000"/>
<rect x="1458.5" y="378.24" width="24.9" height="156.26" fill="#ff7000"/>
<rect x="1458.5" y="381.42" width="24.9" height="153.08" fill="#ff8000"/>
<rect x="1458.5" y="384.61" width="24.9" height="149.89" fill="#ff8f00"/>
<rect x="1458.5" y="387.8" width="24.9" height="146.7" fill="#ff9f00"/>
<rect x="1458.5" y="390.99" width="24.9" height="143.51" fill="#ffaf00"/>
<rect x="1458.5" y="394.18" width="24.9" height="140.32" fill="#ffbf00"/>
<rect x="1458.5" y="397.37" width="24.9" height="137.13" fill="#ffcf00"/>
<rect x="1458.5" y="400.56" width="24.9" height="133.94" fill="#ffdf00"/>
<rect x="1458.5" y="403.75" width="24.9" height="130.75" fill="#ffef00"/>
<rect x="1458.5" y="406.94" width="24.9" height="127.56" fill="#ffff00"/>
<rect x="1458.5" y="410.13" width="24.9" height="124.37" fill="#efff10"/>
<rect x="1458.5" y="413.32" width="24.9" height="121.18" fill="#dfff20"/>
<rect x="1458.5" y="416.5" width="24.9" height="118" fill="#cfff30"/>
<rect x="1458.5" y="419.69" width="24.9" height="114.81" fill="#bfff40"/>
<rect x="1458.5" y="422.88" width="24.9" height="111.62" fill="#afff50"/>
<rect x="1458.5" y="426.07" width="24.9" height="108.43" fill="#9fff60"/>
<rect x="1458.5" y="429.26" width="24.9" height="105.24" fill="#8fff70"/>
<rect x="1458.5" y="432.45" width="24.9" height="102.05" fill="#80ff80"/>
<rect x="1458.5" y="435.64" width="24.9" height="98.86" fill="#70ff8f"/>
<rect x="1458.5" y="438.83" width="24.9" height="95.67" fill="#60ff9f"/>
<rect x="1458.5" y="442.02" width="24.9" height="92.48" fill="#50ffaf"/>
<rect x="1458.5" y="445.21" width="24.9" height="89.29" fill="#40ffbf"/>
<rect x="1458.5" y="448.4" width="24.9" height="86.1" fill="#30ffcf"/>
<rect x="1458.5" y="451.58" width="24.9" height="82.92" fill="#20ffdf"/>
<rect x="1458.5" y="454.77" width="24.9" height="79.73" fill="#10ffef"/>
<rect x="1458.5" y="457.96" width="24.9" height="76.54" fill="#00ffff"/>
<rect x="1458.5" y="461.15" width="24.9" height="73.35" fill="#00efff"/>
<rect x="1458.5" y="464.34" width="24.9" height="70.16" fill="#00dfff"/>
<rect x="1458.5" y="467.53" width="24.9" height="66.97" fill="#00cfff"/>
<rect x="1458.5" y="470.72" width="24.9" height="63.78" fill="#00bfff"/>
<rect x="1458.5" y="473.91" width="24.9" height="60.59" fill="#00afff"/>
<rect x="1458.5" y="477.1" width="24.9" height="57.4" fill="#009fff"/>
<rect x="1458.5" y="480.29" width="24.9" height="54.21" fill="#008fff"/>
<rect x="1458.5" y="483.48" width="24.9" height="51.02" fill="#0080ff"/>
<rect x="1458.5" y="486.66" width="24.9" height="47.84" fill="#0070ff"/>
<rect x="1458.5" y="489.85" width="24.9" height="44.65" fill="#0060ff"/>
<rect x="1458.5" y="493.04" width="24.9" height="41.46" fill="#0050ff"/>
<rect x="1458.5" y="496.23" width="24.9" height="38.27" fill="#0040ff"/>
<rect x="1458.5" y="499.42" width="24.9" height="35.08" fill="#0030ff"/>
<rect x="1458.5" y="502.61" width="24.9" height="31.89" fill="#0020ff"/>
<rect x="1458.5" y="505.8" width="24.9" height="28.7" fill="#0010ff"/>
<rect x="1458.5" y="508.99" width="24.9" height="25.51" fill="#0000ff"/>
<rect x="1458.5" y="512.18" width="24.9" height="22.32" fill="#0000ef"/>
<rect x="1458.5" y="515.37" width="24.9" height="19.13" fill="#0000df"/>
<rect x="1458.5" y="518.55" width="24.9" height="15.95" fill="#0000cf"/>
<rect x="1458.5" y="521.74" width="24.9" height="12.76" fill="#0000bf"/>
<rect x="1458.5" y="524.93" width="24.9" height="9.57" fill="#0000af"/>
<rect x="1458.5" y="528.12" width="24.9" height="6.38" fill="#00009f"/>
<rect x="1458.5" y="531.31" width="24.9" height="3.19" fill="#00008f"/>
<rect x="1458.5" y="330.15" width="24.9" height="0.5" fill="#555"/>
<rect x="1458.5" y="534.25" width="24.9" height="0.5" fill="#555"/>
<rect x="1458.25" y="330.4" width="0.5" height="204.1" fill="#555"/>
<rect x="1483.15" y="330.4" width="0.5" height="204.1" fill="#555"/>
<text x="1486.6" y="538.8" text-anchor="start" font-size="12" >-2</text>
<rect x="1458.5" y="500.18" width="2.5" height="0.6" fill="#222"/>
<rect x="1480.9" y="500.18" width="2.5" height="0.6" fill="#222"/>
<text x="1486.6" y="504.78" text-anchor="start" font-size="12" >-1</text>
<rect x="1458.5" y="466.17" width="2.5" height="0.6" fill="#222"/>
<rect x="1480.9" y="466.17" width="2.5" height="0.6" fill="#222"/>
<text x="1486.6" y="470.77" text-anchor="start" font-size="12" >0</text>
<rect x="1458.5" y="432.15" width="2.5" height="0.6" fill="#222"/>
<rect x="1480.9" y="432.15" width="2.5" height="0.6" fill="#222"/>
<text x="1486.6" y="436.75" text-anchor="start" font-size="12" >1</text>
<rect x="1458.5" y="398.13" width="2.5" height="0.6" fill="#222"/>
<rect x="1480.9" y="398.13" width="2.5" height="0.6" fill="#222"/>
<text x="1486.6" y="402.73" text-anchor="start" font-size="12" >2</text>
<rect x="1458.5" y="364.12" width="2.5" height="0.6" fill="#222"/>
<rect x="1480.9" y="364.12" width="2.5" height="0.6" fill="#222"/>
<text x="1486.6" y="368.72" text-anchor="start" font-size="12" >3</text>
<text x="1486.6" y="334.7" text-anchor="start" font-size="12" >4</text>
<text transform="translate(1518.8,432.75) rotate(-90)" text-anchor="middle" font-size="12.4" font-weight="bold">log<tspan font-size="10.3" dy="6">2</tspan><tspan dy="-6">(nT</tspan><tspan font-size="10.3" dy="-5.7">2</tspan><tspan dy="5.7">/Hz)</tspan></text>
<g>
<path d="M45 701.7v4.3m1.5-4.3v7m3.5-11.1v4.1m5 0v7m9-10.8v3.8m7.5 0v4.8m.5-8.7v3.9m20 0v6.2m3.5-6.2v8.3m1-8.3v8m1.5-8v8m5-8v6.6m4.5-12.7v6.1m5-6.3v6.3m5.5-6.3v6.3m.5 0v7.4m6-12.5v5.1m1 0v5.8m2.5-5.8v7.7m2.5-12v4.3m1 0v8.2m1.5-14.9v6.7m2 0v6.7m1-6.7v9.2m2-15.2v6m11.5-6.8v6.8m1 0v11m3.5-16.8v5.8m2.5 0v10.2m1-15.9v5.7m2-9.7v9.7m4.5 0v7.7m1.5-7.7v6.9m3-12.5v5.6m3 0v10.6m1.5-18.1v7.5m1-9v9m1.5 0v8.6m11.5-8.6v14.5m1-14.5v16.6m3.5-24.8v8.2m1.5 0v9.7m5-9.7v12.5m.5-22.9v10.4m5 0v10.5m1.5-23.4v12.9m6 0v13.7m3.5-13.7v10.6m2.5-10.6v18.6m5-18.6v23m3-23v17.5m1.5-31v13.5m.5-19.9v19.9m3-15.8v15.8m2.5 0v14.2m1.5-30.6v16.4m1.5-12.5v12.5m1-18.2v18.2m2.5 0v21.8m1-41.4v19.6m2.5 0v20.4m2.5-36.4v16m1.5-19.3v19.3m9 0v20.5m1.5-41.1v20.6m1-19.2v19.2m4.5-13.3v13.3m4-17.9v17.9m6 0v15.3m7.5-37.3v22m1-19.1v19.1m2-17.8v17.8m2-17.7v17.7m.5 0v26.4m12-44.3v17.9m12.5 0v21.3m3-21.3v12.9m11-12.9v19.8m1-19.8v15.9m1-15.9v15.5m7-26.7v11.2m.5 0v16.3m6.5-26.7v10.4m2.5 0v15.4m1-15.4v17.1m2-33.5v16.4m5-13.4v13.4m10.5-15.3v15.3m2-15.2v15.2m2.5 0v10.3m6-10.3v10.9m6-10.9v16.3m5-16.3v11.7m.5-11.7v17.3m1-32.6v15.3m1.5-9.7v9.7m1.5 0v14.3m2.5-26.7v12.4m.5-10.9v10.9m12 0v18.4m2.5-18.4v19.5m3.5-19.5v19.8m3-33v13.2m.5-17v17m3-12.2v12.2m5.5 0v21.1m5.5-21.1v21m3.5-21v14.1m1.5-14.1v22.7m.5-22.7v24.1m3-24.1v15.1m.5-15.1v13.7m1.5-13.7v9.7m2-9.7v12.5m11.5-25.7v13.2m1.5-13v13m7-12.9v12.9m5.5 0v14.7m8-14.7v11.4m18-11.4v12.5m.5-19.8v7.3m.5 0v11m1.5-11v9.9m2-9.9v10.9m.5-10.9v10.8m1.5-10.8v7.9m.5-7.9v7.3m4.5-19v11.7m2.5-16.3v16.3m.5-16.8v16.8m6-12.3v12.3m8.5 0v15.9m6.5-31.5v15.6m5.5-16.9v16.9m3.5-10v10m.5 0v16.5m5.5-26v9.5m6.5-6.7v6.7m6 0v13.4m8-13.4v6.5m.5-6.5v9.3m1-9.3v6.7m1.5-12.5v5.8m1-6.3v6.3m.5-8.5v8.5m3.5-8.6v8.6m2.5-5.3v5.3m.5 0v5.5m6-12.6v7.1m4 0v6.8m1-11.9v5.1m4.5-5.7v5.7m1.5 0v5m.5-5v5m1.5-5v7.2m3-13.6v6.4m1.5 0v6.2m1-6.2v9m3.5-16.5v7.5m1-7.3v7.3m5-4.5v4.5m2.5 0v4.4m3-4.4v5.4m20-5.4v3.8m.5-7.8v4m.5-3.4v3.4m2.5 0v6.3" stroke="#0000ff" stroke-opacity="0.4" stroke-width="0.6" fill="none"/>
<path d="M44 699.3v4.7m.5-4.5v4.3m.5-4.3v4.6m.5-5v5.6m.5-7.8v9.9m.5-8.4v6.6m.5-6.9v8.2m.5-7.4v6.2m.5-5.6v5.1m.5-7.3v9.6m.5-7.4v4.7m.5-4.7v4.3m.5-4.3v4.3m.5-4.3v4.3m.5-4.3v4.3m.5-4.5v5.6m.5-6v6.9m.5-6.3v4.6m.5-4.6v4.3m.5-4.3v4.3m.5-4.3v4.6m.5-5.3v6.3m.5-6v5.5m.5-7.3v9.2m.5-8.5v8.7m.5-9.1v9.6m.5-10.1v10.9m.5-11.5v10.7m.5-11.1v12.1m.5-11.4v9.4m.5-9.5v10m.5-10.2v11m.5-9.5v8.3m.5-8.7v8m.5-7.5v7.9m.5-7v6.3m.5-6.1v6.2m.5-5.9v4.3m.5-4.3v4.3m.5-4.7v4.9m.5-4.9v6.4m.5-7.4v7.8m.5-7.4v7.3m.5-8.6v10.5m.5-10.6v9.3m.5-7.9v6.3m.5-6.5v7.3m.5-8.4v8.3m.5-9.6v12.6m.5-11.7v10m.5-9.6v9.1m.5-6.8v4.3m.5-4.7v5.3m.5-4.9v4.3m.5-4.3v4.3m.5-5v6m.5-7.1v7.8m.5-7.7v9.6m.5-9.3v8.7m.5-10.8v10.7m.5-9.2v8.7m.5-8.7v9.3m.5-9v8.8m.5-8.8v8.1m.5-6.4v5.4m.5-5.4v4.5m.5-4.5v4.3m.5-4.3v4.5m.5-4.5v4.6m.5-4.6v4.6m.5-4.6v4.7m.5-6.9v8.3m.5-6.2v5.1m.5-5v4.3m.5-4.3v4.3m.5-4.3v4.3m.5-4.3v4.3m.5-4.6v5.5m.5-5.3v4.7m.5-5.5v6m.5-5.5v6m.5-5.6v4.6m.5-4.6v4.3m.5-4.3v4.3m.5-4.3v4.8m.5-4.8v4.6m.5-5v5.6m.5-6.5v7.8m.5-6.5v4.3m.5-4.3v4.3m.5-4.3v4.3m.5-4.3v4.3m.5-4.3v4.8m.5-4.8v4.7m.5-5v5.3m.5-5.2v5.1m.5-5.3v5.2m.5-5.9v6.3m.5-5.8v5.8m.5-5.2v4.6m.5-4.6v4.3m.5-5.2v6.1m.5-5.7v5.9m.5-5.6v4.6m.5-5.4v8.2m.5-8.1v6.7m.5-6.6v5.6m.5-6.4v7.7m.5-6.1v4.5m.5-4.5v4.3m.5-5v6.5m.5-5.8v4.6m.5-4.8v5.1m.5-4.9v4.3m.5-4.3v4.3m.5-4.4v4.7m.5-4.6v4.3m.5-4.3v4.3m.5-4.3v4.3m.5-5.1v6.4m.5-6.9v7.3m.5-6.9v7.2m.5-8.6v8.7m.5-9.2v10.7m.5-11.4v10.4m.5-8.3v7.9m.5-8.4v8.4m.5-8.7v9.5m.5-9.2v8.7m.5-6.8v4.4m.5-5.1v6.8m.5-6.6v5.8m.5-5.3v4.3m.5-4.3v4.7m.5-5.7v6.6m.5-9.1v10.5m.5-8.4v7.5m.5-7.1v6.9m.5-7.3v7.9m.5-8.1v8.6m.5-8.7v9.7m.5-9.8v8.8m.5-7.6v6.8m.5-6.4v5.5m.5-5.6v4.9m.5-4.8v4.7m.5-4.5v4.3m.5-4.3v4.3m.5-4.3v4.8m.5-4.9v5.1m.5-6.3v8.5m.5-8v7.2m.5-6.5v5.3m.5-6.6v9.4m.5-9.1v7.8m.5-8.4v7.2m.5-6.1v5.8m.5-5.2v4.7m.5-4.7v4.3m.5-4.3v4.5m.5-4.5v4.3m.5-4.8v5.8m.5-6.7v8.4m.5-8.3v6.8m.5-6.4v6.7m.5-6.5v6.1m.5-7.4v8.4m.5-7.8v7.1m.5-7.3v7.7m.5-9v12.4m.5-13.6v13m.5-11.7v9.3m.5-7.8v8.6m.5-7.3v4.3m.5-5.2v6.7m.5-7.3v7.9m.5-10.9v13.2m.5-12.6v11.5m.5-11.9v13.8m.5-11.7v10.2m.5-9.3v8.3m.5-7v4.3m.5-4.9v5.5m.5-6.8v8.6m.5-10.3v10.8m.5-8.1v6.4m.5-6v5.9m.5-7.2v9.8m.5-10.5v9.9m.5-8.9v9m.5-8.9v7.6m.5-7.8v8m.5-7.7v7.3m.5-7.8v8.8m.5-7.3v5.6m.5-5.3v4.3m.5-4.3v4.3m.5-4.3v4.4m.5-4.4v4.3m.5-4.5v5m.5-5.8v6.5m.5-5.5v4.3m.5-4.3v4.7m.5-5v6.1m.5-5.8v4.8m.5-4.8v5.2m.5-7.1v8.5m.5-8.6v8.5m.5-9.7v12.5m.5-12.1v11.9m.5-13v12.5m.5-8.6v4.5m.5-6.9v9.4m.5-7v4.7m.5-4.7v5m.5-5v4.9m.5-5.2v4.9m.5-5.6v7.4m.5-6.9v5.1m.5-5.8v8.6m.5-8.3v5.9m.5-7.2v8.3m.5-8.8v10.3m.5-10v9.2m.5-8v8.1m.5-6.9v4.3m.5-5.7v7.3m.5-8v9.5m.5-9.8v9m.5-9.4v10.7m.5-9.4v7.8m.5-9.6v11.2m.5-9.4v7.6m.5-6.1v4.3m.5-4.5v5m.5-5v4.8m.5-4.6v5.2m.5-5.4v5m.5-7.1v9.9m.5-9v8.6m.5-9v7.9m.5-6.1v4.3m.5-4.7v6.5m.5-6.4v6.5m.5-7v6.7m.5-7.6v8.2m.5-6.5v4.3m.5-5.4v7m.5-8.6v10.4m.5-12.5v14m.5-11.9v10.7m.5-9.1v6.8m.5-6.7v7.9m.5-7.9v8.1m.5-9.9v10.9m.5-10.1v8.2m.5-8.5v9.8m.5-13.5v15.8m.5-15.2v14.4m.5-12v10.4m.5-11.3v11.1m.5-8.9v9.5m.5-8v5.2m.5-6.8v9.3m.5-11.4v13.5m.5-13.4v11.7m.5-9.1v6.2m.5-7.5v9.9m.5-9.7v11.4m.5-13.8v16.1m.5-15.4v13.4m.5-12.2v10.1m.5-9.4v9m.5-9.2v9.1m.5-9.6v10.9m.5-10.2v8.6m.5-7.5v8.1m.5-8.9v9m.5-11.9v13.5m.5-11.1v9.2m.5-9.7v12m.5-11.6v9.9m.5-7.8v5.1m.5-5v5.9m.5-6.7v6.9m.5-9.9v13m.5-12.4v12.3m.5-9v5.1m.5-6.5v8.8m.5-12.9v17.1m.5-17.9v17m.5-13.4v10.6m.5-10.5v11m.5-12.4v12.9m.5-12.3v11.2m.5-8.4v6.6m.5-5.9v4.5m.5-5.6v7m.5-8.7v11m.5-9.2v6.7m.5-12.2v18.8m.5-19.7v20.8m.5-17.9v14m.5-13v14.6m.5-11.6v6.1m.5-5.6v4.9m.5-6.7v8.5m.5-7.5v6m.5-10.6v15.5m.5-16.9v19.6m.5-18.5v19.6m.5-21.8v22.1m.5-23.1v22.6m.5-20.4v17.5m.5-15.1v12.8m.5-14.1v16.2m.5-15.1v15m.5-11.5v7.3m.5-7.2v7.5m.5-8.4v8.3m.5-8.8v10.8m.5-9.2v5.8m.5-11.8v19.2m.5-17.7v14.1m.5-13v12.1m.5-8.5v5.2m.5-8.8v14.2m.5-14.3v14.5m.5-15.4v15.1m.5-17.1v20.2m.5-20.1v21.2m.5-22.4v22.3m.5-17.5v11.5m.5-9.1v6.5m.5-9v12.5m.5-12.6v11.4m.5-12.9v15.9m.5-19.3v23.1m.5-22.6v21.4m.5-18.9v15.2m.5-14.1v13m.5-13.1v15.9m.5-16.1v14.3m.5-10v5.7m.5-8.1v9.8m.5-9.2v11m.5-16.2v19.3m.5-19.7v22.8m.5-23.6v26.2m.5-27.6v26.7m.5-18.6v9.3m.5-10.5v11.9m.5-14.2v17.8m.5-16.2v13.5m.5-13.5v14.5m.5-11v5.7m.5-5.4v4.7m.5-7.4v11.5m.5-15.7v19.3m.5-19.7v20.7m.5-19v17.8m.5-14.5v11.3m.5-19.7v24.8m.5-21.7v21.7m.5-19.9v17.3m.5-21v24.8m.5-25.2v30.7m.5-28.1v20.7m.5-20.7v17.2m.5-15.1v16.1m.5-12.1v7.3m.5-10.7v16.6m.5-23.2v26.8m.5-19.5v14.2m.5-15.2v17.1m.5-20.4v25m.5-22.6v17.9m.5-13.9v8.9m.5-11.9v14.1m.5-10.1v5.9m.5-6.3v7.8m.5-6.7v5.5m.5-8.5v12.8m.5-10.1v6m.5-11.3v15.1m.5-10.8v8.4m.5-8.1v6.8m.5-6.9v7.1m.5-12.9v19m.5-20v22.7m.5-22.4v20.8m.5-23.2v24.4m.5-27v31.3m.5-26.5v23.6m.5-26.4v26.8m.5-23.4v17.5m.5-16.4v16.9m.5-21.2v26.5m.5-27.4v30.2m.5-28.5v28.8m.5-32.3v31m.5-28.4v31.1m.5-31v28.1m.5-25.6v21.3m.5-15.2v8.8m.5-13.4v17.6m.5-16.3v16.5m.5-17.4v16.4m.5-13.4v11.1m.5-9.7v8.8m.5-11.6v14.2m.5-14.7v17.7m.5-20.3v18.4m.5-16.3v18m.5-13.5v7.1m.5-11.6v17.2m.5-16.7v15.2m.5-15.7v15.1m.5-16.3v18.1m.5-16.4v16.9m.5-20.8v22m.5-19.3v16.8m.5-22.4v32.3m.5-35.2v33.5m.5-27.2v22.2m.5-26v30.3m.5-26.2v22.2m.5-25.5v27.6m.5-23.6v22.8m.5-21.8v18.7m.5-16.1v12.2m.5-18.6v24.2m.5-19.7v18.6m.5-24.4v31.6m.5-24v15.2m.5-17.9v18m.5-14.6v11m.5-15.9v24.7m.5-25.2v25.9m.5-28.1v25.1m.5-24.9v31.9m.5-32.2v29.8m.5-28.5v25.9m.5-23.7v19m.5-14.4v10.4m.5-15.3v19.8m.5-22.6v26.1m.5-19.9v13.4m.5-14.9v19.6m.5-26.4v29.9m.5-24.9v23.1m.5-19.2v11.5m.5-14.1v16.8m.5-14.6v13.2m.5-13v15.3m.5-16.6v16.8m.5-13.6v11m.5-15.3v17.7m.5-16.3v15.7m.5-15.2v12.3m.5-14.7v19.6m.5-19.6v18.4m.5-14.7v12.5m.5-9.4v4.7m.5-10.2v14.9m.5-17.9v24.6m.5-21.3v16.2m.5-14.1v10.7m.5-8.6v6.2m.5-8.2v11.5m.5-10.4v8.1m.5-10v11.3m.5-16.5v22m.5-23.8v31m.5-29.7v30.7m.5-31.2v28.7m.5-31.8v33.2m.5-35.8v38m.5-33.9v34.9m.5-33v25.4m.5-29v30.1m.5-20.1v13m.5-16.9v20.3m.5-17.7v14.4m.5-19.3v27.7m.5-25.9v19.6m.5-17.3v16.8m.5-16.3v16.8m.5-14.3v9.8m.5-9.2v8.8m.5-14.3v19m.5-19.4v22.9m.5-23v24.5m.5-19.7v13.6m.5-17.1v18.7m.5-20.9v21.8m.5-18.8v19.2m.5-15v8.6m.5-7.2v4.4m.5-6v8.6m.5-9.5v10.7m.5-8.1v5.1m.5-11.3v17.5m.5-18.7v19.1m.5-16.4v13.9m.5-11.9v11.6m.5-11.3v9.5m.5-11.3v14.1m.5-12v9m.5-14.3v21.5m.5-21.7v21.4m.5-17.3v14m.5-12.8v10.1m.5-11v13m.5-11.7v9.3m.5-11.5v12.4m.5-10.4v8.9m.5-7.2v6.1m.5-7.5v9.3m.5-11.9v14.7m.5-18v20.8m.5-20.3v18.2m.5-15.5v15.6m.5-13.5v10.3m.5-12.4v14m.5-13.8v12.8m.5-13.6v14.4m.5-18.4v21.4m.5-15.3v12.1m.5-12v10.7m.5-8.6v7.1m.5-8.3v8.9m.5-7.8v6.6m.5-10.4v16m.5-21v24.4m.5-19.3v14.9m.5-12.8v10.3m.5-11.4v13.3m.5-14.6v14.9m.5-15.4v17.5m.5-15.9v12.1m.5-13.4v15.7m.5-14.6v13.7m.5-15v15.9m.5-15.4v15.4m.5-13.5v10.5m.5-8.7v7.9m.5-7.7v6.2m.5-5.3v5m.5-10.7v18.1m.5-21.7v22.5m.5-23.3v25.5m.5-23.5v24.3m.5-22.4v18.4m.5-14.4v9.3m.5-11.4v16.6m.5-16.8v13.7m.5-11v8.8m.5-9.2v9.6m.5-12.5v17.5m.5-19.1v19.2m.5-18.1v15.3m.5-12.3v12.1m.5-13.6v14m.5-10v4.7m.5-4.6v4.9m.5-8.9v13.8m.5-14.1v14.7m.5-15.8v18.6m.5-20.2v22m.5-18.2v11.7m.5-14.9v18.1m.5-17.2v17.4m.5-14.8v10.8m.5-13.3v18m.5-16.8v15.7m.5-19.3v20.5m.5-21.4v23.3m.5-17.2v11.4m.5-13.3v15.6m.5-16.2v15.9m.5-12.8v9.1m.5-9.6v11.2m.5-11v8.2m.5-6.7v6.5m.5-8.4v10.2m.5-8v5.7m.5-5.6v6.1m.5-5.7v4.8m.5-8.9v13.3m.5-13.9v13.5m.5-9.9v6.8m.5-12.4v20.1m.5-18.2v14.5m.5-14.2v13.8m.5-12v9.3m.5-8.4v8.7m.5-11.9v16.9m.5-18.2v19.3m.5-22.1v24.2m.5-20.5v14.8m.5-18.8v27.2m.5-25.9v25.2m.5-25.6v24.5m.5-23.3v23m.5-26.8v25.6m.5-18.4v13.5m.5-14.2v14.8m.5-11.7v8.8m.5-10.6v12.1m.5-9.6v6.2m.5-6.2v6.1m.5-10.5v16m.5-15.3v12.3m.5-7.8v4.3m.5-7.5v13.2m.5-14.4v13.9m.5-14.8v17.9m.5-16.9v13.9m.5-13.5v13.5m.5-17.2v20.1m.5-17.3v12.9m.5-11.9v13m.5-11.5v9.7m.5-9.3v10m.5-8.8v6.5m.5-8v10.1m.5-13.8v16.3m.5-16.9v18.6m.5-18.3v17.2m.5-16.5v17.9m.5-15.5v11.7m.5-11.1v9.8m.5-9.4v8.9m.5-8.4v7.9m.5-6.9v6.9m.5-9.6v10.2m.5-8.8v7.8m.5-7.8v8.4m.5-6.6v5.8m.5-8.3v10.4m.5-12.2v13.7m.5-15.3v19.8m.5-16.7v9.9m.5-13v19.9m.5-24.9v28.7m.5-27.9v26.6m.5-26.4v25.8m.5-22.8v19.5m.5-15v10.4m.5-14v18m.5-11.9v5.3m.5-11.1v14.9m.5-13.9v16.2m.5-17v18.4m.5-18.2v17.3m.5-16v12.5m.5-14.7v19.8m.5-16v9.8m.5-9.8v9.9m.5-12.2v14.4m.5-12.9v12m.5-15.6v19.2m.5-18.7v16.7m.5-17.9v23.8m.5-21.8v16.1m.5-16.2v16.9m.5-18.8v24.4m.5-22.3v14.2m.5-10.4v7.6m.5-10.9v15.6m.5-14.2v11.8m.5-14.1v18.3m.5-18.3v15.2m.5-9.7v5.4m.5-6.4v7.9m.5-10.4v12.5m.5-11.4v11.4m.5-13.2v14.7m.5-12.1v10m.5-11.8v11.8m.5-10.9v11.9m.5-13.5v13.8m.5-12.4v10.3m.5-7.2v4.3m.5-7.4v13.2m.5-14.6v14.4m.5-13.1v11.2m.5-10.7v11.1m.5-11v8.9m.5-11.7v15.4m.5-12.7v10.3m.5-9.2v8.4m.5-8.5v7.5m.5-6.7v7.8m.5-11.6v13.7m.5-15.8v18.1m.5-21.4v24.7m.5-24.9v23m.5-22.3v26.9m.5-27.9v29.4m.5-31.4v30.2m.5-30.1v28.2m.5-19.8v13.5m.5-11.4v9.6m.5-12.4v16.9m.5-14.2v9.1m.5-12.7v14.3m.5-13.7v15.8m.5-19.2v26m.5-27.9v25.1m.5-20.1v18.4m.5-24.6v31.1m.5-28.5v21.6m.5-15.4v10.4m.5-13.8v15.6m.5-17v22.4m.5-30.1v37.4m.5-31.4v26.9m.5-30.8v32m.5-26.8v22.4m.5-19.9v15.3m.5-12.3v9.8m.5-9.9v12.4m.5-16.4v18.6m.5-15.9v12.2m.5-9.3v6.7m.5-13.8v22.5m.5-23.3v23.2m.5-23.2v21.5m.5-19.8v21.8m.5-22.2v20.5m.5-18.6v16.3m.5-20.3v25.4m.5-18.4v10.4m.5-11.2v12.4m.5-13.9v15.7m.5-16v16.2m.5-18.2v20.4m.5-18.6v14.3m.5-20.3v29.9m.5-32.4v32.3m.5-31.4v30.1m.5-23.7v18.8m.5-20.7v24.3m.5-21.7v20.2m.5-20.2v17.9m.5-15.3v13.5m.5-11v6.8m.5-10.4v14.3m.5-13.4v11.9m.5-11.5v13m.5-13v11m.5-9v7.8m.5-10.4v13.2m.5-13.9v14.4m.5-16.2v17.2m.5-18.3v19.1m.5-18.2v18.5m.5-18.3v20.4m.5-19.2v15m.5-16.2v16.9m.5-16.9v21.2m.5-20.1v16m.5-16.8v15.9m.5-12.4v9.7m.5-10.8v14.2m.5-14.9v13.6m.5-11.1v7.7m.5-9v12.3m.5-10.9v7.4m.5-12.1v18.7m.5-21.4v24m.5-25.2v28.3m.5-26.3v22.2m.5-20.8v20.6m.5-22.8v22.2m.5-16.9v13m.5-12.7v10.9m.5-14.6v22.5m.5-28.7v32.5m.5-27.4v24.3m.5-28v26m.5-18.2v13.7m.5-13.7v13.2m.5-18.8v23.8m.5-16.3v10.5m.5-8.2v4.4m.5-7.9v12.6m.5-10v7.1m.5-9.7v12.3m.5-11.9v12.3m.5-11.2v9.2m.5-7.3v4.8m.5-5.5v6.7m.5-8.6v10.3m.5-8.9v7.7m.5-9.4v11.4m.5-13.1v13.5m.5-8.8v4.3m.5-5.3v6.7m.5-5.7v4.3m.5-4.5v4.9m.5-5.3v6.1m.5-9.4v13m.5-10.7v8.3m.5-6.7v4.7m.5-6.9v9.4m.5-15v19.4m.5-19v19.5m.5-15.8v12.3m.5-10.6v9.1m.5-11.4v13.5m.5-11.2v7.6m.5-6.2v5.9m.5-6.2v5.8m.5-6.7v8.3m.5-11.2v15.1m.5-13.6v13.3m.5-16v16.4m.5-17.7v19.8m.5-18.8v20.9m.5-22v18.7m.5-14.3v10.7m.5-7.9v4.4m.5-4.3v4.3m.5-4.7v5.3m.5-6.5v7.8m.5-8.3v9.8m.5-9.8v9.7m.5-11.2v11.2m.5-9v8.2m.5-10.4v12m.5-11.2v12.3m.5-12.2v11m.5-14.5v16.8m.5-12.8v10.3m.5-12.5v15.5m.5-14v10.7m.5-8.6v6.2m.5-9.2v12.6m.5-12.6v12.1m.5-15.1v18.1m.5-18.6v19.2m.5-18.1v18.6m.5-16v12.3m.5-10v7.1m.5-6.2v6.1m.5-7.5v7.5m.5-8.3v9.3m.5-10.9v12.6m.5-9.6v7.8m.5-7.8v7m.5-10.6v12.9m.5-12.2v13.4m.5-9.3v5.2m.5-5.8v6.2m.5-6.2v6.4m.5-5.8v4.3m.5-5.8v7.4m.5-8.7v10m.5-9.2v8.8m.5-6.8v4.4m.5-4.9v5.1m.5-4.6v4.3m.5-8.4v13.2m.5-9.4v5.7m.5-8.5v9.8m.5-9.1v10.6m.5-10.6v10.2m.5-8.8v6.6m.5-7.2v7.3m.5-11.3v15m.5-9.8v5.4m.5-10.8v16.7m.5-15.4v14.9m.5-15.1v14.5m.5-17v18.3m.5-17.2v17.4m.5-18.5v17.9m.5-17.3v18.4m.5-15.6v13m.5-12.4v11.4m.5-9.4v7.4m.5-6.9v6.1m.5-5.4v5.6m.5-6.2v6m.5-7.4v9.2m.5-7.5v5m.5-5v5.1m.5-5.4v5.3m.5-8v10.7m.5-12.3v15.7m.5-13.4v10.5m.5-7.9v4.5m.5-4.5v4.9m.5-5.1v5.8m.5-5.6v4.3m.5-4.3v4.7m.5-5.7v7m.5-7.2v7.8m.5-8.3v9m.5-7.6v5m.5-5.5v6.4m.5-5.9v4.8m.5-5.8v7.7m.5-6.9v6m.5-7.1v8m.5-6.4v4.3m.5-4.3v4.3m.5-5.1v5.5m.5-9.9v14.3m.5-9.5v6.1m.5-8.4v9.5m.5-12.9v17.5m.5-20.5v23m.5-18.5v15.4m.5-14.8v15.2m.5-12v5.6m.5-6.8v7.9m.5-7.3v7.3m.5-9.9v12.9m.5-12.2v10.3m.5-10.5v12.8m.5-12.3v10.9m.5-12.5v16.5m.5-18.9v19m.5-13.7v8.7m.5-8.4v7.9m.5-8.5v8m.5-6v5.1m.5-10.9v16.2m.5-13.4v10.9m.5-13.1v14.4m.5-16.2v18.3m.5-18.8v20m.5-24v27.1m.5-25.1v22.3m.5-23.7v24.4m.5-25.2v26.4m.5-24.6v28.4m.5-28.2v24.8m.5-26.6v29.7m.5-26.3v21.4m.5-22.3v24.7m.5-21.2v18.6m.5-18.7v15.5m.5-13.2v11.5m.5-11.8v12.3m.5-13.2v14.3m.5-14v12.5m.5-13v15.1m.5-16.1v17.3m.5-16.1v16.3m.5-16.5v14.7m.5-11.6v8.7m.5-8.9v8m.5-8.1v10.5m.5-11.1v10.4m.5-11.4v10.2m.5-8.6v8.2m.5-8.2v8.7m.5-7.7v6.6m.5-6.7v6.9m.5-9.4v13.4m.5-11.1v7.1m.5-8.2v10.3m.5-8v4.9m.5-7.4v9.6m.5-11.3v12.7m.5-14.4v16m.5-16.7v18.8m.5-22v25.5m.5-23.5v22.8m.5-20.2v15.7m.5-16.7v18.1m.5-17.3v17.7m.5-18v18.1m.5-18.2v19.4m.5-17v11.6m.5-13v14.7m.5-17.1v21.7m.5-20.2v16.6m.5-12.7v8.5m.5-6.7v4.6m.5-5v5.8m.5-5.4v4.6m.5-4.9v5.9m.5-6.9v8.8m.5-9.2v8.4m.5-11.2v13.3m.5-12.2v12.2m.5-13v15.3m.5-17.9v16.8m.5-15.7v14.8m.5-13.9v16.2m.5-15.2v14.1m.5-12.7v9.4m.5-7.4v6.4m.5-6v5.7m.5-7.4v9.5m.5-8v5.3m.5-8.2v9.8m.5-10.3v11m.5-8.6v7.4m.5-7.9v7.5m.5-10.1v11.9m.5-11.6v12.8m.5-12.3v10.9m.5-9.8v9.8m.5-11.1v12.7m.5-11.7v11.7m.5-12.4v10.8m.5-7.9v6.6m.5-7.6v8.4m.5-7.3v5.7m.5-6.6v7.8m.5-8.5v10.6m.5-10.8v9.7m.5-12v13.4m.5-12.7v12.6m.5-14.5v16.6m.5-17.6v16.6m.5-16.2v17.6m.5-16.4v15.6m.5-13v11.7m.5-12.8v11.7m.5-13.1v15.6m.5-14.4v11.5m.5-8.9v7.5m.5-9.4v11.1m.5-12.9v13m.5-11.1v11.2m.5-10.1v9m.5-9.7v9.4m.5-7.4v5.2m.5-4.6v4.3m.5-4.3v4.3m.5-4.3v4.8m.5-4.8v4.3m.5-4.3v4.4m.5-4.4v4.5m.5-4.5v4.4m.5-5.1v5.4m.5-4.7v5.1m.5-5.1v4.3m.5-5v6m.5-5.9v5.2m.5-5.1v5m.5-4.5v4.3m.5-4.4v4.6m.5-5.4v6.3m.5-5.4v4.3m.5-4.3v4.3m.5-6.3v7.8m.5-7.4v7.7m.5-6.9v6.6m.5-6.2v6.1m.5-5.7v4.3m.5-4.3v4.3m.5-4.3v4.3m.5-4.3v4.3m.5-4.3v4.3m.5-5.5v6.3m.5-6.5v7.6m.5-6.2v4.4m.5-5.3v6.7m.5-6v4.8m.5-4.6v4.3m.5-4.6v5.2m.5-5.7v6.4m.5-8.2v9.8m.5-11.1v13.8m.5-14.3v14.5m.5-14.2v14.1m.5-12.1v9.3m.5-9.5v10m.5-9.9v8.9m.5-6.7v4.3m.5-4.3v4.3m.5-4.3v4.3m.5-4.3v4.3m.5-5.5v7.6m.5-9.7v11m.5-9.2v8m.5-6.9v5.5m.5-5.3v4.8m.5-5.1v5.5m.5-6.5v6.9m.5-7.1v8.5m.5-7.8v7m.5-6v4.3m.5-4.3v5.4m.5-8.5v10.5m.5-7.4v4.7m.5-5v5.3m.5-5.8v6.8m.5-7v7.2m.5-7.2v7.2m.5-6.2v4.8m.5-7v8.7m.5-8.7v10.3m.5-11.1v11.6m.5-11.8v11.5m.5-11.9v12.9m.5-11.9v10.7m.5-11.7v11.3m.5-11.3v12.5m.5-11v7.9m.5-5.8v4.3m.5-4.8v6.2m.5-7v6.6m.5-5.6v6.2m.5-7.4v7.9m.5-8v9.4m.5-9.9v8.9m.5-10v10.5m.5-10.7v12.7m.5-12.3v10.3m.5-10v10.5m.5-8.7v6.9m.5-6.3v6m.5-5.7v4.6m.5-4.7v4.7m.5-4.6v4.3m.5-5.1v5.8m.5-7.6v10.3m.5-9.2v8.8m.5-9.6v9.1m.5-7.8v6.7m.5-7.8v8.6m.5-8.6v9.3m.5-7.3v5.1m.5-5v4.3m.5-4.3v4.3m.5-4.3v4.3m.5-4.3v4.3m.5-4.3v4.4m.5-5v5.3m.5-4.7v4.3m.5-4.3v4.3m.5-4.4v4.4m.5-5.3v6.6m.5-6.7v6.8m.5-7.6v8.9m.5-7.4v5.1m.5-5v5.2m.5-4.9v4.3m.5-5v7.2m.5-7.1v5.7m.5-5.1v4.8m.5-4.8v4.3m.5-4.3v4.3m.5-4.3v4.3m.5-4.3v4.3m.5-6v8.5m.5-8.6v8.6m.5-7.8v7.6m.5-7.7v7.2m.5-6.1v4.5m.5-4.5v4.3m.5-4.3v4.3m.5-4.4v4.7m.5-4.6v4.3m.5-4.3v4.3m.5-6.4v8.9m.5-8.6v8.3m.5-7.2v6m.5-5.3v4.3m.5-4.9v5.1m.5-5.6v6.2m.5-6.9v9.7m.5-7.9v4.3m.5-4.3v4.3m.5-4.3v4.3m.5-4.3v4.3m.5-4.3v4.5m.5-4.6v5.3m.5-5.2v4.3m.5-4.3v4.3m.5-4.3v4.3m.5-4.7v5m.5-4.6v4.9m.5-4.9v4.5m.5-4.5v4.3m.5-4.4v4.6m.5-4.5v5.3m.5-5.3v4.3m.5-4.3v4.9m.5-6.1v6.9m.5-7.4v8.2m.5-7.8v8.1m.5-8v6.7m.5-6.8v7.5m.5-6.9v6.1m.5-5.4v4.7m.5-4.7v4.3m.5-4.3v4.3m.5-4.3v4.3m.5-4.3v4.6m.5-5v5.2m.5-4.8v4.5m.5-4.5v4.4" stroke="#0000ff" stroke-opacity="0.6" stroke-width="0.5" fill="none"/>
<path d="M44 699.8v3.8m.5-3.8v3.8m.5-3.8v3.8m.5-4.2v4.4m.5-6.1v7m.5-5.2v4.7m.5-4.7v5.3m.5-5.4v4.4m.5-4v4.4m.5-5.3v6.8m.5-5.9v4m.5-4v3.8m.5-3.8v3.8m.5-3.8v3.8m.5-3.8v3.8m.5-3.8v3.9m.5-3.9v5.6m.5-5.6v3.8m.5-3.8v3.8m.5-3.8v3.8m.5-3.8v3.8m.5-3.8v4.3m.5-4.5v4.3m.5-5.3v7.3m.5-7.5v6.3m.5-5.6v6.6m.5-7.9v9.5m.5-9.1v8.4m.5-8.4v8.9m.5-9.1v7.1m.5-7.3v8m.5-8.6v8.8m.5-7.1v6.6m.5-6.4v4.9m.5-4.5v5.5m.5-5.2v4.8m.5-5.1v5.5m.5-5.2v3.8m.5-3.8v3.8m.5-3.8v3.8m.5-3.8v4.2m.5-5.4v5.7m.5-5.3v6m.5-6.2v7.1m.5-7.1v6.8m.5-6.7v5.3m.5-4.7v4.6m.5-5.5v5.5m.5-7.2v10.4m.5-9.4v7.2m.5-6.9v6.5m.5-4.9v3.8m.5-4.1v4.4m.5-4.1v3.8m.5-3.8v3.8m.5-4.4v4.9m.5-5.8v6.5m.5-6.5v8.5m.5-7.4v6.3m.5-8.3v8.5m.5-7.2v6.7m.5-7.2v7.1m.5-6.2v5.7m.5-6.2v5.7m.5-4.5v4.1m.5-4.1v3.9m.5-3.9v3.8m.5-3.8v3.8m.5-3.8v3.8m.5-3.8v3.9m.5-4v4.2m.5-5.7v6.2m.5-4.6v4.4m.5-4.4v3.8m.5-3.8v3.8m.5-3.8v3.8m.5-3.8v3.8m.5-3.8v3.9m.5-3.9v3.8m.5-4.1v4.7m.5-4.4v4m.5-4v3.8m.5-3.8v3.8m.5-3.8v3.8m.5-3.8v4.1m.5-4.1v3.8m.5-3.9v4.2m.5-4.4v5.7m.5-5.4v3.8m.5-3.8v3.8m.5-3.8v3.8m.5-3.8v3.8m.5-3.8v4.1m.5-4.1v4.1m.5-4.1v4.1m.5-4.1v4.1m.5-4.1v4.1m.5-4.3v4m.5-4.2v4.3m.5-3.9v3.8m.5-3.8v3.8m.5-3.9v4.7m.5-4.6v4.1m.5-4.2v3.9m.5-4v6.3m.5-6.7v5.1m.5-4.8v4.1m.5-5.1v6.4m.5-5.1v3.8m.5-3.8v3.8m.5-4v4.4m.5-4.2v3.8m.5-3.8v3.9m.5-3.9v3.8m.5-3.8v3.8m.5-3.8v3.8m.5-3.8v3.8m.5-3.8v3.8m.5-3.8v3.8m.5-3.9v4.2m.5-4.4v5.2m.5-5v5m.5-6v6.4m.5-7v7.3m.5-7.2v7.4m.5-6.5v5.6m.5-6.3v6.4m.5-6.5v7.4m.5-6.6v6.5m.5-5.8v3.8m.5-3.8v4.5m.5-4.5v3.9m.5-3.9v3.8m.5-3.8v3.8m.5-4.5v4.9m.5-6.7v8.5m.5-6.4v5m.5-5.3v5.4m.5-5.8v6.4m.5-6.5v7.1m.5-7v6.9m.5-7v6.2m.5-5v5.4m.5-5.4v4.1m.5-4.1v4m.5-4v3.8m.5-3.8v3.8m.5-3.8v3.8m.5-3.8v3.8m.5-3.8v4.3m.5-4.6v5.9m.5-5.8v4.7m.5-4.5v4.3m.5-5.3v7.8m.5-6.9v6m.5-6.5v5m.5-4.5v3.9m.5-3.8v3.8m.5-3.8v3.8m.5-3.8v3.8m.5-3.8v3.8m.5-4.2v4.2m.5-4.4v6.1m.5-5.8v5.1m.5-5.5v4.9m.5-4.2v4.1m.5-5.1v5.9m.5-5.4v4.7m.5-5v6.2m.5-6.7v8.6m.5-9.5v8.8m.5-8.6v6.7m.5-5.9v6.5m.5-5.3v3.8m.5-4.4v5.3m.5-6.1v6.6m.5-7.9v10.2m.5-10.2v8.5m.5-8v9.5m.5-8.6v7.3m.5-7v7.2m.5-6.2v3.8m.5-4v4.4m.5-4.8v5.3m.5-6.9v7.5m.5-6.1v5.3m.5-4.7v4.1m.5-4.6v7.1m.5-7.6v7.8m.5-7.8v6.3m.5-5.9v5.1m.5-5.6v7m.5-6.9v5.5m.5-5.5v7m.5-5.8v3.9m.5-3.9v3.8m.5-3.8v3.8m.5-3.8v3.8m.5-3.8v3.8m.5-3.8v3.8m.5-4v4.4m.5-4.2v3.8m.5-3.8v4m.5-4v4.5m.5-4.5v3.8m.5-3.8v3.8m.5-5.5v6.8m.5-6.3v6.7m.5-7.3v8.6m.5-8.7v8.8m.5-10.1v10.7m.5-7.5v3.8m.5-5.7v7.9m.5-6v3.8m.5-3.8v3.8m.5-3.8v4.1m.5-4.1v4m.5-4.9v6.1m.5-5.5v4.1m.5-4.6v7.1m.5-6.4v4.3m.5-6.3v7.3m.5-6.4v7.2m.5-7.5v7m.5-6.6v6.4m.5-5.3v3.8m.5-4.4v4.8m.5-5.7v7.1m.5-7.4v6.4m.5-6.8v8.9m.5-7.6v6.1m.5-7.7v8.8m.5-7.4v5.4m.5-4.3v3.8m.5-3.8v3.8m.5-3.8v3.9m.5-3.9v4.5m.5-4.6v4m.5-5.1v7.2m.5-6.8v6.7m.5-7.5v6.8m.5-5.2v3.8m.5-3.8v5.3m.5-5.3v5.1m.5-5.5v5.6m.5-5.8v6.2m.5-5.6v3.8m.5-4.3v5.6m.5-6.3v6.5m.5-9.1v11.3m.5-8.6v8.1m.5-7.9v5.6m.5-4.8v5.7m.5-6v6.5m.5-8.1v7.8m.5-6.8v5.5m.5-6.6v8.7m.5-11.2v12.6m.5-11.4v10.9m.5-9.8v7.6m.5-7.5v8.2m.5-7.5v7.8m.5-6.3v3.8m.5-4.8v6.7m.5-9v10.9m.5-10.7v9.9m.5-7.7v4.7m.5-6.1v8m.5-7.8v8.3m.5-10.2v13.6m.5-11.6v8.8m.5-8.9v7.1m.5-5.8v6.4m.5-7.5v7.9m.5-7.4v7.6m.5-7.3v6.7m.5-6.4v6m.5-6.1v6.9m.5-10v11.8m.5-9.4v6.8m.5-7.2v10.1m.5-9.7v6.8m.5-5.2v3.8m.5-3.8v4m.5-4.1v4.7m.5-7.8v9.6m.5-8.8v9.2m.5-6.8v3.8m.5-5v6.2m.5-9.1v12.6m.5-13.9v13.4m.5-10.2v8.6m.5-7.7v8.6m.5-9.3v8.2m.5-9.4v8.7m.5-5.9v4.7m.5-4.3v3.8m.5-4.5v5.3m.5-7.1v9m.5-7.2v5.5m.5-9v12.3m.5-12.5v15.1m.5-14.3v10m.5-8.5v10m.5-8v4.8m.5-4.7v3.8m.5-5v6.8m.5-6v4.6m.5-6.9v10m.5-11.7v12.9m.5-12v15.7m.5-19v16.4m.5-16.7v17.9m.5-15v11.8m.5-11v10.2m.5-10.1v12.5m.5-13v12.4m.5-8.7v5.7m.5-6.5v5.7m.5-5.8v6.3m.5-7.3v9m.5-7.7v5.1m.5-9.9v14.4m.5-11.6v10.1m.5-10.5v8.8m.5-6v4.1m.5-5.7v10.1m.5-11.6v11.3m.5-11.9v12.2m.5-12.6v15.6m.5-15.5v16.9m.5-17.6v15.3m.5-13v8.9m.5-6.4v4.7m.5-7.3v10.5m.5-9.6v7.2m.5-8.1v11.1m.5-15.7v19.9m.5-17.4v14.6m.5-13.2v12m.5-11.5v10.3m.5-10.8v12.3m.5-12.1v11m.5-7.7v3.8m.5-5.2v7m.5-7.5v9.2m.5-12.7v14.7m.5-14.2v17.7m.5-17.7v19.6m.5-21.9v18.2m.5-12.5v7.4m.5-8.8v9.3m.5-10.1v13.3m.5-12.6v11.2m.5-10.3v11.7m.5-9.6v4.7m.5-4.8v4.2m.5-5.2v7.9m.5-10.7v12.8m.5-15.3v16.6m.5-14.7v15.3m.5-12.5v7.9m.5-12.6v18.1m.5-18.5v18.3m.5-15.9v13.2m.5-17.3v20.7m.5-20.7v26.8m.5-23.6v15.5m.5-16.7v14.9m.5-13.1v13.3m.5-9.1v5m.5-6.8v12.9m.5-19.7v20.1m.5-13.8v10.3m.5-11.2v12.1m.5-15.7v22.3m.5-19.2v12.6m.5-9.7v6.6m.5-8.3v9.2m.5-6.9v4.5m.5-4v5.8m.5-5.6v4m.5-5.6v10.1m.5-8.7v4.9m.5-8.1v11.2m.5-8.3v5.6m.5-5.5v4.5m.5-4.8v5.2m.5-10v14.5m.5-14.9v16.1m.5-15.8v17m.5-19.1v17.1m.5-17.3v23.1m.5-20.8v16.1m.5-16.9v20.5m.5-19.8v13.9m.5-13.5v13.1m.5-16.9v21.3m.5-22.1v24.7m.5-22.5v20m.5-21.8v20.9m.5-19.3v22m.5-20.6v19.6m.5-18v16.3m.5-13.1v7.7m.5-11.9v13.5m.5-11.1v12.9m.5-14.4v13.6m.5-10.5v7.3m.5-6v6.6m.5-8.6v9.2m.5-9.4v12.1m.5-13.4v12.1m.5-11.4v11.9m.5-9.3v6m.5-8.6v13.2m.5-13v10m.5-10.2v10.5m.5-12.4v15.1m.5-13.3v13m.5-16.1v17.2m.5-15.8v14.6m.5-17.6v22.3m.5-23.4v21.4m.5-17.9v17.6m.5-20.3v23.3m.5-22v18.1m.5-17.9v18m.5-15.5v16m.5-16.6v14.4m.5-11.8v9.5m.5-13.9v18.2m.5-15.8v13.4m.5-17.4v24.3m.5-18v9.8m.5-11.5v13.1m.5-11.5v9.1m.5-11.4v15.8m.5-16.1v15.9m.5-18.5v17.2m.5-17.1v25.5m.5-26.1v23.3m.5-23.9v21.7m.5-18.8v14.6m.5-10.6v7.4m.5-11.7v15.1m.5-16.9v20m.5-15v9.9m.5-10.1v13.6m.5-21.3v25m.5-20.1v15.8m.5-13.4v9.6m.5-10.8v12.1m.5-9.9v10.2m.5-10v12.3m.5-14.2v13.3m.5-10.2v8.5m.5-13.1v15.4m.5-12.3v10m.5-9.9v7.8m.5-9v11.9m.5-12.6v12.2m.5-10.4v9.3m.5-6.8v4.1m.5-8.8v12.7m.5-12.8v17.9m.5-16.6v12.1m.5-11.1v8.3m.5-6.2v4.7m.5-6.1v8.3m.5-7.2v6m.5-8.7v9.7m.5-13.3v18.4m.5-18.5v23.5m.5-24.2v25.8m.5-26v23.5m.5-26v25.1m.5-24.9v24.4m.5-22.4v24.1m.5-21.1v16.2m.5-19v19.5m.5-13.8v10.9m.5-12.9v14.1m.5-13.3v10.7m.5-14v21.7m.5-18.9v12.8m.5-11.7v10.6m.5-11.6v11.8m.5-9.4v7.3m.5-6.5v7m.5-11.9v15m.5-14.8v17.5m.5-16.5v16.1m.5-14.4v10.1m.5-12.1v15.4m.5-17.3v17m.5-14.4v14.8m.5-11.2v6.4m.5-5.9v3.8m.5-4.6v6.1m.5-6.8v7.3m.5-5.8v4.1m.5-7.6v12.5m.5-13.2v12m.5-11v9.9m.5-8.7v8m.5-7.9v7.2m.5-7.4v9.2m.5-8.7v6.6m.5-11.2v17.4m.5-16.6v15.1m.5-11.7v10.9m.5-10.1v7.1m.5-8.4v11.2m.5-10.1v7.6m.5-8.8v9.1m.5-8.1v7.4m.5-5.8v4.4m.5-5.8v6.6m.5-8.1v11.6m.5-14.1v14.1m.5-14.9v15.9m.5-12.8v11.6m.5-9.6v7.2m.5-9.1v10.7m.5-11.4v11.1m.5-11.2v10.8m.5-14.6v16.6m.5-11.6v10.5m.5-9.4v6.9m.5-6.1v6.3m.5-7.1v6.5m.5-5.2v5m.5-7.7v10.3m.5-15.5v17.8m.5-13.5v12.7m.5-10.4v8.4m.5-8.9v10.3m.5-11.7v10.6m.5-11.1v13.9m.5-12v9.3m.5-10.1v11m.5-11.8v11.6m.5-11.9v12.6m.5-11.4v9.9m.5-8.5v7.2m.5-6.5v5.6m.5-5.1v4.1m.5-4v4.4m.5-8.7v13.4m.5-16.7v17.2m.5-16.7v20.3m.5-18v15.9m.5-14.4v13.9m.5-12.6v8.3m.5-9.6v12.4m.5-13v11.7m.5-9v7.2m.5-7.9v7.5m.5-9.5v13m.5-14v15.4m.5-15.5v12.2m.5-9.4v10.3m.5-11.6v11.5m.5-8.2v4m.5-3.8v3.8m.5-6.7v9.8m.5-9.8v11.2m.5-13v15.6m.5-16.4v16.8m.5-13v8m.5-12v15.9m.5-13.4v12.6m.5-11.8v8.7m.5-10.8v13.3m.5-10.9v11.7m.5-14.8v13.4m.5-14v15.4m.5-10.8v8.9m.5-11.5v11.4m.5-11v11.8m.5-10v7.4m.5-7.3v8.2m.5-8.2v6.7m.5-5.4v4.3m.5-5.4v7m.5-5.9v4.4m.5-4.2v4.8m.5-4.8v3.9m.5-7.6v11.7m.5-11.5v11m.5-8.1v5m.5-10v15.4m.5-13.4v10.6m.5-9.9v9.6m.5-8.3v7.2m.5-7.1v7.5m.5-10v13.5m.5-15.1v15.7m.5-17.7v20m.5-16.5v12.2m.5-13.4v21.1m.5-20.3v15.6m.5-16.7v18.5m.5-18.4v17.8m.5-22.1v20.3m.5-14.1v10.9m.5-11.2v12.9m.5-10v6m.5-6.7v9m.5-7.7v4.7m.5-4.5v4.7m.5-9v11.6m.5-9.3v9m.5-6.8v3.8m.5-6.1v9.4m.5-10.5v10.2m.5-10.2v12.2m.5-11.5v10.1m.5-9.6v8.7m.5-13.2v15.4m.5-11.3v8.5m.5-8.9v10.5m.5-9.4v7.7m.5-7.1v6.7m.5-6v4.9m.5-5.9v7.2m.5-9.5v12.8m.5-13.7v13.1m.5-12.1v13m.5-13.5v12.6m.5-10.8v8.7m.5-7.9v7.5m.5-6.6v6.8m.5-7.4v6.5m.5-5.5v4.8m.5-6.9v8.4m.5-7.5v5.8m.5-5.6v6.1m.5-4.7v4.7m.5-5.8v6.6m.5-8.1v9.5m.5-11.7v14.5m.5-11v6.3m.5-8.5v15.1m.5-18.9v19.1m.5-18.7v20m.5-19.2v18.2m.5-15.9v12.3m.5-9.8v7.9m.5-11.7v15.2m.5-10.1v4m.5-9v12.1m.5-10.6v11.5m.5-11.2v11.6m.5-11.9v11.3m.5-11.1v10.6m.5-11.1v15.8m.5-13.7v7.8m.5-7.8v8.2m.5-10.1v11.1m.5-9.2v8m.5-11.2v15.3m.5-15.9v14.6m.5-14.6v16.6m.5-14.1v11.9m.5-12.9v11.6m.5-14.3v19.6m.5-15.8v8.8m.5-7.2v6.1m.5-8.5v12.1m.5-10.2v8.8m.5-11.7v14.8m.5-14.1v11.2m.5-7.2v3.8m.5-5.1v6m.5-7v8.1m.5-7.6v9.1m.5-11.2v10.7m.5-8.1v8.1m.5-8.6v8.5m.5-8.3v8.4m.5-9.5v10.9m.5-10.5v7.9m.5-5.6v3.8m.5-5.2v9.2m.5-10.6v10.6m.5-9.3v7m.5-6.9v8.2m.5-9.1v7.1m.5-8.5v11.9m.5-10.5v8.3m.5-7v6.7m.5-6.3v5.4m.5-5.2v5.2m.5-7.2v10m.5-11.1v13.5m.5-16v17.2m.5-17.4v14.7m.5-14.7v18m.5-17.9v21.7m.5-25.9v21.6m.5-19.1v18.8m.5-12.9v9.6m.5-9v6.8m.5-7.9v10.8m.5-9.9v6.4m.5-8.4v10.9m.5-11.4v12.7m.5-14.6v18.6m.5-21.8v20.2m.5-13.9v14.4m.5-19v24.1m.5-24.1v16.2m.5-10.5v8m.5-11v11.9m.5-11.3v16m.5-20.7v25.6m.5-23.9v19m.5-22v24.3m.5-19.9v15.6m.5-14.1v11.1m.5-8.9v7.5m.5-6.5v9.2m.5-12.8v13.1m.5-10.6v8.9m.5-6.9v4.1m.5-8.4v16.5m.5-20.1v18.8m.5-18.5v16.5m.5-15v18.7m.5-17.9v15.2m.5-14.8v13.4m.5-14.9v19.2m.5-13.9v7.6m.5-9.1v9.2m.5-9.5v12.1m.5-13.1v12.9m.5-13.4v14.5m.5-13.9v11.1m.5-16.7v23.4m.5-24.6v24.5m.5-24.5v23.5m.5-18.4v16.2m.5-16.7v19.6m.5-18.4v14.1m.5-12.7v13.1m.5-12.3v10.8m.5-8.4v4.4m.5-6.8v11.3m.5-11v8.6m.5-8.9v9.7m.5-9.1v8.1m.5-6.4v6.2m.5-9.1v10.9m.5-11.6v12.4m.5-11.7v11.5m.5-14.3v16m.5-15.5v14.9m.5-13.4v16.3m.5-15.9v11.2m.5-11.5v11.7m.5-11.5v16.1m.5-15.9v12m.5-11.7v11.1m.5-9.6v8.1m.5-8.1v9.5m.5-11.2v11.1m.5-9v6.3m.5-7.5v9.2m.5-7.5v5.1m.5-7.6v14.4m.5-16.3v17.6m.5-19.6v21.2m.5-19.5v17.4m.5-16v15.2m.5-16.8v16m.5-12.2v8.9m.5-8.9v8.6m.5-12.7v17.2m.5-19.6v22.4m.5-20.5v17.8m.5-18.2v17.2m.5-12.5v9.9m.5-10.2v9.5m.5-15v17.9m.5-10.7v8.1m.5-7.2v3.8m.5-6v9.7m.5-7.9v5.7m.5-7.5v9.7m.5-9v8.1m.5-8v7.6m.5-6.2v3.8m.5-4.1v5.3m.5-6.3v7.1m.5-6v4.9m.5-6.2v8.3m.5-9.6v10.5m.5-7.7v3.8m.5-4.7v5.7m.5-4.8v3.8m.5-3.8v4m.5-4.6v5.4m.5-8.3v9.8m.5-7v6.2m.5-5.5v3.8m.5-5v7m.5-10.6v13.2m.5-12.4v14.4m.5-12.6v8.3m.5-7.5v7.5m.5-9.4v10.3m.5-8.8v6.3m.5-5.1v5.3m.5-5v4.2m.5-4.8v6.5m.5-8.2v11m.5-10.4v9.6m.5-12.2v11.7m.5-12.7v14.2m.5-13.3v16.3m.5-16.8v14m.5-11.3v9.5m.5-7.1v3.9m.5-3.8v3.8m.5-4v4m.5-4.8v6m.5-6.8v7.5m.5-6.7v6.9m.5-8.5v8.5m.5-6.7v5.6m.5-7.3v9.6m.5-9.5v9.3m.5-7.9v7.6m.5-10.2v11.8m.5-9.9v7.8m.5-9.6v12.6m.5-10.3v6.6m.5-5.6v4.6m.5-7.1v9.1m.5-8.2v7.9m.5-12.1v14.7m.5-14.7v15.4m.5-13.9v15.1m.5-13v8.5m.5-6.9v4.9m.5-4.5v4.8m.5-5.9v6.2m.5-6.3v7.4m.5-9.1v10.4m.5-8.1v6.8m.5-6.1v4.9m.5-9v10.4m.5-8.3v10.2m.5-7.9v4.4m.5-4.9v4.8m.5-4.7v4.9m.5-4.6v3.9m.5-5v5.9m.5-7.1v8.7m.5-7.2v6.6m.5-5.7v3.8m.5-3.8v3.8m.5-3.8v3.8m.5-7.2v10.6m.5-7.5v4.9m.5-7.4v7.9m.5-7v8.2m.5-7.9v7.6m.5-6.4v5.3m.5-6.4v5.9m.5-9.5v13.2m.5-8.2v3.9m.5-6.8v11.4m.5-11.9v10.5m.5-11v11.1m.5-13.2v15m.5-12.1v12.8m.5-15.7v13.6m.5-13.5v16.5m.5-13.2v10.3m.5-10.1v9.7m.5-7.4v5.5m.5-5.7v4.3m.5-3.9v4.6m.5-5.2v5m.5-6.2v7.7m.5-5.9v3.8m.5-3.8v4.2m.5-4.4v4m.5-5.7v8.4m.5-10.4v12.9m.5-11.4v8.7m.5-6.3v3.8m.5-3.8v3.9m.5-4v4.2m.5-4.1v3.8m.5-3.8v3.9m.5-4v5.2m.5-5.5v5.3m.5-6.1v7.6m.5-6.5v4.1m.5-4.5v5.2m.5-4.7v3.9m.5-4.2v4.9m.5-5.1v4.5m.5-4.9v5.6m.5-4.7v3.8m.5-3.8v3.8m.5-4.4v4.4m.5-7.5v11.6m.5-8v4.9m.5-6.4v7m.5-9.1v12.9m.5-16.1v16.2m.5-11.6v11.8m.5-12.3v11.5m.5-8.7v3.8m.5-4.4v4.9m.5-5.4v5.9m.5-7.2v9.6m.5-9v6.8m.5-7.6v9.3m.5-8.6v8.2m.5-9.9v12.6m.5-14.6v14.5m.5-9.4v5.9m.5-6.5v5.8m.5-5.8v5.4m.5-4.3v4.4m.5-8v11.9m.5-11.1v9.6m.5-11.4v11.1m.5-12.5v16m.5-14.6v15.4m.5-18.7v18.2m.5-17.6v16.8m.5-17.5v17.1m.5-19.1v22.2m.5-20.2v23.2m.5-22.6v19m.5-20.1v20.3m.5-18.3v17.2m.5-17.2v19.7m.5-16.4v12.2m.5-13.2v12.4m.5-11.1v9.6m.5-9.4v9.5m.5-10v10m.5-9.9v9.2m.5-8.6v10.6m.5-12.3v14.1m.5-13.7v13m.5-11.6v10.7m.5-9.2v5.9m.5-6.4v6.3m.5-5.9v8.2m.5-8.2v7.4m.5-8.9v7.7m.5-6.7v6.9m.5-7.2v6.6m.5-4.8v4.6m.5-5.4v5.1m.5-6.4v10m.5-9v5.2m.5-5.6v8.4m.5-6.9v3.9m.5-4.9v6.7m.5-9v9.3m.5-9.3v11.5m.5-13.1v15m.5-15.8v19.2m.5-20.4v18.8m.5-16.7v12.4m.5-13.2v14.3m.5-12.5v12.4m.5-11.6v12.7m.5-14.2v14.3m.5-12.6v9.5m.5-9.7v11.7m.5-12.5v16.1m.5-16.9v12.3m.5-9.2v6.4m.5-4.9v3.9m.5-4v4.4m.5-4.3v3.8m.5-3.8v4.3m.5-4.9v6m.5-6.3v6.1m.5-9.3v10.2m.5-8.5v9.2m.5-10.4v11.2m.5-11.7v11.2m.5-10.1v10.3m.5-10.4v12.4m.5-11.1v9.5m.5-9.4v6.9m.5-5.5v5.2m.5-4.9v4.9m.5-5.3v6.4m.5-6v3.8m.5-6.4v8.3m.5-7.5v7.1m.5-6.3v6.2m.5-5.8v5.6m.5-8.5v9.2m.5-8.4v10m.5-9.6v7.4m.5-6.7v7.1m.5-8.4v9.7m.5-8.9v8.8m.5-9.5v8.2m.5-5.4v5m.5-5.4v5.6m.5-5.2v4.4m.5-4.9v5.4m.5-5.7v7.1m.5-7.7v7.2m.5-8.3v9.9m.5-10v9.5m.5-11.8v14.6m.5-15v13.1m.5-13.5v13.3m.5-10.2v10m.5-8.3v8.3m.5-10v8.8m.5-10.4v12m.5-9.9v8.8m.5-7.7v6.6m.5-7.9v8.7m.5-10.7v11.4m.5-9v8.9m.5-8.7v7.1m.5-6.5v6.7m.5-5.9v4.1m.5-3.8v3.8m.5-3.8v3.8m.5-3.8v3.8m.5-3.8v3.8m.5-3.8v3.8m.5-3.8v3.8m.5-3.8v3.8m.5-4v4m.5-3.8v4m.5-4v3.8m.5-4.1v4.7m.5-4.8v4.2m.5-4.1v4.1m.5-3.8v3.8m.5-3.8v3.8m.5-4.1v4.1m.5-3.8v3.8m.5-3.8v3.8m.5-4.8v5.3m.5-4.7v4.9m.5-5v5m.5-4.5v4.4m.5-4.4v3.8m.5-3.8v3.8m.5-3.8v3.8m.5-3.8v3.8m.5-3.8v3.8m.5-4.5v4.5m.5-4.8v6.4m.5-5.4v3.8m.5-4.3v5.6m.5-5.2v3.9m.5-3.8v3.8m.5-3.8v3.8m.5-4.2v5m.5-6.4v7.5m.5-8.2v11.1m.5-10.8v9.5m.5-10.2v11.2m.5-9.2v6m.5-6.9v7.5m.5-7.3v6.5m.5-4.9v3.8m.5-3.8v3.8m.5-3.8v3.8m.5-3.8v3.8m.5-4.2v5.6m.5-7.6v7.8m.5-6.6v6.4m.5-5.2v4.2m.5-4.3v3.9m.5-4.1v4.1m.5-4.8v5.1m.5-5.6v6.8m.5-5.9v5.3m.5-4.7v3.8m.5-3.8v4.4m.5-6.5v7.6m.5-5.5v3.8m.5-3.8v3.9m.5-4.2v4.9m.5-4.9v4.6m.5-5.1v5.3m.5-4.5v3.8m.5-5.1v6.8m.5-7.2v8.7m.5-8.6v8.1m.5-8.3v8.9m.5-9.3v10.5m.5-9.4v7.8m.5-9.4v8m.5-7.1v8.9m.5-7.9v5.2m.5-4.4v3.8m.5-3.9v5.1m.5-6.1v5.1m.5-4v4.2m.5-5.4v5.8m.5-5.1v6.3m.5-6.9v7m.5-7.5v7m.5-7.1v9.1m.5-10.2v8.9m.5-7.3v7.6m.5-7v5.4m.5-4.8v4.7m.5-4.7v3.8m.5-3.8v3.9m.5-3.9v3.8m.5-4v4.3m.5-5.9v7.8m.5-7.4v7.1m.5-6.7v6.2m.5-6v5.6m.5-5.5v5.7m.5-5.9v6.3m.5-5.4v3.9m.5-3.9v3.8m.5-3.8v3.8m.5-3.8v3.8m.5-3.8v3.8m.5-3.9v3.9m.5-4.2v4.3m.5-3.9v3.8m.5-3.8v3.8m.5-3.8v3.8m.5-4.7v5.5m.5-4.8v4.8m.5-6.2v7.8m.5-6.5v4.2m.5-3.9v4.1m.5-4.1v3.8m.5-4.2v4.9m.5-5v4.3m.5-3.8v3.8m.5-3.8v3.8m.5-3.8v3.8m.5-3.8v3.8m.5-3.8v3.8m.5-5.4v6.3m.5-5.7v6.8m.5-6.6v6.2m.5-5.8v5.1m.5-4.7v3.8m.5-3.8v3.8m.5-3.8v3.8m.5-3.8v4m.5-4v3.8m.5-3.8v3.8m.5-5.4v7.1m.5-6.3v6.4m.5-5.6v4m.5-4v3.8m.5-4.2v4.2m.5-4.3v4.8m.5-4.9v7m.5-6.4v3.8m.5-3.8v3.8m.5-3.8v3.8m.5-3.8v3.8m.5-3.8v3.9m.5-3.9v4.4m.5-4.4v3.8m.5-3.8v3.8m.5-3.8v3.8m.5-4.1v4.3m.5-4v3.8m.5-3.8v3.9m.5-3.9v3.8m.5-3.9v3.9m.5-3.8v4.6m.5-4.6v3.8m.5-3.8v3.8m.5-4.5v5.1m.5-5.7v6.2m.5-5.3v5.4m.5-6v5.2m.5-5v5.8m.5-5.4v4.4m.5-4v3.8m.5-3.8v3.8m.5-3.8v3.8m.5-3.8v3.8m.5-3.8v3.8m.5-4.2v4.4m.5-4v3.8m.5-3.8v3.8" stroke="#0000ff" stroke-opacity="0.55" stroke-width="0.5" fill="none"/>
<path d="M44 699.8v3.8m.5-3.8v3.8m.5-3.8v3.8m.5-3.8v3.8m.5-4.5v5.4m.5-4.7v3.8m.5-3.8v4.2m.5-4.2v3.8m.5-3.8v3.8m.5-4.1v4.9m.5-4.6v3.8m.5-3.8v3.8m.5-3.8v3.8m.5-3.8v3.8m.5-3.8v3.8m.5-3.8v3.8m.5-3.8v4.3m.5-4.3v3.8m.5-3.8v3.8m.5-3.8v3.8m.5-3.8v3.8m.5-3.8v3.8m.5-3.8v3.8m.5-3.9v4.9m.5-5.2v5m.5-4.6v5.1m.5-5.4v4.9m.5-5.6v6.2m.5-6.6v6.6m.5-5.2v4m.5-4v4.2m.5-5.3v6.3m.5-5.4v4.7m.5-4.5v3.8m.5-3.8v4m.5-4v3.8m.5-3.8v3.8m.5-3.8v3.8m.5-3.8v3.8m.5-3.8v3.8m.5-3.8v4.2m.5-4.3v4.5m.5-4.4v3.9m.5-4.5v5.3m.5-4.7v4.2m.5-4.2v3.8m.5-3.9v3.9m.5-4.5v4.5m.5-4.1v5.5m.5-6v5.1m.5-4.5v4.6m.5-4.4v3.8m.5-3.8v3.8m.5-3.8v3.8m.5-3.8v3.8m.5-3.8v3.8m.5-4.3v4.4m.5-3.9v5.4m.5-5.4v4.9m.5-6.4v6.2m.5-5v4.6m.5-5v5.2m.5-4.9v4.4m.5-4v3.9m.5-3.9v3.8m.5-3.8v3.8m.5-3.8v3.8m.5-3.8v3.8m.5-3.8v3.8m.5-3.8v3.8m.5-3.8v3.8m.5-4.3v4.5m.5-4v3.8m.5-3.8v3.8m.5-3.8v3.8m.5-3.8v3.8m.5-3.8v3.8m.5-3.8v3.8m.5-3.8v3.8m.5-3.8v3.8m.5-3.8v3.8m.5-3.8v3.8m.5-3.8v3.8m.5-3.8v3.8m.5-3.8v3.8m.5-3.8v3.8m.5-3.8v3.8m.5-3.8v3.8m.5-3.8v3.8m.5-3.8v3.8m.5-3.8v3.8m.5-3.8v3.8m.5-3.8v3.8m.5-3.8v3.8m.5-3.8v3.8m.5-3.8v3.8m.5-3.8v3.8m.5-3.8v3.8m.5-3.8v3.8m.5-3.8v3.8m.5-3.8v3.8m.5-3.8v3.8m.5-3.8v3.8m.5-3.8v3.8m.5-3.8v4.4m.5-4.4v3.9m.5-3.9v3.8m.5-3.8v3.8m.5-3.8v3.8m.5-3.8v3.8m.5-3.8v3.9m.5-3.9v3.8m.5-3.8v3.8m.5-3.8v3.8m.5-3.8v3.8m.5-3.8v3.8m.5-3.8v3.8m.5-3.8v3.8m.5-3.8v3.8m.5-3.8v3.9m.5-3.9v4m.5-4v3.8m.5-4.1v4.2m.5-4.7v5.4m.5-4.9v4.1m.5-4.1v4.4m.5-4.2v4.2m.5-4.4v5.3m.5-5.2v4.3m.5-4.1v3.8m.5-3.8v3.8m.5-3.8v3.8m.5-3.8v3.8m.5-3.8v3.8m.5-3.8v3.8m.5-4.2v4.6m.5-4.5v4.5m.5-4.2v3.8m.5-3.8v3.8m.5-3.8v4.5m.5-4.5v5.4m.5-5.4v3.9m.5-3.9v4.3m.5-4.3v3.8m.5-3.8v3.8m.5-3.8v3.8m.5-3.8v3.8m.5-3.8v3.8m.5-3.8v3.8m.5-3.8v3.8m.5-3.8v4.7m.5-4.7v3.8m.5-3.8v3.8m.5-3.8v4.5m.5-4.5v4.6m.5-4.6v3.8m.5-3.8v3.8m.5-3.8v3.8m.5-3.8v3.8m.5-3.8v3.8m.5-3.8v3.8m.5-3.8v3.8m.5-3.8v4.2m.5-4.2v3.8m.5-3.8v3.8m.5-3.8v3.8m.5-4v4.3m.5-4.1v3.8m.5-4.2v4.6m.5-5v6.5m.5-6.4v5.5m.5-5.4v4.7m.5-4.1v4.8m.5-4.8v3.8m.5-3.8v3.8m.5-4.2v4.2m.5-6v7.7m.5-6v5.3m.5-6.6v7.9m.5-6.4v5m.5-4.7v4.9m.5-4.9v3.8m.5-3.8v3.8m.5-3.8v4.1m.5-4.9v4.8m.5-4v3.8m.5-3.8v3.8m.5-4.1v5.3m.5-5.5v5m.5-4.5v5m.5-5v3.8m.5-3.8v4.5m.5-4.8v4.1m.5-4.2v4.7m.5-4.3v3.8m.5-3.8v3.8m.5-3.8v3.8m.5-3.8v3.8m.5-3.8v3.8m.5-3.8v3.8m.5-3.8v3.8m.5-3.8v3.8m.5-3.8v3.8m.5-3.8v3.8m.5-3.8v3.8m.5-3.8v3.8m.5-4v4.5m.5-4.3v3.8m.5-5.1v6m.5-4.7v6m.5-7.1v6.5m.5-5.4v3.8m.5-4.7v4.8m.5-3.9v3.8m.5-3.8v3.8m.5-3.8v3.8m.5-3.8v3.8m.5-3.8v4.4m.5-4.4v3.8m.5-3.8v4.1m.5-4.1v3.8m.5-4.2v4.2m.5-4.9v6.2m.5-5.8v4.5m.5-3.8v3.8m.5-3.8v3.8m.5-3.8v3.8m.5-3.8v4.9m.5-4.9v4m.5-4v4.2m.5-4.3v4.5m.5-5.6v6.6m.5-5.7v4.5m.5-4.2v3.8m.5-3.8v3.8m.5-3.8v3.8m.5-3.8v3.8m.5-3.8v3.8m.5-3.8v4.8m.5-4.8v4.6m.5-5.1v4.3m.5-3.8v3.8m.5-3.8v3.9m.5-3.9v3.9m.5-3.9v3.8m.5-3.8v3.9m.5-3.9v3.8m.5-3.8v3.8m.5-4.6v5.3m.5-5.3v6.4m.5-6.7v6.6m.5-5.5v3.9m.5-3.9v3.8m.5-3.8v4.1m.5-4.3v4.8m.5-5v4.2m.5-4.6v5.2m.5-7.2v8.4m.5-7.3v6.3m.5-5.5v5.1m.5-5.5v5.9m.5-5.1v5.1m.5-4.6v3.8m.5-4.1v4.8m.5-5.5v7.1m.5-6.6v5.2m.5-4.7v3.8m.5-4.8v5.5m.5-4.9v5m.5-6.9v8.9m.5-7.9v7.4m.5-6.4v4.4m.5-4.3v4m.5-3.9v4.6m.5-5.7v5.6m.5-4.4v4.5m.5-4.5v4m.5-4.4v4.8m.5-6.4v7.1m.5-6v5.6m.5-4.8v5.8m.5-6.7v6.1m.5-5.1v3.8m.5-3.8v3.8m.5-3.8v4.2m.5-5.1v5.6m.5-5.1v5.6m.5-5.2v3.8m.5-3.8v3.9m.5-5.6v7.5m.5-8.2v8.7m.5-6.4v5.4m.5-5.8v4.9m.5-5.6v6.2m.5-6v5.9m.5-4.9v3.9m.5-3.9v3.8m.5-3.8v3.8m.5-4.7v6.4m.5-5.5v3.8m.5-6.4v10.3m.5-10.5v10.7m.5-9.3v6.9m.5-5.9v6.3m.5-5.9v3.8m.5-3.8v3.8m.5-3.8v3.8m.5-3.8v3.8m.5-5.3v7m.5-8.6v9.9m.5-9.5v10.7m.5-10.6v9.9m.5-11.1v10.8m.5-9.3v8.9m.5-8.1v6.7m.5-6.8v7.1m.5-6.5v6.2m.5-5.2v3.8m.5-3.8v4.5m.5-5v4.8m.5-4.7v5.4m.5-5v3.8m.5-5.6v9.8m.5-9.8v7.4m.5-7.1v6.4m.5-4.9v3.8m.5-5.7v8.4m.5-7.6v7.1m.5-8.3v7.3m.5-8v11.3m.5-10v10.7m.5-11.8v11.4m.5-9.9v6m.5-4.7v3.8m.5-4.1v5.9m.5-6.7v6.2m.5-6v7m.5-10.5v13.7m.5-13.3v12.6m.5-10.8v7.6m.5-6.6v5.6m.5-5.2v7.5m.5-7.6v7.3m.5-6.4v3.8m.5-4.3v4.9m.5-4.8v6.2m.5-8.7v9.4m.5-10.5v12.8m.5-13.6v15.8m.5-14.4v13.2m.5-9.8v4.2m.5-5.6v7.1m.5-6.7v8.5m.5-8.7v7.6m.5-7.8v7.5m.5-6.1v3.8m.5-3.8v3.8m.5-3.8v5.1m.5-8.8v9.6m.5-8.3v8.7m.5-7.6v8.9m.5-8.1v6.4m.5-9.3v11.2m.5-10.7v9.6m.5-9.6v9.4m.5-11.4v12.8m.5-12.1v17.4m.5-15.1v8.4m.5-9.7v8.6m.5-7.7v9.5m.5-7.2v3.8m.5-4.5v6.5m.5-12v16.3m.5-10.8v7.2m.5-8v8.1m.5-10v14m.5-13.4v9.1m.5-6.3v4m.5-5v6.4m.5-5.4v3.8m.5-3.8v4.6m.5-4.6v3.8m.5-5v7m.5-5.8v3.8m.5-5.6v7.4m.5-5.6v4.5m.5-4.5v3.8m.5-4v4m.5-6.5v10.6m.5-11.2v12.4m.5-13v11.2m.5-12.9v12.8m.5-12.4v16.4m.5-14.7v12.7m.5-15v15m.5-11.8v8.7m.5-8.6v8.3m.5-9.7v12.9m.5-13.1v14.5m.5-14.5v14.3m.5-17.1v15.4m.5-13.8v16.9m.5-16.1v13.9m.5-13.6v10.8m.5-6.8v4.2m.5-7.5v10.7m.5-8.2v7.1m.5-9.1v9.2m.5-6.3v4.3m.5-4.4v4.1m.5-5.4v6.7m.5-6.4v7.9m.5-10.7v9.7m.5-7.4v9.6m.5-7.9v4.3m.5-5.9v7.1m.5-8v7.5m.5-7v7.3m.5-7.7v8.3m.5-7.6v8.9m.5-11v12.1m.5-11.3v8.4m.5-9.9v15.2m.5-15.5v16.3m.5-14.9v12.4m.5-12.8v12.8m.5-13v13.1m.5-13.1v12.8m.5-11.6v12.3m.5-12.6v9.9m.5-8.5v7.3m.5-9.9v10.7m.5-9.3v9.3m.5-12.6v16.2m.5-11.3v8m.5-8.9v8.7m.5-7.1v5.4m.5-7.8v13.7m.5-13.3v11.7m.5-13.7v12.8m.5-11.7v17.1m.5-17.2v13.2m.5-14.2v12.4m.5-10.6v9.7m.5-7v4.4m.5-7.3v9.4m.5-11.2v13.3m.5-9.7v7.3m.5-9.1v11.8m.5-14.4v13.8m.5-10.3v9.8m.5-9.1v5.7m.5-6.3v7.7m.5-7v6m.5-6.1v8.8m.5-9.1v7.4m.5-5.7v5.1m.5-8.4v10.3m.5-9v8.7m.5-8.5v6.9m.5-8v9.2m.5-9.7v9.3m.5-6.8v6.6m.5-5.7v3.8m.5-5v6.1m.5-9v13.2m.5-10.4v8.2m.5-7.2v5.2m.5-4.9v3.8m.5-4.8v6.2m.5-5.2v3.9m.5-5.6v6.3m.5-9.4v12.6m.5-11.4v13.8m.5-14.5v13.5m.5-13.4v13.8m.5-15.5v15.6m.5-18.5v19m.5-15.5v19.5m.5-18.8v12m.5-13.4v16.5m.5-11.7v7.4m.5-9.4v9.8m.5-7.3v5.8m.5-7.9v12.5m.5-12v9.6m.5-9.9v8.3m.5-7.3v7.9m.5-6.5v4.1m.5-4.4v4.3m.5-7.5v11.1m.5-10.7v10.6m.5-10.5v12m.5-9v6m.5-7.6v8m.5-10.3v12.5m.5-9.6v8.1m.5-6.9v4m.5-4v3.8m.5-3.9v3.9m.5-4v5.4m.5-5.2v3.8m.5-6.1v7.9m.5-8.3v9.2m.5-8v6.6m.5-5.4v5.8m.5-5.9v4.9m.5-5.3v7m.5-6.2v4.3m.5-6.2v11.1m.5-11v10.1m.5-9.9v6.9m.5-5.6v5.2m.5-5.7v5.7m.5-5.1v5m.5-6.5v6.5m.5-5.4v5.3m.5-4.7v3.8m.5-4.1v5.4m.5-6.7v7.1m.5-9.6v11.3m.5-9.2v7.9m.5-7.9v8m.5-6.4v5.7m.5-7.4v7.1m.5-7v7.4m.5-7.7v8.4m.5-9.8v11.5m.5-8.8v6.7m.5-6.4v6m.5-5.3v4.4m.5-4.5v4.7m.5-4.6v3.8m.5-5.2v7.4m.5-9.6v12.6m.5-10.5v6.6m.5-5.8v4.9m.5-4.7v5.6m.5-6.5v6.4m.5-6.1v6.9m.5-7.1v6.3m.5-7.2v7.8m.5-7.3v7.2m.5-8.2v9.1m.5-7.5v7.8m.5-7.7v5.4m.5-4.4v4m.5-4v3.8m.5-3.8v3.8m.5-5.3v9.5m.5-11.4v11.6m.5-11.1v11.1m.5-10.5v10.2m.5-10.8v8.9m.5-6.8v4.9m.5-5.3v7.2m.5-8v7.2m.5-5.2v4.3m.5-4.3v4.7m.5-7.1v9.4m.5-10.2v11.1m.5-9.2v7.2m.5-6v5.4m.5-7.3v8m.5-6v3.8m.5-3.8v3.8m.5-4.7v5.9m.5-6.1v6.3m.5-7.5v9.1m.5-8.9v9m.5-7.7v6.5m.5-8.3v8.4m.5-7.7v9.2m.5-7.7v5m.5-6.5v9.6m.5-9.2v7.3m.5-8.8v9.8m.5-10.3v11.9m.5-8.9v4.9m.5-5.2v8m.5-8.8v7.9m.5-6.9v5.3m.5-5.2v6.2m.5-5.8v4.1m.5-4v3.8m.5-4.7v5m.5-4.1v3.8m.5-3.8v4m.5-4v3.8m.5-5.1v6.2m.5-6.4v6.4m.5-4.9v3.8m.5-7.4v12.2m.5-11v8.8m.5-8.1v7.3m.5-6v4.2m.5-4.2v4.3m.5-4.8v8.7m.5-9.3v8.2m.5-9.8v9.9m.5-9v7.7m.5-10.7v15.7m.5-12.9v12.7m.5-14v11.1m.5-11.2v12.8m.5-12.7v10.9m.5-8.7v6.5m.5-6v7.4m.5-6.4v4.7m.5-5.5v6m.5-5.2v3.8m.5-3.8v3.8m.5-5.2v8.5m.5-8.1v5.2m.5-4.2v3.8m.5-5.2v7.3m.5-6.6v6.4m.5-7.7v9.7m.5-9.6v6.6m.5-5.3v6.2m.5-8.9v10.4m.5-8.9v6.7m.5-6.5v7.5m.5-6.2v4.7m.5-4.4v4.3m.5-4.3v3.9m.5-3.9v4.8m.5-6.3v7.5m.5-9.3v10.1m.5-10.1v9.8m.5-8.6v10m.5-8.4v6.1m.5-5.6v4.4m.5-4.9v4.4m.5-3.9v3.8m.5-3.8v3.8m.5-5.2v5.2m.5-3.9v3.9m.5-3.8v3.8m.5-3.8v3.8m.5-4.8v5.6m.5-6.7v7.7m.5-8.2v9.3m.5-7.6v5m.5-5.9v10.8m.5-13.5v14.8m.5-14.9v13.6m.5-14.4v12.5m.5-9.8v8.5m.5-6v5.1m.5-6.6v8.3m.5-6.6v3.8m.5-6.4v7.8m.5-7.3v7.6m.5-7.9v10.1m.5-9.7v8.1m.5-7v5.6m.5-6.5v9.3m.5-8.2v5.8m.5-6.1v5.2m.5-5.4v6.9m.5-6.7v6.2m.5-6.9v7.5m.5-8.5v8.7m.5-9.6v14m.5-12.7v7.5m.5-7.5v9.4m.5-9.4v11.6m.5-10.5v7m.5-5.8v3.8m.5-5.5v7m.5-6.7v6m.5-7.6v9.9m.5-9.2v8.2m.5-5.9v3.8m.5-4v4.3m.5-5.1v6.7m.5-6.2v5.7m.5-7.3v8.3m.5-6.6v5.2m.5-6v6.6m.5-5.9v5.2m.5-6.7v7.5m.5-6.1v5.4m.5-4.8v3.8m.5-5.2v7.9m.5-7.2v6.2m.5-5.9v5.8m.5-5.6v5.6m.5-6.2v5.1m.5-5.3v7.6m.5-6.8v4.2m.5-4v4.2m.5-4.6v4.3m.5-3.9v4.5m.5-5.3v5.5m.5-6.9v8.8m.5-9.9v12.1m.5-13.4v10.5m.5-8.9v10.6m.5-12.7v14.1m.5-13v15.4m.5-16.5v12.2m.5-8.5v7.5m.5-6.2v4.9m.5-6.6v7.8m.5-6v3.9m.5-6.7v7.7m.5-7.4v9.5m.5-10.2v12.1m.5-13.3v11.5m.5-8.6v8.4m.5-12.8v16.3m.5-14.5v10.3m.5-6.9v5.8m.5-7.2v6.8m.5-7.3v9.4m.5-12.3v18m.5-15.9v11.9m.5-13.9v14.7m.5-13.2v11.1m.5-9.2v7.8m.5-5.9v4.5m.5-4.4v6.5m.5-9.8v9.8m.5-8.1v6.2m.5-4.6v3.8m.5-8.3v13.6m.5-11.9v11m.5-11.9v11.9m.5-10.5v10.8m.5-10.7v8.8m.5-8.8v8.1m.5-10.1v11.9m.5-8.8v5.7m.5-5.3v6m.5-7.5v8.6m.5-8.3v8.5m.5-9.6v9.5m.5-7.8v7m.5-10.8v15.9m.5-15.2v15.8m.5-15.4v12.1m.5-10v8.9m.5-10.2v11.1m.5-9.7v9m.5-9.1v8.3m.5-7.3v6.8m.5-5.9v3.8m.5-4.8v6.1m.5-6.8v6.2m.5-5.8v7.5m.5-6.5v5m.5-4.7v4.2m.5-5.2v6.8m.5-7.6v7.4m.5-8.2v9.5m.5-10.2v10m.5-10v10.2m.5-9.9v11.5m.5-9.5v7.1m.5-9.2v9m.5-7.3v8.3m.5-9v7.3m.5-7.3v7.5m.5-6.3v5.5m.5-6.1v6.8m.5-6.2v6.1m.5-5.2v3.8m.5-4v5.4m.5-5.4v4m.5-6.1v8.5m.5-9.8v12.5m.5-13.3v15.2m.5-12.9v9.1m.5-9.6v11.5m.5-11.5v9.3m.5-7.6v5.7m.5-5.1v5m.5-7.7v11.1m.5-15.3v16.6m.5-11.8v10m.5-12v12.7m.5-9.8v7.6m.5-7.3v6.3m.5-7.8v11m.5-9v5.5m.5-4.8v3.8m.5-5.1v5.9m.5-4.6v3.8m.5-4.5v5.4m.5-5.9v6.5m.5-5.4v4.6m.5-4.5v3.8m.5-3.8v3.8m.5-3.9v5m.5-4.9v4m.5-4.8v6.4m.5-6.5v6.4m.5-5.5v3.8m.5-3.8v3.8m.5-3.8v3.8m.5-3.8v3.8m.5-3.8v3.9m.5-4.4v5.3m.5-5.2v4.2m.5-3.8v3.8m.5-4.3v4.7m.5-7.1v8.6m.5-8.6v8.9m.5-6.9v6.8m.5-5.9v4.4m.5-5.8v7.4m.5-6.3v4.2m.5-3.9v3.8m.5-3.8v3.8m.5-3.9v4.3m.5-5.7v8.3m.5-7.4v7.3m.5-9.3v9.2m.5-9.3v10.5m.5-9.2v10.2m.5-11.8v10m.5-7.5v5.4m.5-4.9v3.8m.5-3.8v3.8m.5-3.8v3.8m.5-3.8v4.3m.5-4.7v5.4m.5-5v4m.5-4.9v6.1m.5-5.5v5m.5-5.6v6.1m.5-5.3v5.3m.5-5.6v4.9m.5-7.6v9m.5-5.9v4.7m.5-6.5v7.4m.5-6.6v6.2m.5-5.2v3.8m.5-4.8v6.1m.5-6.5v6.4m.5-7.2v8.2m.5-8.6v9.1m.5-8.1v9.1m.5-7.9v4.9m.5-4.6v3.9m.5-3.8v3.8m.5-3.8v3.8m.5-4.2v4.8m.5-5.6v6.7m.5-5.5v4m.5-4v3.8m.5-5.1v6.6m.5-5.9v6.1m.5-5.5v3.8m.5-3.8v3.9m.5-3.9v4.1m.5-4.1v3.8m.5-3.8v3.8m.5-3.8v4.2m.5-4.2v4.3m.5-4.3v3.8m.5-3.8v3.8m.5-3.8v3.8m.5-5.5v6.4m.5-4.7v3.8m.5-4.8v5.4m.5-5.2v6.4m.5-5.7v4.5m.5-4.4v3.9m.5-3.9v3.8m.5-5.8v6.9m.5-4.9v3.8m.5-5.2v7.7m.5-8.3v8.4m.5-7.4v6.8m.5-8.2v7.9m.5-6.9v8.4m.5-10.5v10.1m.5-9.2v8.4m.5-7v6.3m.5-6.4v5.7m.5-4.4v4.2m.5-4.2v3.8m.5-3.8v3.8m.5-3.8v3.8m.5-3.8v4.8m.5-4.8v3.8m.5-3.8v3.8m.5-3.8v3.8m.5-4.9v6.1m.5-5.9v8m.5-8v6m.5-5.1v3.8m.5-3.8v3.8m.5-3.8v3.8m.5-3.8v3.8m.5-3.8v3.8m.5-3.8v4m.5-4.1v4.3m.5-4.4v4.1m.5-3.9v3.8m.5-3.8v3.8m.5-3.8v3.8m.5-3.9v3.9m.5-3.8v3.8m.5-3.8v4.2m.5-4.2v3.8m.5-3.8v3.8m.5-3.8v3.8m.5-6v7.6m.5-5.4v3.8m.5-4.5v4.9m.5-5.9v7.7m.5-9.8v12.8m.5-10.8v8.5m.5-8.1v7.6m.5-6.2v3.8m.5-3.9v4m.5-3.9v3.8m.5-4.7v6.3m.5-6.2v4.8m.5-5.5v6.8m.5-5.4v5.3m.5-6.2v7m.5-8.8v10.5m.5-8v4.7m.5-4.4v3.8m.5-3.9v3.9m.5-3.8v3.8m.5-6.8v9.1m.5-6.6v5.9m.5-7.7v6.9m.5-7.4v9.5m.5-8.5v8.6m.5-11.9v13.5m.5-12.8v11.3m.5-11.2v11.1m.5-12.5v12.3m.5-11.2v15.7m.5-14.4v10.4m.5-11.4v12.4m.5-10.7v8.8m.5-8.6v9.9m.5-9.8v9.3m.5-9v7.5m.5-6.6v6.6m.5-7.1v6.7m.5-6.8v6.9m.5-6.8v7.2m.5-6.9v6.7m.5-7.3v7.8m.5-7.3v9m.5-9.7v7.7m.5-5.8v4.8m.5-5.1v4.5m.5-4v5.2m.5-5.8v5m.5-5.4v5.6m.5-4.6v4.1m.5-4.3v4m.5-3.8v3.8m.5-3.8v4m.5-4.4v6.7m.5-6.3v3.8m.5-4v5.2m.5-5v3.8m.5-3.9v4.7m.5-6.1v7.2m.5-8.1v7.3m.5-7.1v10.2m.5-12.7v12.9m.5-10.8v10.3m.5-9.3v7.5m.5-8.3v9.4m.5-9.2v10.1m.5-10.8v9.6m.5-8.3v9m.5-8.5v6.5m.5-7.4v6.9m.5-7.6v10.2m.5-9.4v8.6m.5-6.7v4m.5-4v3.8m.5-3.8v3.8m.5-3.8v3.8m.5-3.8v3.8m.5-3.8v4.5m.5-4.6v3.9m.5-5.1v6.1m.5-6v6m.5-5.4v6.6m.5-8.6v8.8m.5-8.2v7.3m.5-6.5v8.3m.5-8.4v6.4m.5-5.5v5.2m.5-4.8v3.8m.5-3.8v3.8m.5-4.1v5.5m.5-5.2v3.8m.5-4.6v5.1m.5-5.6v5.6m.5-4.3v3.9m.5-4.1v4m.5-4.6v5.2m.5-5v6m.5-6.2v5.4m.5-5.4v5.8m.5-5.4v6m.5-6.2v6.1m.5-6.1v5.5m.5-4.9v4.1m.5-4.2v4.1m.5-4v3.8m.5-3.8v4.2m.5-4.6v6m.5-5.6v4.9m.5-6.6v7.1m.5-7.1v6.9m.5-6.9v7.4m.5-7.6v7.6m.5-7.3v7.9m.5-8.4v7.6m.5-5.5v6m.5-7.2v5.7m.5-5.6v6.9m.5-7.5v6.5m.5-4.8v4.1m.5-5v5.1m.5-6.2v7.2m.5-6.3v5.7m.5-4.9v4.5m.5-5.2v4.9m.5-3.9v3.8m.5-3.8v3.8m.5-3.8v3.8m.5-3.8v3.8m.5-3.8v3.8m.5-3.8v3.8m.5-3.8v3.8m.5-3.8v3.8m.5-3.8v3.8m.5-3.8v3.8m.5-3.8v3.8m.5-3.8v3.8m.5-3.8v3.8m.5-3.8v3.8m.5-3.8v3.8m.5-3.8v3.8m.5-3.8v3.8m.5-3.8v3.8m.5-3.8v3.8m.5-3.8v3.8m.5-3.8v3.8m.5-3.8v3.8m.5-3.8v4m.5-4v3.8m.5-3.8v3.8m.5-3.8v3.8m.5-3.8v3.8m.5-3.8v3.8m.5-3.8v3.8m.5-3.8v3.8m.5-3.8v3.8m.5-3.8v3.9m.5-3.9v3.8m.5-3.8v3.8m.5-3.8v3.8m.5-3.8v3.8m.5-4.8v4.9m.5-4.6v5.9m.5-6.1v7.3m.5-7.3v6.3m.5-5.6v4.7m.5-5.1v4.7m.5-4.3v4.1m.5-3.9v3.8m.5-3.8v3.8m.5-3.8v3.8m.5-3.8v3.8m.5-3.8v3.8m.5-4.9v6.3m.5-5.2v3.9m.5-3.9v3.8m.5-3.8v3.8m.5-3.8v3.8m.5-3.8v3.8m.5-4v4m.5-3.8v3.8m.5-3.8v3.8m.5-3.8v3.8m.5-4.4v5.3m.5-4.7v3.8m.5-3.8v3.8m.5-3.8v4.1m.5-4.1v4.2m.5-4.2v3.9m.5-3.9v3.8m.5-4.5v4.5m.5-4.1v5.4m.5-5.7v5m.5-5.4v6.2m.5-5.9v5.3m.5-5.2v6m.5-6.8v5.8m.5-5.3v5.6m.5-4.7v4m.5-4v3.8m.5-3.8v3.8m.5-3.8v3.8m.5-3.8v3.8m.5-3.8v4.2m.5-4.2v4.1m.5-4.6v5.1m.5-5.8v5.4m.5-5v6.6m.5-6.7v5.8m.5-5v5m.5-4.9v3.8m.5-3.8v3.8m.5-3.8v3.8m.5-3.8v3.8m.5-3.8v3.8m.5-3.8v3.8m.5-4.2v4.9m.5-4.5v4.5m.5-4.5v4.3m.5-4.3v3.8m.5-4.3v4.3m.5-4.4v4.4m.5-3.8v3.8m.5-3.8v3.8m.5-3.8v3.8m.5-3.8v3.8m.5-3.8v3.8m.5-3.8v3.8m.5-3.8v3.8m.5-3.8v3.8m.5-3.8v3.8m.5-3.8v3.8m.5-3.8v3.8m.5-3.8v3.8m.5-3.8v4m.5-4v3.8m.5-3.8v3.8m.5-3.8v3.8m.5-3.8v4.2m.5-4.2v3.8m.5-3.8v3.8m.5-3.8v3.8m.5-3.8v3.8m.5-3.8v3.8m.5-3.8v3.8m.5-3.8v3.9m.5-3.9v4.7m.5-4.7v4.5m.5-4.6v4.3m.5-4.2v3.8m.5-3.8v3.8m.5-3.8v3.8m.5-3.8v3.8m.5-3.8v3.8m.5-3.8v3.8m.5-4.1v4.6m.5-4.7v4.2m.5-3.8v3.8m.5-3.8v3.8m.5-3.8v3.8m.5-3.8v3.8m.5-3.8v5m.5-5v3.8m.5-3.8v3.8m.5-3.8v3.8m.5-3.8v3.8m.5-3.8v3.8m.5-3.8v3.8m.5-3.8v3.8m.5-3.8v3.8m.5-3.8v3.8m.5-3.8v3.8m.5-3.8v3.8m.5-3.8v3.8m.5-3.8v3.8m.5-3.8v3.8m.5-3.8v3.8m.5-3.8v3.8m.5-3.8v3.8m.5-3.8v3.8m.5-4.2v4.4m.5-4v4.6m.5-4.6v3.8m.5-3.8v3.8m.5-3.8v3.8m.5-3.8v3.8m.5-3.8v3.8m.5-3.8v3.8m.5-3.8v3.8m.5-3.8v3.8m.5-3.8v3.8m.5-3.8v3.8m.5-3.8v3.8" stroke="#0000ff" stroke-opacity="0.6" stroke-width="0.5" fill="none"/>
<path d="M214 701.7v.1m.5-.2v.2m.5-.3v.4m.5-.3v.2m.5-.3v.4m.5-.5v.6m.5-.9v1.1m.5-1.1v1.4m.5-1.7v2.3m.5-2.7v2.7m.5-1.9v1.1m.5-1.3v1.4m.5-1.6v2.3m.5-2.3v1.8m.5-1.9v2.4m.5-1.8v.9m.5-.9v.8m.5-1.2v1.7m.5-2.3v3m.5-3.3v3.5m.5-3v2.8m.5-2.3v1.7m.5-3.1v4m.5-3.5v3.5m.5-3.3v3.2m.5-3.6v3.9m.5-4v5m.5-5v4.2m.5-4.1v3.3m.5-2.9v2.6m.5-1.8v1.4m.5-2v2.9m.5-4.1v4.7m.5-3.4v2.5m.5-2.6v2.9m.5-3.6v4.9m.5-4.3v2.9m.5-2.4v1.8m.5-2.3v2.8m.5-2v1m.5-1.2v1.5m.5-1.2v1m.5-1.5v2.4m.5-1.9v1.1m.5-2v2.9m.5-2.2v1.3m.5-1.3v1.3m.5-1.3v1.3m.5-2.7v3.8m.5-3.4v3.6m.5-4v3.7m.5-4.3v5.2m.5-4.9v5m.5-4.9v4.3m.5-4.7v5.7m.5-5.1v3.7m.5-3.6v3.7m.5-4.6v6m.5-6.1v6.2m.5-5.8v6m.5-6.8v6.6m.5-6.1v6m.5-5.5v5.4m.5-5.3v4.4m.5-3.1v1.9m.5-2.8v3.9m.5-3.7v3.5m.5-3.3v2.8m.5-2.5v2.3m.5-2.1v2.1m.5-2.7v2.9m.5-3.1v4.1m.5-4.6v3.9m.5-3.6v3.8m.5-2.5v1.4m.5-2.6v4.1m.5-4v3.4m.5-3.4v3.4m.5-3.3v3.3m.5-3.5v4.1m.5-4.8v5m.5-4.1v3.5m.5-4.7v7m.5-8v7.2m.5-5.6v5.1m.5-5.9v6.7m.5-6.1v4.6m.5-5.1v6.2m.5-5v4.3m.5-4.4v4.2m.5-3.9v2.9m.5-4.2v5.3m.5-4.5v4.7m.5-5.2v6.7m.5-5.6v3.4m.5-3.7v3.9m.5-3.4v2.7m.5-3.7v5.6m.5-5.5v5.7m.5-7v5.8m.5-4.9v6.3m.5-6.7v6.4m.5-5.8v6.2m.5-5.7v4.1m.5-3.3v2.3m.5-3.6v4.3m.5-5v5.7m.5-4.1v3.2m.5-3.9v4.5m.5-5.6v7m.5-6.5v6.4m.5-4.9v2.5m.5-3.4v3.9m.5-3.1v2.9m.5-3.2v3.6m.5-3.6v3.9m.5-3.4v2.9m.5-3.8v4m.5-3.9v3.9m.5-3.5v2.7m.5-3.2v4.7m.5-5.2v4.8m.5-3.5v2.7m.5-2v1.1m.5-2.4v3.8m.5-5.2v7.1m.5-5.9v4.4m.5-3.7v2.4m.5-1.9v1.7m.5-2.4v3.1m.5-2.7v2.2m.5-2.5v2.8m.5-4.6v5.5m.5-5.2v7.6m.5-8v8m.5-7.3v6.1m.5-7v7.9m.5-9.7v9.6m.5-7.7v8.7m.5-8.7v7.4m.5-8.6v8m.5-5v3.5m.5-4.7v5.7m.5-4.4v3.5m.5-5.7v8.4m.5-7.6v5.4m.5-4.4v4.7m.5-4.6v3.8m.5-3.2v2.6m.5-2.3v1.8m.5-2.6v3.7m.5-4v4m.5-3.5v4.2m.5-3.6v2.2m.5-2.3v2.4m.5-2.5v2.4m.5-2.1v1.7m.5-1.2v.7m.5-.6v.4m.5-.5v.6m.5-.7v1m.5-.8v.5m.5-1v1.6m.5-1.8v1.9m.5-1.7v1.2m.5-1v1.1m.5-1v.8m.5-1v1.3m.5-1.1v.8m.5-1.3v1.8m.5-1.6v1.6m.5-1.4v1.2m.5-1v.7m.5-.9v1.1m.5-.9v.8m.5-1v.9m.5-.8v.8m.5-.6v.5m.5-.6v.7m.5-.9v1.1m.5-1.4v1.5m.5-1.4v1.5m.5-1.3v1.2m.5-1.1v.8m.5-1v1.1m.5-1v1m.5-1v.9m.5-1.4v1.8m.5-1.2v1m.5-1v.8m.5-.6v.5m.5-.5v.5m.5-.5v.4m.5-.6v1.1m.5-1.4v1.5m.5-1.3v1.1m.5-.9v.6m.5-.7v.8m.5-.8v.8m.5-.8v.9m.5-.9v.8m.5-.8v1m.5-.9v.8m.5-1v.9m.5-.8v.9m.5-.8v.6m.5-.5v.5m.5-.5v.3m.5-.3v.4m.5-.7v1m.5-1.3v1.3m.5-1.3v1.6m.5-1.4v1.3m.5-1.2v1m.5-.8v.5m.5-.6v.9m.5-.9v.7m.5-.5v.5m.5-.6v.6m.5-.7v.8m.5-.8v.9m.5-.9v.8m.5-.7v.7m.5-.7v.6m.5-.4v.2m.5-.2v.2m.5-.4v.6m.5-.6v.6m.5-.7v.9m.5-.9v1m.5-.9v.5m.5-.6v.8m.5-.8v.8m.5-.6v.4m.5-.5v.8m.5-.8v.6m.5-.6v.7m.5-.9v1m.5-.7v.5m.5-.6v.6m.5-.5v.5m.5-.5v.4m.5-.4v.4m.5-.4v.3m.5-.2v.2m.5-.3v.3m.5-.2v.2m.5-.2v.2m.5-.2v.2m.5-.3v.4m.5-.4v.3m.5-.2v.2m.5-.3v.5m.5-.5v.4m.5-.4v.4m.5-.3v.2m.5-.2v.2m.5-.3v.4m.5-.4v.4m.5-.5v.6m.5-.5v.4m.5-.5v.6m.5-.6v.6m.5-.6v.6m.5-.5v.4m.5-.4v.5m.5-.4v.2m.5-.2v.2m.5-.2v.2m.5-.2v.2m.5-.2v.1m.5-.1v.1m.5-.1v.2m.5-.2v.2m.5-.1v.1m.5-.2v.2m.5-.2v.2m.5-.2v.2m.5-.2v.1m.5-.1v.1m.5-.1v.2m.5-.2v.1m.5-.1v.1m.5 0v.1m.5-.1v.1m.5-.1v.1m.5-.1v.1m.5-.1v.1m.5-.1v.1m.5-.1v.1m34-.3v.3m.5-.6v.9m.5-1.1v1.4m.5-1.6v2m.5-2.5v2.7m.5-2.9v3.2m.5-2.4v1.7m.5-1.6v1.5m.5-2v2.8m.5-2.2v1.3m.5-2v2.4m.5-2.1v2.1m.5-2.6v4.2m.5-4.9v4.2m.5-3.4v2.9m.5-3.5v4.5m.5-4.6v4m.5-2.7v1.7m.5-2.1v2.5m.5-2.7v3.2m.5-4.4v6.3m.5-5.8v4.7m.5-5v5.6m.5-4.9v4.1m.5-3.5v2.6m.5-2.3v1.8m.5-1.7v1.8m.5-2.5v3.3m.5-2.9v2m.5-1.6v1.2m.5-2.1v3.3m.5-3.9v4.5m.5-4.5v3.7m.5-3.1v3.3m.5-3.6v3.7m.5-3.5v3.3m.5-4v4.8m.5-3.3v1.7m.5-1.8v2.2m.5-2.8v2.7m.5-2.7v3.1m.5-3.5v3.9m.5-3.4v2.5m.5-3.8v5.1m.5-5.5v6.5m.5-5.9v5.5m.5-4.5v3.3m.5-3.5v4.2m.5-4.2v4.1m.5-4v3.4m.5-2.9v2.8m.5-2.3v1.2m.5-1.7v2.7m.5-2.7v2.3m.5-2.1v2.2m.5-2.4v2.2m.5-1.8v1.5m.5-1.9v2.2m.5-2.2v2.7m.5-3v3.1m.5-3.2v3.1m.5-3.5v3.6m.5-3.5v3.8m.5-3.2v2.8m.5-3.5v3.6m.5-3.6v4.4m.5-3.9v3.2m.5-3.2v2.6m.5-2.3v2.2m.5-2.2v2.8m.5-3v2.5m.5-2v1.6m.5-1.7v2.3m.5-2.1v1.3m.5-2.5v4m.5-4v4.6m.5-4.7v5.1m.5-5.1v4.3m.5-4.3v3.9m.5-4.2v4.7m.5-3.8v2.6m.5-2.3v2.2m.5-2.8v3.7m.5-3.4v3m.5-2.3v1.6m.5-1.2v.5m68-.3v.1m.5-.1v.2m.5-.2v.2m.5-.2v.2m.5-.2v.2m.5-.2v.2m.5-.2v.2m.5-.2v.3m.5-.4v.4m.5-.3v.2m.5-.2v.2m.5-.2v.2m.5-.2v.1m.5-.2v.4m.5-.3v.2m.5-.3v.3m.5-.3v.3m.5-.3v.4m.5-.5v.6m.5-.5v.4m.5-.5v.5m.5-.5v.5m.5-.4v.5m.5-.6v.6m.5-.6v.6m.5-.6v.5m.5-.5v.6m.5-.5v.4m.5-.4v.3m.5-.2v.2m.5-.2v.2m.5-.2v.2m.5-.3v.3m.5-.3v.4m.5-.4v.4m.5-.4v.4m.5-.4v.3m.5-.2v.2m.5-.2v.2m.5-.2v.2m.5-.2v.2m.5-.2v.2m.5-.2v.2m.5-.2v.2m.5-.2v.2m.5-.2v.2m.5-.2v.3m.5-.3v.2m.5-.2v.2m.5-.2v.1m.5-.1v.2m.5-.2v.2m.5-.3v.3m.5-.3v.4m.5-.5v.5m.5-.4v.5m.5-.5v.4m.5-.4v.4m.5-.4v.4" stroke="#0000ff" stroke-opacity="0.5" stroke-width="0.5" fill="none"/>
<path d="M44 699.8L44.5 699L45 700.8L45.5 700.8L46 698.9L46.5 698.5L47 697.9L47.5 698.3L48 699.2L48.5 699.4L49 697.9L49.5 698.4L50 698.8L50.5 698.8L51 698.3L51.5 697.6L52 698.1L52.5 698.9L53 699.4L53.5 697.7L54 698.9L54.5 698.1L55 700.5L55.5 699.6L56 698.4L56.5 698.3L57 698.6L57.5 698.9L58 699.8L58.5 699.4L59 698.6L59.5 699.2L60 698.7L60.5 698.7L61 699.1L61.5 700.1L62 699.1L62.5 699.5L63 699.6L63.5 699.3L64 698.6L64.5 698.9L65 697.8L65.5 697.8L66 699L66.5 698.8L67 698.9L67.5 698.3L68 698.1L68.5 699L69 698.5L69.5 699L70 699.3L70.5 699.3L71 700.2L71.5 699.5L72 699L72.5 698.2L73 697.7L73.5 697.6L74 698.3L74.5 699.5L75 699.8L75.5 698.2L76 699L76.5 699L77 699.8L77.5 699.6L78 698.9L78.5 698.1L79 699L79.5 699.8L80 698.3L80.5 698.6L81 700.5L81.5 700.2L82 700.3L82.5 700L83 699.4L83.5 700.6L84 699.8L84.5 699.3L85 698.4L85.5 698.2L86 699.8L86.5 699L87 700.5L87.5 699.4L88 698.6L88.5 699.3L89 698.8L89.5 697.7L90 697.9L90.5 698.7L91 698.3L91.5 697.6L92 698.4L92.5 698.3L93 698.8L93.5 700.1L94 699.9L94.5 698.4L95 699.1L95.5 699.4L96 698.1L96.5 697.1L97 697.6L97.5 699.1L98 699.2L98.5 699.2L99 699L99.5 699.4L100 698.5L100.5 698.7L101 699.8L101.5 698.5L102 698.5L102.5 699.7L103 700.1L103.5 699.9L104 700.3L104.5 698.4L105 699.1L105.5 699.6L106 700.5L106.5 699.5L107 700L107.5 699.2L108 698.1L108.5 699L109 699.7L109.5 698.8L110 698.7L110.5 699.7L111 699.2L111.5 699L112 699.2L112.5 699.3L113 698.4L113.5 699.3L114 699.4L114.5 698.6L115 700L115.5 698.1L116 699.9L116.5 699.3L117 699.7L117.5 699.9L118 698.6L118.5 699.1L119 698.9L119.5 697.4L120 697.9L120.5 698.5L121 699.4L121.5 698.5L122 699.7L122.5 698.2L123 697.8L123.5 699L124 698.7L124.5 699.9L125 698.6L125.5 699L126 699.8L126.5 699.2L127 697.6L127.5 698.7L128 697.9L128.5 698L129 697.9L129.5 698.7L130 699.4L130.5 697.8L131 698.4L131.5 699.5L132 699.4L132.5 698.7L133 699.3L133.5 697.9L134 699.3L134.5 699.4L135 699.7L135.5 698.8L136 699.2L136.5 700.4L137 699.3L137.5 698.5L138 699.1L138.5 699.5L139 699.1L139.5 699.6L140 698.2L140.5 699.3L141 697.9L141.5 698.3L142 697L142.5 699.1L143 697.6L143.5 698.1L144 699.1L144.5 698.6L145 699.2L145.5 698L146 698.2L146.5 697.6L147 697.6L147.5 697.8L148 698.6L148.5 699.4L149 698.7L149.5 698.9L150 699.3L150.5 699.8L151 698.4L151.5 698L152 697.1L152.5 696.8L153 698.8L153.5 699L154 698.3L154.5 699.8L155 700.3L155.5 699.6L156 699.1L156.5 698.5L157 699.6L157.5 697.5L158 699.3L158.5 699.3L159 698.1L159.5 698L160 698.6L160.5 698.3L161 699.1L161.5 700.6L162 699.8L162.5 700.5L163 699.7L163.5 699.3L164 697.8L164.5 698.3L165 697.9L165.5 698L166 697.8L166.5 696.8L167 697L167.5 696.6L168 698.9L168.5 697.8L169 697.6L169.5 699.4L170 698.9L170.5 698.1L171 698.1L171.5 697.5L172 698L172.5 698.8L173 699.9L173.5 699.8L174 698.5L174.5 700.2L175 698.4L175.5 700.3L176 698.5L176.5 697.9L177 698.4L177.5 699.5L178 699L178.5 697.2L179 698.8L179.5 698.5L180 698.9L180.5 698.9L181 697.5L181.5 698.7L182 697.7L182.5 699.6L183 698.9L183.5 698.8L184 698.2L184.5 698L185 698.1L185.5 698.3L186 699.3L186.5 699.2L187 697.3L187.5 699.1L188 697.4L188.5 699L189 697.7L189.5 699.2L190 699L190.5 700.5L191 701.3L191.5 699.6L192 699.1L192.5 699.4L193 700.3L193.5 699.5L194 700.3L194.5 698.3L195 699.1L195.5 698.7L196 698.4L196.5 698.1L197 699.5L197.5 699L198 698.8L198.5 699.1L199 700.3L199.5 700.7L200 699.1L200.5 700.4L201 701.1L201.5 700.3L202 698.8L202.5 698L203 698.5L203.5 700.1L204 699.1L204.5 698.4L205 700.8L205.5 700.4L206 700.4L206.5 699L207 699.3L207.5 701.5L208 700.1L208.5 698.8L209 700.6L209.5 698.8L210 697.2L210.5 697.3L211 697.8L211.5 697L212 696.9L212.5 696.2L213 697.3L213.5 697.5L214 698.8L214.5 697.7L215 698.1L215.5 697.4L216 698.3L216.5 696.6L217 699.2L217.5 698.5L218 697.7L218.5 695.2L219 696L219.5 694.4L220 696.4L220.5 697.3L221 698.2L221.5 698.7L222 697.4L222.5 695.6L223 697.1L223.5 699.4L224 698.7L224.5 700.5L225 698.8L225.5 699.6L226 698L226.5 697.5L227 697.6L227.5 698.8L228 698.9L228.5 699.1L229 697.8L229.5 698L230 698.8L230.5 696.5L231 695.4L231.5 696.5L232 695.6L232.5 695.7L233 699.1L233.5 696.9L234 696.9L234.5 696.6L235 695.4L235.5 697.3L236 698.3L236.5 697.5L237 699.9L237.5 698.7L238 699.1L238.5 696.8L239 699.2L239.5 699.4L240 698L240.5 697.2L241 697.7L241.5 698.6L242 697.7L242.5 698.6L243 699L243.5 700.7L244 699.5L244.5 698.8L245 699.1L245.5 701.4L246 700.3L246.5 700.8L247 702L247.5 698.5L248 696.6L248.5 698.1L249 697.6L249.5 699.1L250 699.5L250.5 699.8L251 698.1L251.5 698L252 696.9L252.5 696.6L253 696.5L253.5 698.5L254 700.7L254.5 701.1L255 703L255.5 701.5L256 701.4L256.5 699.5L257 699.2L257.5 701.9L258 702.4L258.5 701.4L259 699.4L259.5 701.5L260 698.9L260.5 697.2L261 697.2L261.5 696.2L262 696.7L262.5 700.2L263 700.1L263.5 699.2L264 699.3L264.5 698.5L265 698.6L265.5 697.8L266 699.2L266.5 698.6L267 699.7L267.5 700.1L268 699.3L268.5 699.3L269 697.8L269.5 696.9L270 696.4L270.5 696.2L271 696.2L271.5 698.2L272 699.2L272.5 697.1L273 697.1L273.5 696.9L274 693.8L274.5 694.4L275 693.9L275.5 693.6L276 694.1L276.5 696.4L277 694.3L277.5 696.1L278 696.5L278.5 698.7L279 697.1L279.5 698.9L280 700.2L280.5 701.9L281 700.3L281.5 700.7L282 700.3L282.5 699.9L283 699L283.5 698.6L284 699.5L284.5 699.5L285 699.3L285.5 699.1L286 698.7L286.5 699.7L287 699.5L287.5 699.3L288 702.6L288.5 701L289 701.9L289.5 701.9L290 701L290.5 697.2L291 698L291.5 694.6L292 695.3L292.5 695.6L293 694.7L293.5 693.3L294 698.2L294.5 696.6L295 699.1L295.5 698.2L296 698.2L296.5 699.5L297 700.1L297.5 699.6L298 698.9L298.5 697.8L299 697.2L299.5 698L300 700L300.5 698.1L301 697.7L301.5 700.3L302 697.8L302.5 697.6L303 696.7L303.5 694.7L304 696.4L304.5 697.6L305 696.6L305.5 697.7L306 698.3L306.5 696.6L307 696.6L307.5 696.7L308 696.7L308.5 697.7L309 697.7L309.5 696L310 696.6L310.5 697.1L311 695.4L311.5 695.9L312 695.9L312.5 694.8L313 694.3L313.5 697.5L314 697L314.5 697.6L315 696.9L315.5 699.4L316 698.5L316.5 699.9L317 697.3L317.5 697.3L318 695.8L318.5 696.8L319 696.9L319.5 696.7L320 697.6L320.5 699.3L321 699.4L321.5 697.6L322 697.6L322.5 699.1L323 699.6L323.5 697.7L324 697.3L324.5 697L325 698.2L325.5 696.1L326 698.3L326.5 696.2L327 697.7L327.5 695.2L328 695.6L328.5 696.2L329 695.5L329.5 695.9L330 694.2L330.5 695.6L331 695.8L331.5 694.9L332 697.2L332.5 698.3L333 698.2L333.5 697.7L334 698.8L334.5 697.7L335 697.8L335.5 697.6L336 698.9L336.5 697.2L337 695.7L337.5 696.1L338 695.9L338.5 697.2L339 698.9L339.5 698.8L340 699.4L340.5 698.3L341 697.9L341.5 696.5L342 699.2L342.5 698.4L343 697.6L343.5 698.5L344 699.4L344.5 698.5L345 697L345.5 698L346 698.2L346.5 699.5L347 700.5L347.5 699.9L348 698L348.5 699.2L349 700.3L349.5 700.1L350 699.8L350.5 699.7L351 697.1L351.5 697.9L352 699.4L352.5 697.7L353 698.8L353.5 698.3L354 699.7L354.5 700.4L355 699.6L355.5 701.5L356 700.3L356.5 699.5L357 697.7L357.5 700.1L358 698.8L358.5 698.4L359 699.6L359.5 700.8L360 698L360.5 698.3L361 696.4L361.5 696.2L362 696.7L362.5 697.9L363 698.3L363.5 699.9L364 699.3L364.5 698.1L365 699.8L365.5 699.3L366 701.2L366.5 700.9L367 701.4L367.5 700.8L368 699.5L368.5 699.4L369 698.5L369.5 695.6L370 696.7L370.5 697.8L371 698.1L371.5 698.9L372 699.6L372.5 699.4L373 700.1L373.5 698.6L374 698.1L374.5 699L375 697.2L375.5 697.9L376 695.6L376.5 696.8L377 695.5L377.5 697.1L378 696.5L378.5 696.2L379 697.7L379.5 696.2L380 695.1L380.5 697.3L381 697.1L381.5 698.2L382 698.6L382.5 699.2L383 697.8L383.5 697.9L384 697.8L384.5 697.9L385 699.4L385.5 698.7L386 699.3L386.5 697.7L387 699L387.5 697L388 697.5L388.5 696.2L389 697.4L389.5 697.6L390 698.4L390.5 699.1L391 700.2L391.5 698.3L392 700.2L392.5 698.9L393 698.2L393.5 697.5L394 694.5L394.5 696.5L395 699.7L395.5 699L396 697.5L396.5 700.2L397 699.3L397.5 700.9L398 700.5L398.5 699.1L399 698.7L399.5 696.2L400 697.5L400.5 697.3L401 698.9L401.5 700.8L402 701.8L402.5 701.8L403 701L403.5 703.3L404 697.6L404.5 696.4L405 696.2L405.5 697L406 697.3L406.5 700.3L407 699.3L407.5 700.5L408 699.6L408.5 697.7L409 697.3L409.5 697.4L410 699.7L410.5 700L411 699.4L411.5 698.3L412 698L412.5 698.3L413 695.5L413.5 695.9L414 695.6L414.5 696.5L415 696L415.5 696.4L416 700.3L416.5 699.9L417 701.8L417.5 699.7L418 699.4L418.5 699.6L419 699.4L419.5 699.4L420 700.4L420.5 701.1L421 698.2L421.5 699.4L422 698.1L422.5 699.6L423 698.7L423.5 699.3L424 698.7L424.5 699.7L425 699L425.5 698.1L426 697.9L426.5 698.6L427 697.7L427.5 699.4L428 696.7L428.5 699.2L429 699.1L429.5 698.2L430 698.2L430.5 698.8L431 696.8L431.5 696.9L432 697L432.5 694.7L433 697.5L433.5 697.2L434 697L434.5 695.8L435 697.3L435.5 698.3L436 698.9L436.5 697.9L437 699.4L437.5 699.5L438 697.1L438.5 697.5L439 699.4L439.5 698.6L440 700.1L440.5 697.8L441 699.3L441.5 698.6L442 697.8L442.5 698.8L443 698.7L443.5 698.9L444 699.8L444.5 698.7L445 700.3L445.5 697.6L446 699.5L446.5 697.8L447 697.5L447.5 697.4L448 697L448.5 699.8L449 699.7L449.5 700.7L450 701L450.5 700.5L451 699.8L451.5 699.9L452 699.9L452.5 699.1L453 699.7L453.5 701.4L454 701.5L454.5 700.7L455 700.3L455.5 701.1L456 699.8L456.5 699.2L457 701.4L457.5 698L458 698.4L458.5 699.8L459 699.3L459.5 698.8L460 699L460.5 699.6L461 698.7L461.5 699.2L462 698.3L462.5 697.1L463 697.8L463.5 697L464 699.5L464.5 700.7L465 701.3L465.5 698.6L466 699.4L466.5 699.6L467 701.5L467.5 701L468 698.9L468.5 698.6L469 698.5L469.5 698.9L470 700.2L470.5 701L471 700.1L471.5 699L472 701L472.5 700.2L473 697.7L473.5 699L474 697.9L474.5 698L475 698.1L475.5 698.2L476 699.7L476.5 698.7L477 699.6L477.5 699.1L478 700.8L478.5 698.4L479 698.5L479.5 699.7L480 701L480.5 698.9L481 699.8L481.5 699.8L482 700.4L482.5 698.6L483 699.3L483.5 697.3L484 698.5L484.5 698.2L485 699.2L485.5 700L486 699.5L486.5 699.3L487 699.3L487.5 699.4L488 699.5L488.5 698.5L489 698.7L489.5 699L490 698.6L490.5 697.3L491 698.4L491.5 698L492 700.6L492.5 698.9L493 699.5L493.5 699.7L494 699.1L494.5 698.7L495 699.4L495.5 699L496 699.4L496.5 699.9L497 699.2L497.5 700.9L498 701.1L498.5 698.8L499 698L499.5 698.3L500 697L500.5 697L501 698.1L501.5 697L502 695.5L502.5 698.5L503 699.5L503.5 697L504 697.8L504.5 699.2L505 699.6L505.5 696.4L506 698.7L506.5 696.6L507 697L507.5 696.5L508 697.7L508.5 698.6L509 697.9L509.5 698.7L510 695.9L510.5 697.8L511 696L511.5 698.2L512 698.3L512.5 697.2L513 697.6L513.5 699.1L514 695.9L514.5 696.2L515 697.6L515.5 697.3L516 697L516.5 700L517 699.1L517.5 698.5L518 699.1L518.5 699.5L519 699.1L519.5 698.9L520 700.1L520.5 700.2L521 698L521.5 697.9L522 698.7L522.5 700.6L523 700.3L523.5 700.8L524 698.6L524.5 699.7L525 697.2L525.5 697.7L526 697L526.5 698.1L527 698.1L527.5 699L528 698.1L528.5 699.1L529 697.5L529.5 695.5L530 695.9L530.5 694.6L531 695.6L531.5 696.6L532 698L532.5 697.7L533 698L533.5 700L534 700.2L534.5 698.6L535 697.3L535.5 698.2L536 697.1L536.5 695.8L537 697L537.5 700.1L538 700.4L538.5 700.2L539 700L539.5 700L540 700.9L540.5 699.2L541 699.6L541.5 699.3L542 698.4L542.5 696.6L543 698.5L543.5 698.2L544 699.2L544.5 699.4L545 698.6L545.5 698.6L546 699.5L546.5 697.8L547 698.7L547.5 699.3L548 699.5L548.5 699.2L549 699.9L549.5 698.4L550 698.5L550.5 699.8L551 698.3L551.5 697.5L552 699.9L552.5 699.5L553 698.2L553.5 699.9L554 699.5L554.5 698.7L555 699L555.5 699L556 699L556.5 698.6L557 699.8L557.5 698.6L558 697.5L558.5 697.7L559 697.1L559.5 697.1L560 697.5L560.5 698.9L561 699.2L561.5 698L562 698.9L562.5 698.5L563 699.6L563.5 699L564 700.4L564.5 699.7L565 698.9L565.5 698.8L566 699.2L566.5 698L567 699.1L567.5 699.3L568 699.6L568.5 699L569 699.5L569.5 698.5L570 699.6L570.5 698.4L571 700.3L571.5 698.5L572 698.5L572.5 699.5L573 699.4L573.5 700.2L574 700.6L574.5 699.1L575 699.1L575.5 699.8L576 699.8L576.5 697.7L577 697L577.5 697.9L578 698.9L578.5 697.5L579 699.4L579.5 699.7L580 698.1L580.5 699L581 699.4L581.5 699.8L582 699.5L582.5 700.1L583 700.1L583.5 699.2L584 699L584.5 699.6L585 698.5L585.5 698.8L586 700.7L586.5 699L587 700.4L587.5 699.3L588 698.8L588.5 699.6L589 700.2L589.5 699.9L590 701L590.5 698.9L591 699.7L591.5 699.7L592 698.3L592.5 700.2L593 699.5L593.5 699.4L594 698.9L594.5 698.9L595 698.4L595.5 698.6L596 698.8L596.5 698.3L597 697.8L597.5 698.5L598 699L598.5 698.3L599 699.3L599.5 698.4L600 698.3L600.5 698.9L601 699.2L601.5 698.5L602 698.2L602.5 699L603 698.1L603.5 699.2L604 700.3L604.5 698.6L605 698.6L605.5 700.3L606 698.4L606.5 699.3L607 699.4L607.5 698L608 699.5L608.5 698.3L609 698.1L609.5 698.5L610 698.9L610.5 698.1L611 698.9L611.5 699.2L612 699.8L612.5 699.3L613 700.3L613.5 699.5L614 698.3L614.5 698.5L615 699.5L615.5 698.3L616 697.9L616.5 699.4L617 700.1L617.5 700.4L618 699L618.5 698.3L619 699L619.5 697.3L620 699.4L620.5 698.8L621 698L621.5 698.6L622 699L622.5 700.1L623 698.4L623.5 699.2L624 700.1L624.5 699.2L625 699.7L625.5 699.2L626 699.6L626.5 699.1L627 699.7L627.5 698.2L628 698L628.5 699.5L629 699.3L629.5 698.9L630 698.9L630.5 698.3L631 699L631.5 699.2L632 698.8L632.5 699.1L633 700.1L633.5 699.4L634 699.1L634.5 698.5L635 698.1L635.5 698L636 699L636.5 698.8L637 697.6L637.5 698.7L638 699.8L638.5 699.9L639 700.2L639.5 699.1L640 700.4L640.5 699.8L641 698.5L641.5 698.7L642 698L642.5 697.7L643 699.6L643.5 699L644 699.5L644.5 699L645 698.7L645 703.6L644.5 703.7L644 703.5L643.5 704.8L643 703.1L642.5 704.9L642 704.4L641.5 703.2L641 703.5L640.5 703.6L640 703.7L639.5 705.3L639 704L638.5 703.8L638 703.9L637.5 703.4L637 704.3L636.5 703.3L636 703.8L635.5 704.1L635 704.6L634.5 704.6L634 705L633.5 704.3L633 703.6L632.5 705.2L632 704.6L631.5 702.5L631 703.3L630.5 704.5L630 703.1L629.5 703.9L629 703.3L628.5 703.2L628 705L627.5 705.2L627 704.3L626.5 706.5L626 705.3L625.5 705.6L625 704.7L624.5 704.8L624 703.4L623.5 704.7L623 705.1L622.5 704L622 705.5L621.5 705.6L621 705L620.5 704L620 703.2L619.5 704.4L619 703.4L618.5 705.3L618 704.9L617.5 703.7L617 704L616.5 704.2L616 705.2L615.5 704.8L615 703.4L614.5 704.8L614 705.4L613.5 704.6L613 704.7L612.5 705.8L612 705.6L611.5 705.7L611 705.7L610.5 705.4L610 704.2L609.5 704.3L609 703.9L608.5 703.7L608 702.9L607.5 704.5L607 703.7L606.5 704.2L606 705.2L605.5 703.8L605 705.5L604.5 705.5L604 704.7L603.5 705L603 705.6L602.5 704.8L602 704.4L601.5 704L601 703.3L600.5 704L600 705.1L599.5 704.7L599 703.1L598.5 704.1L598 703.5L597.5 703.3L597 704.2L596.5 703.4L596 702.8L595.5 703L595 704.2L594.5 704.6L594 705.5L593.5 706.8L593 706.1L592.5 704.6L592 706L591.5 705.3L591 704.8L590.5 706L590 705L589.5 706.1L589 704.3L588.5 704.5L588 705.1L587.5 704.8L587 704.2L586.5 706.6L586 704.9L585.5 705.6L585 704.6L584.5 704L584 704L583.5 704.4L583 704.6L582.5 704.9L582 704.5L581.5 703.9L581 704.7L580.5 704.9L580 705.1L579.5 703.6L579 703.2L578.5 703.2L578 702.4L577.5 703L577 703.7L576.5 704.4L576 704.3L575.5 703.8L575 705.9L574.5 706.4L574 704.5L573.5 704L573 705.1L572.5 704.9L572 705.5L571.5 705.1L571 704L570.5 704.8L570 703.3L569.5 705.2L569 705.1L568.5 704.7L568 704.9L567.5 705.3L567 705.2L566.5 705.3L566 703.8L565.5 705.3L565 706.1L564.5 706L564 704.7L563.5 706.1L563 703.6L562.5 704.6L562 703.7L561.5 705.1L561 703.5L560.5 704.6L560 705.2L559.5 704.3L559 705.2L558.5 704.8L558 704.9L557.5 704.2L557 704.1L556.5 705.3L556 706.1L555.5 705.8L555 704.4L554.5 704.2L554 705.2L553.5 703.9L553 705.4L552.5 705L552 705.3L551.5 703.9L551 703.6L550.5 703.5L550 703.7L549.5 704.2L549 704.7L548.5 704.9L548 704.2L547.5 705.1L547 705.1L546.5 705L546 703.7L545.5 705.1L545 705.8L544.5 704.1L544 703.3L543.5 703.4L543 702.4L542.5 703.1L542 703.5L541.5 705.2L541 706.4L540.5 706.8L540 705.2L539.5 707.2L539 707.4L538.5 706.1L538 704.3L537.5 705.1L537 705L536.5 703.6L536 701.9L535.5 704.7L535 705.5L534.5 704.7L534 704.2L533.5 705.7L533 704.2L532.5 703.7L532 704.6L531.5 702.4L531 702L530.5 703.7L530 703.2L529.5 701.9L529 705.8L528.5 704L528 706.4L527.5 705.2L527 705.8L526.5 703.2L526 704.1L525.5 704.2L525 704.8L524.5 704L524 705.7L523.5 705L523 704.9L522.5 705.4L522 706.9L521.5 705.5L521 706.7L520.5 704.5L520 705.3L519.5 706.3L519 707.6L518.5 705.2L518 705.3L517.5 703.9L517 703.7L516.5 704.7L516 705.4L515.5 704L515 704.5L514.5 704.6L514 703.7L513.5 703.5L513 703.7L512.5 704.1L512 703.2L511.5 703.8L511 703.6L510.5 702.9L510 704.8L509.5 703.7L509 703.4L508.5 705.4L508 705.2L507.5 705.5L507 705.1L506.5 705.4L506 703.1L505.5 704.9L505 704.8L504.5 706.1L504 706.9L503.5 705.8L503 706.7L502.5 703.5L502 703.4L501.5 703.2L501 703L500.5 701.8L500 704.5L499.5 706L499 705.6L498.5 705.6L498 705.2L497.5 705.4L497 705.4L496.5 704.3L496 705.1L495.5 705.5L495 705L494.5 705.6L494 707.1L493.5 707.2L493 705.4L492.5 705.4L492 704.6L491.5 706L491 703.4L490.5 705.4L490 705.1L489.5 704.2L489 705.4L488.5 706.5L488 706.3L487.5 706.9L487 705.9L486.5 705.8L486 705.3L485.5 704.3L485 703L484.5 704.8L484 705L483.5 705.6L483 703.6L482.5 704.8L482 704.3L481.5 705.5L481 705.9L480.5 706.4L480 704.8L479.5 704.9L479 704.6L478.5 705.4L478 705.1L477.5 707L477 706.6L476.5 706.3L476 705.5L475.5 704.8L475 704.4L474.5 704.1L474 705.2L473.5 704L473 705.9L472.5 704.4L472 705.8L471.5 706.2L471 706.1L470.5 705.4L470 705.2L469.5 703.2L469 706.1L468.5 706.7L468 707.2L467.5 704.8L467 706.5L466.5 707L466 707.1L465.5 707L465 705.3L464.5 704.6L464 704.5L463.5 705L463 704.4L462.5 704.3L462 703.6L461.5 704.1L461 705.9L460.5 705.4L460 706.8L459.5 705.3L459 706L458.5 705.3L458 706L457.5 706.2L457 705.9L456.5 706.7L456 706.3L455.5 706.1L455 708L454.5 705.3L454 705.9L453.5 706.3L453 705.5L452.5 704.4L452 705L451.5 705.8L451 705.7L450.5 706.7L450 706.9L449.5 706L449 705L448.5 704L448 705.4L447.5 703.8L447 703.8L446.5 704.2L446 704L445.5 705.8L445 704.4L444.5 705.8L444 704.3L443.5 703.7L443 705.6L442.5 703.3L442 705.5L441.5 705.7L441 706L440.5 705.9L440 704.3L439.5 705.2L439 703.5L438.5 703.6L438 704.9L437.5 703.4L437 704.4L436.5 704.5L436 705.2L435.5 705.2L435 706.1L434.5 704.7L434 704.4L433.5 703.7L433 701.9L432.5 702.5L432 703.2L431.5 704L431 702.6L430.5 704.6L430 703.3L429.5 704.1L429 704.4L428.5 703.4L428 703.5L427.5 703.5L427 703.6L426.5 702.8L426 704.7L425.5 705.5L425 704.1L424.5 704.4L424 705.3L423.5 706.4L423 705.5L422.5 706.2L422 706.5L421.5 706.3L421 705.1L420.5 707L420 706.7L419.5 706.6L419 705.6L418.5 708.3L418 707.3L417.5 707.1L417 705.9L416.5 708.8L416 705.5L415.5 705L415 704.7L414.5 705.3L414 704.6L413.5 704.8L413 703.9L412.5 703.5L412 704.8L411.5 705.4L411 706.1L410.5 706.7L410 706.1L409.5 706.4L409 703.7L408.5 703.8L408 706.5L407.5 705.6L407 706.5L406.5 706.6L406 703.7L405.5 703.7L405 704L404.5 704.8L404 706.6L403.5 707.8L403 708.6L402.5 707.9L402 707.6L401.5 706.2L401 706.3L400.5 705.1L400 701.7L399.5 704.2L399 703.7L398.5 704.2L398 704.8L397.5 706.8L397 707.6L396.5 707.4L396 706.6L395.5 705.5L395 704L394.5 704.1L394 703.4L393.5 703.4L393 703.3L392.5 703.5L392 704.4L391.5 706.5L391 704.3L390.5 703.9L390 705.2L389.5 702.6L389 703.5L388.5 704.4L388 702.4L387.5 703.5L387 704.8L386.5 705.9L386 704.3L385.5 704.4L385 704.7L384.5 704.6L384 704.2L383.5 702.7L383 706.2L382.5 703.6L382 705L381.5 704.3L381 704.9L380.5 702.6L380 703L379.5 703.6L379 702.6L378.5 704.5L378 703.1L377.5 703.9L377 703.4L376.5 703.7L376 704.5L375.5 703.2L375 704L374.5 703.2L374 703.6L373.5 704.5L373 705L372.5 705L372 705.7L371.5 704.4L371 703.5L370.5 702.3L370 703.6L369.5 703.9L369 704.1L368.5 705.1L368 706.3L367.5 706.5L367 707.5L366.5 705.3L366 705.7L365.5 707.5L365 706.7L364.5 706.9L364 707L363.5 705L363 705.6L362.5 703.9L362 703L361.5 705.1L361 704.6L360.5 703.3L360 705.4L359.5 706.1L359 706.7L358.5 707.4L358 705.7L357.5 704.7L357 706.8L356.5 705.1L356 706.1L355.5 706.8L355 707.8L354.5 705.4L354 706.1L353.5 705.9L353 704.8L352.5 705.1L352 704.1L351.5 703.3L351 705.5L350.5 705.3L350 705.2L349.5 705L349 705.8L348.5 708.1L348 706.8L347.5 706.8L347 706.5L346.5 707.1L346 704.5L345.5 706.7L345 705.3L344.5 702.7L344 704.2L343.5 706.8L343 704.5L342.5 704.4L342 703.5L341.5 704.1L341 703L340.5 704.5L340 705.2L339.5 707.3L339 706.1L338.5 704.3L338 703.8L337.5 703.8L337 702.5L336.5 702.6L336 703.5L335.5 706.1L335 704.3L334.5 706L334 705.8L333.5 706.5L333 704.8L332.5 705.5L332 703.4L331.5 702.7L331 702.2L330.5 701.6L330 701L329.5 701.3L329 701.9L328.5 701.4L328 704.6L327.5 704L327 702.9L326.5 705.2L326 704L325.5 704.9L325 704.7L324.5 703.8L324 704.5L323.5 703.3L323 703.7L322.5 704.5L322 706.6L321.5 705.4L321 704.9L320.5 704.6L320 704.6L319.5 704.8L319 704.2L318.5 703.8L318 703.6L317.5 704.1L317 704L316.5 704L316 704.9L315.5 704.8L315 705.9L314.5 705.7L314 704.6L313.5 703.4L313 703.3L312.5 703.1L312 703.1L311.5 701.6L311 704.3L310.5 704.7L310 704.7L309.5 703.5L309 705.1L308.5 704L308 702L307.5 703.1L307 704.5L306.5 703.7L306 703.4L305.5 705.4L305 705.6L304.5 703.6L304 702.5L303.5 703.3L303 702.5L302.5 701.8L302 704.1L301.5 704.4L301 706.5L300.5 706.3L300 704L299.5 705.7L299 704.9L298.5 704.8L298 704.5L297.5 705.9L297 705.3L296.5 704.8L296 706.4L295.5 706L295 703.5L294.5 704.5L294 702.7L293.5 702.2L293 699.9L292.5 699.7L292 699.4L291.5 703.1L291 703.9L290.5 705.9L290 705.7L289.5 706.4L289 706.2L288.5 707.7L288 706.7L287.5 705.4L287 706.5L286.5 704.8L286 706.6L285.5 705L285 706L284.5 703.9L284 705L283.5 704.4L283 705L282.5 705L282 707.6L281.5 705.8L281 706.4L280.5 706L280 706.8L279.5 704.8L279 705.9L278.5 705.2L278 703.2L277.5 701.4L277 703.3L276.5 703.4L276 701.8L275.5 702.4L275 702.6L274.5 700.2L274 700.9L273.5 702.5L273 704.6L272.5 704.3L272 706.9L271.5 704.8L271 703.8L270.5 703.1L270 704.2L269.5 701.6L269 704L268.5 705L268 706.3L267.5 704.5L267 704.8L266.5 706.1L266 704.6L265.5 703.9L265 704.6L264.5 706.9L264 703.6L263.5 703.4L263 704.1L262.5 704.5L262 703.5L261.5 704.8L261 704.1L260.5 703.1L260 703.3L259.5 705.8L259 708.2L258.5 709.5L258 708.8L257.5 706.7L257 707.8L256.5 708.5L256 707L255.5 708.8L255 709.4L254.5 709.1L254 707.7L253.5 704L253 704.9L252.5 702.5L252 702L251.5 703.3L251 706.8L250.5 706.4L250 704.2L249.5 703.5L249 705.5L248.5 705.5L248 704.8L247.5 707.5L247 707.4L246.5 706.7L246 705.9L245.5 705.8L245 705.9L244.5 706.4L244 707.3L243.5 706L243 706.7L242.5 706.3L242 704.6L241.5 704.3L241 704.8L240.5 705.2L240 707L239.5 704L239 703.4L238.5 705.5L238 703.3L237.5 704.6L237 705.3L236.5 705.2L236 703.4L235.5 703.7L235 704L234.5 705.3L234 703.3L233.5 704.3L233 703.5L232.5 704.2L232 701.9L231.5 705L231 703.6L230.5 702L230 704.2L229.5 704.7L229 705.6L228.5 706.8L228 707L227.5 704.9L227 705.6L226.5 704.6L226 703.4L225.5 704.3L225 705.9L224.5 706.9L224 704.9L223.5 705L223 703.7L222.5 703.5L222 702.4L221.5 703L221 703.3L220.5 702.9L220 702.4L219.5 702.4L219 703.9L218.5 702.8L218 702.5L217.5 703.3L217 704.8L216.5 705.4L216 704.4L215.5 705.8L215 704.9L214.5 703.3L214 703.1L213.5 706.2L213 703.8L212.5 705.1L212 704.9L211.5 704.4L211 703.4L210.5 705.2L210 705L209.5 705L209 705.2L208.5 706.5L208 706.4L207.5 706.6L207 707.6L206.5 706.2L206 705L205.5 707L205 706.1L204.5 706.9L204 706.3L203.5 705.1L203 704.6L202.5 703.6L202 703.8L201.5 704.8L201 706.4L200.5 705.9L200 707.9L199.5 706.7L199 706L198.5 704.8L198 705.8L197.5 705.4L197 704.5L196.5 703.8L196 704.4L195.5 704.1L195 704.9L194.5 705.6L194 704.9L193.5 704.6L193 704.6L192.5 705.8L192 705.8L191.5 707.1L191 705.6L190.5 707L190 706.3L189.5 707.1L189 705.7L188.5 704.3L188 704L187.5 704.9L187 706L186.5 705.3L186 705.5L185.5 706.9L185 705.1L184.5 706.3L184 705L183.5 704L183 704.1L182.5 704.4L182 704.3L181.5 703.7L181 705.4L180.5 703.3L180 703.2L179.5 704.5L179 704.3L178.5 704.7L178 702.8L177.5 703.8L177 705L176.5 705.9L176 705.9L175.5 705.8L175 706.1L174.5 703.9L174 705.9L173.5 704.5L173 703.8L172.5 704.7L172 705.8L171.5 705.4L171 705.9L170.5 704.9L170 704.2L169.5 703.1L169 705L168.5 703.7L168 702.8L167.5 704.3L167 704L166.5 704.3L166 703.2L165.5 702.7L165 703.1L164.5 702.1L164 702.8L163.5 702.9L163 704.6L162.5 704.6L162 707.1L161.5 706L161 706.1L160.5 705.5L160 705.6L159.5 705L159 704.7L158.5 704.5L158 704.3L157.5 705.3L157 704.1L156.5 705.5L156 703.4L155.5 703.8L155 704.7L154.5 703.7L154 705.3L153.5 705L153 702.7L152.5 702.5L152 703.2L151.5 702.8L151 703L150.5 704.4L150 705.8L149.5 705.7L149 704.6L148.5 703.2L148 703.1L147.5 703.6L147 704.4L146.5 704.6L146 704.8L145.5 704.8L145 703.1L144.5 704.3L144 703.6L143.5 704.7L143 704.1L142.5 703.5L142 704.2L141.5 704.3L141 704.4L140.5 703.8L140 705.4L139.5 704.1L139 704.5L138.5 705.3L138 705.9L137.5 705.9L137 706.7L136.5 705.8L136 706.5L135.5 705.9L135 705.3L134.5 704.3L134 703.6L133.5 704.7L133 703.9L132.5 703.4L132 703.9L131.5 703L131 704.1L130.5 704.6L130 703.7L129.5 703.8L129 704.4L128.5 704L128 704L127.5 703.8L127 704.8L126.5 704.8L126 705.3L125.5 706.5L125 705.6L124.5 704.1L124 703.8L123.5 703L123 704.9L122.5 705.6L122 704.3L121.5 705.6L121 703.9L120.5 704.1L120 703.7L119.5 704.5L119 704.4L118.5 704.8L118 705.4L117.5 704.3L117 704.6L116.5 703.8L116 703.4L115.5 705.1L115 703.4L114.5 704.4L114 703.9L113.5 702.9L113 703.9L112.5 703.8L112 703.9L111.5 704.1L111 704.3L110.5 704.6L110 704.8L109.5 704.2L109 703.2L108.5 704.6L108 704.9L107.5 705.6L107 705.3L106.5 706.1L106 704.5L105.5 706.4L105 705.3L104.5 705.5L104 703.8L103.5 704.5L103 703.9L102.5 703.9L102 705.5L101.5 704.4L101 703.5L100.5 704.4L100 704.8L99.5 703.6L99 705.4L98.5 704.2L98 703.2L97.5 703.9L97 704.9L96.5 704.5L96 703.7L95.5 703.3L95 703.6L94.5 704.2L94 703.5L93.5 704.6L93 705.3L92.5 705.2L92 704.6L91.5 704.6L91 702.5L90.5 702.4L90 703.5L89.5 704.7L89 703.9L88.5 704.6L88 705.7L87.5 705L87 704L86.5 705.2L86 703.3L85.5 705.2L85 704.7L84.5 704.6L84 704.6L83.5 704.2L83 704.8L82.5 704.5L82 704L81.5 704.1L81 704L80.5 705.3L80 705.7L79.5 704.1L79 704.7L78.5 705L78 705.7L77.5 704.8L77 703.6L76.5 705.1L76 706.1L75.5 705.5L75 703.9L74.5 704.7L74 704.3L73.5 704.5L73 704.8L72.5 705.4L72 705.6L71.5 706.1L71 704.2L70.5 705.6L70 704.1L69.5 702.8L69 703.8L68.5 703.8L68 705.2L67.5 704L67 703L66.5 702.6L66 703.1L65.5 703.5L65 703.5L64.5 703.6L64 704L63.5 702.9L63 703.9L62.5 705.5L62 705.6L61.5 704.4L61 705.5L60.5 704.2L60 703L59.5 702.7L59 704.1L58.5 703.9L58 703.6L57.5 704.4L57 705.5L56.5 705.3L56 704.9L55.5 703.4L55 704.1L54.5 705.2L54 704.4L53.5 705.2L53 704.2L52.5 703.3L52 704.8L51.5 704.6L51 704.4L50.5 703.3L50 703.8L49.5 703.8L49 704.4L48.5 703.4L48 703.6L47.5 704.8L47 705.1L46.5 705.6L46 705L45.5 704.7L45 704.2L44.5 706L44 704.8Z" fill="#0000ff" fill-opacity="0.95"/>
<path d="M91.6 691.5V731.7M96.5 701.7V727.5M104.8 695.4V715.2M106 695.4V715.2M104.2 698.5V708.4M106.6 698.5V708.4M114 701.7V721.3M119.9 701.7V713.5M121.1 701.7V713.5M119.3 701.7V707.6M121.7 701.7V707.6M129.3 701.7V712M147 695.1V723.1M148.2 695.1V723.1M146.4 698.4V712.4M148.8 698.4V712.4M150.3 701.7V718M152.8 701.7V720.6M156.7 701.7V731.2M158.2 676.7V786.7M157.6 691.7V707M158.8 691.7V707M157 696.7V704.3M159.4 696.7V704.3M163.4 701.7V720.6M175.5 686.8V727.5M180.9 701.7V725M184.4 701.7V724.3M187.3 701.7V720.6M196.5 685.3V727.5M199.9 701.7V723M204.9 687.3V718M207 701.7V719.3M209.3 701.7V719M215 701.7V734.2M217.9 688.5V739.6M222.4 701.7V733.7M224 692V701.7M225.2 692V701.7M223.4 696.8V701.7M225.8 696.8V701.7M228.8 678.6V701.7M229.4 701.7V709.7M230.6 701.7V709.7M228.8 701.7V705.7M231.2 701.7V705.7M236.7 684.8V751M251.6 694.2V711M252.8 694.2V711M251 697.9V706.3M253.4 697.9V706.3M258.7 677.4V787.2M258.1 692V709M259.3 692V709M257.5 696.8V705.3M259.9 696.8V705.3M268.8 688.5V725.5M278.6 677.4V781.5M292.2 681.6V701.7M312.7 684V723M321.3 701.7V718M326.3 686V734.7M336.2 689.7V701.7M402.5 701.7V719.3M404.6 688.3V711M405.8 688.3V711M404 695V706.3M406.4 695V706.3M405.2 688.3V707.4M406.4 688.3V707.4M404.6 695V704.5M407 695V704.5M410.4 701.7V733M413 701.7V730.5M416 678V802.5M415.4 692.2V707M416.6 692.2V707M414.8 696.9V704.3M417.2 696.9V704.3M419.5 683.6V733M422.5 681V732.2M426.5 695.1V721.8M427.7 695.1V721.8M425.9 698.4V711.7M428.3 698.4V711.7M430 688.5V701.7M432 688.5V701.7M438.2 701.7V710.7M446.9 701.7V733M448.1 701.7V743.3M450.6 701.7V721.8M455.5 701.7V723M459 684.3V748.5M467.4 701.7V734.2M469.8 701.7V731.7M474.7 692.2V725.8M475.9 692.2V725.8M474.1 696.9V713.7M476.5 696.9V713.7M483.2 701.7V729.2M485.1 701.7V720.6M488.3 701.7V734.7M495.5 701.7V725.5M497.5 701.7V725.5M500 683.6V737.9M502.4 701.7V726.8M505.6 677.4V806.5M505 692V727.4M506.2 692V727.4M504.4 696.8V714.5M506.8 696.8V714.5M509.6 661.9V701.7M512.3 673.2V723.5M541.7 689V719.8M550.5 688V715.7M557.8 693V726.5M559 693V726.5M557.2 697.3V714.1M559.6 697.3V714.1M575.2 701.7V713" stroke="#0000ff" stroke-opacity="0.42" stroke-width="0.95" fill="none"/>
<path d="M105.4 686V735.4M120.5 701.7V731.2M224.6 677.4V701.7M230 701.7V721.8M252.2 683V725M258.7 677.4V720M427.1 685.3V752M475.3 678V762M505.6 677.4V766M558.4 679.9V763.8" stroke="#0000ff" stroke-opacity="0.62" stroke-width="1.0" fill="none"/>
<path d="M147.6 685.3V755.1M158.2 676.7V715M405.2 668.3V725M405.8 668.3V716M416 678V715" stroke="#0000ff" stroke-opacity="0.9" stroke-width="1.1" fill="none"/>
<path d="M99.5 615.7V712" stroke="#0000ff" stroke-opacity="0.62" stroke-width="0.75" fill="none"/>
</g>
<rect x="43" y="613.8" width="603.1" height="1" fill="#bdbdbd"/>
<rect x="43" y="817.7" width="603.1" height="1" fill="#a4a4a4"/>
<rect x="43" y="614.3" width="1" height="203.9" fill="#bdbdbd"/>
<rect x="645.1" y="614.3" width="1" height="203.9" fill="#bdbdbd"/>
<text x="43.5" y="832.8" text-anchor="middle" font-size="12" >00:00</text>
<rect x="118.41" y="812.2" width="0.7" height="6" fill="#6a6a6a"/>
<rect x="118.41" y="614.3" width="0.7" height="6" fill="#6a6a6a"/>
<text x="118.76" y="832.8" text-anchor="middle" font-size="12" >03:00</text>
<rect x="193.68" y="812.2" width="0.7" height="6" fill="#6a6a6a"/>
<rect x="193.68" y="614.3" width="0.7" height="6" fill="#6a6a6a"/>
<text x="194.03" y="832.8" text-anchor="middle" font-size="12" >06:00</text>
<rect x="268.94" y="812.2" width="0.7" height="6" fill="#6a6a6a"/>
<rect x="268.94" y="614.3" width="0.7" height="6" fill="#6a6a6a"/>
<text x="269.29" y="832.8" text-anchor="middle" font-size="12" >09:00</text>
<rect x="344.2" y="812.2" width="0.7" height="6" fill="#6a6a6a"/>
<rect x="344.2" y="614.3" width="0.7" height="6" fill="#6a6a6a"/>
<text x="344.55" y="832.8" text-anchor="middle" font-size="12" >12:00</text>
<rect x="419.46" y="812.2" width="0.7" height="6" fill="#6a6a6a"/>
<rect x="419.46" y="614.3" width="0.7" height="6" fill="#6a6a6a"/>
<text x="419.81" y="832.8" text-anchor="middle" font-size="12" >15:00</text>
<rect x="494.73" y="812.2" width="0.7" height="6" fill="#6a6a6a"/>
<rect x="494.73" y="614.3" width="0.7" height="6" fill="#6a6a6a"/>
<text x="495.08" y="832.8" text-anchor="middle" font-size="12" >18:00</text>
<rect x="569.99" y="812.2" width="0.7" height="6" fill="#6a6a6a"/>
<rect x="569.99" y="614.3" width="0.7" height="6" fill="#6a6a6a"/>
<text x="570.34" y="832.8" text-anchor="middle" font-size="12" >21:00</text>
<text x="645.6" y="832.8" text-anchor="middle" font-size="12" >00:00</text>
<text x="38.9" y="618.5" text-anchor="end" font-size="12" >0.6</text>
<rect x="43.5" y="643.08" width="6" height="0.7" fill="#6a6a6a"/>
<rect x="639.6" y="643.08" width="6" height="0.7" fill="#6a6a6a"/>
<text x="38.9" y="647.63" text-anchor="end" font-size="12" >0.4</text>
<rect x="43.5" y="672.21" width="6" height="0.7" fill="#6a6a6a"/>
<rect x="639.6" y="672.21" width="6" height="0.7" fill="#6a6a6a"/>
<text x="38.9" y="676.76" text-anchor="end" font-size="12" >0.2</text>
<rect x="43.5" y="701.34" width="6" height="0.7" fill="#6a6a6a"/>
<rect x="639.6" y="701.34" width="6" height="0.7" fill="#6a6a6a"/>
<text x="38.9" y="705.89" text-anchor="end" font-size="12" >0</text>
<rect x="43.5" y="730.46" width="6" height="0.7" fill="#6a6a6a"/>
<rect x="639.6" y="730.46" width="6" height="0.7" fill="#6a6a6a"/>
<text x="38.9" y="735.01" text-anchor="end" font-size="12" >-0.2</text>
<rect x="43.5" y="759.59" width="6" height="0.7" fill="#6a6a6a"/>
<rect x="639.6" y="759.59" width="6" height="0.7" fill="#6a6a6a"/>
<text x="38.9" y="764.14" text-anchor="end" font-size="12" >-0.4</text>
<rect x="43.5" y="788.72" width="6" height="0.7" fill="#6a6a6a"/>
<rect x="639.6" y="788.72" width="6" height="0.7" fill="#6a6a6a"/>
<text x="38.9" y="793.27" text-anchor="end" font-size="12" >-0.6</text>
<text x="38.9" y="822.4" text-anchor="end" font-size="12" >-0.8</text>
<text transform="translate(9.4,716.45) rotate(-90)" text-anchor="middle" font-size="12.4" font-weight="bold">Z (nT)</text>
<rect x="836" y="613.8" width="604.1" height="204.9" fill="#00008f"/>
<g stroke-width="1" fill="none">
<path stroke="#00009f" d="M939.5 634v74M939.5 785v3M950.5 614v52M1025.5 762v2M1025.5 795v2M1026.5 763v33M1041.5 721v1M1041.5 794v2M1042.5 721v1M1042.5 794v2M1049.5 639v115M1049.5 792v16M1056.5 781v2M1057.5 782v2M1066.5 632v41M1069.5 780v23M1190.5 763v11M1191.5 746v1M1192.5 747v2M1193.5 786v12M1203.5 614v185M1212.5 800v9M1213.5 799v2M1244.5 673v33M1258.5 774v45M1259.5 628v1M1260.5 627v2M1261.5 723v48M1296.5 760v1M1296.5 811v1M1297.5 759v1M1340.5 628v63M1341.5 625v1M1342.5 626v3"/>
<path stroke="#0000af" d="M939.5 708v77M950.5 666v91M950.5 781v19M1025.5 764v31M1041.5 722v2M1041.5 792v2M1042.5 722v2M1042.5 792v2M1049.5 754v29M1049.5 785v7M1056.5 783v1M1057.5 784v8M1066.5 673v57M1068.5 614v22M1069.5 803v16M1190.5 774v7M1191.5 747v2M1192.5 749v2M1193.5 798v9M1212.5 809v10M1213.5 801v3M1259.5 629v2M1260.5 629v1M1261.5 771v24M1261.5 818v1M1296.5 761v50M1297.5 760v1M1297.5 811v1M1340.5 691v110M1341.5 626v1M1342.5 629v41"/>
<path stroke="#0000bf" d="M948.5 614v9M950.5 757v24M950.5 800v19M1041.5 724v45M1041.5 790v2M1042.5 724v45M1042.5 790v2M1049.5 783v2M1056.5 784v11M1057.5 792v22M1066.5 730v26M1068.5 636v21M1190.5 781v7M1191.5 749v1M1192.5 751v8M1193.5 807v6M1213.5 804v15M1259.5 631v8M1260.5 630v1M1261.5 795v23M1289.5 614v38M1291.5 614v38M1297.5 761v1M1297.5 810v1M1340.5 801v18M1341.5 627v1M1342.5 670v49"/>
<path stroke="#0000cf" d="M948.5 623v28M1041.5 769v21M1042.5 769v21M1047.5 614v14M1047.5 811v8M1056.5 795v17M1057.5 814v5M1066.5 756v15M1067.5 614v5M1068.5 657v9M1190.5 788v7M1191.5 750v2M1192.5 759v5M1193.5 813v6M1259.5 639v22M1260.5 631v6M1289.5 652v40M1291.5 652v40M1297.5 762v48M1341.5 628v1M1342.5 719v78"/>
<path stroke="#0000df" d="M948.5 651v21M1047.5 628v28M1047.5 803v8M1056.5 812v7M1066.5 771v9M1067.5 619v13M1068.5 666v21M1190.5 795v5M1191.5 752v5M1192.5 764v5M1259.5 661v22M1260.5 637v17M1289.5 692v47M1289.5 774v43M1291.5 692v47M1291.5 774v43M1341.5 629v7M1342.5 797v22"/>
<path stroke="#0000ef" d="M948.5 672v21M1047.5 656v24M1047.5 797v6M1048.5 817v2M1066.5 780v8M1067.5 632v13M1068.5 687v25M1190.5 800v4M1191.5 757v4M1192.5 769v4M1259.5 683v22M1260.5 654v18M1289.5 739v21M1289.5 766v8M1289.5 817v2M1291.5 739v21M1291.5 766v8M1291.5 817v2M1341.5 636v17"/>
<path stroke="#0000ff" d="M948.5 693v20M948.5 781v26M949.5 614v3M1047.5 680v22M1047.5 795v2M1048.5 614v12M1048.5 811v6M1066.5 788v9M1067.5 645v10M1068.5 712v25M1190.5 804v5M1191.5 761v4M1192.5 773v4M1259.5 705v13M1260.5 672v17M1289.5 760v6M1291.5 760v6M1341.5 653v18"/>
<path stroke="#0010ff" d="M948.5 713v68M948.5 807v12M949.5 617v13M1047.5 702v22M1047.5 792v3M1048.5 626v18M1048.5 806v5M1066.5 797v9M1067.5 655v5M1068.5 737v25M1190.5 809v4M1191.5 765v4M1192.5 777v4M1201.5 767v52M1259.5 718v7M1260.5 689v18M1341.5 671v18"/>
<path stroke="#0020ff" d="M949.5 630v13M1047.5 724v22M1047.5 790v2M1048.5 644v17M1048.5 801v5M1066.5 806v7M1067.5 660v4M1068.5 762v8M1190.5 813v4M1191.5 769v4M1192.5 781v4M1201.5 614v153M1259.5 725v7M1260.5 707v10M1341.5 689v18"/>
<path stroke="#0030ff" d="M949.5 643v13M1047.5 746v13M1047.5 787v3M1048.5 661v14M1048.5 798v3M1066.5 813v6M1067.5 664v4M1068.5 770v6M1190.5 817v2M1191.5 773v4M1192.5 785v5M1202.5 803v16M1259.5 732v6M1260.5 717v6M1341.5 707v25"/>
<path stroke="#0040ff" d="M949.5 656v9M1047.5 759v24M1047.5 785v2M1048.5 675v14M1048.5 796v2M1067.5 668v5M1068.5 776v7M1191.5 777v3M1192.5 790v4M1202.5 614v79M1202.5 725v78M1259.5 738v15M1260.5 723v5M1341.5 732v33"/>
<path stroke="#0050ff" d="M949.5 665v10M1047.5 783v2M1048.5 689v14M1048.5 794v2M1067.5 673v26M1068.5 783v9M1191.5 780v4M1192.5 794v4M1202.5 693v32M1259.5 753v13M1260.5 728v5M1290.5 614v1M1341.5 765v31"/>
<path stroke="#0060ff" d="M949.5 675v10M1048.5 703v14M1048.5 792v2M1067.5 699v32M1068.5 792v7M1191.5 784v4M1192.5 798v4M1259.5 766v13M1259.5 818v1M1260.5 733v5M1290.5 615v29M1341.5 796v16"/>
<path stroke="#0070ff" d="M949.5 685v10M1048.5 717v14M1048.5 791v1M1067.5 731v30M1068.5 799v8M1191.5 788v4M1192.5 802v4M1259.5 779v15M1259.5 814v4M1260.5 738v12M1290.5 644v29M1341.5 812v7"/>
<path stroke="#0080ff" d="M949.5 695v9M949.5 782v37M1048.5 731v13M1048.5 789v2M1067.5 761v9M1068.5 807v8M1191.5 792v5M1192.5 806v4M1259.5 794v14M1259.5 810v4M1260.5 750v17M1290.5 673v13"/>
<path stroke="#008fff" d="M949.5 704v10M949.5 771v11M1048.5 744v10M1048.5 787v2M1067.5 770v7M1068.5 815v4M1191.5 797v4M1192.5 810v4M1259.5 808v2M1260.5 767v14M1260.5 816v3M1290.5 686v3M1290.5 779v40"/>
<path stroke="#009fff" d="M949.5 714v57M1048.5 754v24M1048.5 785v2M1067.5 777v8M1191.5 801v4M1192.5 814v4M1260.5 781v15M1260.5 813v3M1290.5 689v3M1290.5 776v3"/>
<path stroke="#00afff" d="M1048.5 778v7M1067.5 785v10M1191.5 805v4M1192.5 818v1M1260.5 796v17M1290.5 692v4M1290.5 772v4"/>
<path stroke="#00bfff" d="M1067.5 795v10M1191.5 809v5M1290.5 696v3M1290.5 769v3"/>
<path stroke="#00cfff" d="M1067.5 805v10M1191.5 814v4M1290.5 699v54M1290.5 766v3"/>
<path stroke="#00dfff" d="M1067.5 815v4M1191.5 818v1M1290.5 753v13"/>
</g>
<rect x="911.54" y="812.2" width="0.7" height="6" fill="#000050"/>
<rect x="911.54" y="614.3" width="0.7" height="6" fill="#000050"/>
<rect x="986.92" y="812.2" width="0.7" height="6" fill="#000050"/>
<rect x="986.92" y="614.3" width="0.7" height="6" fill="#000050"/>
<rect x="1062.31" y="812.2" width="0.7" height="6" fill="#000050"/>
<rect x="1062.31" y="614.3" width="0.7" height="6" fill="#000050"/>
<rect x="1137.7" y="812.2" width="0.7" height="6" fill="#000050"/>
<rect x="1137.7" y="614.3" width="0.7" height="6" fill="#000050"/>
<rect x="1213.09" y="812.2" width="0.7" height="6" fill="#000050"/>
<rect x="1213.09" y="614.3" width="0.7" height="6" fill="#000050"/>
<rect x="1288.47" y="812.2" width="0.7" height="6" fill="#000050"/>
<rect x="1288.47" y="614.3" width="0.7" height="6" fill="#000050"/>
<rect x="1363.86" y="812.2" width="0.7" height="6" fill="#000050"/>
<rect x="1363.86" y="614.3" width="0.7" height="6" fill="#000050"/>
<text x="836.5" y="832.8" text-anchor="middle" font-size="12" >00:00</text>
<text x="911.89" y="832.8" text-anchor="middle" font-size="12" >03:00</text>
<text x="987.27" y="832.8" text-anchor="middle" font-size="12" >06:00</text>
<text x="1062.66" y="832.8" text-anchor="middle" font-size="12" >09:00</text>
<text x="1138.05" y="832.8" text-anchor="middle" font-size="12" >12:00</text>
<text x="1213.44" y="832.8" text-anchor="middle" font-size="12" >15:00</text>
<text x="1288.82" y="832.8" text-anchor="middle" font-size="12" >18:00</text>
<text x="1364.21" y="832.8" text-anchor="middle" font-size="12" >21:00</text>
<text x="1439.6" y="832.8" text-anchor="middle" font-size="12" >00:00</text>
<rect x="836.5" y="615.75" width="6" height="0.7" fill="#000050"/>
<rect x="1433.6" y="615.75" width="6" height="0.7" fill="#000050"/>
<text x="831.9" y="620.4" text-anchor="end" font-size="12" >22</text>
<rect x="836.5" y="632.35" width="6" height="0.7" fill="#000050"/>
<rect x="1433.6" y="632.35" width="6" height="0.7" fill="#000050"/>
<text x="831.9" y="637" text-anchor="end" font-size="12" >20</text>
<rect x="836.5" y="650.75" width="6" height="0.7" fill="#000050"/>
<rect x="1433.6" y="650.75" width="6" height="0.7" fill="#000050"/>
<text x="831.9" y="655.4" text-anchor="end" font-size="12" >18</text>
<rect x="836.5" y="671.25" width="6" height="0.7" fill="#000050"/>
<rect x="1433.6" y="671.25" width="6" height="0.7" fill="#000050"/>
<text x="831.9" y="675.9" text-anchor="end" font-size="12" >16</text>
<rect x="836.5" y="694.45" width="6" height="0.7" fill="#000050"/>
<rect x="1433.6" y="694.45" width="6" height="0.7" fill="#000050"/>
<text x="831.9" y="699.1" text-anchor="end" font-size="12" >14</text>
<rect x="836.5" y="721.35" width="6" height="0.7" fill="#000050"/>
<rect x="1433.6" y="721.35" width="6" height="0.7" fill="#000050"/>
<text x="831.9" y="726" text-anchor="end" font-size="12" >12</text>
<rect x="836.5" y="753.05" width="6" height="0.7" fill="#000050"/>
<rect x="1433.6" y="753.05" width="6" height="0.7" fill="#000050"/>
<text x="831.9" y="757.7" text-anchor="end" font-size="12" >10</text>
<rect x="836.5" y="771.45" width="6" height="0.7" fill="#000050"/>
<rect x="1433.6" y="771.45" width="6" height="0.7" fill="#000050"/>
<text x="831.9" y="776.1" text-anchor="end" font-size="12" >9</text>
<rect x="836.5" y="791.95" width="6" height="0.7" fill="#000050"/>
<rect x="1433.6" y="791.95" width="6" height="0.7" fill="#000050"/>
<text x="831.9" y="796.6" text-anchor="end" font-size="12" >8</text>
<rect x="836.5" y="815.25" width="6" height="0.7" fill="#000050"/>
<rect x="1433.6" y="815.25" width="6" height="0.7" fill="#000050"/>
<text x="831.9" y="819.9" text-anchor="end" font-size="12" >7</text>
<text transform="translate(810,716.25) rotate(-90)" text-anchor="middle" font-size="12.4" font-weight="bold">freq (mHz)</text>
<rect x="1458.5" y="614.3" width="24.9" height="203.9" fill="#800000"/>
<rect x="1458.5" y="617.49" width="24.9" height="200.71" fill="#8f0000"/>
<rect x="1458.5" y="620.67" width="24.9" height="197.53" fill="#9f0000"/>
<rect x="1458.5" y="623.86" width="24.9" height="194.34" fill="#af0000"/>
<rect x="1458.5" y="627.04" width="24.9" height="191.16" fill="#bf0000"/>
<rect x="1458.5" y="630.23" width="24.9" height="187.97" fill="#cf0000"/>
<rect x="1458.5" y="633.42" width="24.9" height="184.78" fill="#df0000"/>
<rect x="1458.5" y="636.6" width="24.9" height="181.6" fill="#ef0000"/>
<rect x="1458.5" y="639.79" width="24.9" height="178.41" fill="#ff0000"/>
<rect x="1458.5" y="642.97" width="24.9" height="175.23" fill="#ff1000"/>
<rect x="1458.5" y="646.16" width="24.9" height="172.04" fill="#ff2000"/>
<rect x="1458.5" y="649.35" width="24.9" height="168.85" fill="#ff3000"/>
<rect x="1458.5" y="652.53" width="24.9" height="165.67" fill="#ff4000"/>
<rect x="1458.5" y="655.72" width="24.9" height="162.48" fill="#ff5000"/>
<rect x="1458.5" y="658.9" width="24.9" height="159.3" fill="#ff6000"/>
<rect x="1458.5" y="662.09" width="24.9" height="156.11" fill="#ff7000"/>
<rect x="1458.5" y="665.27" width="24.9" height="152.93" fill="#ff8000"/>
<rect x="1458.5" y="668.46" width="24.9" height="149.74" fill="#ff8f00"/>
<rect x="1458.5" y="671.65" width="24.9" height="146.55" fill="#ff9f00"/>
<rect x="1458.5" y="674.83" width="24.9" height="143.37" fill="#ffaf00"/>
<rect x="1458.5" y="678.02" width="24.9" height="140.18" fill="#ffbf00"/>
<rect x="1458.5" y="681.2" width="24.9" height="137" fill="#ffcf00"/>
<rect x="1458.5" y="684.39" width="24.9" height="133.81" fill="#ffdf00"/>
<rect x="1458.5" y="687.58" width="24.9" height="130.62" fill="#ffef00"/>
<rect x="1458.5" y="690.76" width="24.9" height="127.44" fill="#ffff00"/>
<rect x="1458.5" y="693.95" width="24.9" height="124.25" fill="#efff10"/>
<rect x="1458.5" y="697.13" width="24.9" height="121.07" fill="#dfff20"/>
<rect x="1458.5" y="700.32" width="24.9" height="117.88" fill="#cfff30"/>
<rect x="1458.5" y="703.51" width="24.9" height="114.69" fill="#bfff40"/>
<rect x="1458.5" y="706.69" width="24.9" height="111.51" fill="#afff50"/>
<rect x="1458.5" y="709.88" width="24.9" height="108.32" fill="#9fff60"/>
<rect x="1458.5" y="713.06" width="24.9" height="105.14" fill="#8fff70"/>
<rect x="1458.5" y="716.25" width="24.9" height="101.95" fill="#80ff80"/>
<rect x="1458.5" y="719.44" width="24.9" height="98.76" fill="#70ff8f"/>
<rect x="1458.5" y="722.62" width="24.9" height="95.58" fill="#60ff9f"/>
<rect x="1458.5" y="725.81" width="24.9" height="92.39" fill="#50ffaf"/>
<rect x="1458.5" y="728.99" width="24.9" height="89.21" fill="#40ffbf"/>
<rect x="1458.5" y="732.18" width="24.9" height="86.02" fill="#30ffcf"/>
<rect x="1458.5" y="735.37" width="24.9" height="82.83" fill="#20ffdf"/>
<rect x="1458.5" y="738.55" width="24.9" height="79.65" fill="#10ffef"/>
<rect x="1458.5" y="741.74" width="24.9" height="76.46" fill="#00ffff"/>
<rect x="1458.5" y="744.92" width="24.9" height="73.28" fill="#00efff"/>
<rect x="1458.5" y="748.11" width="24.9" height="70.09" fill="#00dfff"/>
<rect x="1458.5" y="751.3" width="24.9" height="66.9" fill="#00cfff"/>
<rect x="1458.5" y="754.48" width="24.9" height="63.72" fill="#00bfff"/>
<rect x="1458.5" y="757.67" width="24.9" height="60.53" fill="#00afff"/>
<rect x="1458.5" y="760.85" width="24.9" height="57.35" fill="#009fff"/>
<rect x="1458.5" y="764.04" width="24.9" height="54.16" fill="#008fff"/>
<rect x="1458.5" y="767.23" width="24.9" height="50.98" fill="#0080ff"/>
<rect x="1458.5" y="770.41" width="24.9" height="47.79" fill="#0070ff"/>
<rect x="1458.5" y="773.6" width="24.9" height="44.6" fill="#0060ff"/>
<rect x="1458.5" y="776.78" width="24.9" height="41.42" fill="#0050ff"/>
<rect x="1458.5" y="779.97" width="24.9" height="38.23" fill="#0040ff"/>
<rect x="1458.5" y="783.15" width="24.9" height="35.05" fill="#0030ff"/>
<rect x="1458.5" y="786.34" width="24.9" height="31.86" fill="#0020ff"/>
<rect x="1458.5" y="789.53" width="24.9" height="28.67" fill="#0010ff"/>
<rect x="1458.5" y="792.71" width="24.9" height="25.49" fill="#0000ff"/>
<rect x="1458.5" y="795.9" width="24.9" height="22.3" fill="#0000ef"/>
<rect x="1458.5" y="799.08" width="24.9" height="19.12" fill="#0000df"/>
<rect x="1458.5" y="802.27" width="24.9" height="15.93" fill="#0000cf"/>
<rect x="1458.5" y="805.46" width="24.9" height="12.74" fill="#0000bf"/>
<rect x="1458.5" y="808.64" width="24.9" height="9.56" fill="#0000af"/>
<rect x="1458.5" y="811.83" width="24.9" height="6.37" fill="#00009f"/>
<rect x="1458.5" y="815.01" width="24.9" height="3.19" fill="#00008f"/>
<rect x="1458.5" y="614.05" width="24.9" height="0.5" fill="#555"/>
<rect x="1458.5" y="817.95" width="24.9" height="0.5" fill="#555"/>
<rect x="1458.25" y="614.3" width="0.5" height="203.9" fill="#555"/>
<rect x="1483.15" y="614.3" width="0.5" height="203.9" fill="#555"/>
<text x="1486.6" y="822.5" text-anchor="start" font-size="12" >-2</text>
<rect x="1458.5" y="783.92" width="2.5" height="0.6" fill="#222"/>
<rect x="1480.9" y="783.92" width="2.5" height="0.6" fill="#222"/>
<text x="1486.6" y="788.52" text-anchor="start" font-size="12" >-1</text>
<rect x="1458.5" y="749.93" width="2.5" height="0.6" fill="#222"/>
<rect x="1480.9" y="749.93" width="2.5" height="0.6" fill="#222"/>
<text x="1486.6" y="754.53" text-anchor="start" font-size="12" >0</text>
<rect x="1458.5" y="715.95" width="2.5" height="0.6" fill="#222"/>
<rect x="1480.9" y="715.95" width="2.5" height="0.6" fill="#222"/>
<text x="1486.6" y="720.55" text-anchor="start" font-size="12" >1</text>
<rect x="1458.5" y="681.97" width="2.5" height="0.6" fill="#222"/>
<rect x="1480.9" y="681.97" width="2.5" height="0.6" fill="#222"/>
<text x="1486.6" y="686.57" text-anchor="start" font-size="12" >2</text>
<rect x="1458.5" y="647.98" width="2.5" height="0.6" fill="#222"/>
<rect x="1480.9" y="647.98" width="2.5" height="0.6" fill="#222"/>
<text x="1486.6" y="652.58" text-anchor="start" font-size="12" >3</text>
<text x="1486.6" y="618.6" text-anchor="start" font-size="12" >4</text>
<text transform="translate(1518.8,716.55) rotate(-90)" text-anchor="middle" font-size="12.4" font-weight="bold">log<tspan font-size="10.3" dy="6">2</tspan><tspan dy="-6">(nT</tspan><tspan font-size="10.3" dy="-5.7">2</tspan><tspan dy="5.7">/Hz)</tspan></text>
<text x="344.2" y="847.8" text-anchor="middle" font-size="12.4" font-weight="bold" >UT (hours)</text>
<text x="1137.8" y="847.8" text-anchor="middle" font-size="12.4" font-weight="bold" >UT (hours)</text>
</svg>
</body></html>
